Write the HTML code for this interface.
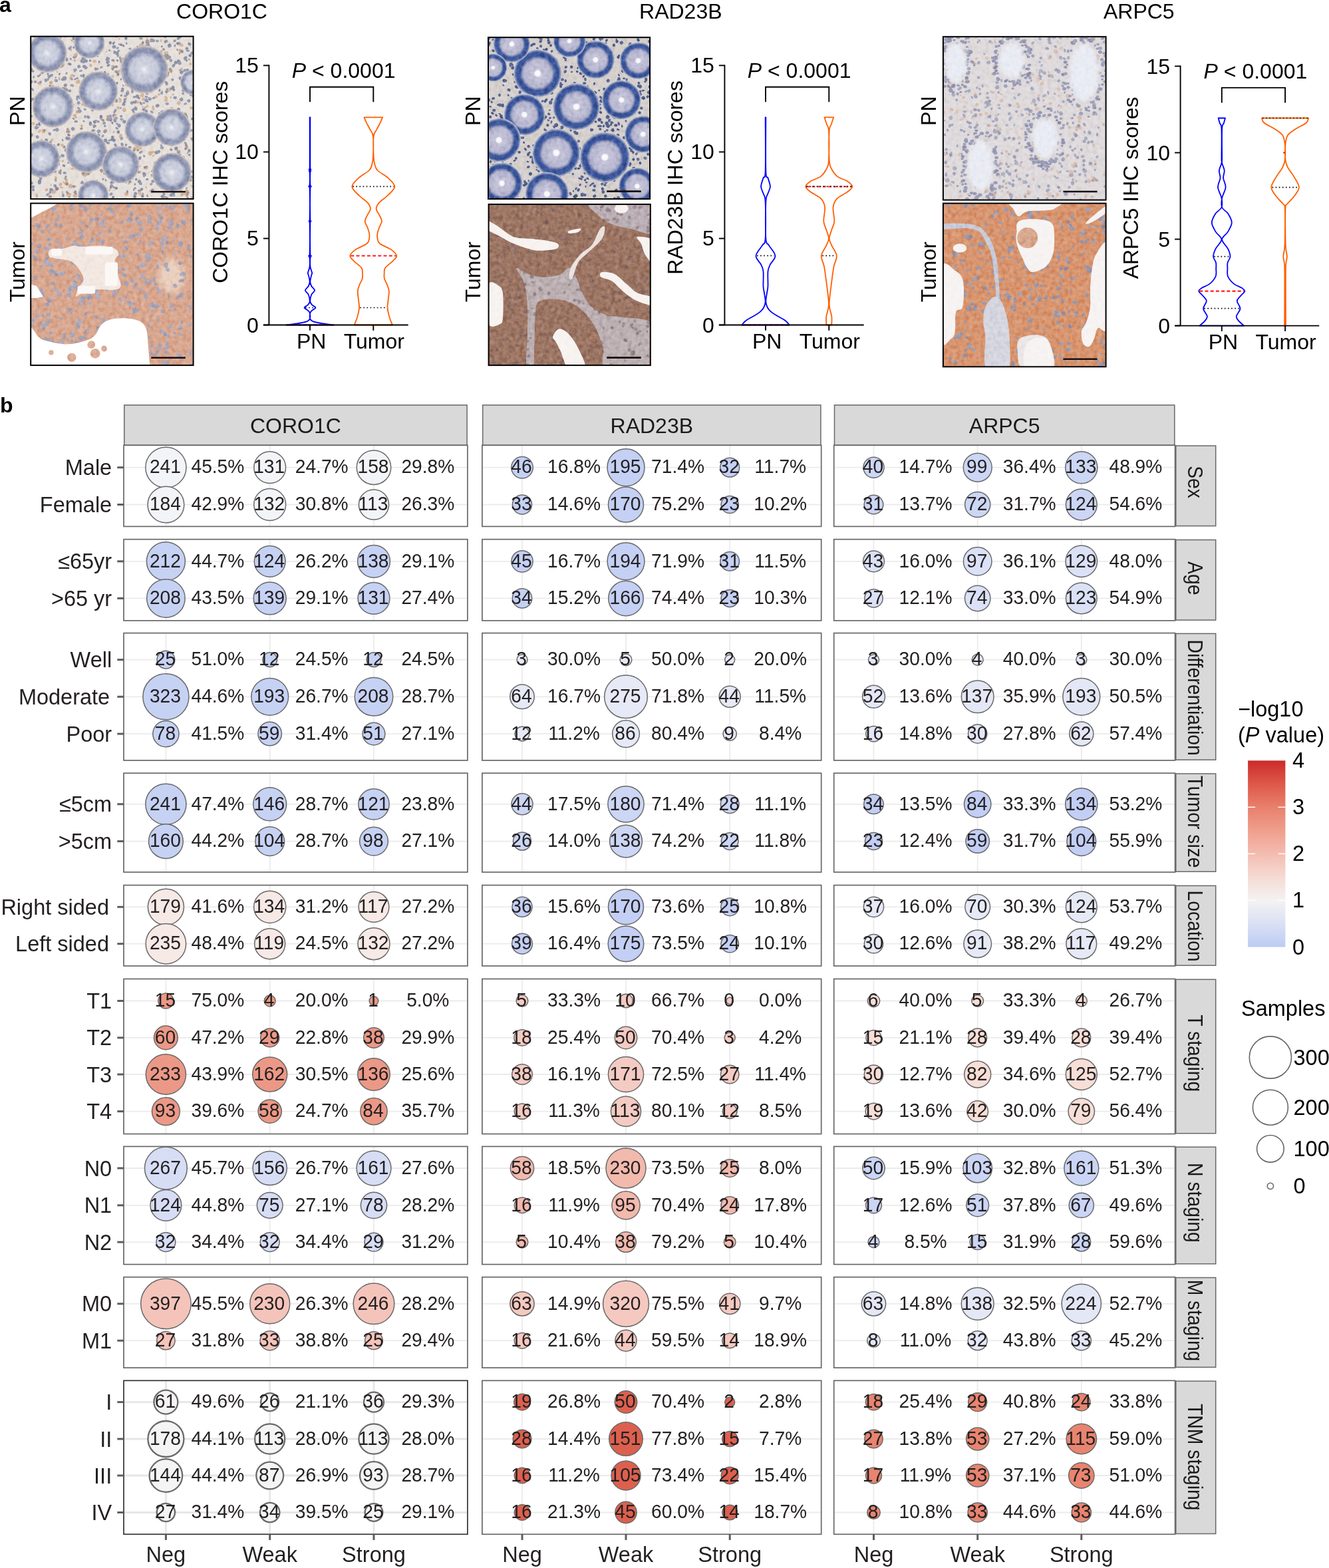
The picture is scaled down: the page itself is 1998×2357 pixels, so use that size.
<!DOCTYPE html>
<html><head><meta charset="utf-8"><title>Figure</title><style>html,body{margin:0;padding:0;background:#fff;}svg{display:block;}text{font-family:'Liberation Sans', Arial, Helvetica, sans-serif;}</style></head><body>
<svg width="1998" height="2357" viewBox="0 0 1998 2357" font-family="'Liberation Sans', Arial, Helvetica, sans-serif">
<text x="-1" y="17.6" font-size="32" font-weight="bold" fill="#000">a</text>
<text x="0" y="620" font-size="32" font-weight="bold" fill="#000">b</text>
<text x="333.5" y="27.8" font-size="32" text-anchor="middle" fill="#000">CORO1C</text>
<text x="1023.3" y="27.8" font-size="32" text-anchor="middle" fill="#000">RAD23B</text>
<text x="1712.3" y="27.8" font-size="32" text-anchor="middle" fill="#000">ARPC5</text>
<text transform="translate(36.7,166.7) rotate(-90)" font-size="32" text-anchor="middle" fill="#000">PN</text>
<text transform="translate(36.7,408.7) rotate(-90)" font-size="32" text-anchor="middle" fill="#000">Tumor</text>
<text transform="translate(721.9,166.7) rotate(-90)" font-size="32" text-anchor="middle" fill="#000">PN</text>
<text transform="translate(721.9,408.7) rotate(-90)" font-size="32" text-anchor="middle" fill="#000">Tumor</text>
<text transform="translate(1407,166.7) rotate(-90)" font-size="32" text-anchor="middle" fill="#000">PN</text>
<text transform="translate(1407,408.7) rotate(-90)" font-size="32" text-anchor="middle" fill="#000">Tumor</text>
<defs><filter id="tex" x="0" y="0" width="100%" height="100%" color-interpolation-filters="sRGB"><feTurbulence type="fractalNoise" baseFrequency="0.16" numOctaves="3" seed="5"/><feColorMatrix type="matrix" values="0.33 0.33 0.33 0 0  0.33 0.33 0.33 0 0  0.33 0.33 0.33 0 0  0 0 0 0 1"/><feComponentTransfer><feFuncR type="linear" slope="3" intercept="-1"/><feFuncG type="linear" slope="3" intercept="-1"/><feFuncB type="linear" slope="3" intercept="-1"/></feComponentTransfer></filter><filter id="blur2"><feGaussianBlur stdDeviation="2.5"/></filter><filter id="blur4"><feGaussianBlur stdDeviation="5"/></filter><radialGradient id="cg1" cx="0.5" cy="0.5" r="0.5"><stop offset="0" stop-color="#f2f3f6"/><stop offset="0.08" stop-color="#e2e4eb"/><stop offset="0.2" stop-color="#d0d3e0"/><stop offset="0.55" stop-color="#c6cad9"/><stop offset="0.66" stop-color="#a7adc4"/><stop offset="0.74" stop-color="#8d95b3"/><stop offset="0.88" stop-color="#8f97b3"/><stop offset="0.95" stop-color="#b8b5bd"/><stop offset="1" stop-color="#d8cbc0"/></radialGradient><radialGradient id="cg2" cx="0.5" cy="0.5" r="0.5"><stop offset="0" stop-color="#ffffff"/><stop offset="0.12" stop-color="#f2f2f7"/><stop offset="0.16" stop-color="#c6c5da"/><stop offset="0.58" stop-color="#b6b6cf"/><stop offset="0.66" stop-color="#7c87b6"/><stop offset="0.72" stop-color="#3f5a9c"/><stop offset="0.87" stop-color="#38539a"/><stop offset="0.94" stop-color="#8190b8"/><stop offset="1" stop-color="#dcd8d5"/></radialGradient></defs>
<clipPath id="clipp1"><rect x="46.2" y="54.7" width="244.4" height="244.4"/></clipPath>
<g clip-path="url(#clipp1)">
<rect x="46.2" y="54.7" width="244.4" height="244.4" fill="#e6e0db"/>
<path d="M125.1 94.1A2.5 1.5 96 1 0 125.6 89.1A2.5 1.5 96 1 0 125.1 94.1ZM136.1 71.1A2.3 1.3 78 1 0 135.1 66.6A2.3 1.3 78 1 0 136.1 71.1ZM65.3 77.7A2.2 1.9 22 1 0 61.2 76.0A2.2 1.9 22 1 0 65.3 77.7ZM101.7 210.8A2.9 2.3 71 1 0 99.8 205.3A2.9 2.3 71 1 0 101.7 210.8ZM287.3 67.3A2.8 1.9 25 1 0 282.3 64.9A2.8 1.9 25 1 0 287.3 67.3ZM74.3 132.7A2.7 1.7 104 1 0 75.7 127.4A2.7 1.7 104 1 0 74.3 132.7ZM204.7 146.2A2.4 1.4 10 1 0 200.0 145.3A2.4 1.4 10 1 0 204.7 146.2ZM96.0 223.1A2.2 1.5 105 1 0 97.1 218.9A2.2 1.5 105 1 0 96.0 223.1ZM158.9 129.8A2.7 2.2 43 1 0 155.0 126.1A2.7 2.2 43 1 0 158.9 129.8ZM188.3 185.3A2.8 2.4 51 1 0 184.8 180.8A2.8 2.4 51 1 0 188.3 185.3ZM287.7 84.6A2.2 1.9 27 1 0 283.8 82.6A2.2 1.9 27 1 0 287.7 84.6ZM165.1 66.8A2.5 2.2 103 1 0 166.3 61.8A2.5 2.2 103 1 0 165.1 66.8ZM259.5 133.9A2.6 2.0 104 1 0 260.8 128.9A2.6 2.0 104 1 0 259.5 133.9ZM156.3 262.5A2.9 2.2 119 1 0 159.1 257.4A2.9 2.2 119 1 0 156.3 262.5ZM58.9 227.5A2.5 2.4 147 1 0 63.2 224.8A2.5 2.4 147 1 0 58.9 227.5ZM116.1 151.5A2.5 1.4 83 1 0 115.5 146.5A2.5 1.4 83 1 0 116.1 151.5ZM88.8 84.0A1.7 1.4 23 1 0 85.7 82.7A1.7 1.4 23 1 0 88.8 84.0ZM107.2 153.0A2.8 1.6 80 1 0 106.3 147.5A2.8 1.6 80 1 0 107.2 153.0ZM182.2 272.7A2.7 2.5 50 1 0 178.7 268.5A2.7 2.5 50 1 0 182.2 272.7ZM150.2 143.7A2.8 2.6 27 1 0 145.2 141.1A2.8 2.6 27 1 0 150.2 143.7ZM88.7 113.2A1.9 1.4 106 1 0 89.8 109.5A1.9 1.4 106 1 0 88.7 113.2ZM110.0 57.8A2.2 1.5 101 1 0 110.9 53.6A2.2 1.5 101 1 0 110.0 57.8ZM277.9 225.4A2.3 1.9 121 1 0 280.4 221.5A2.3 1.9 121 1 0 277.9 225.4ZM57.2 276.1A2.7 2.4 143 1 0 61.6 272.9A2.7 2.4 143 1 0 57.2 276.1ZM143.8 152.5A1.7 1.4 11 1 0 140.4 151.9A1.7 1.4 11 1 0 143.8 152.5ZM64.5 106.0A1.8 1.3 9 1 0 60.9 105.4A1.8 1.3 9 1 0 64.5 106.0ZM48.0 91.8A1.7 1.2 4 1 0 44.5 91.5A1.7 1.2 4 1 0 48.0 91.8ZM260.7 206.4A1.8 1.2 62 1 0 259.1 203.2A1.8 1.2 62 1 0 260.7 206.4ZM135.5 87.5A2.8 2.6 83 1 0 134.9 82.0A2.8 2.6 83 1 0 135.5 87.5ZM165.6 77.0A1.7 1.2 47 1 0 163.3 74.4A1.7 1.2 47 1 0 165.6 77.0ZM248.6 95.8A1.6 1.5 95 1 0 248.9 92.5A1.6 1.5 95 1 0 248.6 95.8ZM80.4 187.6A1.6 1.2 176 1 0 83.7 187.3A1.6 1.2 176 1 0 80.4 187.6ZM258.9 225.8A2.0 1.4 30 1 0 255.5 223.9A2.0 1.4 30 1 0 258.9 225.8ZM236.9 186.6A2.7 1.8 40 1 0 232.8 183.1A2.7 1.8 40 1 0 236.9 186.6ZM242.2 296.9A2.8 2.4 147 1 0 246.9 293.9A2.8 2.4 147 1 0 242.2 296.9ZM229.3 110.3A2.3 1.6 5 1 0 224.7 109.9A2.3 1.6 5 1 0 229.3 110.3ZM51.1 123.3A2.0 1.6 172 1 0 55.0 122.7A2.0 1.6 172 1 0 51.1 123.3ZM156.7 286.4A3.0 2.8 65 1 0 154.3 281.0A3.0 2.8 65 1 0 156.7 286.4ZM99.4 111.9A1.9 1.2 112 1 0 100.8 108.4A1.9 1.2 112 1 0 99.4 111.9ZM264.4 261.4A2.3 1.8 143 1 0 268.1 258.8A2.3 1.8 143 1 0 264.4 261.4ZM64.9 218.2A2.9 2.5 135 1 0 69.0 214.1A2.9 2.5 135 1 0 64.9 218.2ZM160.8 99.9A2.7 1.8 144 1 0 165.2 96.7A2.7 1.8 144 1 0 160.8 99.9ZM282.3 153.1A2.2 2.0 130 1 0 285.1 149.8A2.2 2.0 130 1 0 282.3 153.1ZM86.3 86.8A1.8 1.7 145 1 0 89.2 84.7A1.8 1.7 145 1 0 86.3 86.8ZM83.3 259.3A3.0 2.4 63 1 0 80.6 254.0A3.0 2.4 63 1 0 83.3 259.3ZM179.6 88.2A1.6 1.5 116 1 0 181.0 85.3A1.6 1.5 116 1 0 179.6 88.2ZM173.0 284.0A2.2 2.0 148 1 0 176.8 281.7A2.2 2.0 148 1 0 173.0 284.0ZM97.2 118.2A2.0 1.3 105 1 0 98.3 114.3A2.0 1.3 105 1 0 97.2 118.2ZM110.4 158.7A1.8 1.6 63 1 0 108.8 155.5A1.8 1.6 63 1 0 110.4 158.7ZM155.4 198.0A2.9 2.1 165 1 0 160.9 196.5A2.9 2.1 165 1 0 155.4 198.0ZM169.2 187.0A2.3 1.3 79 1 0 168.4 182.4A2.3 1.3 79 1 0 169.2 187.0ZM91.2 58.4A2.7 1.7 85 1 0 90.7 53.0A2.7 1.7 85 1 0 91.2 58.4ZM223.1 192.7A2.1 1.6 99 1 0 223.8 188.7A2.1 1.6 99 1 0 223.1 192.7ZM239.4 82.5A2.4 1.5 49 1 0 236.3 78.8A2.4 1.5 49 1 0 239.4 82.5ZM232.6 179.4A2.4 2.0 164 1 0 237.2 178.1A2.4 2.0 164 1 0 232.6 179.4ZM153.2 206.3A2.3 1.7 124 1 0 155.8 202.5A2.3 1.7 124 1 0 153.2 206.3ZM155.4 186.9A2.3 2.1 125 1 0 158.1 183.2A2.3 2.1 125 1 0 155.4 186.9ZM258.5 285.3A2.0 1.5 169 1 0 262.4 284.6A2.0 1.5 169 1 0 258.5 285.3ZM253.2 88.6A1.8 1.3 13 1 0 249.8 87.8A1.8 1.3 13 1 0 253.2 88.6ZM102.6 73.4A2.5 2.2 161 1 0 107.4 71.8A2.5 2.2 161 1 0 102.6 73.4ZM81.6 230.6A2.5 1.5 158 1 0 86.3 228.8A2.5 1.5 158 1 0 81.6 230.6ZM282.8 111.3A2.9 2.1 87 1 0 282.6 105.4A2.9 2.1 87 1 0 282.8 111.3ZM288.0 260.0A1.8 1.3 92 1 0 288.2 256.3A1.8 1.3 92 1 0 288.0 260.0ZM131.1 102.7A2.0 1.7 3 1 0 127.0 102.4A2.0 1.7 3 1 0 131.1 102.7ZM181.0 163.9A1.6 1.1 112 1 0 182.2 160.8A1.6 1.1 112 1 0 181.0 163.9ZM168.4 70.7A3.0 2.6 174 1 0 174.4 70.1A3.0 2.6 174 1 0 168.4 70.7ZM72.9 120.8A1.7 1.4 48 1 0 70.7 118.4A1.7 1.4 48 1 0 72.9 120.8ZM79.8 160.0A2.9 2.5 46 1 0 75.9 155.8A2.9 2.5 46 1 0 79.8 160.0ZM85.0 280.0A2.4 2.0 16 1 0 80.4 278.7A2.4 2.0 16 1 0 85.0 280.0ZM58.1 223.3A2.2 1.3 168 1 0 62.4 222.5A2.2 1.3 168 1 0 58.1 223.3ZM202.9 251.0A1.7 1.5 11 1 0 199.6 250.3A1.7 1.5 11 1 0 202.9 251.0ZM255.0 166.1A2.1 1.6 166 1 0 259.1 165.1A2.1 1.6 166 1 0 255.0 166.1ZM113.9 87.1A2.3 1.5 19 1 0 109.5 85.5A2.3 1.5 19 1 0 113.9 87.1ZM86.7 68.6A1.9 1.3 54 1 0 84.6 65.5A1.9 1.3 54 1 0 86.7 68.6ZM232.9 127.6A2.3 1.4 62 1 0 230.8 123.5A2.3 1.4 62 1 0 232.9 127.6ZM50.4 117.5A1.6 1.4 99 1 0 50.9 114.3A1.6 1.4 99 1 0 50.4 117.5ZM90.1 172.3A2.9 1.7 147 1 0 95.0 169.2A2.9 1.7 147 1 0 90.1 172.3ZM151.8 178.4A2.8 2.0 91 1 0 151.9 172.9A2.8 2.0 91 1 0 151.8 178.4ZM213.0 296.5A2.1 1.8 127 1 0 215.5 293.2A2.1 1.8 127 1 0 213.0 296.5ZM203.5 154.4A2.1 1.2 23 1 0 199.7 152.8A2.1 1.2 23 1 0 203.5 154.4ZM65.4 236.3A2.0 1.2 15 1 0 61.6 235.3A2.0 1.2 15 1 0 65.4 236.3ZM253.6 269.2A2.5 1.7 43 1 0 250.0 265.7A2.5 1.7 43 1 0 253.6 269.2ZM119.1 168.3A1.8 1.3 47 1 0 116.6 165.7A1.8 1.3 47 1 0 119.1 168.3ZM278.9 292.7A2.4 1.5 173 1 0 283.6 292.2A2.4 1.5 173 1 0 278.9 292.7ZM122.0 143.4A1.6 1.1 85 1 0 121.7 140.3A1.6 1.1 85 1 0 122.0 143.4ZM170.6 105.5A2.3 1.3 47 1 0 167.5 102.1A2.3 1.3 47 1 0 170.6 105.5ZM69.1 153.7A1.7 0.9 54 1 0 67.2 151.0A1.7 0.9 54 1 0 69.1 153.7ZM102.0 199.9A2.3 2.0 118 1 0 104.2 195.8A2.3 2.0 118 1 0 102.0 199.9ZM219.0 269.7A2.1 1.5 177 1 0 223.3 269.4A2.1 1.5 177 1 0 219.0 269.7ZM80.6 232.9A2.5 1.4 150 1 0 84.9 230.4A2.5 1.4 150 1 0 80.6 232.9ZM266.6 209.1A2.6 2.3 25 1 0 261.8 206.9A2.6 2.3 25 1 0 266.6 209.1ZM171.8 179.4A2.8 2.4 148 1 0 176.6 176.5A2.8 2.4 148 1 0 171.8 179.4ZM190.9 274.6A2.6 2.1 41 1 0 187.0 271.2A2.6 2.1 41 1 0 190.9 274.6ZM52.0 88.3A2.1 1.2 150 1 0 55.6 86.2A2.1 1.2 150 1 0 52.0 88.3ZM182.8 210.6A2.5 2.0 88 1 0 182.6 205.7A2.5 2.0 88 1 0 182.8 210.6ZM46.7 252.3A2.6 2.0 96 1 0 47.3 247.0A2.6 2.0 96 1 0 46.7 252.3ZM209.9 71.5A2.6 1.7 13 1 0 204.8 70.2A2.6 1.7 13 1 0 209.9 71.5ZM109.2 233.1A1.9 1.6 175 1 0 113.0 232.8A1.9 1.6 175 1 0 109.2 233.1ZM165.2 149.7A2.3 1.9 138 1 0 168.6 146.7A2.3 1.9 138 1 0 165.2 149.7ZM198.2 213.0A1.7 1.0 45 1 0 195.8 210.6A1.7 1.0 45 1 0 198.2 213.0ZM230.2 129.6A2.4 1.3 10 1 0 225.5 128.6A2.4 1.3 10 1 0 230.2 129.6ZM113.5 221.0A2.6 2.1 52 1 0 110.3 216.9A2.6 2.1 52 1 0 113.5 221.0ZM170.3 169.0A2.3 1.3 160 1 0 174.6 167.5A2.3 1.3 160 1 0 170.3 169.0ZM95.3 296.6A2.9 1.6 82 1 0 94.5 290.9A2.9 1.6 82 1 0 95.3 296.6ZM248.3 292.7A2.2 1.5 37 1 0 244.8 289.9A2.2 1.5 37 1 0 248.3 292.7ZM277.1 108.6A2.4 1.5 94 1 0 277.5 103.8A2.4 1.5 94 1 0 277.1 108.6ZM276.5 88.1A2.7 2.1 159 1 0 281.6 86.2A2.7 2.1 159 1 0 276.5 88.1ZM220.9 111.5A2.9 2.1 4 1 0 215.2 111.0A2.9 2.1 4 1 0 220.9 111.5ZM49.1 175.8A2.2 1.5 25 1 0 45.1 173.9A2.2 1.5 25 1 0 49.1 175.8ZM128.3 133.9A2.8 1.5 135 1 0 132.2 130.0A2.8 1.5 135 1 0 128.3 133.9ZM248.5 84.9A2.9 2.4 162 1 0 254.0 83.2A2.9 2.4 162 1 0 248.5 84.9ZM116.4 147.7A2.2 2.0 106 1 0 117.6 143.6A2.2 2.0 106 1 0 116.4 147.7ZM136.2 159.9A2.0 1.1 18 1 0 132.5 158.7A2.0 1.1 18 1 0 136.2 159.9ZM252.1 126.7A2.9 1.9 47 1 0 248.2 122.3A2.9 1.9 47 1 0 252.1 126.7ZM169.1 101.9A2.1 2.0 159 1 0 173.1 100.3A2.1 2.0 159 1 0 169.1 101.9ZM244.2 211.7A2.9 2.7 98 1 0 245.1 206.0A2.9 2.7 98 1 0 244.2 211.7ZM220.2 68.6A2.6 1.9 135 1 0 223.9 65.0A2.6 1.9 135 1 0 220.2 68.6ZM205.3 125.3A1.7 1.5 22 1 0 202.2 124.0A1.7 1.5 22 1 0 205.3 125.3ZM159.6 138.8A2.0 1.7 175 1 0 163.6 138.5A2.0 1.7 175 1 0 159.6 138.8ZM110.4 216.9A2.0 1.6 70 1 0 109.1 213.1A2.0 1.6 70 1 0 110.4 216.9ZM87.1 96.1A1.9 1.7 89 1 0 87.1 92.3A1.9 1.7 89 1 0 87.1 96.1ZM102.7 277.5A3.0 2.2 25 1 0 97.3 274.9A3.0 2.2 25 1 0 102.7 277.5ZM94.7 78.3A2.1 1.2 43 1 0 91.7 75.5A2.1 1.2 43 1 0 94.7 78.3ZM110.1 196.7A2.8 2.4 74 1 0 108.6 191.2A2.8 2.4 74 1 0 110.1 196.7ZM149.4 183.2A2.1 1.5 11 1 0 145.3 182.4A2.1 1.5 11 1 0 149.4 183.2ZM113.3 292.8A1.8 1.3 113 1 0 114.7 289.6A1.8 1.3 113 1 0 113.3 292.8ZM257.7 109.4A2.0 1.3 71 1 0 256.5 105.6A2.0 1.3 71 1 0 257.7 109.4ZM157.9 288.0A2.8 2.5 3 1 0 152.4 287.7A2.8 2.5 3 1 0 157.9 288.0ZM53.3 230.9A2.9 2.1 105 1 0 54.9 225.4A2.9 2.1 105 1 0 53.3 230.9ZM43.6 151.7A2.9 2.6 153 1 0 48.8 149.1A2.9 2.6 153 1 0 43.6 151.7ZM283.7 117.2A1.8 1.1 94 1 0 283.9 113.7A1.8 1.1 94 1 0 283.7 117.2ZM211.0 286.6A2.6 2.1 137 1 0 214.8 283.0A2.6 2.1 137 1 0 211.0 286.6ZM159.2 190.6A1.7 1.4 41 1 0 156.7 188.4A1.7 1.4 41 1 0 159.2 190.6ZM272.5 213.9A2.0 1.2 45 1 0 269.6 211.0A2.0 1.2 45 1 0 272.5 213.9ZM201.6 227.2A1.8 1.0 94 1 0 201.8 223.7A1.8 1.0 94 1 0 201.6 227.2ZM190.6 149.6A1.9 1.5 1 1 0 186.7 149.5A1.9 1.5 1 1 0 190.6 149.6ZM117.1 168.3A2.9 2.4 159 1 0 122.6 166.2A2.9 2.4 159 1 0 117.1 168.3ZM161.2 113.6A1.9 1.8 126 1 0 163.5 110.5A1.9 1.8 126 1 0 161.2 113.6ZM121.9 62.3A2.3 1.9 75 1 0 120.8 57.8A2.3 1.9 75 1 0 121.9 62.3ZM112.0 218.1A2.9 1.9 6 1 0 106.2 217.5A2.9 1.9 6 1 0 112.0 218.1ZM126.8 159.0A2.6 1.6 143 1 0 130.9 156.0A2.6 1.6 143 1 0 126.8 159.0ZM227.9 179.7A1.9 1.8 56 1 0 225.8 176.5A1.9 1.8 56 1 0 227.9 179.7ZM247.8 112.6A1.9 1.6 53 1 0 245.5 109.6A1.9 1.6 53 1 0 247.8 112.6ZM279.3 177.7A1.9 1.2 75 1 0 278.4 174.1A1.9 1.2 75 1 0 279.3 177.7ZM210.2 287.7A1.8 1.3 38 1 0 207.4 285.5A1.8 1.3 38 1 0 210.2 287.7ZM284.8 91.0A1.7 1.0 70 1 0 283.7 87.8A1.7 1.0 70 1 0 284.8 91.0ZM263.1 271.2A2.6 2.5 167 1 0 268.3 270.1A2.6 2.5 167 1 0 263.1 271.2ZM129.6 100.3A2.9 2.5 5 1 0 123.8 99.7A2.9 2.5 5 1 0 129.6 100.3ZM210.4 148.3A2.1 1.4 30 1 0 206.8 146.2A2.1 1.4 30 1 0 210.4 148.3ZM48.8 123.9A2.1 2.0 22 1 0 45.0 122.3A2.1 2.0 22 1 0 48.8 123.9ZM280.1 106.5A2.1 1.8 147 1 0 283.6 104.3A2.1 1.8 147 1 0 280.1 106.5ZM149.7 67.3A2.3 1.6 165 1 0 154.1 66.2A2.3 1.6 165 1 0 149.7 67.3ZM94.2 146.5A2.9 1.6 73 1 0 92.6 141.0A2.9 1.6 73 1 0 94.2 146.5ZM246.2 242.4A1.7 0.9 11 1 0 243.0 241.8A1.7 0.9 11 1 0 246.2 242.4ZM272.3 119.8A2.6 2.4 61 1 0 269.8 115.2A2.6 2.4 61 1 0 272.3 119.8ZM111.2 290.7A2.5 1.6 128 1 0 114.3 286.8A2.5 1.6 128 1 0 111.2 290.7ZM122.0 122.5A1.6 1.4 164 1 0 125.1 121.6A1.6 1.4 164 1 0 122.0 122.5ZM201.3 286.9A1.6 1.1 85 1 0 201.0 283.6A1.6 1.1 85 1 0 201.3 286.9ZM280.5 289.9A2.1 1.4 77 1 0 279.6 285.7A2.1 1.4 77 1 0 280.5 289.9ZM165.5 282.9A1.9 1.6 132 1 0 168.1 280.2A1.9 1.6 132 1 0 165.5 282.9ZM248.6 245.6A2.5 1.7 57 1 0 246.0 241.5A2.5 1.7 57 1 0 248.6 245.6ZM133.4 247.1A1.7 1.1 135 1 0 135.9 244.7A1.7 1.1 135 1 0 133.4 247.1ZM107.5 71.9A1.6 1.3 58 1 0 105.8 69.1A1.6 1.3 58 1 0 107.5 71.9ZM288.7 271.4A3.0 2.0 15 1 0 282.9 269.8A3.0 2.0 15 1 0 288.7 271.4ZM71.7 178.3A2.6 1.9 42 1 0 67.8 174.8A2.6 1.9 42 1 0 71.7 178.3ZM145.8 207.5A2.5 2.2 152 1 0 150.3 205.1A2.5 2.2 152 1 0 145.8 207.5ZM208.0 87.0A2.8 1.9 102 1 0 209.2 81.6A2.8 1.9 102 1 0 208.0 87.0ZM138.7 236.4A1.9 1.2 44 1 0 136.0 233.8A1.9 1.2 44 1 0 138.7 236.4ZM84.4 273.1A2.4 1.6 71 1 0 82.9 268.5A2.4 1.6 71 1 0 84.4 273.1ZM287.9 180.4A1.9 1.7 117 1 0 289.6 177.0A1.9 1.7 117 1 0 287.9 180.4ZM286.4 80.8A2.3 2.0 151 1 0 290.4 78.6A2.3 2.0 151 1 0 286.4 80.8ZM271.3 65.7A2.0 1.2 34 1 0 268.0 63.4A2.0 1.2 34 1 0 271.3 65.7ZM281.3 198.4A2.9 2.0 155 1 0 286.6 196.0A2.9 2.0 155 1 0 281.3 198.4ZM158.5 119.1A2.7 2.5 19 1 0 153.4 117.4A2.7 2.5 19 1 0 158.5 119.1ZM193.6 207.0A1.9 1.3 25 1 0 190.2 205.4A1.9 1.3 25 1 0 193.6 207.0ZM98.0 118.5A2.4 2.0 36 1 0 94.1 115.5A2.4 2.0 36 1 0 98.0 118.5ZM50.4 136.8A2.5 1.6 56 1 0 47.6 132.6A2.5 1.6 56 1 0 50.4 136.8ZM98.2 249.8A2.4 1.4 18 1 0 93.7 248.3A2.4 1.4 18 1 0 98.2 249.8ZM145.0 190.4A2.5 1.5 29 1 0 140.6 187.9A2.5 1.5 29 1 0 145.0 190.4ZM214.2 155.1A2.0 1.3 171 1 0 218.1 154.6A2.0 1.3 171 1 0 214.2 155.1ZM120.6 194.0A2.1 1.5 155 1 0 124.5 192.3A2.1 1.5 155 1 0 120.6 194.0ZM291.3 144.7A1.9 1.6 36 1 0 288.3 142.5A1.9 1.6 36 1 0 291.3 144.7ZM48.3 277.2A2.2 1.9 73 1 0 47.0 273.0A2.2 1.9 73 1 0 48.3 277.2ZM261.7 169.1A1.8 1.0 99 1 0 262.3 165.5A1.8 1.0 99 1 0 261.7 169.1ZM203.5 278.6A1.7 1.4 66 1 0 202.1 275.5A1.7 1.4 66 1 0 203.5 278.6ZM167.5 90.8A2.0 1.5 166 1 0 171.4 89.9A2.0 1.5 166 1 0 167.5 90.8ZM75.0 176.2A2.7 2.6 35 1 0 70.6 173.0A2.7 2.6 35 1 0 75.0 176.2ZM80.1 285.7A3.0 2.2 9 1 0 74.2 284.7A3.0 2.2 9 1 0 80.1 285.7ZM270.1 151.0A2.9 2.3 148 1 0 275.0 148.0A2.9 2.3 148 1 0 270.1 151.0ZM83.7 247.6A1.9 1.4 152 1 0 87.1 245.9A1.9 1.4 152 1 0 83.7 247.6ZM248.7 101.3A1.9 1.4 93 1 0 249.0 97.5A1.9 1.4 93 1 0 248.7 101.3ZM138.1 85.4A1.9 1.6 161 1 0 141.8 84.2A1.9 1.6 161 1 0 138.1 85.4ZM53.9 193.4A2.7 1.5 150 1 0 58.6 190.8A2.7 1.5 150 1 0 53.9 193.4ZM76.3 203.2A2.4 1.9 55 1 0 73.6 199.3A2.4 1.9 55 1 0 76.3 203.2ZM149.2 199.3A2.2 1.8 80 1 0 148.5 194.9A2.2 1.8 80 1 0 149.2 199.3ZM155.2 62.1A2.5 1.8 42 1 0 151.5 58.8A2.5 1.8 42 1 0 155.2 62.1ZM233.0 247.6A2.2 1.4 85 1 0 232.6 243.1A2.2 1.4 85 1 0 233.0 247.6ZM72.8 88.3A2.2 1.3 79 1 0 72.0 83.9A2.2 1.3 79 1 0 72.8 88.3ZM169.2 66.5A2.5 1.5 132 1 0 172.6 62.8A2.5 1.5 132 1 0 169.2 66.5ZM236.9 181.3A1.7 1.3 68 1 0 235.6 178.2A1.7 1.3 68 1 0 236.9 181.3ZM276.7 90.1A2.8 2.7 131 1 0 280.5 85.9A2.8 2.7 131 1 0 276.7 90.1ZM242.4 102.4A3.0 2.2 172 1 0 248.3 101.6A3.0 2.2 172 1 0 242.4 102.4ZM272.7 95.6A2.7 2.5 11 1 0 267.4 94.5A2.7 2.5 11 1 0 272.7 95.6ZM133.1 240.9A1.8 1.7 49 1 0 130.8 238.1A1.8 1.7 49 1 0 133.1 240.9ZM247.4 91.2A2.3 2.1 37 1 0 243.7 88.4A2.3 2.1 37 1 0 247.4 91.2ZM112.2 179.5A2.0 1.2 32 1 0 108.7 177.3A2.0 1.2 32 1 0 112.2 179.5ZM87.8 284.8A2.6 2.3 30 1 0 83.4 282.3A2.6 2.3 30 1 0 87.8 284.8ZM239.0 84.9A2.3 1.9 64 1 0 237.0 80.7A2.3 1.9 64 1 0 239.0 84.9ZM261.8 191.2A2.4 2.2 18 1 0 257.3 189.6A2.4 2.2 18 1 0 261.8 191.2ZM290.3 210.2A2.2 1.9 47 1 0 287.4 207.0A2.2 1.9 47 1 0 290.3 210.2ZM288.7 197.9A2.1 1.8 79 1 0 287.9 193.7A2.1 1.8 79 1 0 288.7 197.9ZM90.6 237.6A1.7 1.5 45 1 0 88.2 235.2A1.7 1.5 45 1 0 90.6 237.6ZM203.8 297.2A2.4 2.0 56 1 0 201.1 293.2A2.4 2.0 56 1 0 203.8 297.2ZM47.0 64.7A1.8 1.4 77 1 0 46.3 61.2A1.8 1.4 77 1 0 47.0 64.7ZM170.7 275.2A1.8 1.1 117 1 0 172.3 272.0A1.8 1.1 117 1 0 170.7 275.2ZM52.6 57.2A2.1 1.2 64 1 0 50.7 53.4A2.1 1.2 64 1 0 52.6 57.2ZM100.1 199.6A2.4 1.5 112 1 0 101.9 195.1A2.4 1.5 112 1 0 100.1 199.6ZM164.9 88.9A2.9 1.9 26 1 0 159.7 86.3A2.9 1.9 26 1 0 164.9 88.9ZM70.5 213.4A2.8 2.4 72 1 0 68.8 208.0A2.8 2.4 72 1 0 70.5 213.4ZM111.9 59.7A2.5 1.9 63 1 0 109.6 55.3A2.5 1.9 63 1 0 111.9 59.7ZM206.1 165.2A2.9 2.5 44 1 0 201.9 161.1A2.9 2.5 44 1 0 206.1 165.2ZM268.7 67.0A2.3 1.7 42 1 0 265.3 63.9A2.3 1.7 42 1 0 268.7 67.0ZM58.9 245.4A1.6 1.2 169 1 0 62.1 244.8A1.6 1.2 169 1 0 58.9 245.4ZM79.9 105.7A2.5 1.8 115 1 0 82.0 101.2A2.5 1.8 115 1 0 79.9 105.7ZM247.0 97.7A2.0 1.4 8 1 0 243.0 97.1A2.0 1.4 8 1 0 247.0 97.7ZM261.3 247.3A2.6 1.4 151 1 0 265.9 244.8A2.6 1.4 151 1 0 261.3 247.3ZM230.3 170.1A2.6 1.9 40 1 0 226.3 166.7A2.6 1.9 40 1 0 230.3 170.1ZM70.8 112.6A1.7 1.1 134 1 0 73.1 110.3A1.7 1.1 134 1 0 70.8 112.6ZM215.6 263.9A2.6 1.7 99 1 0 216.5 258.7A2.6 1.7 99 1 0 215.6 263.9ZM151.8 249.5A2.3 1.5 115 1 0 153.8 245.3A2.3 1.5 115 1 0 151.8 249.5ZM284.0 109.8A2.8 1.6 46 1 0 280.1 105.7A2.8 1.6 46 1 0 284.0 109.8ZM105.4 239.0A2.9 2.5 58 1 0 102.4 234.0A2.9 2.5 58 1 0 105.4 239.0ZM260.5 136.8A1.9 1.8 113 1 0 262.1 133.2A1.9 1.8 113 1 0 260.5 136.8ZM212.9 218.7A3.0 2.2 151 1 0 218.1 215.9A3.0 2.2 151 1 0 212.9 218.7ZM216.2 266.4A2.2 1.9 102 1 0 217.2 262.1A2.2 1.9 102 1 0 216.2 266.4ZM119.0 107.2A2.5 1.4 163 1 0 123.8 105.8A2.5 1.4 163 1 0 119.0 107.2ZM82.4 62.8A1.7 1.6 62 1 0 80.7 59.7A1.7 1.6 62 1 0 82.4 62.8ZM80.2 63.2A1.7 1.4 114 1 0 81.5 60.2A1.7 1.4 114 1 0 80.2 63.2ZM217.3 236.3A1.7 1.3 65 1 0 215.8 233.2A1.7 1.3 65 1 0 217.3 236.3ZM243.4 256.2A2.8 1.6 156 1 0 248.6 253.9A2.8 1.6 156 1 0 243.4 256.2ZM271.3 286.1A1.7 1.1 20 1 0 268.0 284.9A1.7 1.1 20 1 0 271.3 286.1ZM52.3 263.3A2.7 2.2 148 1 0 56.9 260.5A2.7 2.2 148 1 0 52.3 263.3ZM199.3 126.1A1.7 1.0 136 1 0 201.8 123.7A1.7 1.0 136 1 0 199.3 126.1ZM97.8 134.3A2.2 1.2 46 1 0 94.8 131.1A2.2 1.2 46 1 0 97.8 134.3ZM113.2 229.9A2.1 1.4 173 1 0 117.4 229.4A2.1 1.4 173 1 0 113.2 229.9ZM170.0 265.2A2.5 1.4 74 1 0 168.6 260.4A2.5 1.4 74 1 0 170.0 265.2ZM152.6 245.7A2.1 1.7 96 1 0 153.1 241.6A2.1 1.7 96 1 0 152.6 245.7ZM100.6 266.3A1.7 1.5 30 1 0 97.6 264.6A1.7 1.5 30 1 0 100.6 266.3ZM49.2 104.1A2.7 2.5 0 1 0 43.9 104.0A2.7 2.5 0 1 0 49.2 104.1ZM166.2 177.5A2.7 1.7 89 1 0 166.1 172.1A2.7 1.7 89 1 0 166.2 177.5ZM132.3 259.5A2.0 1.8 51 1 0 129.8 256.5A2.0 1.8 51 1 0 132.3 259.5ZM97.7 227.7A2.3 1.4 114 1 0 99.6 223.6A2.3 1.4 114 1 0 97.7 227.7ZM65.0 249.6A2.6 2.2 113 1 0 67.0 244.9A2.6 2.2 113 1 0 65.0 249.6ZM135.2 153.3A2.2 2.0 15 1 0 131.0 152.2A2.2 2.0 15 1 0 135.2 153.3ZM261.5 61.4A1.9 1.2 162 1 0 265.1 60.3A1.9 1.2 162 1 0 261.5 61.4ZM169.0 150.2A2.8 1.8 82 1 0 168.3 144.6A2.8 1.8 82 1 0 169.0 150.2ZM177.3 241.5A2.7 2.1 62 1 0 174.9 236.7A2.7 2.1 62 1 0 177.3 241.5ZM124.1 94.7A2.8 2.3 133 1 0 128.0 90.6A2.8 2.3 133 1 0 124.1 94.7ZM90.1 163.0A2.7 2.1 22 1 0 85.2 160.9A2.7 2.1 22 1 0 90.1 163.0ZM160.2 272.6A1.9 1.2 54 1 0 158.0 269.5A1.9 1.2 54 1 0 160.2 272.6ZM219.3 262.2A1.8 1.1 44 1 0 216.8 259.6A1.8 1.1 44 1 0 219.3 262.2ZM127.5 183.3A1.8 1.2 34 1 0 124.5 181.3A1.8 1.2 34 1 0 127.5 183.3ZM286.2 233.3A1.7 1.6 18 1 0 282.9 232.3A1.7 1.6 18 1 0 286.2 233.3ZM140.7 297.8A2.7 2.3 78 1 0 139.6 292.5A2.7 2.3 78 1 0 140.7 297.8ZM94.8 212.3A1.7 1.1 69 1 0 93.5 209.0A1.7 1.1 69 1 0 94.8 212.3ZM54.5 154.9A2.7 2.2 90 1 0 54.5 149.5A2.7 2.2 90 1 0 54.5 154.9ZM201.3 169.6A1.8 1.4 72 1 0 200.2 166.2A1.8 1.4 72 1 0 201.3 169.6ZM225.7 278.2A2.2 1.7 134 1 0 228.8 275.1A2.2 1.7 134 1 0 225.7 278.2ZM147.1 112.3A2.6 2.4 139 1 0 151.1 108.9A2.6 2.4 139 1 0 147.1 112.3ZM217.7 265.6A2.6 2.1 81 1 0 216.9 260.5A2.6 2.1 81 1 0 217.7 265.6ZM121.4 209.3A1.7 1.2 140 1 0 124.0 207.2A1.7 1.2 140 1 0 121.4 209.3ZM220.8 210.5A2.0 1.4 81 1 0 220.2 206.6A2.0 1.4 81 1 0 220.8 210.5ZM200.2 156.1A2.5 2.3 32 1 0 196.0 153.4A2.5 2.3 32 1 0 200.2 156.1ZM204.0 245.1A2.1 1.6 175 1 0 208.3 244.7A2.1 1.6 175 1 0 204.0 245.1ZM53.7 187.8A1.8 1.6 169 1 0 57.3 187.2A1.8 1.6 169 1 0 53.7 187.8ZM171.6 81.3A2.4 1.8 129 1 0 174.6 77.5A2.4 1.8 129 1 0 171.6 81.3ZM172.1 213.6A2.8 2.1 73 1 0 170.6 208.3A2.8 2.1 73 1 0 172.1 213.6ZM276.0 107.8A2.6 1.8 137 1 0 279.8 104.3A2.6 1.8 137 1 0 276.0 107.8ZM77.5 296.9A2.1 1.2 49 1 0 74.7 293.7A2.1 1.2 49 1 0 77.5 296.9ZM142.6 59.7A2.2 1.6 125 1 0 145.2 56.2A2.2 1.6 125 1 0 142.6 59.7ZM130.4 119.9A1.9 1.6 169 1 0 134.1 119.1A1.9 1.6 169 1 0 130.4 119.9ZM177.2 109.9A2.7 1.9 38 1 0 172.9 106.5A2.7 1.9 38 1 0 177.2 109.9ZM78.1 247.2A2.7 2.2 84 1 0 77.5 241.8A2.7 2.2 84 1 0 78.1 247.2ZM182.3 112.6A2.9 2.0 114 1 0 184.8 107.3A2.9 2.0 114 1 0 182.3 112.6ZM246.0 256.4A2.3 1.5 98 1 0 246.6 251.9A2.3 1.5 98 1 0 246.0 256.4ZM78.2 260.0A2.1 1.9 48 1 0 75.4 256.9A2.1 1.9 48 1 0 78.2 260.0ZM140.3 116.7A2.2 1.4 0 1 0 135.9 116.6A2.2 1.4 0 1 0 140.3 116.7ZM222.7 125.4A1.9 1.3 86 1 0 222.5 121.5A1.9 1.3 86 1 0 222.7 125.4ZM148.5 211.0A2.5 1.8 167 1 0 153.4 209.9A2.5 1.8 167 1 0 148.5 211.0ZM252.9 70.4A2.8 2.5 141 1 0 257.2 66.9A2.8 2.5 141 1 0 252.9 70.4ZM83.0 258.0A2.5 1.4 2 1 0 78.0 257.8A2.5 1.4 2 1 0 83.0 258.0ZM280.6 215.9A2.0 1.2 25 1 0 277.1 214.2A2.0 1.2 25 1 0 280.6 215.9ZM101.3 245.0A2.1 1.3 162 1 0 105.3 243.8A2.1 1.3 162 1 0 101.3 245.0ZM237.5 97.5A2.8 2.3 140 1 0 241.9 93.9A2.8 2.3 140 1 0 237.5 97.5ZM211.8 274.7A2.7 2.4 35 1 0 207.4 271.6A2.7 2.4 35 1 0 211.8 274.7ZM213.1 185.4A2.6 1.9 158 1 0 218.0 183.5A2.6 1.9 158 1 0 213.1 185.4ZM181.9 121.3A1.9 1.2 88 1 0 181.8 117.4A1.9 1.2 88 1 0 181.9 121.3ZM60.5 170.7A1.8 1.3 89 1 0 60.5 167.1A1.8 1.3 89 1 0 60.5 170.7ZM178.2 267.2A1.6 1.4 84 1 0 177.9 264.0A1.6 1.4 84 1 0 178.2 267.2ZM184.4 220.0A2.8 1.9 75 1 0 183.0 214.6A2.8 1.9 75 1 0 184.4 220.0ZM283.5 73.3A2.5 2.0 5 1 0 278.5 72.9A2.5 2.0 5 1 0 283.5 73.3ZM192.3 221.7A2.9 2.0 176 1 0 198.1 221.4A2.9 2.0 176 1 0 192.3 221.7ZM169.2 175.4A2.9 1.6 129 1 0 172.8 170.9A2.9 1.6 129 1 0 169.2 175.4ZM199.2 140.3A2.8 2.0 85 1 0 198.8 134.7A2.8 2.0 85 1 0 199.2 140.3ZM175.1 244.9A1.9 1.4 76 1 0 174.2 241.2A1.9 1.4 76 1 0 175.1 244.9ZM182.2 258.7A2.0 1.8 72 1 0 181.0 254.8A2.0 1.8 72 1 0 182.2 258.7ZM168.2 123.1A2.3 2.2 117 1 0 170.4 119.1A2.3 2.2 117 1 0 168.2 123.1ZM239.2 137.5A2.0 1.4 105 1 0 240.3 133.6A2.0 1.4 105 1 0 239.2 137.5ZM199.8 246.9A1.7 1.4 159 1 0 202.9 245.8A1.7 1.4 159 1 0 199.8 246.9ZM181.2 68.0A2.0 1.1 34 1 0 177.8 65.7A2.0 1.1 34 1 0 181.2 68.0ZM269.0 204.2A2.5 2.2 163 1 0 273.8 202.8A2.5 2.2 163 1 0 269.0 204.2ZM195.0 207.8A2.5 2.1 107 1 0 196.4 203.1A2.5 2.1 107 1 0 195.0 207.8ZM210.8 108.4A2.5 1.9 137 1 0 214.5 104.9A2.5 1.9 137 1 0 210.8 108.4ZM69.4 99.4A1.7 1.4 164 1 0 72.6 98.6A1.7 1.4 164 1 0 69.4 99.4ZM205.9 147.6A2.8 2.4 101 1 0 207.0 142.2A2.8 2.4 101 1 0 205.9 147.6ZM109.7 130.7A2.2 1.5 77 1 0 108.8 126.4A2.2 1.5 77 1 0 109.7 130.7ZM204.7 283.1A1.7 1.3 7 1 0 201.4 282.7A1.7 1.3 7 1 0 204.7 283.1ZM75.6 255.1A2.4 2.2 80 1 0 74.8 250.4A2.4 2.2 80 1 0 75.6 255.1ZM47.2 149.5A2.4 2.2 176 1 0 52.1 149.2A2.4 2.2 176 1 0 47.2 149.5ZM163.8 156.6A1.7 1.4 38 1 0 161.0 154.4A1.7 1.4 38 1 0 163.8 156.6ZM84.8 59.1A1.6 1.3 21 1 0 81.8 57.9A1.6 1.3 21 1 0 84.8 59.1ZM285.2 76.4A2.8 1.7 3 1 0 279.6 76.1A2.8 1.7 3 1 0 285.2 76.4ZM224.6 114.3A2.6 1.6 9 1 0 219.4 113.5A2.6 1.6 9 1 0 224.6 114.3ZM238.1 229.8A2.8 2.4 15 1 0 232.7 228.4A2.8 2.4 15 1 0 238.1 229.8ZM201.4 229.6A2.2 2.1 45 1 0 198.3 226.4A2.2 2.1 45 1 0 201.4 229.6ZM281.1 231.4A1.6 0.9 117 1 0 282.6 228.5A1.6 0.9 117 1 0 281.1 231.4ZM247.7 75.2A2.0 1.7 29 1 0 244.2 73.2A2.0 1.7 29 1 0 247.7 75.2ZM256.2 175.2A1.7 1.2 103 1 0 257.0 171.9A1.7 1.2 103 1 0 256.2 175.2ZM154.2 221.8A1.8 1.6 65 1 0 152.7 218.5A1.8 1.6 65 1 0 154.2 221.8ZM202.1 210.0A2.2 1.5 141 1 0 205.5 207.2A2.2 1.5 141 1 0 202.1 210.0ZM279.5 246.9A2.4 1.6 10 1 0 274.8 246.0A2.4 1.6 10 1 0 279.5 246.9ZM283.3 229.2A2.8 1.9 109 1 0 285.1 224.0A2.8 1.9 109 1 0 283.3 229.2ZM285.6 260.2A2.4 1.6 77 1 0 284.5 255.5A2.4 1.6 77 1 0 285.6 260.2ZM260.8 147.6A2.6 2.0 161 1 0 265.7 145.9A2.6 2.0 161 1 0 260.8 147.6ZM243.9 125.5A1.6 1.0 76 1 0 243.2 122.4A1.6 1.0 76 1 0 243.9 125.5ZM187.1 255.5A2.8 1.6 149 1 0 192.0 252.7A2.8 1.6 149 1 0 187.1 255.5ZM242.4 267.7A2.4 1.6 153 1 0 246.7 265.6A2.4 1.6 153 1 0 242.4 267.7ZM246.2 222.8A2.9 2.0 15 1 0 240.7 221.3A2.9 2.0 15 1 0 246.2 222.8ZM179.7 250.0A1.9 1.6 167 1 0 183.4 249.2A1.9 1.6 167 1 0 179.7 250.0ZM105.4 204.6A2.5 1.9 37 1 0 101.4 201.5A2.5 1.9 37 1 0 105.4 204.6ZM111.1 239.0A2.7 2.0 15 1 0 105.9 237.5A2.7 2.0 15 1 0 111.1 239.0ZM241.5 244.0A1.9 1.5 161 1 0 245.2 242.8A1.9 1.5 161 1 0 241.5 244.0ZM264.4 183.5A2.3 1.8 34 1 0 260.6 181.0A2.3 1.8 34 1 0 264.4 183.5ZM92.7 101.4A2.6 1.8 101 1 0 93.7 96.3A2.6 1.8 101 1 0 92.7 101.4ZM142.8 181.1A1.8 1.0 179 1 0 146.4 181.1A1.8 1.0 179 1 0 142.8 181.1ZM139.8 81.8A2.5 2.2 28 1 0 135.4 79.5A2.5 2.2 28 1 0 139.8 81.8ZM194.5 139.2A2.3 1.3 6 1 0 189.8 138.8A2.3 1.3 6 1 0 194.5 139.2ZM289.8 268.0A2.3 1.8 47 1 0 286.7 264.7A2.3 1.8 47 1 0 289.8 268.0ZM234.2 160.4A2.9 2.5 147 1 0 239.1 157.2A2.9 2.5 147 1 0 234.2 160.4ZM283.1 117.7A1.7 1.0 32 1 0 280.3 115.9A1.7 1.0 32 1 0 283.1 117.7ZM67.0 69.5A2.4 2.1 82 1 0 66.3 64.8A2.4 2.1 82 1 0 67.0 69.5ZM278.2 278.7A1.7 1.3 71 1 0 277.2 275.5A1.7 1.3 71 1 0 278.2 278.7ZM74.7 290.9A2.0 1.5 115 1 0 76.3 287.4A2.0 1.5 115 1 0 74.7 290.9ZM281.8 219.4A2.2 1.6 28 1 0 278.1 217.3A2.2 1.6 28 1 0 281.8 219.4ZM283.6 298.5A1.9 1.1 46 1 0 280.9 295.7A1.9 1.1 46 1 0 283.6 298.5ZM135.1 275.8A2.9 2.5 8 1 0 129.4 274.9A2.9 2.5 8 1 0 135.1 275.8ZM240.9 228.6A2.5 2.4 10 1 0 235.9 227.7A2.5 2.4 10 1 0 240.9 228.6ZM83.3 241.6A2.9 2.4 53 1 0 79.9 236.9A2.9 2.4 53 1 0 83.3 241.6ZM192.0 241.2A1.7 1.2 46 1 0 189.5 238.7A1.7 1.2 46 1 0 192.0 241.2ZM78.2 173.1A1.8 1.2 25 1 0 74.9 171.5A1.8 1.2 25 1 0 78.2 173.1ZM214.4 58.1A2.6 1.6 6 1 0 209.2 57.5A2.6 1.6 6 1 0 214.4 58.1ZM270.2 109.6A2.9 2.6 159 1 0 275.7 107.6A2.9 2.6 159 1 0 270.2 109.6ZM78.8 164.8A1.7 1.6 151 1 0 81.9 163.2A1.7 1.6 151 1 0 78.8 164.8ZM199.9 167.3A2.1 1.8 85 1 0 199.6 163.2A2.1 1.8 85 1 0 199.9 167.3ZM198.5 91.1A1.9 1.1 128 1 0 200.9 88.1A1.9 1.1 128 1 0 198.5 91.1ZM182.2 92.8A2.8 1.9 74 1 0 180.7 87.4A2.8 1.9 74 1 0 182.2 92.8ZM86.6 122.4A2.8 1.9 30 1 0 81.9 119.6A2.8 1.9 30 1 0 86.6 122.4ZM163.3 132.6A2.9 1.7 176 1 0 169.1 132.2A2.9 1.7 176 1 0 163.3 132.6ZM60.3 276.0A2.5 1.6 85 1 0 59.9 270.9A2.5 1.6 85 1 0 60.3 276.0ZM114.3 117.8A1.9 1.3 178 1 0 118.0 117.7A1.9 1.3 178 1 0 114.3 117.8ZM288.5 281.3A1.7 1.2 161 1 0 291.8 280.2A1.7 1.2 161 1 0 288.5 281.3ZM62.3 232.4A2.0 1.9 2 1 0 58.2 232.1A2.0 1.9 2 1 0 62.3 232.4ZM241.9 138.9A1.8 1.0 149 1 0 245.0 137.1A1.8 1.0 149 1 0 241.9 138.9ZM176.6 101.5A2.2 2.0 39 1 0 173.2 98.7A2.2 2.0 39 1 0 176.6 101.5ZM184.7 89.9A1.9 1.6 128 1 0 187.0 87.0A1.9 1.6 128 1 0 184.7 89.9ZM94.3 75.8A1.7 1.4 89 1 0 94.3 72.4A1.7 1.4 89 1 0 94.3 75.8ZM111.1 106.4A2.5 2.0 146 1 0 115.2 103.7A2.5 2.0 146 1 0 111.1 106.4ZM189.2 105.8A1.7 1.4 73 1 0 188.2 102.5A1.7 1.4 73 1 0 189.2 105.8ZM220.2 69.5A2.7 1.9 151 1 0 225.0 66.9A2.7 1.9 151 1 0 220.2 69.5ZM257.6 176.8A1.6 1.5 85 1 0 257.4 173.6A1.6 1.5 85 1 0 257.6 176.8ZM260.1 121.5A1.9 1.6 66 1 0 258.6 118.1A1.9 1.6 66 1 0 260.1 121.5ZM86.0 147.8A2.4 1.3 93 1 0 86.3 143.0A2.4 1.3 93 1 0 86.0 147.8ZM153.7 181.7A1.8 1.5 146 1 0 156.6 179.8A1.8 1.5 146 1 0 153.7 181.7ZM255.9 135.0A2.6 1.8 135 1 0 259.6 131.3A2.6 1.8 135 1 0 255.9 135.0ZM61.0 270.9A2.9 2.2 92 1 0 61.3 265.1A2.9 2.2 92 1 0 61.0 270.9ZM177.1 187.1A1.6 1.5 40 1 0 174.6 185.0A1.6 1.5 40 1 0 177.1 187.1ZM92.7 80.0A2.0 1.7 5 1 0 88.8 79.6A2.0 1.7 5 1 0 92.7 80.0ZM69.2 227.3A1.9 1.0 107 1 0 70.4 223.7A1.9 1.0 107 1 0 69.2 227.3ZM184.7 183.5A2.6 1.5 156 1 0 189.5 181.5A2.6 1.5 156 1 0 184.7 183.5ZM221.5 67.5A1.8 1.3 90 1 0 221.5 64.0A1.8 1.3 90 1 0 221.5 67.5ZM113.9 86.6A2.2 1.3 106 1 0 115.2 82.4A2.2 1.3 106 1 0 113.9 86.6ZM258.7 91.9A2.4 2.0 29 1 0 254.6 89.5A2.4 2.0 29 1 0 258.7 91.9ZM246.2 284.9A2.1 1.5 151 1 0 250.0 282.8A2.1 1.5 151 1 0 246.2 284.9ZM176.1 153.9A2.9 2.5 60 1 0 173.2 148.8A2.9 2.5 60 1 0 176.1 153.9ZM103.1 137.9A2.2 2.1 144 1 0 106.8 135.3A2.2 2.1 144 1 0 103.1 137.9ZM269.1 256.7A2.8 1.6 93 1 0 269.4 251.1A2.8 1.6 93 1 0 269.1 256.7ZM279.5 284.8A1.9 1.4 113 1 0 281.1 281.3A1.9 1.4 113 1 0 279.5 284.8ZM135.2 186.1A1.7 1.2 90 1 0 135.3 182.7A1.7 1.2 90 1 0 135.2 186.1ZM48.4 89.4A3.0 2.5 168 1 0 54.2 88.2A3.0 2.5 168 1 0 48.4 89.4ZM203.8 252.8A2.8 2.6 6 1 0 198.1 252.2A2.8 2.6 6 1 0 203.8 252.8ZM202.7 122.2A2.5 1.7 97 1 0 203.3 117.1A2.5 1.7 97 1 0 202.7 122.2ZM272.5 208.4A2.0 1.5 78 1 0 271.7 204.6A2.0 1.5 78 1 0 272.5 208.4ZM280.5 125.7A2.0 1.6 21 1 0 276.7 124.2A2.0 1.6 21 1 0 280.5 125.7ZM191.7 290.7A2.3 1.5 83 1 0 191.2 286.1A2.3 1.5 83 1 0 191.7 290.7ZM177.7 92.4A1.8 1.1 52 1 0 175.6 89.6A1.8 1.1 52 1 0 177.7 92.4ZM145.3 127.1A1.9 1.1 98 1 0 145.8 123.2A1.9 1.1 98 1 0 145.3 127.1ZM253.4 205.2A2.4 1.9 36 1 0 249.5 202.4A2.4 1.9 36 1 0 253.4 205.2ZM220.0 169.7A2.4 1.9 84 1 0 219.6 165.0A2.4 1.9 84 1 0 220.0 169.7ZM122.8 115.7A1.9 1.4 68 1 0 121.4 112.1A1.9 1.4 68 1 0 122.8 115.7ZM190.9 59.0A2.1 1.9 42 1 0 187.8 56.2A2.1 1.9 42 1 0 190.9 59.0ZM183.4 176.4A2.0 1.9 53 1 0 181.0 173.2A2.0 1.9 53 1 0 183.4 176.4ZM235.2 95.1A1.7 1.5 79 1 0 234.6 91.8A1.7 1.5 79 1 0 235.2 95.1ZM63.4 150.2A2.2 1.9 19 1 0 59.3 148.8A2.2 1.9 19 1 0 63.4 150.2ZM102.5 291.5A2.6 1.6 60 1 0 99.9 286.9A2.6 1.6 60 1 0 102.5 291.5ZM130.3 221.1A2.5 2.2 147 1 0 134.4 218.4A2.5 2.2 147 1 0 130.3 221.1ZM172.9 237.9A2.6 2.3 85 1 0 172.5 232.6A2.6 2.3 85 1 0 172.9 237.9ZM235.4 229.0A2.9 1.7 156 1 0 240.7 226.7A2.9 1.7 156 1 0 235.4 229.0ZM44.9 242.1A2.4 1.8 173 1 0 49.7 241.5A2.4 1.8 173 1 0 44.9 242.1ZM185.1 159.4A2.7 2.4 109 1 0 186.9 154.3A2.7 2.4 109 1 0 185.1 159.4ZM140.3 167.0A2.2 1.9 52 1 0 137.6 163.5A2.2 1.9 52 1 0 140.3 167.0ZM140.0 191.8A2.1 1.5 141 1 0 143.4 189.1A2.1 1.5 141 1 0 140.0 191.8ZM255.1 178.6A2.2 1.4 54 1 0 252.6 175.0A2.2 1.4 54 1 0 255.1 178.6ZM79.3 195.9A2.4 1.4 165 1 0 84.0 194.7A2.4 1.4 165 1 0 79.3 195.9ZM127.6 262.5A2.8 2.6 36 1 0 123.1 259.2A2.8 2.6 36 1 0 127.6 262.5ZM150.1 278.8A1.6 0.9 101 1 0 150.8 275.7A1.6 0.9 101 1 0 150.1 278.8ZM165.1 279.6A2.7 2.1 179 1 0 170.4 279.6A2.7 2.1 179 1 0 165.1 279.6ZM173.8 183.4A2.6 1.8 64 1 0 171.6 178.8A2.6 1.8 64 1 0 173.8 183.4ZM191.3 143.4A2.9 2.4 94 1 0 191.8 137.6A2.9 2.4 94 1 0 191.3 143.4ZM69.9 148.3A2.2 1.7 103 1 0 70.9 144.1A2.2 1.7 103 1 0 69.9 148.3ZM260.4 292.5A2.3 1.7 112 1 0 262.1 288.3A2.3 1.7 112 1 0 260.4 292.5ZM291.7 139.8A2.3 2.1 30 1 0 287.6 137.4A2.3 2.1 30 1 0 291.7 139.8ZM126.5 294.8A2.8 2.1 19 1 0 121.3 292.9A2.8 2.1 19 1 0 126.5 294.8ZM262.2 224.3A2.7 2.6 159 1 0 267.4 222.4A2.7 2.6 159 1 0 262.2 224.3ZM149.0 94.9A2.0 1.5 90 1 0 149.1 90.9A2.0 1.5 90 1 0 149.0 94.9ZM93.3 101.5A2.5 2.0 63 1 0 91.1 97.1A2.5 2.0 63 1 0 93.3 101.5ZM287.8 211.3A1.7 1.2 141 1 0 290.4 209.2A1.7 1.2 141 1 0 287.8 211.3ZM119.8 224.3A1.6 1.1 151 1 0 122.6 222.7A1.6 1.1 151 1 0 119.8 224.3ZM189.2 219.8A1.9 1.4 99 1 0 189.8 216.1A1.9 1.4 99 1 0 189.2 219.8ZM110.7 215.1A2.3 2.2 103 1 0 111.8 210.5A2.3 2.2 103 1 0 110.7 215.1ZM148.4 85.0A1.8 1.6 19 1 0 145.0 83.8A1.8 1.6 19 1 0 148.4 85.0ZM69.9 98.6A2.3 2.0 110 1 0 71.5 94.2A2.3 2.0 110 1 0 69.9 98.6ZM244.2 71.3A1.6 1.4 58 1 0 242.5 68.5A1.6 1.4 58 1 0 244.2 71.3ZM222.8 141.7A1.8 1.2 17 1 0 219.3 140.6A1.8 1.2 17 1 0 222.8 141.7ZM267.8 199.0A2.1 1.5 69 1 0 266.4 195.0A2.1 1.5 69 1 0 267.8 199.0ZM60.0 274.7A2.4 2.3 79 1 0 59.1 270.0A2.4 2.3 79 1 0 60.0 274.7ZM196.3 116.4A1.7 1.5 153 1 0 199.3 114.9A1.7 1.5 153 1 0 196.3 116.4ZM122.3 277.0A2.7 1.8 108 1 0 124.0 271.8A2.7 1.8 108 1 0 122.3 277.0ZM281.8 178.6A2.9 1.9 70 1 0 279.8 173.1A2.9 1.9 70 1 0 281.8 178.6ZM221.9 110.8A2.0 1.8 87 1 0 221.7 106.8A2.0 1.8 87 1 0 221.9 110.8ZM241.5 115.2A1.8 1.3 33 1 0 238.4 113.2A1.8 1.3 33 1 0 241.5 115.2ZM283.4 128.1A2.4 1.4 96 1 0 283.9 123.4A2.4 1.4 96 1 0 283.4 128.1ZM139.0 154.1A1.7 1.0 148 1 0 141.9 152.4A1.7 1.0 148 1 0 139.0 154.1ZM133.4 115.8A1.9 1.2 42 1 0 130.7 113.3A1.9 1.2 42 1 0 133.4 115.8ZM53.5 218.7A2.1 1.3 127 1 0 56.0 215.4A2.1 1.3 127 1 0 53.5 218.7ZM69.3 123.3A2.8 1.7 79 1 0 68.3 117.9A2.8 1.7 79 1 0 69.3 123.3ZM249.4 252.8A1.8 1.3 130 1 0 251.8 250.0A1.8 1.3 130 1 0 249.4 252.8ZM138.3 290.8A1.9 1.8 90 1 0 138.3 287.0A1.9 1.8 90 1 0 138.3 290.8ZM103.0 166.6A1.8 1.5 46 1 0 100.5 164.0A1.8 1.5 46 1 0 103.0 166.6ZM265.4 200.3A2.1 1.4 109 1 0 266.8 196.3A2.1 1.4 109 1 0 265.4 200.3ZM97.9 269.7A1.8 1.3 97 1 0 98.4 266.2A1.8 1.3 97 1 0 97.9 269.7ZM111.8 245.4A2.1 1.7 102 1 0 112.7 241.2A2.1 1.7 102 1 0 111.8 245.4ZM120.6 150.8A1.7 1.1 153 1 0 123.7 149.2A1.7 1.1 153 1 0 120.6 150.8ZM125.4 218.3A1.8 1.4 65 1 0 123.9 215.1A1.8 1.4 65 1 0 125.4 218.3ZM169.8 128.4A1.7 1.1 40 1 0 167.2 126.2A1.7 1.1 40 1 0 169.8 128.4ZM75.1 230.4A2.0 1.4 163 1 0 78.9 229.3A2.0 1.4 163 1 0 75.1 230.4ZM237.4 272.6A2.8 1.7 49 1 0 233.8 268.3A2.8 1.7 49 1 0 237.4 272.6ZM54.1 223.2A2.5 1.7 74 1 0 52.7 218.4A2.5 1.7 74 1 0 54.1 223.2ZM208.1 227.3A1.9 1.7 63 1 0 206.4 223.9A1.9 1.7 63 1 0 208.1 227.3ZM198.7 100.4A1.8 1.6 132 1 0 201.1 97.8A1.8 1.6 132 1 0 198.7 100.4ZM221.7 65.6A1.7 1.0 35 1 0 219.0 63.6A1.7 1.0 35 1 0 221.7 65.6ZM119.6 149.3A1.7 1.1 114 1 0 121.0 146.3A1.7 1.1 114 1 0 119.6 149.3ZM91.8 261.6A2.4 2.0 45 1 0 88.4 258.1A2.4 2.0 45 1 0 91.8 261.6ZM150.7 223.0A2.1 1.1 150 1 0 154.3 220.9A2.1 1.1 150 1 0 150.7 223.0ZM235.4 126.2A1.7 1.5 109 1 0 236.5 123.1A1.7 1.5 109 1 0 235.4 126.2ZM59.2 115.5A1.8 1.5 37 1 0 56.4 113.4A1.8 1.5 37 1 0 59.2 115.5ZM270.3 239.5A1.7 1.4 70 1 0 269.1 236.3A1.7 1.4 70 1 0 270.3 239.5ZM226.9 257.6A2.0 1.2 170 1 0 230.9 256.9A2.0 1.2 170 1 0 226.9 257.6ZM147.6 283.4A2.6 2.2 149 1 0 152.0 280.7A2.6 2.2 149 1 0 147.6 283.4ZM200.1 167.0A1.7 1.4 77 1 0 199.3 163.7A1.7 1.4 77 1 0 200.1 167.0ZM173.1 281.8A1.8 1.5 7 1 0 169.5 281.3A1.8 1.5 7 1 0 173.1 281.8ZM216.0 251.8A2.0 1.5 174 1 0 219.9 251.4A2.0 1.5 174 1 0 216.0 251.8ZM202.9 189.4A1.9 1.1 64 1 0 201.2 185.9A1.9 1.1 64 1 0 202.9 189.4ZM145.6 105.5A2.0 1.2 127 1 0 148.0 102.3A2.0 1.2 127 1 0 145.6 105.5ZM210.4 114.7A1.9 1.5 80 1 0 209.7 110.9A1.9 1.5 80 1 0 210.4 114.7ZM276.7 141.5A2.0 1.8 25 1 0 273.1 139.7A2.0 1.8 25 1 0 276.7 141.5ZM181.9 138.1A2.7 2.1 136 1 0 185.9 134.4A2.7 2.1 136 1 0 181.9 138.1ZM85.7 219.2A2.4 1.8 137 1 0 89.4 216.0A2.4 1.8 137 1 0 85.7 219.2ZM250.9 83.9A2.0 1.4 37 1 0 247.7 81.5A2.0 1.4 37 1 0 250.9 83.9ZM61.3 125.2A1.9 1.6 80 1 0 60.6 121.5A1.9 1.6 80 1 0 61.3 125.2ZM75.8 135.1A2.3 1.6 30 1 0 71.9 132.9A2.3 1.6 30 1 0 75.8 135.1ZM66.6 58.1A3.0 2.5 15 1 0 60.9 56.6A3.0 2.5 15 1 0 66.6 58.1ZM221.6 296.7A2.4 1.4 87 1 0 221.4 291.9A2.4 1.4 87 1 0 221.6 296.7ZM150.0 101.7A2.4 1.3 165 1 0 154.6 100.5A2.4 1.3 165 1 0 150.0 101.7ZM205.8 210.2A2.9 2.4 45 1 0 201.7 206.1A2.9 2.4 45 1 0 205.8 210.2ZM104.9 89.4A1.6 1.4 151 1 0 107.8 87.8A1.6 1.4 151 1 0 104.9 89.4ZM116.2 100.7A2.5 2.2 166 1 0 121.0 99.5A2.5 2.2 166 1 0 116.2 100.7ZM88.8 248.8A2.8 2.3 58 1 0 85.9 244.1A2.8 2.3 58 1 0 88.8 248.8ZM91.0 258.4A2.0 1.4 99 1 0 91.6 254.4A2.0 1.4 99 1 0 91.0 258.4ZM136.0 259.8A1.9 1.1 102 1 0 136.9 256.0A1.9 1.1 102 1 0 136.0 259.8ZM197.2 255.5A2.6 2.4 170 1 0 202.3 254.6A2.6 2.4 170 1 0 197.2 255.5ZM166.6 178.5A1.8 1.2 104 1 0 167.5 175.0A1.8 1.2 104 1 0 166.6 178.5ZM64.0 223.0A1.8 1.3 174 1 0 67.6 222.7A1.8 1.3 174 1 0 64.0 223.0ZM66.7 66.2A2.2 1.4 130 1 0 69.5 62.8A2.2 1.4 130 1 0 66.7 66.2ZM47.5 262.9A2.8 2.4 76 1 0 46.2 257.5A2.8 2.4 76 1 0 47.5 262.9ZM116.6 218.4A2.3 1.7 60 1 0 114.3 214.4A2.3 1.7 60 1 0 116.6 218.4ZM155.8 218.9A2.8 2.5 29 1 0 151.0 216.1A2.8 2.5 29 1 0 155.8 218.9ZM120.4 164.4A2.4 1.6 35 1 0 116.5 161.6A2.4 1.6 35 1 0 120.4 164.4ZM64.8 134.4A2.2 2.1 163 1 0 69.1 133.2A2.2 2.1 163 1 0 64.8 134.4ZM255.3 294.5A2.9 2.4 146 1 0 260.2 291.2A2.9 2.4 146 1 0 255.3 294.5ZM60.3 222.4A2.5 1.6 102 1 0 61.4 217.6A2.5 1.6 102 1 0 60.3 222.4ZM280.3 174.4A2.5 1.7 61 1 0 277.9 170.0A2.5 1.7 61 1 0 280.3 174.4ZM262.8 63.3A1.9 1.5 80 1 0 262.2 59.7A1.9 1.5 80 1 0 262.8 63.3ZM67.6 218.2A2.1 1.7 74 1 0 66.5 214.1A2.1 1.7 74 1 0 67.6 218.2ZM177.5 193.9A2.2 1.3 32 1 0 173.9 191.6A2.2 1.3 32 1 0 177.5 193.9ZM264.9 189.9A1.8 1.6 45 1 0 262.5 187.4A1.8 1.6 45 1 0 264.9 189.9ZM69.1 186.3A2.0 1.5 99 1 0 69.7 182.5A2.0 1.5 99 1 0 69.1 186.3ZM101.1 196.4A1.8 1.3 105 1 0 102.1 193.0A1.8 1.3 105 1 0 101.1 196.4ZM64.3 155.1A1.7 1.2 155 1 0 67.4 153.7A1.7 1.2 155 1 0 64.3 155.1ZM178.1 229.4A2.7 1.6 178 1 0 183.4 229.3A2.7 1.6 178 1 0 178.1 229.4ZM224.9 81.1A2.8 2.0 30 1 0 220.2 78.2A2.8 2.0 30 1 0 224.9 81.1ZM278.8 194.0A2.7 1.6 139 1 0 282.9 190.6A2.7 1.6 139 1 0 278.8 194.0ZM59.6 114.6A2.1 1.2 106 1 0 60.9 110.6A2.1 1.2 106 1 0 59.6 114.6ZM95.9 128.9A2.6 1.9 159 1 0 100.7 127.1A2.6 1.9 159 1 0 95.9 128.9ZM195.8 268.8A2.4 2.2 156 1 0 200.2 266.9A2.4 2.2 156 1 0 195.8 268.8ZM86.1 238.6A2.1 1.8 122 1 0 88.4 235.1A2.1 1.8 122 1 0 86.1 238.6ZM245.9 85.0A2.1 1.8 170 1 0 250.1 84.3A2.1 1.8 170 1 0 245.9 85.0ZM222.2 67.7A2.4 1.4 98 1 0 223.0 62.9A2.4 1.4 98 1 0 222.2 67.7ZM244.5 84.4A2.9 2.4 45 1 0 240.4 80.2A2.9 2.4 45 1 0 244.5 84.4ZM96.0 164.9A2.8 2.2 20 1 0 90.8 162.9A2.8 2.2 20 1 0 96.0 164.9ZM50.9 84.4A2.7 1.7 99 1 0 51.8 79.0A2.7 1.7 99 1 0 50.9 84.4ZM115.1 223.5A2.1 1.3 157 1 0 119.1 221.8A2.1 1.3 157 1 0 115.1 223.5ZM180.5 223.3A2.7 2.5 2 1 0 175.1 223.1A2.7 2.5 2 1 0 180.5 223.3ZM128.0 92.9A2.3 2.1 144 1 0 131.7 90.2A2.3 2.1 144 1 0 128.0 92.9ZM55.8 101.8A2.7 2.3 70 1 0 54.0 96.7A2.7 2.3 70 1 0 55.8 101.8ZM159.9 94.5A2.8 2.0 157 1 0 165.0 92.3A2.8 2.0 157 1 0 159.9 94.5ZM193.5 73.9A2.1 1.3 160 1 0 197.4 72.6A2.1 1.3 160 1 0 193.5 73.9ZM190.4 67.2A1.8 1.3 84 1 0 190.0 63.5A1.8 1.3 84 1 0 190.4 67.2ZM186.7 151.5A2.1 1.2 104 1 0 187.7 147.5A2.1 1.2 104 1 0 186.7 151.5ZM130.0 60.0A2.2 2.1 8 1 0 125.6 59.4A2.2 2.1 8 1 0 130.0 60.0ZM81.8 220.7A2.0 1.3 90 1 0 81.8 216.7A2.0 1.3 90 1 0 81.8 220.7ZM107.9 193.8A2.3 2.2 178 1 0 112.6 193.7A2.3 2.2 178 1 0 107.9 193.8ZM52.5 193.5A2.7 2.4 139 1 0 56.6 190.0A2.7 2.4 139 1 0 52.5 193.5ZM199.2 211.1A2.1 1.4 143 1 0 202.6 208.5A2.1 1.4 143 1 0 199.2 211.1ZM257.6 285.8A2.6 1.7 137 1 0 261.4 282.4A2.6 1.7 137 1 0 257.6 285.8ZM226.5 181.5A2.5 1.7 99 1 0 227.3 176.6A2.5 1.7 99 1 0 226.5 181.5ZM143.3 69.5A2.1 1.4 177 1 0 147.5 69.4A2.1 1.4 177 1 0 143.3 69.5ZM164.8 146.2A1.9 1.2 62 1 0 163.0 142.7A1.9 1.2 62 1 0 164.8 146.2ZM79.8 59.2A2.8 2.1 80 1 0 78.9 53.7A2.8 2.1 80 1 0 79.8 59.2ZM186.3 130.1A1.8 1.1 54 1 0 184.1 127.1A1.8 1.1 54 1 0 186.3 130.1ZM122.7 234.4A2.4 2.2 61 1 0 120.5 230.2A2.4 2.2 61 1 0 122.7 234.4ZM270.9 198.9A1.7 1.1 104 1 0 271.8 195.6A1.7 1.1 104 1 0 270.9 198.9ZM285.1 143.0A2.7 1.9 156 1 0 290.0 140.9A2.7 1.9 156 1 0 285.1 143.0ZM64.7 175.2A2.9 1.9 46 1 0 60.8 171.0A2.9 1.9 46 1 0 64.7 175.2ZM53.4 96.2A2.0 1.6 39 1 0 50.3 93.7A2.0 1.6 39 1 0 53.4 96.2ZM142.8 105.8A2.4 2.2 116 1 0 145.0 101.5A2.4 2.2 116 1 0 142.8 105.8ZM97.1 234.8A2.9 2.3 14 1 0 91.4 233.3A2.9 2.3 14 1 0 97.1 234.8ZM245.8 269.8A2.1 1.3 33 1 0 242.3 267.5A2.1 1.3 33 1 0 245.8 269.8ZM179.4 270.2A2.5 2.3 38 1 0 175.5 267.1A2.5 2.3 38 1 0 179.4 270.2ZM124.7 240.0A2.5 1.8 122 1 0 127.4 235.7A2.5 1.8 122 1 0 124.7 240.0ZM127.9 70.8A2.2 1.2 112 1 0 129.6 66.7A2.2 1.2 112 1 0 127.9 70.8ZM128.2 177.9A2.4 1.6 83 1 0 127.7 173.1A2.4 1.6 83 1 0 128.2 177.9ZM51.9 281.3A2.4 2.3 10 1 0 47.2 280.4A2.4 2.3 10 1 0 51.9 281.3ZM198.1 232.6A2.1 1.2 28 1 0 194.4 230.7A2.1 1.2 28 1 0 198.1 232.6ZM81.5 243.9A1.7 1.5 76 1 0 80.7 240.5A1.7 1.5 76 1 0 81.5 243.9ZM177.1 200.8A2.4 1.9 108 1 0 178.6 196.3A2.4 1.9 108 1 0 177.1 200.8ZM125.6 237.1A2.0 1.6 137 1 0 128.5 234.5A2.0 1.6 137 1 0 125.6 237.1ZM236.2 132.9A2.7 2.5 81 1 0 235.5 127.6A2.7 2.5 81 1 0 236.2 132.9ZM117.1 182.7A2.9 1.8 1 1 0 111.3 182.5A2.9 1.8 1 1 0 117.1 182.7ZM159.8 215.0A2.7 1.9 178 1 0 165.2 214.8A2.7 1.9 178 1 0 159.8 215.0ZM103.5 240.3A1.7 1.0 24 1 0 100.4 238.9A1.7 1.0 24 1 0 103.5 240.3ZM58.6 177.8A2.4 1.5 169 1 0 63.2 176.9A2.4 1.5 169 1 0 58.6 177.8ZM133.8 91.6A1.8 1.6 165 1 0 137.3 90.7A1.8 1.6 165 1 0 133.8 91.6ZM83.1 61.9A2.7 1.7 176 1 0 88.5 61.6A2.7 1.7 176 1 0 83.1 61.9ZM168.4 212.2A2.1 1.8 82 1 0 167.9 208.1A2.1 1.8 82 1 0 168.4 212.2ZM127.1 275.9A1.8 1.5 11 1 0 123.6 275.2A1.8 1.5 11 1 0 127.1 275.9ZM203.4 155.7A2.8 1.6 101 1 0 204.5 150.2A2.8 1.6 101 1 0 203.4 155.7ZM148.6 281.2A2.9 2.3 40 1 0 144.2 277.4A2.9 2.3 40 1 0 148.6 281.2ZM109.5 120.1A2.2 1.4 36 1 0 106.0 117.5A2.2 1.4 36 1 0 109.5 120.1ZM233.3 213.0A2.0 1.9 38 1 0 230.2 210.5A2.0 1.9 38 1 0 233.3 213.0ZM187.3 95.1A2.8 2.5 48 1 0 183.5 90.9A2.8 2.5 48 1 0 187.3 95.1ZM230.0 257.8A2.0 1.4 87 1 0 229.8 253.8A2.0 1.4 87 1 0 230.0 257.8ZM264.3 96.7A2.6 2.0 81 1 0 263.6 91.7A2.6 2.0 81 1 0 264.3 96.7ZM188.6 272.2A1.9 1.7 64 1 0 187.0 268.8A1.9 1.7 64 1 0 188.6 272.2ZM234.9 265.7A1.9 1.7 179 1 0 238.6 265.7A1.9 1.7 179 1 0 234.9 265.7ZM120.7 60.7A1.8 1.7 1 1 0 117.2 60.6A1.8 1.7 1 1 0 120.7 60.7ZM271.3 92.9A2.6 1.5 30 1 0 266.7 90.2A2.6 1.5 30 1 0 271.3 92.9ZM211.8 78.4A2.1 1.9 128 1 0 214.4 75.1A2.1 1.9 128 1 0 211.8 78.4ZM260.4 295.1A1.6 1.1 142 1 0 263.1 293.1A1.6 1.1 142 1 0 260.4 295.1ZM215.2 66.2A2.3 1.5 77 1 0 214.2 61.7A2.3 1.5 77 1 0 215.2 66.2ZM69.1 60.7A3.0 2.0 158 1 0 74.6 58.5A3.0 2.0 158 1 0 69.1 60.7ZM77.2 174.8A1.8 1.3 32 1 0 74.1 172.9A1.8 1.3 32 1 0 77.2 174.8ZM216.2 91.8A2.6 2.0 20 1 0 211.2 89.9A2.6 2.0 20 1 0 216.2 91.8ZM134.9 177.8A2.9 2.0 38 1 0 130.4 174.2A2.9 2.0 38 1 0 134.9 177.8ZM284.9 271.9A2.6 1.7 31 1 0 280.4 269.2A2.6 1.7 31 1 0 284.9 271.9ZM111.4 73.1A1.7 1.3 73 1 0 110.4 70.0A1.7 1.3 73 1 0 111.4 73.1ZM181.5 144.8A1.6 1.3 117 1 0 183.0 141.9A1.6 1.3 117 1 0 181.5 144.8ZM176.8 189.8A2.6 2.4 157 1 0 181.5 187.8A2.6 2.4 157 1 0 176.8 189.8ZM219.6 152.5A2.0 1.5 175 1 0 223.7 152.1A2.0 1.5 175 1 0 219.6 152.5ZM138.6 148.9A2.2 1.3 179 1 0 143.0 148.9A2.2 1.3 179 1 0 138.6 148.9ZM46.5 206.0A2.9 1.9 109 1 0 48.5 200.5A2.9 1.9 109 1 0 46.5 206.0ZM136.7 114.4A1.9 1.1 151 1 0 140.0 112.7A1.9 1.1 151 1 0 136.7 114.4ZM238.7 278.2A1.7 1.4 58 1 0 236.9 275.3A1.7 1.4 58 1 0 238.7 278.2ZM206.2 188.9A2.0 1.9 0 1 0 202.1 188.9A2.0 1.9 0 1 0 206.2 188.9ZM226.3 263.3A2.3 1.8 179 1 0 230.9 263.3A2.3 1.8 179 1 0 226.3 263.3ZM101.9 210.6A2.6 1.9 128 1 0 105.1 206.5A2.6 1.9 128 1 0 101.9 210.6ZM143.7 185.4A2.5 2.0 57 1 0 141.1 181.2A2.5 2.0 57 1 0 143.7 185.4ZM201.2 188.8A1.9 1.5 47 1 0 198.6 186.0A1.9 1.5 47 1 0 201.2 188.8ZM268.5 173.0A2.6 2.0 85 1 0 268.1 167.8A2.6 2.0 85 1 0 268.5 173.0ZM100.0 92.3A2.9 2.2 94 1 0 100.5 86.5A2.9 2.2 94 1 0 100.0 92.3ZM173.5 254.5A1.9 1.2 147 1 0 176.8 252.5A1.9 1.2 147 1 0 173.5 254.5ZM156.2 212.4A2.8 2.5 156 1 0 161.2 210.1A2.8 2.5 156 1 0 156.2 212.4ZM59.3 148.9A2.8 2.4 22 1 0 54.2 146.8A2.8 2.4 22 1 0 59.3 148.9ZM82.4 117.2A1.7 1.2 144 1 0 85.2 115.2A1.7 1.2 144 1 0 82.4 117.2ZM171.9 165.4A1.7 1.2 179 1 0 175.3 165.3A1.7 1.2 179 1 0 171.9 165.4ZM214.4 166.1A2.3 2.0 136 1 0 217.7 163.0A2.3 2.0 136 1 0 214.4 166.1ZM84.4 222.4A2.1 1.6 42 1 0 81.3 219.5A2.1 1.6 42 1 0 84.4 222.4ZM138.5 139.1A2.1 1.2 36 1 0 135.1 136.6A2.1 1.2 36 1 0 138.5 139.1ZM186.8 70.2A1.8 1.5 49 1 0 184.4 67.4A1.8 1.5 49 1 0 186.8 70.2ZM124.2 116.3A2.8 1.6 114 1 0 126.5 111.3A2.8 1.6 114 1 0 124.2 116.3ZM255.3 106.0A2.2 1.9 111 1 0 256.9 101.9A2.2 1.9 111 1 0 255.3 106.0ZM135.6 67.2A2.2 1.5 128 1 0 138.4 63.7A2.2 1.5 128 1 0 135.6 67.2ZM119.5 156.6A2.5 2.2 63 1 0 117.2 152.2A2.5 2.2 63 1 0 119.5 156.6ZM137.5 196.4A2.9 1.8 174 1 0 143.3 195.9A2.9 1.8 174 1 0 137.5 196.4ZM222.7 146.3A2.5 1.7 12 1 0 217.7 145.1A2.5 1.7 12 1 0 222.7 146.3ZM228.8 148.1A2.3 1.7 162 1 0 233.2 146.7A2.3 1.7 162 1 0 228.8 148.1ZM231.5 63.4A2.4 1.8 83 1 0 230.9 58.5A2.4 1.8 83 1 0 231.5 63.4ZM251.8 158.3A2.3 2.1 79 1 0 251.0 153.9A2.3 2.1 79 1 0 251.8 158.3ZM164.4 181.8A2.8 2.3 133 1 0 168.2 177.8A2.8 2.3 133 1 0 164.4 181.8ZM142.5 66.3A2.6 2.0 138 1 0 146.3 62.9A2.6 2.0 138 1 0 142.5 66.3ZM232.8 84.6A1.9 1.1 147 1 0 236.0 82.5A1.9 1.1 147 1 0 232.8 84.6ZM73.7 76.7A2.7 2.1 9 1 0 68.4 75.8A2.7 2.1 9 1 0 73.7 76.7ZM211.3 230.4A2.3 1.3 124 1 0 213.9 226.6A2.3 1.3 124 1 0 211.3 230.4ZM145.6 198.6A3.0 2.6 156 1 0 151.1 196.2A3.0 2.6 156 1 0 145.6 198.6ZM79.4 136.5A2.3 1.3 177 1 0 84.1 136.3A2.3 1.3 177 1 0 79.4 136.5ZM111.5 119.7A2.0 1.3 154 1 0 115.2 117.9A2.0 1.3 154 1 0 111.5 119.7ZM183.3 181.4A2.2 1.2 54 1 0 180.8 177.8A2.2 1.2 54 1 0 183.3 181.4ZM260.3 252.4A2.8 1.8 36 1 0 255.8 249.0A2.8 1.8 36 1 0 260.3 252.4ZM59.0 188.0A2.1 1.6 88 1 0 58.9 183.8A2.1 1.6 88 1 0 59.0 188.0ZM186.2 144.8A2.7 1.7 165 1 0 191.5 143.4A2.7 1.7 165 1 0 186.2 144.8ZM182.7 69.2A2.0 1.6 73 1 0 181.5 65.2A2.0 1.6 73 1 0 182.7 69.2ZM185.5 135.3A2.0 1.7 52 1 0 183.1 132.2A2.0 1.7 52 1 0 185.5 135.3ZM217.5 251.3A2.4 1.8 168 1 0 222.2 250.3A2.4 1.8 168 1 0 217.5 251.3ZM154.2 270.8A1.7 1.2 115 1 0 155.6 267.8A1.7 1.2 115 1 0 154.2 270.8ZM59.6 266.4A1.7 1.3 32 1 0 56.7 264.6A1.7 1.3 32 1 0 59.6 266.4ZM270.2 194.1A2.7 2.0 121 1 0 273.0 189.5A2.7 2.0 121 1 0 270.2 194.1ZM212.9 127.6A1.9 1.7 26 1 0 209.5 125.9A1.9 1.7 26 1 0 212.9 127.6ZM269.2 106.4A1.7 1.0 141 1 0 271.9 104.2A1.7 1.0 141 1 0 269.2 106.4ZM276.2 156.8A2.5 1.6 163 1 0 281.0 155.3A2.5 1.6 163 1 0 276.2 156.8ZM215.5 92.8A1.7 1.4 7 1 0 212.2 92.3A1.7 1.4 7 1 0 215.5 92.8ZM251.6 128.1A1.9 1.5 57 1 0 249.5 124.8A1.9 1.5 57 1 0 251.6 128.1ZM180.7 93.7A2.9 2.0 151 1 0 185.7 91.0A2.9 2.0 151 1 0 180.7 93.7ZM86.3 250.4A3.0 2.1 5 1 0 80.4 249.8A3.0 2.1 5 1 0 86.3 250.4ZM140.9 211.9A1.9 1.5 16 1 0 137.2 210.8A1.9 1.5 16 1 0 140.9 211.9ZM161.8 233.5A2.2 1.8 20 1 0 157.7 231.9A2.2 1.8 20 1 0 161.8 233.5ZM245.8 85.1A2.9 2.7 169 1 0 251.5 84.0A2.9 2.7 169 1 0 245.8 85.1ZM174.9 127.8A2.1 1.8 89 1 0 174.8 123.7A2.1 1.8 89 1 0 174.9 127.8ZM272.8 79.6A2.3 2.0 107 1 0 274.1 75.3A2.3 2.0 107 1 0 272.8 79.6ZM176.7 76.9A1.8 1.2 160 1 0 180.0 75.7A1.8 1.2 160 1 0 176.7 76.9ZM251.9 113.0A2.9 1.6 107 1 0 253.7 107.5A2.9 1.6 107 1 0 251.9 113.0ZM285.5 139.3A2.9 2.4 9 1 0 279.7 138.4A2.9 2.4 9 1 0 285.5 139.3ZM129.3 165.6A1.9 1.6 32 1 0 126.0 163.6A1.9 1.6 32 1 0 129.3 165.6ZM240.3 128.1A1.7 1.3 17 1 0 237.1 127.1A1.7 1.3 17 1 0 240.3 128.1ZM183.4 247.5A2.4 1.8 6 1 0 178.6 247.0A2.4 1.8 6 1 0 183.4 247.5ZM171.1 80.9A2.5 1.5 104 1 0 172.3 76.0A2.5 1.5 104 1 0 171.1 80.9ZM134.6 147.6A2.5 1.6 30 1 0 130.3 145.0A2.5 1.6 30 1 0 134.6 147.6ZM276.5 138.5A2.8 2.5 86 1 0 276.1 133.0A2.8 2.5 86 1 0 276.5 138.5ZM82.7 80.5A2.8 1.7 89 1 0 82.6 74.8A2.8 1.7 89 1 0 82.7 80.5ZM176.9 85.7A2.3 1.4 96 1 0 177.4 81.2A2.3 1.4 96 1 0 176.9 85.7ZM171.6 145.5A1.9 1.3 36 1 0 168.6 143.3A1.9 1.3 36 1 0 171.6 145.5ZM74.6 114.3A2.8 2.1 160 1 0 79.9 112.4A2.8 2.1 160 1 0 74.6 114.3ZM49.4 287.5A2.3 2.0 102 1 0 50.4 283.0A2.3 2.0 102 1 0 49.4 287.5ZM216.4 112.7A2.7 1.6 47 1 0 212.8 108.8A2.7 1.6 47 1 0 216.4 112.7ZM51.6 151.6A2.3 1.6 160 1 0 55.9 150.0A2.3 1.6 160 1 0 51.6 151.6ZM65.3 197.3A1.9 1.5 141 1 0 68.3 194.9A1.9 1.5 141 1 0 65.3 197.3ZM218.0 70.0A1.9 1.5 176 1 0 221.9 69.8A1.9 1.5 176 1 0 218.0 70.0ZM57.5 208.1A2.6 2.2 61 1 0 55.1 203.5A2.6 2.2 61 1 0 57.5 208.1ZM241.5 168.1A2.9 1.6 169 1 0 247.1 167.0A2.9 1.6 169 1 0 241.5 168.1ZM145.7 155.5A1.7 1.1 132 1 0 148.0 152.9A1.7 1.1 132 1 0 145.7 155.5ZM213.8 92.9A2.1 1.3 35 1 0 210.4 90.4A2.1 1.3 35 1 0 213.8 92.9ZM97.5 137.4A3.0 2.8 142 1 0 102.2 133.8A3.0 2.8 142 1 0 97.5 137.4ZM161.5 178.1A2.7 2.5 135 1 0 165.4 174.4A2.7 2.5 135 1 0 161.5 178.1ZM199.8 104.9A2.5 2.2 141 1 0 203.7 101.8A2.5 2.2 141 1 0 199.8 104.9ZM66.7 230.3A2.1 1.3 173 1 0 70.9 229.8A2.1 1.3 173 1 0 66.7 230.3ZM208.9 237.3A1.8 1.6 168 1 0 212.4 236.6A1.8 1.6 168 1 0 208.9 237.3ZM266.6 239.4A2.8 2.4 106 1 0 268.1 234.1A2.8 2.4 106 1 0 266.6 239.4ZM154.2 258.6A2.7 2.4 53 1 0 151.0 254.2A2.7 2.4 53 1 0 154.2 258.6ZM278.1 184.9A2.9 1.7 174 1 0 284.0 184.4A2.9 1.7 174 1 0 278.1 184.9ZM240.9 117.9A2.8 1.8 35 1 0 236.4 114.7A2.8 1.8 35 1 0 240.9 117.9ZM156.9 114.4A2.3 2.1 123 1 0 159.4 110.6A2.3 2.1 123 1 0 156.9 114.4ZM218.4 152.8A2.7 2.3 122 1 0 221.3 148.2A2.7 2.3 122 1 0 218.4 152.8ZM275.4 258.4A2.2 1.3 117 1 0 277.4 254.6A2.2 1.3 117 1 0 275.4 258.4ZM248.6 139.2A2.4 2.2 142 1 0 252.5 136.2A2.4 2.2 142 1 0 248.6 139.2ZM45.9 175.1A1.6 1.0 146 1 0 48.6 173.3A1.6 1.0 146 1 0 45.9 175.1ZM150.3 203.9A2.2 1.5 38 1 0 146.8 201.1A2.2 1.5 38 1 0 150.3 203.9ZM135.0 261.8A2.5 1.6 15 1 0 130.3 260.4A2.5 1.6 15 1 0 135.0 261.8ZM110.6 227.3A2.2 1.8 145 1 0 114.3 224.8A2.2 1.8 145 1 0 110.6 227.3ZM77.1 222.5A1.7 1.5 33 1 0 74.3 220.7A1.7 1.5 33 1 0 77.1 222.5ZM110.6 289.5A2.1 1.3 160 1 0 114.5 288.0A2.1 1.3 160 1 0 110.6 289.5ZM193.2 273.5A2.2 1.6 172 1 0 197.5 272.9A2.2 1.6 172 1 0 193.2 273.5ZM171.7 297.2A1.9 1.6 29 1 0 168.4 295.4A1.9 1.6 29 1 0 171.7 297.2ZM175.3 56.6A1.8 1.7 81 1 0 174.8 53.0A1.8 1.7 81 1 0 175.3 56.6ZM243.7 118.1A2.1 1.2 99 1 0 244.4 113.9A2.1 1.2 99 1 0 243.7 118.1ZM254.9 181.0A2.1 2.0 160 1 0 258.9 179.6A2.1 2.0 160 1 0 254.9 181.0ZM206.6 73.6A2.5 1.8 172 1 0 211.5 72.9A2.5 1.8 172 1 0 206.6 73.6ZM134.5 218.8A2.5 1.7 93 1 0 134.8 213.8A2.5 1.7 93 1 0 134.5 218.8ZM209.3 276.6A2.3 1.6 175 1 0 213.8 276.2A2.3 1.6 175 1 0 209.3 276.6ZM60.5 261.3A2.6 2.0 80 1 0 59.7 256.2A2.6 2.0 80 1 0 60.5 261.3ZM232.4 272.8A2.6 2.2 6 1 0 227.2 272.2A2.6 2.2 6 1 0 232.4 272.8ZM128.3 89.5A2.9 2.7 26 1 0 123.0 86.9A2.9 2.7 26 1 0 128.3 89.5ZM188.6 196.8A1.7 1.2 134 1 0 191.0 194.5A1.7 1.2 134 1 0 188.6 196.8ZM202.6 126.0A2.7 1.8 97 1 0 203.4 120.7A2.7 1.8 97 1 0 202.6 126.0ZM147.7 295.9A2.5 2.2 121 1 0 150.3 291.6A2.5 2.2 121 1 0 147.7 295.9ZM140.9 292.0A2.6 2.1 49 1 0 137.5 288.1A2.6 2.1 49 1 0 140.9 292.0ZM87.0 197.7A2.8 2.4 62 1 0 84.5 192.8A2.8 2.4 62 1 0 87.0 197.7ZM78.5 182.9A2.8 1.7 132 1 0 82.3 178.7A2.8 1.7 132 1 0 78.5 182.9ZM88.5 132.5A1.7 1.1 68 1 0 87.3 129.4A1.7 1.1 68 1 0 88.5 132.5ZM280.7 290.2A1.9 1.3 169 1 0 284.3 289.5A1.9 1.3 169 1 0 280.7 290.2ZM95.9 134.7A2.2 1.3 46 1 0 92.9 131.5A2.2 1.3 46 1 0 95.9 134.7ZM144.9 150.7A2.9 1.9 36 1 0 140.1 147.2A2.9 1.9 36 1 0 144.9 150.7ZM266.2 166.5A2.8 2.2 140 1 0 270.4 163.0A2.8 2.2 140 1 0 266.2 166.5ZM122.6 94.5A2.7 2.0 100 1 0 123.6 89.3A2.7 2.0 100 1 0 122.6 94.5ZM208.2 239.2A2.0 1.4 165 1 0 212.0 238.1A2.0 1.4 165 1 0 208.2 239.2ZM173.7 126.8A2.5 1.6 138 1 0 177.4 123.5A2.5 1.6 138 1 0 173.7 126.8ZM54.0 257.2A2.4 1.7 169 1 0 58.7 256.3A2.4 1.7 169 1 0 54.0 257.2ZM109.9 115.4A1.7 1.3 135 1 0 112.3 113.0A1.7 1.3 135 1 0 109.9 115.4ZM213.5 157.8A2.7 1.6 55 1 0 210.4 153.3A2.7 1.6 55 1 0 213.5 157.8ZM201.9 292.7A2.5 2.1 139 1 0 205.7 289.5A2.5 2.1 139 1 0 201.9 292.7ZM143.5 287.0A2.6 1.8 70 1 0 141.7 282.0A2.6 1.8 70 1 0 143.5 287.0ZM242.9 142.0A1.9 1.7 95 1 0 243.3 138.3A1.9 1.7 95 1 0 242.9 142.0ZM175.0 220.8A2.9 1.7 60 1 0 172.2 215.8A2.9 1.7 60 1 0 175.0 220.8ZM61.2 157.7A2.3 2.1 120 1 0 63.5 153.7A2.3 2.1 120 1 0 61.2 157.7ZM185.3 154.5A2.4 1.6 152 1 0 189.5 152.2A2.4 1.6 152 1 0 185.3 154.5ZM237.6 260.9A1.8 1.5 135 1 0 240.2 258.3A1.8 1.5 135 1 0 237.6 260.9ZM166.1 275.8A2.9 2.4 147 1 0 171.0 272.7A2.9 2.4 147 1 0 166.1 275.8ZM203.7 270.9A1.8 1.5 126 1 0 205.8 268.0A1.8 1.5 126 1 0 203.7 270.9ZM194.4 122.8A1.7 1.3 148 1 0 197.3 121.0A1.7 1.3 148 1 0 194.4 122.8ZM111.9 108.4A1.9 1.1 121 1 0 113.9 105.1A1.9 1.1 121 1 0 111.9 108.4ZM286.5 251.2A2.1 1.7 12 1 0 282.4 250.3A2.1 1.7 12 1 0 286.5 251.2ZM252.6 134.8A1.6 1.3 24 1 0 249.7 133.5A1.6 1.3 24 1 0 252.6 134.8ZM111.6 70.4A2.2 1.7 145 1 0 115.3 67.9A2.2 1.7 145 1 0 111.6 70.4ZM55.2 258.5A1.8 1.1 113 1 0 56.6 255.3A1.8 1.1 113 1 0 55.2 258.5ZM127.4 137.1A2.4 1.5 142 1 0 131.2 134.2A2.4 1.5 142 1 0 127.4 137.1ZM100.0 260.1A2.7 2.1 5 1 0 94.6 259.6A2.7 2.1 5 1 0 100.0 260.1ZM238.6 62.1A2.3 1.7 11 1 0 234.1 61.2A2.3 1.7 11 1 0 238.6 62.1ZM200.1 234.2A2.4 1.7 92 1 0 200.3 229.4A2.4 1.7 92 1 0 200.1 234.2ZM187.8 111.6A2.8 2.7 144 1 0 192.4 108.4A2.8 2.7 144 1 0 187.8 111.6ZM281.4 138.2A3.0 1.7 86 1 0 280.9 132.2A3.0 1.7 86 1 0 281.4 138.2ZM79.2 168.2A2.6 2.1 81 1 0 78.5 163.1A2.6 2.1 81 1 0 79.2 168.2ZM131.5 102.4A2.2 1.4 34 1 0 127.9 99.9A2.2 1.4 34 1 0 131.5 102.4ZM224.8 182.6A2.2 1.4 126 1 0 227.4 179.1A2.2 1.4 126 1 0 224.8 182.6ZM91.9 119.8A2.4 2.0 175 1 0 96.7 119.4A2.4 2.0 175 1 0 91.9 119.8ZM227.1 288.7A2.9 2.4 129 1 0 230.8 284.2A2.9 2.4 129 1 0 227.1 288.7ZM60.5 106.2A1.6 1.4 129 1 0 62.6 103.7A1.6 1.4 129 1 0 60.5 106.2ZM199.4 121.1A2.1 1.3 113 1 0 201.1 117.3A2.1 1.3 113 1 0 199.4 121.1ZM289.2 130.9A1.7 1.0 63 1 0 287.8 127.9A1.7 1.0 63 1 0 289.2 130.9ZM268.0 252.1A2.2 1.3 19 1 0 263.8 250.6A2.2 1.3 19 1 0 268.0 252.1ZM81.6 245.3A2.3 2.1 164 1 0 86.0 244.1A2.3 2.1 164 1 0 81.6 245.3ZM243.0 172.0A2.8 1.7 19 1 0 237.8 170.2A2.8 1.7 19 1 0 243.0 172.0ZM185.8 179.0A1.9 1.2 3 1 0 182.0 178.7A1.9 1.2 3 1 0 185.8 179.0ZM268.9 231.1A2.9 2.8 78 1 0 267.8 225.4A2.9 2.8 78 1 0 268.9 231.1ZM227.7 149.7A2.7 2.4 24 1 0 222.7 147.5A2.7 2.4 24 1 0 227.7 149.7ZM51.8 107.1A2.4 1.7 1 1 0 46.9 106.9A2.4 1.7 1 1 0 51.8 107.1ZM247.0 247.6A2.2 1.3 160 1 0 251.2 246.0A2.2 1.3 160 1 0 247.0 247.6ZM174.8 72.8A2.1 1.6 159 1 0 178.7 71.3A2.1 1.6 159 1 0 174.8 72.8ZM162.8 211.5A1.9 1.2 163 1 0 166.4 210.4A1.9 1.2 163 1 0 162.8 211.5ZM141.7 81.5A2.4 1.5 35 1 0 137.7 78.7A2.4 1.5 35 1 0 141.7 81.5ZM158.2 200.3A2.5 2.1 79 1 0 157.3 195.4A2.5 2.1 79 1 0 158.2 200.3ZM63.2 233.4A1.7 1.2 72 1 0 62.2 230.2A1.7 1.2 72 1 0 63.2 233.4ZM209.6 230.7A1.9 1.6 124 1 0 211.8 227.5A1.9 1.6 124 1 0 209.6 230.7ZM164.3 89.9A2.9 2.3 11 1 0 158.7 88.8A2.9 2.3 11 1 0 164.3 89.9ZM103.0 297.1A1.9 1.4 141 1 0 106.0 294.7A1.9 1.4 141 1 0 103.0 297.1ZM250.1 210.4A2.6 1.5 16 1 0 245.0 208.9A2.6 1.5 16 1 0 250.1 210.4ZM286.0 252.0A1.7 0.9 43 1 0 283.6 249.8A1.7 0.9 43 1 0 286.0 252.0ZM272.6 110.7A2.5 2.3 114 1 0 274.7 106.1A2.5 2.3 114 1 0 272.6 110.7ZM269.6 120.2A1.8 1.0 136 1 0 272.2 117.7A1.8 1.0 136 1 0 269.6 120.2ZM69.4 294.0A2.6 1.6 145 1 0 73.7 291.1A2.6 1.6 145 1 0 69.4 294.0ZM84.3 180.5A1.7 1.5 160 1 0 87.6 179.3A1.7 1.5 160 1 0 84.3 180.5ZM267.8 56.7A2.8 2.2 147 1 0 272.5 53.8A2.8 2.2 147 1 0 267.8 56.7ZM171.4 206.8A2.4 2.1 13 1 0 166.6 205.6A2.4 2.1 13 1 0 171.4 206.8ZM61.5 188.1A2.0 1.4 1 1 0 57.4 188.0A2.0 1.4 1 1 0 61.5 188.1ZM228.6 63.3A2.8 2.4 82 1 0 227.9 57.8A2.8 2.4 82 1 0 228.6 63.3ZM77.8 214.2A1.9 1.4 19 1 0 74.3 212.9A1.9 1.4 19 1 0 77.8 214.2ZM283.5 189.7A2.1 1.2 131 1 0 286.2 186.6A2.1 1.2 131 1 0 283.5 189.7ZM254.9 263.4A1.7 1.2 54 1 0 252.9 260.6A1.7 1.2 54 1 0 254.9 263.4ZM230.7 92.5A2.4 2.3 138 1 0 234.4 89.2A2.4 2.3 138 1 0 230.7 92.5ZM47.4 74.7A1.8 1.5 107 1 0 48.4 71.4A1.8 1.5 107 1 0 47.4 74.7ZM172.3 168.0A2.2 1.7 116 1 0 174.3 164.1A2.2 1.7 116 1 0 172.3 168.0ZM267.8 235.1A2.7 2.5 150 1 0 272.5 232.4A2.7 2.5 150 1 0 267.8 235.1ZM221.9 64.7A2.6 2.3 77 1 0 220.8 59.7A2.6 2.3 77 1 0 221.9 64.7ZM259.1 101.0A2.9 2.1 127 1 0 262.6 96.3A2.9 2.1 127 1 0 259.1 101.0ZM109.9 128.8A2.1 1.4 17 1 0 106.0 127.5A2.1 1.4 17 1 0 109.9 128.8ZM152.6 296.1A2.5 2.3 137 1 0 156.3 292.7A2.5 2.3 137 1 0 152.6 296.1ZM252.6 299.6A2.7 1.8 44 1 0 248.8 295.8A2.7 1.8 44 1 0 252.6 299.6ZM145.1 60.3A1.9 1.7 165 1 0 148.9 59.3A1.9 1.7 165 1 0 145.1 60.3ZM124.4 244.6A2.7 2.4 143 1 0 128.7 241.4A2.7 2.4 143 1 0 124.4 244.6ZM175.2 82.9A2.8 1.9 112 1 0 177.3 77.8A2.8 1.9 112 1 0 175.2 82.9ZM135.6 188.9A3.0 1.8 95 1 0 136.2 183.1A3.0 1.8 95 1 0 135.6 188.9ZM202.2 187.1A2.9 2.1 164 1 0 207.9 185.5A2.9 2.1 164 1 0 202.2 187.1ZM215.9 292.5A1.7 1.1 51 1 0 213.7 289.8A1.7 1.1 51 1 0 215.9 292.5ZM265.8 58.1A2.0 1.6 178 1 0 269.7 58.0A2.0 1.6 178 1 0 265.8 58.1ZM87.5 163.6A2.6 2.1 134 1 0 91.1 159.9A2.6 2.1 134 1 0 87.5 163.6ZM229.2 117.0A2.0 1.1 124 1 0 231.4 113.8A2.0 1.1 124 1 0 229.2 117.0ZM96.5 121.0A3.0 2.4 106 1 0 98.2 115.3A3.0 2.4 106 1 0 96.5 121.0ZM209.1 201.3A2.6 1.7 11 1 0 204.0 200.3A2.6 1.7 11 1 0 209.1 201.3ZM64.5 59.0A2.1 1.3 20 1 0 60.6 57.5A2.1 1.3 20 1 0 64.5 59.0ZM164.9 293.4A2.6 1.7 138 1 0 168.8 290.0A2.6 1.7 138 1 0 164.9 293.4ZM88.5 80.8A2.0 1.4 124 1 0 90.8 77.5A2.0 1.4 124 1 0 88.5 80.8ZM155.8 234.2A1.7 1.6 61 1 0 154.1 231.2A1.7 1.6 61 1 0 155.8 234.2ZM247.1 63.4A2.8 1.8 153 1 0 252.1 61.0A2.8 1.8 153 1 0 247.1 63.4ZM244.1 219.7A2.0 1.1 34 1 0 240.8 217.5A2.0 1.1 34 1 0 244.1 219.7ZM266.1 95.5A2.5 2.0 119 1 0 268.6 91.1A2.5 2.0 119 1 0 266.1 95.5ZM91.0 91.4A1.7 1.6 68 1 0 89.7 88.2A1.7 1.6 68 1 0 91.0 91.4ZM207.5 194.0A1.9 1.1 2 1 0 203.7 193.8A1.9 1.1 2 1 0 207.5 194.0ZM252.7 88.7A2.9 2.1 130 1 0 256.5 84.2A2.9 2.1 130 1 0 252.7 88.7ZM79.9 249.2A2.0 1.4 94 1 0 80.2 245.3A2.0 1.4 94 1 0 79.9 249.2ZM74.4 117.9A2.7 1.8 68 1 0 72.5 112.9A2.7 1.8 68 1 0 74.4 117.9ZM233.8 111.2A1.9 1.2 69 1 0 232.4 107.7A1.9 1.2 69 1 0 233.8 111.2ZM137.7 211.8A2.3 2.0 9 1 0 133.3 211.1A2.3 2.0 9 1 0 137.7 211.8ZM208.8 261.0A1.9 1.1 78 1 0 208.0 257.2A1.9 1.1 78 1 0 208.8 261.0ZM76.9 168.1A2.6 1.5 21 1 0 72.1 166.2A2.6 1.5 21 1 0 76.9 168.1ZM165.2 97.9A1.9 1.4 21 1 0 161.6 96.5A1.9 1.4 21 1 0 165.2 97.9ZM62.4 145.2A2.3 2.1 99 1 0 63.2 140.7A2.3 2.1 99 1 0 62.4 145.2ZM61.3 110.1A2.6 2.0 156 1 0 66.1 108.0A2.6 2.0 156 1 0 61.3 110.1ZM281.3 266.1A1.8 1.6 94 1 0 281.6 262.6A1.8 1.6 94 1 0 281.3 266.1ZM107.5 97.1A2.8 1.8 14 1 0 102.1 95.7A2.8 1.8 14 1 0 107.5 97.1ZM113.2 281.1A2.2 1.9 13 1 0 108.9 280.0A2.2 1.9 13 1 0 113.2 281.1ZM157.7 134.1A1.9 1.5 65 1 0 156.1 130.7A1.9 1.5 65 1 0 157.7 134.1ZM77.7 295.3A2.3 1.4 1 1 0 73.2 295.2A2.3 1.4 1 1 0 77.7 295.3ZM204.7 181.7A1.6 1.2 133 1 0 206.9 179.3A1.6 1.2 133 1 0 204.7 181.7ZM176.4 114.0A2.3 1.8 117 1 0 178.5 109.9A2.3 1.8 117 1 0 176.4 114.0ZM79.0 252.4A2.9 2.5 154 1 0 84.3 249.8A2.9 2.5 154 1 0 79.0 252.4ZM135.5 277.1A1.9 1.2 107 1 0 136.6 273.6A1.9 1.2 107 1 0 135.5 277.1ZM266.9 76.6A1.9 1.1 79 1 0 266.2 72.9A1.9 1.1 79 1 0 266.9 76.6ZM77.9 102.0A2.6 2.1 169 1 0 83.1 101.0A2.6 2.1 169 1 0 77.9 102.0ZM145.6 221.8A1.6 1.5 41 1 0 143.2 219.6A1.6 1.5 41 1 0 145.6 221.8ZM159.9 179.8A2.9 2.2 178 1 0 165.7 179.7A2.9 2.2 178 1 0 159.9 179.8ZM195.3 107.6A2.8 1.7 179 1 0 200.8 107.6A2.8 1.7 179 1 0 195.3 107.6ZM158.6 112.8A2.9 2.0 73 1 0 156.9 107.2A2.9 2.0 73 1 0 158.6 112.8ZM131.5 218.9A1.6 1.1 29 1 0 128.6 217.3A1.6 1.1 29 1 0 131.5 218.9ZM248.9 57.2A2.5 1.6 81 1 0 248.2 52.3A2.5 1.6 81 1 0 248.9 57.2ZM185.2 229.3A1.8 1.2 21 1 0 181.9 228.0A1.8 1.2 21 1 0 185.2 229.3ZM280.4 92.9A1.8 1.4 104 1 0 281.3 89.4A1.8 1.4 104 1 0 280.4 92.9ZM262.4 70.5A1.9 1.2 105 1 0 263.4 66.8A1.9 1.2 105 1 0 262.4 70.5ZM154.2 155.9A2.8 2.3 154 1 0 159.3 153.4A2.8 2.3 154 1 0 154.2 155.9ZM283.0 120.9A2.9 2.1 9 1 0 277.2 120.0A2.9 2.1 9 1 0 283.0 120.9ZM270.8 81.4A1.6 1.1 52 1 0 268.8 78.9A1.6 1.1 52 1 0 270.8 81.4ZM280.6 268.4A2.2 1.7 152 1 0 284.5 266.4A2.2 1.7 152 1 0 280.6 268.4ZM245.1 216.0A2.3 1.4 43 1 0 241.8 212.8A2.3 1.4 43 1 0 245.1 216.0ZM204.3 198.3A2.7 2.5 173 1 0 209.7 197.7A2.7 2.5 173 1 0 204.3 198.3ZM95.7 74.8A2.9 2.2 32 1 0 90.9 71.7A2.9 2.2 32 1 0 95.7 74.8Z" fill="#7d84a2" fill-opacity="0.8"/>
<path d="M215.2 119.2A2.0 1.4 94 1 0 215.5 115.2A2.0 1.4 94 1 0 215.2 119.2ZM212.0 75.6A3.0 2.4 84 1 0 211.5 69.7A3.0 2.4 84 1 0 212.0 75.6ZM209.7 251.4A1.5 1.1 122 1 0 211.3 248.8A1.5 1.1 122 1 0 209.7 251.4ZM218.1 214.1A1.9 1.7 141 1 0 221.0 211.8A1.9 1.7 141 1 0 218.1 214.1ZM104.1 163.2A3.4 2.2 73 1 0 102.2 156.7A3.4 2.2 73 1 0 104.1 163.2ZM282.1 276.5A2.0 1.7 64 1 0 280.4 272.9A2.0 1.7 64 1 0 282.1 276.5ZM209.7 243.2A1.8 1.1 38 1 0 206.9 241.0A1.8 1.1 38 1 0 209.7 243.2ZM111.7 65.1A1.8 1.3 75 1 0 110.8 61.7A1.8 1.3 75 1 0 111.7 65.1ZM66.7 200.1A3.4 2.6 64 1 0 63.7 194.0A3.4 2.6 64 1 0 66.7 200.1ZM220.2 161.7A1.9 1.4 3 1 0 216.5 161.5A1.9 1.4 3 1 0 220.2 161.7ZM209.7 95.5A2.2 2.1 138 1 0 213.1 92.5A2.2 2.1 138 1 0 209.7 95.5ZM247.7 211.9A2.8 2.3 173 1 0 253.2 211.3A2.8 2.3 173 1 0 247.7 211.9ZM92.4 243.1A2.1 1.4 147 1 0 96.0 240.8A2.1 1.4 147 1 0 92.4 243.1ZM195.8 264.3A3.3 2.6 35 1 0 190.5 260.5A3.3 2.6 35 1 0 195.8 264.3ZM52.7 186.1A3.0 1.9 12 1 0 47.0 184.8A3.0 1.9 12 1 0 52.7 186.1ZM49.5 98.9A2.9 1.6 41 1 0 45.2 95.1A2.9 1.6 41 1 0 49.5 98.9ZM114.3 229.7A3.5 1.9 20 1 0 107.7 227.3A3.5 1.9 20 1 0 114.3 229.7ZM274.5 293.6A1.8 1.2 94 1 0 274.7 290.0A1.8 1.2 94 1 0 274.5 293.6ZM126.9 157.1A2.5 1.6 9 1 0 122.0 156.3A2.5 1.6 9 1 0 126.9 157.1ZM65.7 95.8A1.7 1.3 125 1 0 67.7 93.0A1.7 1.3 125 1 0 65.7 95.8ZM110.5 251.2A3.0 2.0 88 1 0 110.4 245.2A3.0 2.0 88 1 0 110.5 251.2ZM94.6 283.0A2.6 1.5 27 1 0 89.9 280.5A2.6 1.5 27 1 0 94.6 283.0ZM213.1 150.6A2.9 1.9 143 1 0 217.8 147.1A2.9 1.9 143 1 0 213.1 150.6ZM240.6 79.8A2.7 1.7 127 1 0 243.8 75.6A2.7 1.7 127 1 0 240.6 79.8ZM241.7 249.8A2.0 1.2 119 1 0 243.7 246.4A2.0 1.2 119 1 0 241.7 249.8ZM186.1 89.1A1.9 1.5 19 1 0 182.5 87.9A1.9 1.5 19 1 0 186.1 89.1ZM200.9 115.6A2.0 1.5 95 1 0 201.3 111.6A2.0 1.5 95 1 0 200.9 115.6ZM225.1 64.6A2.9 1.9 52 1 0 221.4 59.9A2.9 1.9 52 1 0 225.1 64.6ZM204.8 225.3A2.7 2.5 36 1 0 200.4 222.0A2.7 2.5 36 1 0 204.8 225.3ZM123.8 217.9A2.0 1.2 40 1 0 120.7 215.3A2.0 1.2 40 1 0 123.8 217.9ZM232.4 258.6A2.9 2.7 142 1 0 237.1 255.1A2.9 2.7 142 1 0 232.4 258.6ZM120.9 134.6A2.9 1.7 109 1 0 122.9 129.0A2.9 1.7 109 1 0 120.9 134.6ZM65.5 67.2A2.5 1.5 167 1 0 70.5 66.2A2.5 1.5 167 1 0 65.5 67.2ZM260.6 169.4A1.9 1.1 91 1 0 260.6 165.7A1.9 1.1 91 1 0 260.6 169.4ZM171.4 145.3A2.9 2.2 139 1 0 175.8 141.5A2.9 2.2 139 1 0 171.4 145.3ZM73.8 73.4A2.3 1.7 45 1 0 70.6 70.2A2.3 1.7 45 1 0 73.8 73.4ZM208.3 110.6A2.1 1.6 128 1 0 210.9 107.2A2.1 1.6 128 1 0 208.3 110.6ZM232.1 146.0A2.4 2.2 168 1 0 236.8 145.0A2.4 2.2 168 1 0 232.1 146.0ZM199.0 82.2A2.4 1.9 50 1 0 195.9 78.5A2.4 1.9 50 1 0 199.0 82.2ZM55.7 297.8A3.3 2.0 83 1 0 55.0 291.2A3.3 2.0 83 1 0 55.7 297.8ZM196.3 129.1A1.6 1.4 138 1 0 198.8 126.9A1.6 1.4 138 1 0 196.3 129.1ZM150.8 75.9A2.3 1.3 173 1 0 155.4 75.4A2.3 1.3 173 1 0 150.8 75.9ZM61.6 126.1A3.0 1.8 19 1 0 55.9 124.1A3.0 1.8 19 1 0 61.6 126.1ZM65.7 96.1A2.6 2.3 30 1 0 61.3 93.5A2.6 2.3 30 1 0 65.7 96.1ZM90.8 242.5A2.4 1.6 22 1 0 86.5 240.8A2.4 1.6 22 1 0 90.8 242.5ZM104.4 293.5A1.7 1.1 133 1 0 106.7 290.9A1.7 1.1 133 1 0 104.4 293.5ZM263.4 278.0A2.4 2.3 108 1 0 264.9 273.4A2.4 2.3 108 1 0 263.4 278.0ZM119.5 169.6A2.9 2.5 23 1 0 114.1 167.2A2.9 2.5 23 1 0 119.5 169.6ZM94.4 290.4A1.7 1.5 60 1 0 92.7 287.4A1.7 1.5 60 1 0 94.4 290.4ZM109.0 118.2A2.4 2.3 26 1 0 104.6 116.0A2.4 2.3 26 1 0 109.0 118.2ZM255.9 134.8A1.8 1.6 61 1 0 254.2 131.6A1.8 1.6 61 1 0 255.9 134.8ZM91.3 160.0A3.1 2.8 103 1 0 92.8 153.9A3.1 2.8 103 1 0 91.3 160.0ZM46.1 241.7A2.7 2.5 171 1 0 51.4 240.9A2.7 2.5 171 1 0 46.1 241.7ZM127.4 264.9A3.1 2.1 65 1 0 124.8 259.2A3.1 2.1 65 1 0 127.4 264.9ZM139.5 142.4A2.3 1.3 40 1 0 136.1 139.5A2.3 1.3 40 1 0 139.5 142.4ZM266.5 157.0A2.8 2.5 136 1 0 270.5 153.1A2.8 2.5 136 1 0 266.5 157.0ZM103.9 281.8A3.1 2.9 131 1 0 108.0 277.1A3.1 2.9 131 1 0 103.9 281.8ZM231.4 255.3A2.0 1.6 68 1 0 229.9 251.5A2.0 1.6 68 1 0 231.4 255.3ZM249.2 88.7A2.6 1.8 147 1 0 253.6 86.0A2.6 1.8 147 1 0 249.2 88.7ZM133.5 262.3A3.2 2.9 25 1 0 127.7 259.6A3.2 2.9 25 1 0 133.5 262.3ZM278.3 237.0A2.9 2.3 8 1 0 272.7 236.2A2.9 2.3 8 1 0 278.3 237.0ZM257.0 190.1A2.4 1.7 140 1 0 260.7 187.1A2.4 1.7 140 1 0 257.0 190.1ZM238.7 268.7A1.9 1.3 44 1 0 236.0 265.9A1.9 1.3 44 1 0 238.7 268.7ZM71.9 135.7A1.6 1.3 40 1 0 69.6 133.6A1.6 1.3 40 1 0 71.9 135.7ZM63.8 74.2A3.0 1.9 83 1 0 63.1 68.3A3.0 1.9 83 1 0 63.8 74.2ZM143.0 253.9A3.4 2.3 113 1 0 145.8 247.7A3.4 2.3 113 1 0 143.0 253.9ZM266.7 172.4A3.3 2.8 56 1 0 263.0 166.9A3.3 2.8 56 1 0 266.7 172.4ZM258.3 195.7A1.7 1.3 149 1 0 261.3 193.9A1.7 1.3 149 1 0 258.3 195.7ZM171.8 175.0A2.3 2.1 119 1 0 174.1 171.0A2.3 2.1 119 1 0 171.8 175.0ZM95.7 145.1A2.2 2.1 125 1 0 98.3 141.4A2.2 2.1 125 1 0 95.7 145.1ZM77.0 279.7A1.6 1.2 77 1 0 76.4 276.6A1.6 1.2 77 1 0 77.0 279.7ZM220.1 160.5A1.7 1.3 147 1 0 223.0 158.7A1.7 1.3 147 1 0 220.1 160.5ZM237.4 143.0A1.9 1.6 144 1 0 240.6 140.7A1.9 1.6 144 1 0 237.4 143.0ZM101.0 273.8A3.5 2.5 68 1 0 98.4 267.3A3.5 2.5 68 1 0 101.0 273.8ZM220.7 283.6A1.9 1.3 59 1 0 218.7 280.3A1.9 1.3 59 1 0 220.7 283.6ZM223.8 102.6A2.6 1.9 120 1 0 226.5 98.1A2.6 1.9 120 1 0 223.8 102.6ZM78.4 290.6A3.5 2.7 143 1 0 84.0 286.4A3.5 2.7 143 1 0 78.4 290.6ZM88.6 278.2A2.6 2.2 156 1 0 93.4 276.1A2.6 2.2 156 1 0 88.6 278.2ZM134.6 282.4A1.9 1.1 90 1 0 134.6 278.6A1.9 1.1 90 1 0 134.6 282.4ZM262.5 275.5A3.4 2.6 167 1 0 269.2 274.1A3.4 2.6 167 1 0 262.5 275.5ZM183.7 92.5A2.8 2.4 76 1 0 182.4 87.1A2.8 2.4 76 1 0 183.7 92.5ZM193.3 120.1A2.1 1.5 92 1 0 193.4 116.0A2.1 1.5 92 1 0 193.3 120.1ZM159.7 78.4A1.5 1.0 129 1 0 161.6 76.1A1.5 1.0 129 1 0 159.7 78.4ZM230.8 113.7A2.0 1.5 31 1 0 227.4 111.6A2.0 1.5 31 1 0 230.8 113.7ZM192.3 277.1A1.9 1.5 129 1 0 194.8 274.2A1.9 1.5 129 1 0 192.3 277.1ZM226.8 230.2A2.9 1.9 150 1 0 231.9 227.3A2.9 1.9 150 1 0 226.8 230.2ZM275.6 68.5A3.4 2.5 15 1 0 269.0 66.6A3.4 2.5 15 1 0 275.6 68.5ZM63.6 252.3A2.9 1.7 82 1 0 62.9 246.6A2.9 1.7 82 1 0 63.6 252.3ZM203.9 300.0A2.2 1.9 44 1 0 200.7 297.0A2.2 1.9 44 1 0 203.9 300.0ZM96.1 96.0A2.3 1.8 54 1 0 93.5 92.2A2.3 1.8 54 1 0 96.1 96.0ZM86.7 109.5A1.7 1.0 56 1 0 84.9 106.7A1.7 1.0 56 1 0 86.7 109.5ZM167.1 99.8A2.5 1.8 175 1 0 172.0 99.4A2.5 1.8 175 1 0 167.1 99.8ZM164.3 288.0A2.4 1.5 106 1 0 165.7 283.3A2.4 1.5 106 1 0 164.3 288.0ZM79.9 96.2A1.6 1.4 174 1 0 83.2 95.9A1.6 1.4 174 1 0 79.9 96.2ZM143.5 143.2A2.4 1.6 124 1 0 146.1 139.3A2.4 1.6 124 1 0 143.5 143.2ZM145.2 92.0A3.2 2.5 1 1 0 138.8 91.9A3.2 2.5 1 1 0 145.2 92.0ZM251.7 233.3A2.2 1.8 165 1 0 256.0 232.2A2.2 1.8 165 1 0 251.7 233.3ZM143.3 162.2A2.1 1.6 119 1 0 145.4 158.6A2.1 1.6 119 1 0 143.3 162.2ZM224.2 287.5A1.8 1.2 153 1 0 227.4 285.9A1.8 1.2 153 1 0 224.2 287.5ZM236.7 199.4A2.9 2.0 170 1 0 242.3 198.4A2.9 2.0 170 1 0 236.7 199.4ZM178.7 153.7A1.9 1.1 161 1 0 182.2 152.5A1.9 1.1 161 1 0 178.7 153.7ZM241.9 63.4A2.1 1.6 89 1 0 241.8 59.1A2.1 1.6 89 1 0 241.9 63.4ZM132.9 274.0A2.2 1.7 167 1 0 137.2 273.0A2.2 1.7 167 1 0 132.9 274.0ZM201.7 173.3A2.2 1.5 109 1 0 203.1 169.2A2.2 1.5 109 1 0 201.7 173.3ZM239.2 120.4A2.2 1.6 65 1 0 237.4 116.4A2.2 1.6 65 1 0 239.2 120.4ZM267.6 187.5A2.1 1.4 147 1 0 271.1 185.3A2.1 1.4 147 1 0 267.6 187.5ZM86.9 223.6A1.5 1.0 10 1 0 83.8 223.0A1.5 1.0 10 1 0 86.9 223.6ZM244.4 92.0A2.0 1.1 47 1 0 241.8 89.2A2.0 1.1 47 1 0 244.4 92.0ZM224.9 234.0A3.3 3.1 99 1 0 226.0 227.4A3.3 3.1 99 1 0 224.9 234.0ZM274.3 78.5A3.4 2.4 34 1 0 268.8 74.7A3.4 2.4 34 1 0 274.3 78.5ZM226.9 265.4A2.3 1.3 157 1 0 231.1 263.7A2.3 1.3 157 1 0 226.9 265.4ZM233.8 201.2A3.5 2.0 10 1 0 227.0 200.0A3.5 2.0 10 1 0 233.8 201.2ZM79.3 61.0A2.9 2.3 20 1 0 73.8 59.0A2.9 2.3 20 1 0 79.3 61.0ZM83.1 99.2A2.7 2.2 174 1 0 88.5 98.7A2.7 2.2 174 1 0 83.1 99.2ZM136.0 295.7A2.4 1.7 45 1 0 132.7 292.3A2.4 1.7 45 1 0 136.0 295.7ZM106.0 294.7A3.5 2.9 31 1 0 100.1 291.1A3.5 2.9 31 1 0 106.0 294.7ZM92.3 92.3A2.2 1.9 10 1 0 88.0 91.5A2.2 1.9 10 1 0 92.3 92.3ZM174.5 222.0A1.6 1.1 142 1 0 177.0 220.1A1.6 1.1 142 1 0 174.5 222.0ZM188.5 167.9A3.3 2.6 60 1 0 185.3 162.2A3.3 2.6 60 1 0 188.5 167.9ZM142.4 288.4A3.2 2.9 100 1 0 143.6 282.1A3.2 2.9 100 1 0 142.4 288.4ZM83.3 97.5A2.3 1.9 0 1 0 78.8 97.4A2.3 1.9 0 1 0 83.3 97.5ZM240.2 248.3A2.5 1.4 143 1 0 244.3 245.3A2.5 1.4 143 1 0 240.2 248.3ZM148.2 220.8A2.6 2.2 73 1 0 146.7 215.7A2.6 2.2 73 1 0 148.2 220.8ZM282.6 291.0A3.4 2.7 56 1 0 279.0 285.4A3.4 2.7 56 1 0 282.6 291.0ZM135.6 122.5A3.3 2.9 141 1 0 140.8 118.4A3.3 2.9 141 1 0 135.6 122.5ZM244.8 298.8A2.9 1.9 136 1 0 249.0 294.9A2.9 1.9 136 1 0 244.8 298.8ZM110.4 205.8A1.8 1.6 87 1 0 110.2 202.2A1.8 1.6 87 1 0 110.4 205.8ZM112.2 281.4A1.7 1.5 136 1 0 114.6 279.1A1.7 1.5 136 1 0 112.2 281.4ZM81.9 243.3A2.6 2.4 105 1 0 83.3 238.2A2.6 2.4 105 1 0 81.9 243.3ZM152.2 283.3A1.7 1.4 18 1 0 149.0 282.3A1.7 1.4 18 1 0 152.2 283.3ZM111.7 84.9A3.2 2.4 130 1 0 115.9 80.0A3.2 2.4 130 1 0 111.7 84.9ZM109.0 236.0A2.8 1.6 88 1 0 108.9 230.4A2.8 1.6 88 1 0 109.0 236.0ZM223.7 109.7A2.8 1.9 66 1 0 221.5 104.5A2.8 1.9 66 1 0 223.7 109.7ZM270.3 288.6A3.5 2.5 102 1 0 271.8 281.8A3.5 2.5 102 1 0 270.3 288.6ZM244.5 242.4A2.4 2.2 72 1 0 243.1 237.8A2.4 2.2 72 1 0 244.5 242.4ZM279.9 171.0A1.7 1.5 26 1 0 276.8 169.5A1.7 1.5 26 1 0 279.9 171.0ZM209.9 70.3A3.5 2.7 133 1 0 214.7 65.3A3.5 2.7 133 1 0 209.9 70.3ZM76.4 211.6A2.3 1.5 146 1 0 80.1 209.1A2.3 1.5 146 1 0 76.4 211.6ZM52.7 172.1A1.7 1.5 160 1 0 55.9 171.0A1.7 1.5 160 1 0 52.7 172.1ZM53.0 170.1A2.4 2.0 131 1 0 56.2 166.4A2.4 2.0 131 1 0 53.0 170.1ZM128.5 283.7A1.9 1.1 146 1 0 131.6 281.6A1.9 1.1 146 1 0 128.5 283.7ZM77.7 101.4A2.5 1.7 29 1 0 73.4 98.9A2.5 1.7 29 1 0 77.7 101.4ZM270.5 171.4A3.1 2.0 164 1 0 276.4 169.7A3.1 2.0 164 1 0 270.5 171.4ZM98.2 278.0A2.7 2.6 138 1 0 102.3 274.4A2.7 2.6 138 1 0 98.2 278.0ZM203.4 185.9A3.2 2.3 17 1 0 197.3 184.0A3.2 2.3 17 1 0 203.4 185.9ZM271.7 253.5A2.9 2.4 41 1 0 267.4 249.7A2.9 2.4 41 1 0 271.7 253.5ZM162.4 257.5A3.4 3.1 28 1 0 156.4 254.2A3.4 3.1 28 1 0 162.4 257.5ZM215.4 191.1A2.3 1.4 24 1 0 211.2 189.2A2.3 1.4 24 1 0 215.4 191.1ZM160.8 177.2A2.0 1.4 99 1 0 161.5 173.2A2.0 1.4 99 1 0 160.8 177.2ZM233.1 200.4A1.8 1.6 66 1 0 231.7 197.1A1.8 1.6 66 1 0 233.1 200.4ZM279.0 294.8A1.8 1.4 174 1 0 282.5 294.4A1.8 1.4 174 1 0 279.0 294.8ZM142.0 189.8A2.1 1.2 36 1 0 138.6 187.2A2.1 1.2 36 1 0 142.0 189.8ZM73.8 124.6A2.8 2.1 170 1 0 79.2 123.7A2.8 2.1 170 1 0 73.8 124.6ZM213.3 146.6A3.4 2.7 97 1 0 214.2 139.9A3.4 2.7 97 1 0 213.3 146.6ZM258.3 220.2A2.2 1.8 54 1 0 255.7 216.6A2.2 1.8 54 1 0 258.3 220.2ZM286.5 114.5A3.4 2.0 1 1 0 279.6 114.3A3.4 2.0 1 1 0 286.5 114.5ZM179.2 106.2A2.5 1.5 150 1 0 183.6 103.8A2.5 1.5 150 1 0 179.2 106.2ZM207.9 224.8A3.4 3.2 122 1 0 211.5 219.1A3.4 3.2 122 1 0 207.9 224.8ZM218.9 55.3A1.6 1.2 174 1 0 222.1 55.0A1.6 1.2 174 1 0 218.9 55.3ZM121.3 194.1A1.5 1.1 162 1 0 124.1 193.2A1.5 1.1 162 1 0 121.3 194.1ZM191.6 257.0A1.5 1.0 32 1 0 189.0 255.4A1.5 1.0 32 1 0 191.6 257.0ZM246.5 80.8A3.4 2.2 158 1 0 252.7 78.3A3.4 2.2 158 1 0 246.5 80.8ZM170.2 136.6A3.4 2.4 125 1 0 174.2 131.0A3.4 2.4 125 1 0 170.2 136.6ZM60.2 260.1A3.5 2.1 134 1 0 65.1 255.2A3.5 2.1 134 1 0 60.2 260.1ZM110.1 91.2A2.2 1.8 171 1 0 114.5 90.5A2.2 1.8 171 1 0 110.1 91.2ZM291.5 298.9A2.7 2.2 29 1 0 286.7 296.2A2.7 2.2 29 1 0 291.5 298.9ZM225.2 191.0A2.2 2.0 45 1 0 222.1 187.8A2.2 2.0 45 1 0 225.2 191.0ZM79.4 94.4A1.8 1.4 144 1 0 82.3 92.3A1.8 1.4 144 1 0 79.4 94.4ZM86.0 180.1A2.6 2.1 74 1 0 84.6 175.0A2.6 2.1 74 1 0 86.0 180.1ZM180.2 59.5A1.6 1.2 42 1 0 177.9 57.3A1.6 1.2 42 1 0 180.2 59.5ZM234.2 114.7A3.1 2.0 16 1 0 228.2 112.9A3.1 2.0 16 1 0 234.2 114.7ZM164.6 150.8A2.2 1.9 40 1 0 161.2 148.0A2.2 1.9 40 1 0 164.6 150.8ZM207.6 259.3A2.4 1.8 166 1 0 212.3 258.1A2.4 1.8 166 1 0 207.6 259.3ZM194.7 100.3A1.6 1.0 59 1 0 193.0 97.5A1.6 1.0 59 1 0 194.7 100.3ZM67.8 215.6A2.3 1.6 92 1 0 68.0 210.9A2.3 1.6 92 1 0 67.8 215.6ZM276.1 116.0A1.8 1.2 58 1 0 274.2 112.9A1.8 1.2 58 1 0 276.1 116.0ZM270.9 227.6A2.4 1.5 8 1 0 266.2 227.0A2.4 1.5 8 1 0 270.9 227.6ZM75.0 264.4A2.8 1.7 112 1 0 77.2 259.2A2.8 1.7 112 1 0 75.0 264.4ZM59.0 180.2A2.2 1.3 133 1 0 62.0 177.0A2.2 1.3 133 1 0 59.0 180.2ZM221.8 181.3A1.8 1.5 77 1 0 221.0 177.7A1.8 1.5 77 1 0 221.8 181.3ZM210.3 79.2A3.3 1.8 40 1 0 205.3 74.9A3.3 1.8 40 1 0 210.3 79.2ZM141.9 103.2A1.7 1.4 178 1 0 145.2 103.2A1.7 1.4 178 1 0 141.9 103.2ZM128.9 122.5A2.8 1.8 72 1 0 127.2 117.1A2.8 1.8 72 1 0 128.9 122.5ZM214.2 161.8A1.8 1.0 97 1 0 214.7 158.2A1.8 1.0 97 1 0 214.2 161.8ZM288.4 281.2A1.7 1.3 87 1 0 288.2 277.8A1.7 1.3 87 1 0 288.4 281.2ZM95.1 220.4A2.5 2.2 52 1 0 92.1 216.4A2.5 2.2 52 1 0 95.1 220.4ZM274.6 256.2A2.4 1.5 87 1 0 274.3 251.3A2.4 1.5 87 1 0 274.6 256.2ZM74.4 222.5A2.9 2.3 175 1 0 80.1 222.1A2.9 2.3 175 1 0 74.4 222.5ZM58.9 232.1A3.1 1.8 57 1 0 55.6 226.9A3.1 1.8 57 1 0 58.9 232.1ZM57.6 199.6A2.9 2.0 125 1 0 61.0 194.8A2.9 2.0 125 1 0 57.6 199.6ZM136.2 230.8A2.1 1.9 78 1 0 135.4 226.8A2.1 1.9 78 1 0 136.2 230.8ZM45.9 79.7A3.0 2.6 114 1 0 48.3 74.4A3.0 2.6 114 1 0 45.9 79.7ZM85.2 270.6A2.9 1.7 68 1 0 83.1 265.1A2.9 1.7 68 1 0 85.2 270.6ZM208.9 56.2A1.6 1.1 157 1 0 211.8 55.0A1.6 1.1 157 1 0 208.9 56.2ZM286.7 133.9A3.3 2.9 155 1 0 292.7 131.1A3.3 2.9 155 1 0 286.7 133.9ZM189.4 294.3A2.8 2.6 101 1 0 190.5 288.9A2.8 2.6 101 1 0 189.4 294.3ZM95.2 183.8A2.5 1.7 67 1 0 93.3 179.2A2.5 1.7 67 1 0 95.2 183.8ZM170.9 200.4A1.9 1.3 90 1 0 171.0 196.5A1.9 1.3 90 1 0 170.9 200.4ZM169.1 159.9A2.8 1.8 95 1 0 169.6 154.2A2.8 1.8 95 1 0 169.1 159.9ZM113.4 245.8A2.9 2.5 93 1 0 113.8 240.0A2.9 2.5 93 1 0 113.4 245.8ZM108.6 282.9A2.5 1.8 52 1 0 105.5 278.9A2.5 1.8 52 1 0 108.6 282.9ZM142.4 230.2A3.1 2.3 131 1 0 146.5 225.6A3.1 2.3 131 1 0 142.4 230.2ZM99.2 167.2A2.2 1.5 64 1 0 97.3 163.2A2.2 1.5 64 1 0 99.2 167.2ZM229.2 235.1A1.9 1.2 141 1 0 232.1 232.7A1.9 1.2 141 1 0 229.2 235.1ZM208.0 222.1A2.8 2.3 49 1 0 204.4 217.9A2.8 2.3 49 1 0 208.0 222.1ZM61.0 144.4A1.6 1.5 94 1 0 61.2 141.3A1.6 1.5 94 1 0 61.0 144.4ZM211.5 293.6A3.1 2.0 60 1 0 208.5 288.2A3.1 2.0 60 1 0 211.5 293.6ZM73.9 251.9A3.0 2.2 66 1 0 71.5 246.4A3.0 2.2 66 1 0 73.9 251.9ZM109.6 175.1A2.9 2.7 152 1 0 114.8 172.4A2.9 2.7 152 1 0 109.6 175.1ZM255.9 162.2A2.3 1.6 175 1 0 260.6 161.9A2.3 1.6 175 1 0 255.9 162.2ZM89.2 94.2A2.1 1.9 153 1 0 92.9 92.3A2.1 1.9 153 1 0 89.2 94.2ZM129.9 264.7A3.3 2.4 34 1 0 124.5 261.0A3.3 2.4 34 1 0 129.9 264.7ZM235.4 148.0A1.7 1.6 79 1 0 234.7 144.6A1.7 1.6 79 1 0 235.4 148.0ZM144.0 202.1A2.0 1.1 70 1 0 142.7 198.3A2.0 1.1 70 1 0 144.0 202.1ZM140.0 59.3A2.2 1.9 59 1 0 137.8 55.5A2.2 1.9 59 1 0 140.0 59.3ZM211.3 208.9A1.9 1.0 121 1 0 213.3 205.7A1.9 1.0 121 1 0 211.3 208.9ZM193.7 127.0A1.9 1.7 163 1 0 197.3 126.0A1.9 1.7 163 1 0 193.7 127.0ZM105.9 198.2A2.6 1.8 6 1 0 100.6 197.6A2.6 1.8 6 1 0 105.9 198.2ZM128.2 213.2A2.7 2.0 22 1 0 123.2 211.2A2.7 2.0 22 1 0 128.2 213.2ZM96.0 131.5A2.3 1.6 162 1 0 100.4 130.1A2.3 1.6 162 1 0 96.0 131.5ZM76.0 297.1A2.0 1.8 43 1 0 73.1 294.4A2.0 1.8 43 1 0 76.0 297.1ZM188.4 147.8A1.6 1.4 145 1 0 191.0 146.0A1.6 1.4 145 1 0 188.4 147.8ZM114.4 244.8A2.5 2.3 9 1 0 109.6 244.0A2.5 2.3 9 1 0 114.4 244.8ZM136.7 111.7A2.7 2.4 151 1 0 141.6 109.1A2.7 2.4 151 1 0 136.7 111.7ZM182.3 151.6A3.1 1.8 46 1 0 178.1 147.1A3.1 1.8 46 1 0 182.3 151.6ZM230.6 165.8A3.5 2.0 83 1 0 229.7 158.9A3.5 2.0 83 1 0 230.6 165.8ZM98.8 56.8A1.7 1.0 66 1 0 97.5 53.7A1.7 1.0 66 1 0 98.8 56.8ZM151.8 180.9A2.1 1.7 92 1 0 152.0 176.7A2.1 1.7 92 1 0 151.8 180.9ZM287.1 98.4A2.5 1.9 66 1 0 285.2 93.7A2.5 1.9 66 1 0 287.1 98.4ZM258.3 108.7A3.3 2.3 60 1 0 255.1 103.1A3.3 2.3 60 1 0 258.3 108.7ZM194.4 192.7A2.1 1.2 171 1 0 198.5 192.1A2.1 1.2 171 1 0 194.4 192.7ZM137.9 85.1A2.8 2.1 58 1 0 135.0 80.2A2.8 2.1 58 1 0 137.9 85.1ZM124.3 261.5A2.2 1.6 172 1 0 128.6 260.9A2.2 1.6 172 1 0 124.3 261.5ZM133.5 154.5A1.8 1.5 119 1 0 135.3 151.4A1.8 1.5 119 1 0 133.5 154.5ZM155.5 155.8A2.0 1.7 82 1 0 155.0 152.0A2.0 1.7 82 1 0 155.5 155.8ZM251.8 148.2A3.0 1.7 39 1 0 247.2 144.4A3.0 1.7 39 1 0 251.8 148.2ZM281.2 224.3A2.9 2.1 85 1 0 280.7 218.6A2.9 2.1 85 1 0 281.2 224.3ZM96.4 99.0A2.8 2.3 46 1 0 92.6 95.0A2.8 2.3 46 1 0 96.4 99.0ZM203.6 90.7A2.7 1.7 91 1 0 203.8 85.3A2.7 1.7 91 1 0 203.6 90.7ZM122.3 190.9A1.8 1.3 110 1 0 123.6 187.6A1.8 1.3 110 1 0 122.3 190.9ZM78.1 132.8A2.9 2.2 111 1 0 80.2 127.5A2.9 2.2 111 1 0 78.1 132.8ZM235.1 195.4A1.9 1.4 149 1 0 238.5 193.4A1.9 1.4 149 1 0 235.1 195.4ZM182.5 239.0A2.2 1.6 174 1 0 186.9 238.6A2.2 1.6 174 1 0 182.5 239.0ZM248.8 214.4A1.7 1.4 5 1 0 245.4 214.1A1.7 1.4 5 1 0 248.8 214.4ZM271.8 293.6A3.0 1.9 152 1 0 277.1 290.9A3.0 1.9 152 1 0 271.8 293.6ZM87.1 257.9A2.5 1.4 160 1 0 91.9 256.2A2.5 1.4 160 1 0 87.1 257.9ZM151.1 258.8A2.9 2.2 155 1 0 156.4 256.4A2.9 2.2 155 1 0 151.1 258.8ZM96.9 276.2A2.2 1.2 60 1 0 94.8 272.4A2.2 1.2 60 1 0 96.9 276.2ZM64.8 73.7A2.7 1.6 28 1 0 59.9 71.0A2.7 1.6 28 1 0 64.8 73.7ZM114.6 124.2A3.3 3.0 156 1 0 120.8 121.5A3.3 3.0 156 1 0 114.6 124.2ZM285.1 163.0A3.1 2.0 166 1 0 291.1 161.6A3.1 2.0 166 1 0 285.1 163.0ZM242.4 234.1A2.0 1.1 166 1 0 246.2 233.2A2.0 1.1 166 1 0 242.4 234.1ZM179.3 207.0A3.2 2.0 125 1 0 183.0 201.7A3.2 2.0 125 1 0 179.3 207.0ZM157.2 247.1A2.4 1.5 172 1 0 162.0 246.5A2.4 1.5 172 1 0 157.2 247.1ZM113.1 239.3A3.2 2.1 125 1 0 116.7 234.2A3.2 2.1 125 1 0 113.1 239.3ZM143.8 111.2A1.9 1.8 66 1 0 142.2 107.7A1.9 1.8 66 1 0 143.8 111.2ZM169.7 178.3A1.6 1.3 134 1 0 171.9 176.1A1.6 1.3 134 1 0 169.7 178.3ZM259.0 143.4A1.9 1.3 131 1 0 261.6 140.5A1.9 1.3 131 1 0 259.0 143.4ZM204.5 154.6A2.5 1.6 165 1 0 209.5 153.3A2.5 1.6 165 1 0 204.5 154.6ZM159.5 180.9A3.1 1.9 130 1 0 163.5 176.2A3.1 1.9 130 1 0 159.5 180.9ZM131.8 254.8A1.7 1.1 114 1 0 133.2 251.7A1.7 1.1 114 1 0 131.8 254.8ZM164.6 149.4A2.7 1.7 78 1 0 163.6 144.2A2.7 1.7 78 1 0 164.6 149.4ZM46.3 251.9A2.0 1.8 99 1 0 47.0 247.9A2.0 1.8 99 1 0 46.3 251.9ZM194.3 209.1A1.8 1.5 52 1 0 192.1 206.3A1.8 1.5 52 1 0 194.3 209.1ZM257.6 249.7A2.9 2.5 78 1 0 256.5 244.1A2.9 2.5 78 1 0 257.6 249.7ZM211.3 289.4A1.9 1.1 74 1 0 210.3 285.8A1.9 1.1 74 1 0 211.3 289.4ZM171.4 93.0A1.9 1.7 69 1 0 170.1 89.3A1.9 1.7 69 1 0 171.4 93.0ZM82.8 102.1A2.7 1.7 85 1 0 82.4 96.8A2.7 1.7 85 1 0 82.8 102.1ZM180.1 162.3A2.5 2.2 3 1 0 175.1 162.0A2.5 2.2 3 1 0 180.1 162.3ZM273.1 104.9A1.6 1.4 102 1 0 273.8 101.9A1.6 1.4 102 1 0 273.1 104.9ZM175.7 110.2A3.1 2.1 130 1 0 179.7 105.6A3.1 2.1 130 1 0 175.7 110.2ZM102.2 197.5A2.8 2.0 86 1 0 101.8 191.9A2.8 2.0 86 1 0 102.2 197.5ZM61.7 214.8A2.9 1.8 99 1 0 62.6 209.1A2.9 1.8 99 1 0 61.7 214.8ZM228.5 79.9A3.2 2.9 9 1 0 222.2 78.9A3.2 2.9 9 1 0 228.5 79.9ZM107.0 77.2A2.0 1.2 88 1 0 106.8 73.2A2.0 1.2 88 1 0 107.0 77.2ZM105.5 129.5A2.4 1.7 141 1 0 109.3 126.6A2.4 1.7 141 1 0 105.5 129.5ZM223.8 84.3A1.9 1.1 59 1 0 221.8 80.9A1.9 1.1 59 1 0 223.8 84.3ZM75.1 227.0A3.1 2.9 37 1 0 70.2 223.2A3.1 2.9 37 1 0 75.1 227.0ZM55.9 241.9A2.3 2.1 70 1 0 54.4 237.5A2.3 2.1 70 1 0 55.9 241.9ZM123.2 75.8A3.4 2.6 79 1 0 121.9 69.1A3.4 2.6 79 1 0 123.2 75.8ZM155.7 244.2A3.2 2.3 32 1 0 150.3 240.9A3.2 2.3 32 1 0 155.7 244.2ZM145.1 274.8A2.3 1.9 100 1 0 145.9 270.3A2.3 1.9 100 1 0 145.1 274.8ZM157.1 196.0A2.0 1.5 155 1 0 160.8 194.4A2.0 1.5 155 1 0 157.1 196.0ZM69.0 145.0A3.3 3.1 2 1 0 62.5 144.7A3.3 3.1 2 1 0 69.0 145.0ZM202.4 210.4A3.2 2.4 23 1 0 196.5 207.9A3.2 2.4 23 1 0 202.4 210.4ZM118.3 231.5A3.0 1.9 115 1 0 120.9 226.2A3.0 1.9 115 1 0 118.3 231.5ZM207.5 216.8A1.5 1.1 58 1 0 205.9 214.2A1.5 1.1 58 1 0 207.5 216.8ZM193.2 138.4A1.8 1.4 51 1 0 191.1 135.6A1.8 1.4 51 1 0 193.2 138.4ZM241.9 130.3A2.6 2.3 20 1 0 237.0 128.5A2.6 2.3 20 1 0 241.9 130.3ZM222.7 73.9A3.4 1.9 130 1 0 227.1 68.8A3.4 1.9 130 1 0 222.7 73.9ZM136.9 100.8A2.3 1.7 74 1 0 135.7 96.4A2.3 1.7 74 1 0 136.9 100.8ZM76.9 184.4A2.1 2.0 68 1 0 75.3 180.5A2.1 2.0 68 1 0 76.9 184.4ZM151.1 113.5A3.4 2.3 116 1 0 154.1 107.4A3.4 2.3 116 1 0 151.1 113.5ZM252.5 151.8A3.0 2.0 19 1 0 246.8 149.8A3.0 2.0 19 1 0 252.5 151.8ZM57.1 167.6A3.2 2.1 79 1 0 55.9 161.2A3.2 2.1 79 1 0 57.1 167.6ZM233.1 124.0A1.8 1.4 76 1 0 232.2 120.4A1.8 1.4 76 1 0 233.1 124.0ZM276.1 275.9A2.0 1.5 74 1 0 275.1 272.1A2.0 1.5 74 1 0 276.1 275.9ZM53.6 166.5A3.3 2.2 105 1 0 55.4 160.1A3.3 2.2 105 1 0 53.6 166.5ZM221.8 72.8A3.3 2.0 54 1 0 217.9 67.4A3.3 2.0 54 1 0 221.8 72.8ZM221.3 61.7A2.3 1.4 85 1 0 221.0 57.2A2.3 1.4 85 1 0 221.3 61.7ZM51.9 92.2A1.9 1.1 16 1 0 48.2 91.1A1.9 1.1 16 1 0 51.9 92.2ZM94.2 182.9A1.8 1.6 75 1 0 93.3 179.5A1.8 1.6 75 1 0 94.2 182.9ZM105.6 115.9A3.2 1.8 133 1 0 110.0 111.3A3.2 1.8 133 1 0 105.6 115.9ZM67.9 286.5A2.3 1.8 155 1 0 72.2 284.6A2.3 1.8 155 1 0 67.9 286.5ZM68.9 72.6A2.9 2.3 129 1 0 72.6 68.1A2.9 2.3 129 1 0 68.9 72.6ZM115.3 177.6A1.9 1.4 50 1 0 112.9 174.7A1.9 1.4 50 1 0 115.3 177.6ZM191.3 128.3A2.0 1.7 15 1 0 187.4 127.2A2.0 1.7 15 1 0 191.3 128.3ZM242.0 177.8A2.0 1.2 91 1 0 242.1 173.9A2.0 1.2 91 1 0 242.0 177.8ZM167.2 231.3A2.2 1.6 160 1 0 171.5 229.8A2.2 1.6 160 1 0 167.2 231.3ZM109.9 295.1A3.3 3.1 169 1 0 116.4 293.9A3.3 3.1 169 1 0 109.9 295.1ZM106.3 253.7A2.7 1.7 179 1 0 111.8 253.7A2.7 1.7 179 1 0 106.3 253.7ZM202.1 253.7A2.6 1.5 155 1 0 206.9 251.5A2.6 1.5 155 1 0 202.1 253.7ZM89.4 120.7A2.7 1.7 83 1 0 88.8 115.3A2.7 1.7 83 1 0 89.4 120.7ZM220.8 81.0A2.8 1.7 85 1 0 220.4 75.3A2.8 1.7 85 1 0 220.8 81.0ZM203.4 222.9A1.6 1.0 172 1 0 206.5 222.5A1.6 1.0 172 1 0 203.4 222.9ZM140.2 160.2A2.2 1.9 133 1 0 143.3 156.9A2.2 1.9 133 1 0 140.2 160.2ZM207.3 154.5A2.6 2.0 33 1 0 202.9 151.6A2.6 2.0 33 1 0 207.3 154.5ZM278.6 293.6A3.1 2.9 83 1 0 277.9 287.5A3.1 2.9 83 1 0 278.6 293.6ZM248.3 114.1A3.0 2.5 168 1 0 254.2 112.9A3.0 2.5 168 1 0 248.3 114.1ZM250.0 271.6A2.0 1.8 85 1 0 249.7 267.6A2.0 1.8 85 1 0 250.0 271.6ZM119.8 146.2A3.1 2.7 152 1 0 125.3 143.3A3.1 2.7 152 1 0 119.8 146.2ZM211.2 97.4A1.8 1.4 38 1 0 208.4 95.2A1.8 1.4 38 1 0 211.2 97.4ZM129.8 80.9A1.8 1.5 40 1 0 127.1 78.6A1.8 1.5 40 1 0 129.8 80.9ZM255.6 137.5A3.2 2.1 48 1 0 251.3 132.7A3.2 2.1 48 1 0 255.6 137.5ZM145.1 57.7A2.4 1.7 2 1 0 140.3 57.6A2.4 1.7 2 1 0 145.1 57.7ZM257.9 147.4A1.5 1.4 41 1 0 255.6 145.4A1.5 1.4 41 1 0 257.9 147.4ZM107.6 62.3A1.7 1.4 104 1 0 108.5 59.0A1.7 1.4 104 1 0 107.6 62.3ZM170.2 116.8A2.1 1.9 67 1 0 168.6 113.0A2.1 1.9 67 1 0 170.2 116.8ZM289.8 271.5A1.7 1.6 3 1 0 286.3 271.3A1.7 1.6 3 1 0 289.8 271.5ZM217.6 254.2A2.9 2.2 146 1 0 222.4 251.0A2.9 2.2 146 1 0 217.6 254.2Z" fill="#c8996f" fill-opacity="0.6"/>
<circle cx="71" cy="79.5" r="29.68" fill="url(#cg1)"/>
<circle cx="134.3" cy="64.7" r="23.32" fill="url(#cg1)"/>
<circle cx="216.9" cy="104.5" r="36.04" fill="url(#cg1)"/>
<circle cx="79.8" cy="160.5" r="31.27" fill="url(#cg1)"/>
<circle cx="147.6" cy="137" r="29.68" fill="url(#cg1)"/>
<circle cx="213.9" cy="194.4" r="26.5" fill="url(#cg1)"/>
<circle cx="258.1" cy="191.5" r="28.09" fill="url(#cg1)"/>
<circle cx="129.9" cy="228.3" r="31.27" fill="url(#cg1)"/>
<circle cx="181.5" cy="247.5" r="28.09" fill="url(#cg1)"/>
<circle cx="258.1" cy="259.3" r="29.68" fill="url(#cg1)"/>
<circle cx="62.1" cy="238.7" r="28.09" fill="url(#cg1)"/>
<circle cx="290" cy="123.7" r="19.08" fill="url(#cg1)"/>
<circle cx="140.2" cy="294" r="23.32" fill="url(#cg1)"/>
<rect x="46.2" y="54.7" width="244.4" height="244.4" filter="url(#tex)" style="mix-blend-mode:soft-light" opacity="0.35"/>
</g>
<rect x="46.2" y="54.7" width="244.4" height="244.4" fill="none" stroke="#000" stroke-width="2"/>
<line x1="227.2" y1="288.2" x2="278.8" y2="288.2" stroke="#1a0f0f" stroke-width="2.6"/>
<clipPath id="clipp2"><rect x="46.2" y="305.6" width="244.4" height="243.5"/></clipPath>
<g clip-path="url(#clipp2)">
<rect x="46.2" y="305.6" width="244.4" height="243.5" fill="#d9a890"/>
<ellipse cx="258.13" cy="414.96" rx="20" ry="26" fill="#ead0bf" filter="url(#blur4)"/>
<path d="M86.2 438.6A2.7 1.9 34 1 0 81.7 435.5A2.7 1.9 34 1 0 86.2 438.6ZM218.2 448.7A3.8 3.0 107 1 0 220.5 441.6A3.8 3.0 107 1 0 218.2 448.7ZM268.3 504.2A3.3 2.3 167 1 0 274.8 502.7A3.3 2.3 167 1 0 268.3 504.2ZM134.1 331.1A2.9 2.4 167 1 0 139.7 329.9A2.9 2.4 167 1 0 134.1 331.1ZM204.7 470.9A4.1 3.5 80 1 0 203.3 462.9A4.1 3.5 80 1 0 204.7 470.9ZM158.0 493.2A2.8 1.7 111 1 0 160.1 487.9A2.8 1.7 111 1 0 158.0 493.2ZM247.2 367.4A3.6 3.2 22 1 0 240.6 364.7A3.6 3.2 22 1 0 247.2 367.4ZM76.5 425.7A2.9 2.7 179 1 0 82.2 425.6A2.9 2.7 179 1 0 76.5 425.7ZM151.7 499.0A3.5 2.1 174 1 0 158.6 498.4A3.5 2.1 174 1 0 151.7 499.0ZM89.0 327.2A3.1 1.7 86 1 0 88.7 321.0A3.1 1.7 86 1 0 89.0 327.2ZM144.6 539.9A3.0 2.7 140 1 0 149.2 536.0A3.0 2.7 140 1 0 144.6 539.9ZM190.4 366.2A2.8 2.1 71 1 0 188.6 360.8A2.8 2.1 71 1 0 190.4 366.2ZM201.1 428.7A2.8 2.3 179 1 0 206.8 428.6A2.8 2.3 179 1 0 201.1 428.7ZM97.9 387.7A2.2 1.3 9 1 0 93.5 386.9A2.2 1.3 9 1 0 97.9 387.7ZM146.4 511.1A3.6 3.4 150 1 0 152.7 507.5A3.6 3.4 150 1 0 146.4 511.1ZM190.9 448.6A2.2 1.6 47 1 0 187.9 445.3A2.2 1.6 47 1 0 190.9 448.6ZM198.0 324.8A3.3 2.3 88 1 0 197.8 318.3A3.3 2.3 88 1 0 198.0 324.8ZM143.9 334.0A3.7 3.2 107 1 0 146.1 327.0A3.7 3.2 107 1 0 143.9 334.0ZM71.6 454.2A3.9 3.7 136 1 0 77.4 448.8A3.9 3.7 136 1 0 71.6 454.2ZM54.0 520.4A3.5 2.3 165 1 0 60.8 518.6A3.5 2.3 165 1 0 54.0 520.4ZM249.1 526.1A2.7 2.1 68 1 0 247.1 521.1A2.7 2.1 68 1 0 249.1 526.1ZM118.1 494.4A3.4 2.3 97 1 0 119.0 487.6A3.4 2.3 97 1 0 118.1 494.4ZM269.1 443.7A4.0 3.1 178 1 0 277.1 443.5A4.0 3.1 178 1 0 269.1 443.7ZM50.0 417.9A3.3 2.8 174 1 0 56.6 417.3A3.3 2.8 174 1 0 50.0 417.9ZM196.5 424.8A3.5 2.6 126 1 0 200.6 419.2A3.5 2.6 126 1 0 196.5 424.8ZM280.4 309.5A2.8 2.6 10 1 0 274.8 308.5A2.8 2.6 10 1 0 280.4 309.5ZM241.9 315.5A3.5 3.0 42 1 0 236.8 310.7A3.5 3.0 42 1 0 241.9 315.5ZM138.2 364.1A3.6 2.7 109 1 0 140.5 357.3A3.6 2.7 109 1 0 138.2 364.1ZM121.7 449.1A4.1 3.5 171 1 0 129.8 447.8A4.1 3.5 171 1 0 121.7 449.1ZM104.2 433.0A3.0 2.0 144 1 0 109.0 429.5A3.0 2.0 144 1 0 104.2 433.0ZM92.7 441.8A3.7 3.5 3 1 0 85.2 441.4A3.7 3.5 3 1 0 92.7 441.8ZM108.8 427.6A4.1 2.5 151 1 0 115.9 423.7A4.1 2.5 151 1 0 108.8 427.6ZM145.3 442.5A4.1 2.3 59 1 0 141.2 435.5A4.1 2.3 59 1 0 145.3 442.5ZM83.6 340.9A2.8 2.3 104 1 0 85.0 335.5A2.8 2.3 104 1 0 83.6 340.9ZM73.3 502.5A3.2 2.0 147 1 0 78.7 499.0A3.2 2.0 147 1 0 73.3 502.5ZM249.9 361.1A4.1 3.6 41 1 0 243.7 355.7A4.1 3.6 41 1 0 249.9 361.1ZM43.6 519.4A3.9 2.3 137 1 0 49.3 514.2A3.9 2.3 137 1 0 43.6 519.4ZM237.1 463.2A3.9 3.6 59 1 0 233.2 456.6A3.9 3.6 59 1 0 237.1 463.2ZM248.5 532.2A2.8 2.3 123 1 0 251.6 527.5A2.8 2.3 123 1 0 248.5 532.2ZM253.3 446.4A2.8 1.8 97 1 0 254.0 440.9A2.8 1.8 97 1 0 253.3 446.4ZM77.0 518.1A4.0 2.6 125 1 0 81.6 511.7A4.0 2.6 125 1 0 77.0 518.1ZM212.9 338.4A3.8 3.2 55 1 0 208.6 332.2A3.8 3.2 55 1 0 212.9 338.4ZM67.1 376.3A3.7 2.8 146 1 0 73.3 372.2A3.7 2.8 146 1 0 67.1 376.3ZM87.7 332.9A2.9 2.6 29 1 0 82.7 330.1A2.9 2.6 29 1 0 87.7 332.9ZM66.4 489.5A2.4 1.9 15 1 0 61.8 488.3A2.4 1.9 15 1 0 66.4 489.5ZM107.2 471.1A3.9 2.8 80 1 0 105.9 463.3A3.9 2.8 80 1 0 107.2 471.1ZM52.1 390.6A2.7 2.3 128 1 0 55.5 386.5A2.7 2.3 128 1 0 52.1 390.6ZM239.2 438.4A3.6 2.2 69 1 0 236.6 431.7A3.6 2.2 69 1 0 239.2 438.4ZM119.7 377.5A3.7 2.3 58 1 0 115.9 371.2A3.7 2.3 58 1 0 119.7 377.5ZM116.5 519.2A3.5 2.6 68 1 0 113.9 512.8A3.5 2.6 68 1 0 116.5 519.2ZM268.6 535.6A3.1 2.4 155 1 0 274.3 533.0A3.1 2.4 155 1 0 268.6 535.6ZM107.1 370.2A2.4 1.8 138 1 0 110.7 367.0A2.4 1.8 138 1 0 107.1 370.2ZM86.0 414.8A4.2 3.1 68 1 0 82.9 407.0A4.2 3.1 68 1 0 86.0 414.8ZM250.1 525.5A3.0 1.8 114 1 0 252.6 520.1A3.0 1.8 114 1 0 250.1 525.5ZM227.0 533.9A3.5 2.4 92 1 0 227.3 526.9A3.5 2.4 92 1 0 227.0 533.9ZM113.5 415.1A3.1 2.9 163 1 0 119.5 413.3A3.1 2.9 163 1 0 113.5 415.1ZM268.6 423.0A4.1 2.5 165 1 0 276.6 421.0A4.1 2.5 165 1 0 268.6 423.0ZM205.7 518.3A3.0 2.9 4 1 0 199.7 517.8A3.0 2.9 4 1 0 205.7 518.3ZM255.7 507.0A2.9 2.6 38 1 0 251.1 503.3A2.9 2.6 38 1 0 255.7 507.0ZM227.7 421.4A3.0 1.9 144 1 0 232.6 417.9A3.0 1.9 144 1 0 227.7 421.4ZM226.4 331.1A4.2 2.7 67 1 0 223.3 323.4A4.2 2.7 67 1 0 226.4 331.1ZM145.9 449.6A4.0 3.7 113 1 0 149.2 442.3A4.0 3.7 113 1 0 145.9 449.6ZM134.9 334.0A2.3 1.8 104 1 0 136.1 329.5A2.3 1.8 104 1 0 134.9 334.0ZM156.3 547.8A3.0 2.1 75 1 0 154.7 541.9A3.0 2.1 75 1 0 156.3 547.8ZM89.0 537.6A3.4 2.6 76 1 0 87.4 531.0A3.4 2.6 76 1 0 89.0 537.6ZM104.1 382.6A3.2 2.3 176 1 0 110.5 382.2A3.2 2.3 176 1 0 104.1 382.6ZM184.9 358.0A2.3 1.4 62 1 0 182.7 354.0A2.3 1.4 62 1 0 184.9 358.0ZM237.9 524.8A2.7 2.3 79 1 0 236.9 519.5A2.7 2.3 79 1 0 237.9 524.8ZM176.4 437.3A2.3 1.3 120 1 0 178.7 433.4A2.3 1.3 120 1 0 176.4 437.3ZM217.0 401.5A4.0 3.5 54 1 0 212.3 394.9A4.0 3.5 54 1 0 217.0 401.5ZM66.0 440.8A3.5 2.2 7 1 0 59.1 439.9A3.5 2.2 7 1 0 66.0 440.8ZM167.6 316.7A3.7 2.9 50 1 0 162.9 311.1A3.7 2.9 50 1 0 167.6 316.7ZM153.0 363.7A2.6 1.6 146 1 0 157.3 360.9A2.6 1.6 146 1 0 153.0 363.7ZM156.1 482.6A2.9 2.5 107 1 0 157.8 477.1A2.9 2.5 107 1 0 156.1 482.6ZM202.7 401.5A3.3 2.1 175 1 0 209.4 401.0A3.3 2.1 175 1 0 202.7 401.5ZM212.2 438.3A3.5 2.1 60 1 0 208.8 432.2A3.5 2.1 60 1 0 212.2 438.3ZM100.5 511.8A2.2 1.6 156 1 0 104.6 510.0A2.2 1.6 156 1 0 100.5 511.8ZM235.8 482.9A2.8 1.8 126 1 0 239.1 478.4A2.8 1.8 126 1 0 235.8 482.9ZM118.5 484.5A2.9 2.5 103 1 0 119.9 478.8A2.9 2.5 103 1 0 118.5 484.5ZM248.4 545.7A3.0 2.8 1 1 0 242.5 545.5A3.0 2.8 1 1 0 248.4 545.7ZM258.1 315.0A3.3 2.3 138 1 0 263.1 310.7A3.3 2.3 138 1 0 258.1 315.0ZM120.5 358.9A3.8 2.9 136 1 0 125.9 353.7A3.8 2.9 136 1 0 120.5 358.9ZM166.1 318.2A3.7 2.4 84 1 0 165.5 310.8A3.7 2.4 84 1 0 166.1 318.2ZM44.9 371.9A3.5 3.0 114 1 0 47.8 365.5A3.5 3.0 114 1 0 44.9 371.9ZM154.1 487.5A3.5 2.2 96 1 0 154.9 480.5A3.5 2.2 96 1 0 154.1 487.5ZM193.5 485.3A2.6 1.8 61 1 0 191.1 480.8A2.6 1.8 61 1 0 193.5 485.3ZM72.8 392.3A3.7 2.9 31 1 0 66.5 388.6A3.7 2.9 31 1 0 72.8 392.3ZM228.6 335.1A3.7 2.3 17 1 0 221.5 332.9A3.7 2.3 17 1 0 228.6 335.1ZM105.0 431.5A2.7 2.5 168 1 0 110.4 430.5A2.7 2.5 168 1 0 105.0 431.5ZM118.0 490.8A3.6 2.8 45 1 0 113.0 485.6A3.6 2.8 45 1 0 118.0 490.8ZM279.5 540.4A2.2 1.5 57 1 0 277.1 536.6A2.2 1.5 57 1 0 279.5 540.4ZM91.2 412.3A4.0 2.2 150 1 0 98.2 408.4A4.0 2.2 150 1 0 91.2 412.3ZM124.9 311.4A4.0 2.6 38 1 0 118.6 306.4A4.0 2.6 38 1 0 124.9 311.4ZM76.4 396.7A2.4 1.5 45 1 0 73.0 393.3A2.4 1.5 45 1 0 76.4 396.7ZM185.4 416.1A2.8 2.1 139 1 0 189.7 412.4A2.8 2.1 139 1 0 185.4 416.1ZM222.4 393.2A4.0 3.5 101 1 0 223.9 385.3A4.0 3.5 101 1 0 222.4 393.2ZM161.6 388.2A2.5 2.2 109 1 0 163.2 383.5A2.5 2.2 109 1 0 161.6 388.2ZM68.0 534.2A4.0 2.2 126 1 0 72.6 527.8A4.0 2.2 126 1 0 68.0 534.2ZM104.4 439.9A3.9 2.7 89 1 0 104.4 432.2A3.9 2.7 89 1 0 104.4 439.9ZM205.3 352.6A3.5 2.5 176 1 0 212.2 352.2A3.5 2.5 176 1 0 205.3 352.6ZM94.2 479.6A2.3 1.5 21 1 0 89.9 477.9A2.3 1.5 21 1 0 94.2 479.6ZM85.0 435.0A2.5 2.2 17 1 0 80.2 433.5A2.5 2.2 17 1 0 85.0 435.0ZM196.6 516.9A2.5 1.6 137 1 0 200.3 513.6A2.5 1.6 137 1 0 196.6 516.9ZM158.3 533.0A2.9 2.0 172 1 0 164.0 532.2A2.9 2.0 172 1 0 158.3 533.0ZM129.7 544.8A4.0 2.5 98 1 0 130.8 537.0A4.0 2.5 98 1 0 129.7 544.8ZM273.5 336.9A3.9 3.4 134 1 0 279.0 331.4A3.9 3.4 134 1 0 273.5 336.9ZM189.8 332.5A4.1 2.4 141 1 0 196.2 327.4A4.1 2.4 141 1 0 189.8 332.5ZM220.4 385.4A3.6 2.5 135 1 0 225.5 380.4A3.6 2.5 135 1 0 220.4 385.4ZM57.1 535.8A3.0 2.6 84 1 0 56.5 529.9A3.0 2.6 84 1 0 57.1 535.8ZM244.9 382.2A3.3 1.8 88 1 0 244.6 375.6A3.3 1.8 88 1 0 244.9 382.2ZM62.0 515.1A3.6 2.6 175 1 0 69.1 514.5A3.6 2.6 175 1 0 62.0 515.1ZM276.0 540.3A2.4 2.0 130 1 0 279.1 536.8A2.4 2.0 130 1 0 276.0 540.3ZM193.1 313.3A4.0 2.9 107 1 0 195.5 305.6A4.0 2.9 107 1 0 193.1 313.3ZM246.8 374.3A2.3 2.1 48 1 0 243.8 370.9A2.3 2.1 48 1 0 246.8 374.3ZM59.6 341.4A4.2 3.5 37 1 0 52.9 336.3A4.2 3.5 37 1 0 59.6 341.4ZM85.2 525.6A3.5 2.8 23 1 0 78.8 522.8A3.5 2.8 23 1 0 85.2 525.6ZM149.4 536.5A2.2 1.6 10 1 0 145.0 535.7A2.2 1.6 10 1 0 149.4 536.5ZM287.3 334.1A4.1 3.6 131 1 0 292.8 328.0A4.1 3.6 131 1 0 287.3 334.1ZM59.4 476.3A3.2 2.4 26 1 0 53.7 473.5A3.2 2.4 26 1 0 59.4 476.3ZM172.0 503.3A2.5 2.2 75 1 0 170.8 498.5A2.5 2.2 75 1 0 172.0 503.3ZM110.6 366.9A3.1 2.5 102 1 0 111.9 360.8A3.1 2.5 102 1 0 110.6 366.9ZM266.2 432.2A3.2 3.0 38 1 0 261.2 428.1A3.2 3.0 38 1 0 266.2 432.2ZM51.0 388.3A2.8 1.7 75 1 0 49.5 382.9A2.8 1.7 75 1 0 51.0 388.3ZM52.8 532.4A3.2 2.9 125 1 0 56.5 527.2A3.2 2.9 125 1 0 52.8 532.4ZM226.8 492.0A2.8 2.4 37 1 0 222.3 488.6A2.8 2.4 37 1 0 226.8 492.0ZM183.6 453.9A3.8 2.3 61 1 0 180.0 447.3A3.8 2.3 61 1 0 183.6 453.9ZM250.9 504.1A4.2 2.5 37 1 0 244.4 499.0A4.2 2.5 37 1 0 250.9 504.1ZM69.4 484.2A3.7 3.0 140 1 0 75.1 479.5A3.7 3.0 140 1 0 69.4 484.2ZM170.4 446.1A4.0 3.3 118 1 0 174.2 439.0A4.0 3.3 118 1 0 170.4 446.1ZM193.5 427.3A3.7 2.9 23 1 0 186.7 424.4A3.7 2.9 23 1 0 193.5 427.3ZM151.6 411.0A3.1 2.4 65 1 0 149.0 405.4A3.1 2.4 65 1 0 151.6 411.0ZM144.6 410.4A2.9 2.8 16 1 0 139.0 408.7A2.9 2.8 16 1 0 144.6 410.4ZM49.5 484.1A3.0 2.2 106 1 0 51.2 478.4A3.0 2.2 106 1 0 49.5 484.1ZM133.7 364.3A2.2 2.0 169 1 0 138.1 363.4A2.2 2.0 169 1 0 133.7 364.3ZM113.4 419.8A2.8 1.6 160 1 0 118.8 417.9A2.8 1.6 160 1 0 113.4 419.8ZM248.5 365.9A2.7 2.2 143 1 0 252.8 362.7A2.7 2.2 143 1 0 248.5 365.9ZM158.6 401.1A2.7 2.3 155 1 0 163.4 398.8A2.7 2.3 155 1 0 158.6 401.1ZM253.8 336.1A3.4 3.2 128 1 0 258.0 330.8A3.4 3.2 128 1 0 253.8 336.1ZM160.7 341.4A2.3 2.0 12 1 0 156.2 340.4A2.3 2.0 12 1 0 160.7 341.4ZM240.8 468.3A3.1 2.9 167 1 0 247.0 467.0A3.1 2.9 167 1 0 240.8 468.3ZM199.3 332.3A3.4 2.4 44 1 0 194.5 327.5A3.4 2.4 44 1 0 199.3 332.3ZM274.3 485.6A2.4 1.6 61 1 0 272.0 481.3A2.4 1.6 61 1 0 274.3 485.6ZM188.8 386.3A3.1 2.7 32 1 0 183.6 383.0A3.1 2.7 32 1 0 188.8 386.3ZM224.3 389.6A4.1 3.8 58 1 0 220.1 382.6A4.1 3.8 58 1 0 224.3 389.6ZM193.1 335.3A3.0 2.4 114 1 0 195.6 329.8A3.0 2.4 114 1 0 193.1 335.3ZM132.0 315.1A2.4 1.9 30 1 0 127.8 312.6A2.4 1.9 30 1 0 132.0 315.1ZM123.8 459.0A4.0 3.0 45 1 0 118.2 453.3A4.0 3.0 45 1 0 123.8 459.0ZM192.0 375.5A3.8 2.3 47 1 0 186.8 370.0A3.8 2.3 47 1 0 192.0 375.5ZM155.7 527.8A2.5 1.6 23 1 0 151.1 525.7A2.5 1.6 23 1 0 155.7 527.8ZM99.3 389.4A3.0 2.6 72 1 0 97.5 383.6A3.0 2.6 72 1 0 99.3 389.4ZM163.2 405.8A3.7 3.4 76 1 0 161.4 398.5A3.7 3.4 76 1 0 163.2 405.8ZM269.1 370.1A4.2 3.2 122 1 0 273.6 363.1A4.2 3.2 122 1 0 269.1 370.1ZM140.5 374.0A2.5 2.2 64 1 0 138.3 369.5A2.5 2.2 64 1 0 140.5 374.0ZM219.7 419.5A3.3 2.1 31 1 0 214.2 416.1A3.3 2.1 31 1 0 219.7 419.5ZM126.4 474.1A3.3 1.8 127 1 0 130.4 469.0A3.3 1.8 127 1 0 126.4 474.1ZM149.7 323.8A2.7 1.7 148 1 0 154.4 321.0A2.7 1.7 148 1 0 149.7 323.8ZM182.3 387.3A2.7 1.8 50 1 0 178.9 383.1A2.7 1.8 50 1 0 182.3 387.3ZM127.3 499.5A3.8 3.1 159 1 0 134.4 496.8A3.8 3.1 159 1 0 127.3 499.5ZM207.6 334.9A2.3 1.4 46 1 0 204.4 331.6A2.3 1.4 46 1 0 207.6 334.9ZM177.8 508.1A3.4 2.4 43 1 0 172.9 503.4A3.4 2.4 43 1 0 177.8 508.1ZM283.3 489.2A2.9 1.6 176 1 0 289.0 488.9A2.9 1.6 176 1 0 283.3 489.2ZM109.8 514.2A2.4 2.0 64 1 0 107.7 509.8A2.4 2.0 64 1 0 109.8 514.2ZM261.5 379.3A2.4 1.5 145 1 0 265.4 376.6A2.4 1.5 145 1 0 261.5 379.3ZM287.7 464.8A3.6 2.4 49 1 0 283.0 459.5A3.6 2.4 49 1 0 287.7 464.8ZM68.4 547.4A2.3 1.8 62 1 0 66.4 543.4A2.3 1.8 62 1 0 68.4 547.4ZM95.4 413.8A4.1 2.6 29 1 0 88.3 409.8A4.1 2.6 29 1 0 95.4 413.8ZM197.1 466.8A3.2 2.0 157 1 0 203.0 464.4A3.2 2.0 157 1 0 197.1 466.8ZM73.5 350.7A2.7 2.0 85 1 0 73.1 345.3A2.7 2.0 85 1 0 73.5 350.7ZM185.5 483.1A4.0 2.9 7 1 0 177.5 482.1A4.0 2.9 7 1 0 185.5 483.1ZM248.4 312.8A2.8 1.7 108 1 0 250.2 307.4A2.8 1.7 108 1 0 248.4 312.8ZM235.7 339.3A2.8 2.5 124 1 0 238.9 334.7A2.8 2.5 124 1 0 235.7 339.3ZM76.1 474.5A3.8 2.7 27 1 0 69.4 471.0A3.8 2.7 27 1 0 76.1 474.5ZM208.0 385.7A2.5 1.5 72 1 0 206.5 381.0A2.5 1.5 72 1 0 208.0 385.7ZM78.2 402.5A3.3 2.5 72 1 0 76.2 396.2A3.3 2.5 72 1 0 78.2 402.5ZM239.2 328.2A2.9 2.6 155 1 0 244.4 325.8A2.9 2.6 155 1 0 239.2 328.2ZM270.5 495.1A3.3 2.8 103 1 0 272.0 488.8A3.3 2.8 103 1 0 270.5 495.1ZM76.2 369.8A2.4 2.2 57 1 0 73.7 365.8A2.4 2.2 57 1 0 76.2 369.8ZM143.9 438.1A2.4 2.0 143 1 0 147.7 435.2A2.4 2.0 143 1 0 143.9 438.1ZM238.7 522.1A2.8 1.7 137 1 0 242.8 518.2A2.8 1.7 137 1 0 238.7 522.1ZM213.1 397.5A2.9 1.8 149 1 0 218.1 394.6A2.9 1.8 149 1 0 213.1 397.5ZM158.7 506.2A2.9 2.0 92 1 0 158.9 500.5A2.9 2.0 92 1 0 158.7 506.2ZM229.3 523.3A2.9 2.4 72 1 0 227.6 517.8A2.9 2.4 72 1 0 229.3 523.3ZM258.9 493.2A3.3 2.3 49 1 0 254.6 488.2A3.3 2.3 49 1 0 258.9 493.2ZM264.8 502.2A2.8 1.6 35 1 0 260.2 499.0A2.8 1.6 35 1 0 264.8 502.2ZM281.2 318.9A3.8 2.9 99 1 0 282.5 311.4A3.8 2.9 99 1 0 281.2 318.9ZM174.8 406.3A3.3 1.9 165 1 0 181.3 404.7A3.3 1.9 165 1 0 174.8 406.3ZM68.4 341.4A3.5 2.9 145 1 0 74.3 337.4A3.5 2.9 145 1 0 68.4 341.4ZM217.2 533.8A2.3 1.3 42 1 0 213.8 530.7A2.3 1.3 42 1 0 217.2 533.8ZM239.4 344.3A3.3 2.8 28 1 0 233.7 341.2A3.3 2.8 28 1 0 239.4 344.3ZM175.4 528.6A3.7 2.6 86 1 0 174.9 521.2A3.7 2.6 86 1 0 175.4 528.6ZM116.3 542.6A3.8 3.1 54 1 0 111.9 536.4A3.8 3.1 54 1 0 116.3 542.6ZM221.5 425.5A3.8 2.6 158 1 0 228.6 422.7A3.8 2.6 158 1 0 221.5 425.5ZM213.2 418.6A3.3 2.9 95 1 0 213.8 412.0A3.3 2.9 95 1 0 213.2 418.6ZM281.0 311.3A4.0 3.3 88 1 0 280.7 303.4A4.0 3.3 88 1 0 281.0 311.3ZM251.5 343.4A2.9 2.4 148 1 0 256.4 340.3A2.9 2.4 148 1 0 251.5 343.4ZM140.6 549.0A3.5 2.0 22 1 0 134.1 546.4A3.5 2.0 22 1 0 140.6 549.0ZM65.3 447.2A2.8 1.9 80 1 0 64.4 441.6A2.8 1.9 80 1 0 65.3 447.2ZM66.0 530.7A3.9 3.0 79 1 0 64.6 523.1A3.9 3.0 79 1 0 66.0 530.7ZM118.7 452.8A2.9 2.7 172 1 0 124.4 452.0A2.9 2.7 172 1 0 118.7 452.8ZM224.9 508.8A2.4 1.4 62 1 0 222.7 504.6A2.4 1.4 62 1 0 224.9 508.8ZM72.9 409.0A4.2 3.7 172 1 0 81.2 407.9A4.2 3.7 172 1 0 72.9 409.0ZM102.6 360.0A2.2 1.5 10 1 0 98.2 359.2A2.2 1.5 10 1 0 102.6 360.0ZM174.2 382.2A3.5 2.7 107 1 0 176.3 375.4A3.5 2.7 107 1 0 174.2 382.2ZM119.8 488.1A3.6 3.0 84 1 0 119.2 481.0A3.6 3.0 84 1 0 119.8 488.1ZM158.8 377.4A2.3 1.7 110 1 0 160.4 373.1A2.3 1.7 110 1 0 158.8 377.4ZM88.4 517.2A4.0 3.5 146 1 0 95.0 512.9A4.0 3.5 146 1 0 88.4 517.2ZM162.8 348.5A2.7 2.3 177 1 0 168.3 348.3A2.7 2.3 177 1 0 162.8 348.5ZM72.5 309.9A2.9 2.0 107 1 0 74.3 304.4A2.9 2.0 107 1 0 72.5 309.9ZM75.1 513.5A2.9 2.6 59 1 0 72.2 508.6A2.9 2.6 59 1 0 75.1 513.5ZM117.3 350.6A4.1 3.2 148 1 0 124.4 346.3A4.1 3.2 148 1 0 117.3 350.6ZM58.0 438.5A3.7 3.5 168 1 0 65.2 437.1A3.7 3.5 168 1 0 58.0 438.5ZM67.4 397.1A4.2 3.2 172 1 0 75.7 395.9A4.2 3.2 172 1 0 67.4 397.1ZM107.4 315.8A4.1 2.7 100 1 0 108.9 307.8A4.1 2.7 100 1 0 107.4 315.8ZM130.6 447.8A4.1 3.8 157 1 0 138.1 444.7A4.1 3.8 157 1 0 130.6 447.8ZM106.7 505.9A2.2 1.6 169 1 0 111.1 505.1A2.2 1.6 169 1 0 106.7 505.9ZM106.4 397.7A3.4 2.2 127 1 0 110.5 392.3A3.4 2.2 127 1 0 106.4 397.7ZM203.3 332.0A4.0 2.3 125 1 0 208.0 325.5A4.0 2.3 125 1 0 203.3 332.0ZM129.4 341.9A2.4 2.2 143 1 0 133.2 339.2A2.4 2.2 143 1 0 129.4 341.9ZM157.9 503.2A4.1 3.8 95 1 0 158.8 495.0A4.1 3.8 95 1 0 157.9 503.2ZM111.3 435.4A4.2 3.5 120 1 0 115.5 428.3A4.2 3.5 120 1 0 111.3 435.4ZM254.9 407.1A3.3 3.0 35 1 0 249.5 403.2A3.3 3.0 35 1 0 254.9 407.1ZM259.1 313.0A3.3 2.6 26 1 0 253.2 310.1A3.3 2.6 26 1 0 259.1 313.0ZM270.8 415.1A2.6 1.8 106 1 0 272.3 410.1A2.6 1.8 106 1 0 270.8 415.1ZM153.2 307.3A2.4 2.0 23 1 0 148.9 305.4A2.4 2.0 23 1 0 153.2 307.3ZM112.0 504.3A3.9 3.5 31 1 0 105.3 500.2A3.9 3.5 31 1 0 112.0 504.3ZM50.9 489.5A3.4 2.4 3 1 0 44.1 489.1A3.4 2.4 3 1 0 50.9 489.5ZM154.3 365.4A3.4 3.2 37 1 0 149.0 361.3A3.4 3.2 37 1 0 154.3 365.4ZM65.0 477.1A2.4 1.5 79 1 0 64.1 472.3A2.4 1.5 79 1 0 65.0 477.1ZM289.7 386.0A2.8 2.1 29 1 0 284.7 383.2A2.8 2.1 29 1 0 289.7 386.0ZM146.9 477.7A2.8 2.5 33 1 0 142.1 474.6A2.8 2.5 33 1 0 146.9 477.7ZM74.0 459.3A3.1 2.8 18 1 0 68.1 457.3A3.1 2.8 18 1 0 74.0 459.3ZM227.6 471.5A2.9 1.8 110 1 0 229.6 465.9A2.9 1.8 110 1 0 227.6 471.5ZM230.5 423.6A3.1 2.6 109 1 0 232.6 417.7A3.1 2.6 109 1 0 230.5 423.6ZM146.7 351.9A3.1 2.4 161 1 0 152.6 349.9A3.1 2.4 161 1 0 146.7 351.9ZM288.2 443.8A2.9 1.8 113 1 0 290.5 438.6A2.9 1.8 113 1 0 288.2 443.8ZM227.9 369.3A3.6 3.4 70 1 0 225.5 362.6A3.6 3.4 70 1 0 227.9 369.3ZM278.5 414.0A3.5 3.1 36 1 0 272.8 409.8A3.5 3.1 36 1 0 278.5 414.0ZM130.8 547.6A2.3 1.6 85 1 0 130.5 542.9A2.3 1.6 85 1 0 130.8 547.6ZM232.3 459.2A4.1 3.3 0 1 0 224.2 459.1A4.1 3.3 0 1 0 232.3 459.2ZM63.4 317.6A3.1 1.7 94 1 0 63.9 311.5A3.1 1.7 94 1 0 63.4 317.6ZM196.9 355.3A3.9 2.8 172 1 0 204.7 354.4A3.9 2.8 172 1 0 196.9 355.3ZM131.1 458.7A3.3 2.2 140 1 0 136.2 454.5A3.3 2.2 140 1 0 131.1 458.7ZM47.2 369.2A2.8 2.6 90 1 0 47.2 363.5A2.8 2.6 90 1 0 47.2 369.2ZM58.3 379.6A3.4 3.0 19 1 0 51.9 377.3A3.4 3.0 19 1 0 58.3 379.6ZM237.3 403.9A3.2 2.3 78 1 0 236.0 397.5A3.2 2.3 78 1 0 237.3 403.9ZM285.9 532.6A4.0 3.4 126 1 0 290.7 526.1A4.0 3.4 126 1 0 285.9 532.6ZM79.3 317.7A3.9 3.2 113 1 0 82.3 310.6A3.9 3.2 113 1 0 79.3 317.7ZM126.7 370.9A4.0 3.1 3 1 0 118.6 370.4A4.0 3.1 3 1 0 126.7 370.9ZM127.2 391.3A2.3 2.2 162 1 0 131.6 389.9A2.3 2.2 162 1 0 127.2 391.3ZM243.3 308.9A3.0 1.8 130 1 0 247.3 304.3A3.0 1.8 130 1 0 243.3 308.9ZM247.8 498.0A3.8 2.3 2 1 0 240.2 497.7A3.8 2.3 2 1 0 247.8 498.0ZM71.8 513.3A3.9 2.9 42 1 0 66.0 508.1A3.9 2.9 42 1 0 71.8 513.3ZM252.8 335.1A2.8 1.6 176 1 0 258.5 334.8A2.8 1.6 176 1 0 252.8 335.1ZM143.8 493.5A3.8 3.0 177 1 0 151.4 493.2A3.8 3.0 177 1 0 143.8 493.5ZM232.6 534.3A4.1 2.4 135 1 0 238.4 528.4A4.1 2.4 135 1 0 232.6 534.3ZM104.3 385.2A2.9 2.7 10 1 0 98.7 384.1A2.9 2.7 10 1 0 104.3 385.2ZM150.0 340.2A4.2 3.1 126 1 0 155.0 333.4A4.2 3.1 126 1 0 150.0 340.2ZM171.3 494.5A2.9 2.1 133 1 0 175.3 490.3A2.9 2.1 133 1 0 171.3 494.5ZM216.0 523.8A2.8 2.5 132 1 0 219.8 519.7A2.8 2.5 132 1 0 216.0 523.8ZM189.5 406.0A3.3 1.9 17 1 0 183.1 404.0A3.3 1.9 17 1 0 189.5 406.0ZM120.8 337.3A2.3 1.9 131 1 0 123.8 333.9A2.3 1.9 131 1 0 120.8 337.3ZM195.4 359.1A3.6 3.2 111 1 0 198.0 352.3A3.6 3.2 111 1 0 195.4 359.1ZM104.5 444.4A3.0 2.0 26 1 0 99.1 441.7A3.0 2.0 26 1 0 104.5 444.4ZM260.3 462.6A4.1 2.5 47 1 0 254.8 456.6A4.1 2.5 47 1 0 260.3 462.6ZM170.8 322.8A2.8 2.1 86 1 0 170.5 317.2A2.8 2.1 86 1 0 170.8 322.8ZM265.8 448.4A3.5 2.7 141 1 0 271.2 444.0A3.5 2.7 141 1 0 265.8 448.4ZM139.6 307.4A4.2 3.6 22 1 0 131.9 304.1A4.2 3.6 22 1 0 139.6 307.4ZM77.1 359.9A3.5 2.1 3 1 0 70.0 359.5A3.5 2.1 3 1 0 77.1 359.9ZM169.1 308.7A2.7 1.9 36 1 0 164.8 305.5A2.7 1.9 36 1 0 169.1 308.7ZM47.5 371.5A2.7 1.8 74 1 0 46.1 366.3A2.7 1.8 74 1 0 47.5 371.5ZM132.6 386.2A2.2 2.0 132 1 0 135.7 382.9A2.2 2.0 132 1 0 132.6 386.2ZM167.0 308.9A2.7 2.4 82 1 0 166.3 303.6A2.7 2.4 82 1 0 167.0 308.9ZM96.4 509.2A4.0 2.4 90 1 0 96.4 501.3A4.0 2.4 90 1 0 96.4 509.2ZM181.9 336.6A2.8 2.3 121 1 0 184.8 331.7A2.8 2.3 121 1 0 181.9 336.6ZM202.7 456.8A3.0 1.7 2 1 0 196.8 456.5A3.0 1.7 2 1 0 202.7 456.8ZM247.9 518.8A4.0 2.3 138 1 0 253.9 513.5A4.0 2.3 138 1 0 247.9 518.8ZM86.0 391.3A2.6 2.3 147 1 0 90.4 388.5A2.6 2.3 147 1 0 86.0 391.3ZM248.8 402.4A4.1 2.7 103 1 0 250.6 394.5A4.1 2.7 103 1 0 248.8 402.4ZM208.4 364.3A3.0 1.7 143 1 0 213.1 360.7A3.0 1.7 143 1 0 208.4 364.3ZM90.1 341.2A2.8 2.2 114 1 0 92.4 336.2A2.8 2.2 114 1 0 90.1 341.2ZM174.0 517.1A3.7 2.3 96 1 0 174.8 509.8A3.7 2.3 96 1 0 174.0 517.1ZM88.7 366.7A2.5 1.4 63 1 0 86.5 362.3A2.5 1.4 63 1 0 88.7 366.7ZM262.2 467.6A2.4 1.5 106 1 0 263.5 463.1A2.4 1.5 106 1 0 262.2 467.6ZM174.9 314.4A2.4 1.9 108 1 0 176.4 309.8A2.4 1.9 108 1 0 174.9 314.4ZM65.6 496.4A2.7 2.1 95 1 0 66.1 491.1A2.7 2.1 95 1 0 65.6 496.4ZM128.9 539.0A3.0 2.2 97 1 0 129.7 533.1A3.0 2.2 97 1 0 128.9 539.0ZM249.1 549.0A3.7 2.9 129 1 0 253.8 543.2A3.7 2.9 129 1 0 249.1 549.0ZM205.4 541.8A4.1 3.5 38 1 0 198.9 536.6A4.1 3.5 38 1 0 205.4 541.8ZM187.2 414.3A2.7 2.3 39 1 0 183.1 410.9A2.7 2.3 39 1 0 187.2 414.3ZM217.7 427.1A3.1 2.5 130 1 0 221.6 422.4A3.1 2.5 130 1 0 217.7 427.1ZM286.1 552.1A3.8 2.5 120 1 0 290.0 545.6A3.8 2.5 120 1 0 286.1 552.1ZM170.4 534.8A3.1 2.1 4 1 0 164.2 534.3A3.1 2.1 4 1 0 170.4 534.8ZM161.2 438.1A2.8 1.7 87 1 0 161.0 432.4A2.8 1.7 87 1 0 161.2 438.1ZM63.4 350.5A3.1 2.1 90 1 0 63.4 344.3A3.1 2.1 90 1 0 63.4 350.5ZM175.3 402.6A2.5 1.4 100 1 0 176.2 397.8A2.5 1.4 100 1 0 175.3 402.6ZM281.3 376.2A2.9 2.0 133 1 0 285.3 372.0A2.9 2.0 133 1 0 281.3 376.2ZM168.5 500.7A2.2 1.3 37 1 0 165.0 498.1A2.2 1.3 37 1 0 168.5 500.7ZM136.9 405.8A3.0 2.8 79 1 0 135.8 399.9A3.0 2.8 79 1 0 136.9 405.8ZM183.9 542.0A3.5 2.7 149 1 0 189.9 538.4A3.5 2.7 149 1 0 183.9 542.0ZM126.9 318.3A4.1 3.1 104 1 0 129.0 310.4A4.1 3.1 104 1 0 126.9 318.3ZM64.3 489.3A2.9 2.4 51 1 0 60.6 484.7A2.9 2.4 51 1 0 64.3 489.3ZM272.7 397.2A2.8 2.5 40 1 0 268.5 393.6A2.8 2.5 40 1 0 272.7 397.2ZM115.7 426.7A4.2 2.5 37 1 0 109.1 421.6A4.2 2.5 37 1 0 115.7 426.7ZM238.8 326.3A3.0 2.6 128 1 0 242.6 321.5A3.0 2.6 128 1 0 238.8 326.3ZM236.7 336.3A4.0 2.8 146 1 0 243.4 332.0A4.0 2.8 146 1 0 236.7 336.3ZM164.3 524.1A3.2 2.1 27 1 0 158.7 521.2A3.2 2.1 27 1 0 164.3 524.1ZM167.0 320.2A2.5 2.3 103 1 0 168.1 315.3A2.5 2.3 103 1 0 167.0 320.2ZM260.1 343.4A3.2 2.3 19 1 0 254.2 341.3A3.2 2.3 19 1 0 260.1 343.4ZM109.4 533.5A3.6 2.7 109 1 0 111.8 526.6A3.6 2.7 109 1 0 109.4 533.5ZM253.5 539.2A3.4 1.9 156 1 0 259.7 536.5A3.4 1.9 156 1 0 253.5 539.2ZM85.8 366.5A2.5 1.9 104 1 0 87.1 361.7A2.5 1.9 104 1 0 85.8 366.5ZM158.4 422.5A2.5 2.1 96 1 0 159.0 417.6A2.5 2.1 96 1 0 158.4 422.5ZM117.6 508.8A4.1 3.7 177 1 0 125.8 508.4A4.1 3.7 177 1 0 117.6 508.8ZM60.9 402.5A3.1 2.0 133 1 0 65.2 398.0A3.1 2.0 133 1 0 60.9 402.5ZM264.4 340.4A3.2 3.0 159 1 0 270.4 338.2A3.2 3.0 159 1 0 264.4 340.4ZM153.9 333.0A3.1 2.4 141 1 0 158.8 329.2A3.1 2.4 141 1 0 153.9 333.0ZM90.2 377.6A4.2 2.3 109 1 0 93.1 369.7A4.2 2.3 109 1 0 90.2 377.6ZM71.7 490.3A3.0 2.8 40 1 0 67.1 486.4A3.0 2.8 40 1 0 71.7 490.3ZM262.9 361.6A2.3 1.3 13 1 0 258.4 360.5A2.3 1.3 13 1 0 262.9 361.6ZM144.1 542.6A2.9 2.4 6 1 0 138.3 542.0A2.9 2.4 6 1 0 144.1 542.6ZM172.7 439.3A2.4 1.9 80 1 0 171.9 434.6A2.4 1.9 80 1 0 172.7 439.3ZM129.6 509.0A3.6 2.1 19 1 0 122.8 506.6A3.6 2.1 19 1 0 129.6 509.0ZM55.5 370.1A3.5 3.3 174 1 0 62.5 369.4A3.5 3.3 174 1 0 55.5 370.1ZM257.8 339.7A3.8 3.2 85 1 0 257.1 332.1A3.8 3.2 85 1 0 257.8 339.7ZM291.8 452.4A2.4 1.6 23 1 0 287.3 450.5A2.4 1.6 23 1 0 291.8 452.4ZM199.3 457.7A3.9 2.2 1 1 0 191.5 457.5A3.9 2.2 1 1 0 199.3 457.7ZM286.5 370.4A2.7 2.4 20 1 0 281.4 368.5A2.7 2.4 20 1 0 286.5 370.4ZM243.3 524.0A3.3 2.6 1 1 0 236.7 523.9A3.3 2.6 1 1 0 243.3 524.0ZM198.0 456.4A3.7 2.8 20 1 0 191.0 453.7A3.7 2.8 20 1 0 198.0 456.4ZM102.3 466.3A2.4 1.4 45 1 0 98.9 463.0A2.4 1.4 45 1 0 102.3 466.3ZM240.1 441.5A2.9 2.7 104 1 0 241.6 435.9A2.9 2.7 104 1 0 240.1 441.5ZM105.3 447.1A3.9 2.7 78 1 0 103.7 439.5A3.9 2.7 78 1 0 105.3 447.1ZM186.4 549.3A3.5 2.2 104 1 0 188.2 542.6A3.5 2.2 104 1 0 186.4 549.3ZM124.6 424.5A3.6 2.0 91 1 0 124.8 417.2A3.6 2.0 91 1 0 124.6 424.5ZM121.4 455.0A3.8 2.8 113 1 0 124.5 447.9A3.8 2.8 113 1 0 121.4 455.0ZM119.2 370.0A3.2 2.5 40 1 0 114.3 365.9A3.2 2.5 40 1 0 119.2 370.0ZM230.6 428.7A2.9 1.9 150 1 0 235.7 425.8A2.9 1.9 150 1 0 230.6 428.7ZM265.6 536.5A2.7 1.6 113 1 0 267.7 531.6A2.7 1.6 113 1 0 265.6 536.5ZM52.9 517.6A3.6 2.4 79 1 0 51.6 510.6A3.6 2.4 79 1 0 52.9 517.6ZM211.5 347.1A2.9 2.5 122 1 0 214.7 342.1A2.9 2.5 122 1 0 211.5 347.1Z" fill="#a0a5c0" fill-opacity="0.85"/>
<path d="M75.37,375.17 C78.81,373.2 88.64,374.67 94.53,373.69 C100.43,372.71 106.08,369.76 110.74,369.27 C115.41,368.78 115.9,370.74 122.54,370.74 C129.17,370.74 142.19,368.78 150.54,369.27 C158.89,369.76 167.98,371.48 172.65,373.69 C177.31,375.9 178.54,379.59 178.54,382.54 C178.54,385.48 172.89,386.47 172.65,391.38 C172.4,396.29 175.59,405.63 177.07,412.01 C178.54,418.4 182.23,425.77 181.49,429.7 C180.75,433.63 179.03,434.61 172.65,435.59 C166.26,436.58 151.52,434.61 143.17,435.59 C134.82,436.58 127.45,439.77 122.54,441.49 C117.62,443.21 114.43,447.38 113.69,445.91 C112.96,444.44 116.15,437.31 118.11,432.65 C120.08,427.98 126.96,424.29 125.48,417.91 C124.01,411.52 116.15,399.24 109.27,394.33 C102.39,389.41 90.11,389.9 84.22,388.43 C78.32,386.96 75.37,387.69 73.9,385.48 C72.42,383.27 71.93,377.13 75.37,375.17 Z" fill="#f3e8e2"/>
<rect x="76.85" y="373.69" width="16.21" height="11.05" rx="3" fill="#fbf8f6"/>
<rect x="128.43" y="370.74" width="41.27" height="11.79" rx="3" fill="#fbf8f6"/>
<rect x="157.91" y="394.33" width="19.16" height="35.37" rx="3" fill="#fbf8f6"/>
<rect x="116.64" y="429.7" width="26.53" height="11.79" rx="3" fill="#fbf8f6"/>
<path d="M44.42,304.42 L88.64,304.42 L76.85,311.79 L62.11,319.16 L48.84,326.53 L44.42,327.27 Z" fill="#ffffff"/>
<path d="M44.42,426.75 L54.74,429.7 L65.06,445.91 L54.74,448.12 L44.42,448.12 Z" fill="#ffffff"/>
<path d="M44.42,490.13 C45.4,491.11 48.11,493.32 50.32,496.02 C52.53,498.72 54.49,503.64 57.69,506.34 C60.88,509.04 62.6,510.39 69.48,512.23 C76.35,514.08 89.13,517.39 98.95,517.39 C108.78,517.39 121.06,514.57 128.43,512.23 C135.8,509.9 139.24,507.32 143.17,503.39 C147.1,499.46 148.33,492.46 152.01,488.65 C155.7,484.84 159.38,482.26 165.28,480.55 C171.17,478.83 180.01,477.97 187.38,478.33 C194.75,478.7 204.09,480.05 209.49,482.76 C214.9,485.46 217.6,488.16 219.81,494.55 C222.02,500.93 221.77,511.25 222.76,521.08 C223.74,530.9 225.21,548.1 225.7,553.5 L44.2,551.1 Z" fill="#ffffff"/>
<circle cx="137.27" cy="518.13" r="5.9" fill="#dcae98"/>
<circle cx="143.17" cy="531.39" r="7.37" fill="#dcae98"/>
<circle cx="107.8" cy="537.29" r="6.63" fill="#dcae98"/>
<circle cx="156.43" cy="524.02" r="4.42" fill="#dcae98"/>
<circle cx="76.85" cy="529.92" r="3.68" fill="#dcae98"/>
<rect x="46.2" y="305.6" width="244.4" height="243.5" filter="url(#tex)" style="mix-blend-mode:soft-light" opacity="0.35"/>
</g>
<rect x="46.2" y="305.6" width="244.4" height="243.5" fill="none" stroke="#000" stroke-width="2"/>
<line x1="227.2" y1="537.8" x2="278.8" y2="537.8" stroke="#1a0f0f" stroke-width="2.6"/>
<clipPath id="clipp3"><rect x="734" y="56.2" width="243.1" height="242.9"/></clipPath>
<g clip-path="url(#clipp3)">
<rect x="734" y="56.2" width="243.1" height="242.9" fill="#d6d0cd"/>
<path d="M878.1 81.5A1.9 1.2 5 1 0 874.4 81.1A1.9 1.2 5 1 0 878.1 81.5ZM887.0 196.0A2.7 2.1 165 1 0 892.2 194.6A2.7 2.1 165 1 0 887.0 196.0ZM846.1 182.3A1.9 1.4 168 1 0 849.9 181.5A1.9 1.4 168 1 0 846.1 182.3ZM851.8 58.6A2.0 1.3 112 1 0 853.3 54.8A2.0 1.3 112 1 0 851.8 58.6ZM860.4 172.5A2.7 2.3 15 1 0 855.2 171.0A2.7 2.3 15 1 0 860.4 172.5ZM741.4 228.7A2.3 1.9 90 1 0 741.5 224.1A2.3 1.9 90 1 0 741.4 228.7ZM745.3 166.3A2.6 2.1 7 1 0 740.1 165.6A2.6 2.1 7 1 0 745.3 166.3ZM762.9 277.8A2.3 1.4 127 1 0 765.6 274.2A2.3 1.4 127 1 0 762.9 277.8ZM961.1 267.0A2.4 2.1 15 1 0 956.5 265.7A2.4 2.1 15 1 0 961.1 267.0ZM844.8 253.8A2.0 1.2 155 1 0 848.5 252.2A2.0 1.2 155 1 0 844.8 253.8ZM903.6 58.3A1.7 1.3 171 1 0 906.9 57.8A1.7 1.3 171 1 0 903.6 58.3ZM885.6 269.9A1.7 1.3 32 1 0 882.7 268.1A1.7 1.3 32 1 0 885.6 269.9ZM813.7 94.4A2.2 1.2 118 1 0 815.7 90.6A2.2 1.2 118 1 0 813.7 94.4ZM888.8 277.0A2.5 1.5 156 1 0 893.4 275.0A2.5 1.5 156 1 0 888.8 277.0ZM864.7 285.4A2.2 1.3 126 1 0 867.3 281.8A2.2 1.3 126 1 0 864.7 285.4ZM776.2 297.5A2.2 2.0 88 1 0 776.1 293.0A2.2 2.0 88 1 0 776.2 297.5ZM815.0 218.9A2.5 1.8 49 1 0 811.8 215.2A2.5 1.8 49 1 0 815.0 218.9ZM836.3 231.7A1.9 1.1 87 1 0 836.1 227.9A1.9 1.1 87 1 0 836.3 231.7ZM895.2 73.8A1.9 1.8 48 1 0 892.7 71.0A1.9 1.8 48 1 0 895.2 73.8ZM920.1 131.1A1.7 1.3 156 1 0 923.2 129.8A1.7 1.3 156 1 0 920.1 131.1ZM923.1 70.3A2.4 2.0 86 1 0 922.8 65.4A2.4 2.0 86 1 0 923.1 70.3ZM897.3 183.7A1.8 1.5 23 1 0 893.9 182.2A1.8 1.5 23 1 0 897.3 183.7ZM807.9 264.9A2.3 1.7 127 1 0 810.7 261.2A2.3 1.7 127 1 0 807.9 264.9ZM854.7 151.5A2.3 1.3 63 1 0 852.7 147.5A2.3 1.3 63 1 0 854.7 151.5ZM746.0 299.3A2.7 2.2 28 1 0 741.2 296.8A2.7 2.2 28 1 0 746.0 299.3ZM941.1 127.4A2.6 2.1 108 1 0 942.7 122.5A2.6 2.1 108 1 0 941.1 127.4ZM912.4 122.9A2.6 2.0 136 1 0 916.1 119.4A2.6 2.0 136 1 0 912.4 122.9ZM940.2 118.5A2.1 1.5 13 1 0 936.1 117.5A2.1 1.5 13 1 0 940.2 118.5ZM944.8 223.5A2.2 1.7 158 1 0 948.9 221.9A2.2 1.7 158 1 0 944.8 223.5ZM751.0 145.5A2.4 1.9 89 1 0 750.9 140.7A2.4 1.9 89 1 0 751.0 145.5ZM794.5 110.8A2.4 1.7 168 1 0 799.3 109.9A2.4 1.7 168 1 0 794.5 110.8ZM955.1 292.5A1.9 1.5 18 1 0 951.4 291.3A1.9 1.5 18 1 0 955.1 292.5ZM819.7 75.8A2.2 2.1 137 1 0 823.0 72.8A2.2 2.1 137 1 0 819.7 75.8ZM820.0 124.6A2.7 1.6 152 1 0 824.8 122.0A2.7 1.6 152 1 0 820.0 124.6ZM943.0 75.5A2.7 2.2 70 1 0 941.1 70.3A2.7 2.2 70 1 0 943.0 75.5ZM835.3 204.7A2.2 2.0 161 1 0 839.5 203.3A2.2 2.0 161 1 0 835.3 204.7ZM812.2 60.6A2.5 2.1 117 1 0 814.6 56.1A2.5 2.1 117 1 0 812.2 60.6ZM752.3 77.3A2.7 1.9 85 1 0 751.8 72.0A2.7 1.9 85 1 0 752.3 77.3ZM970.2 105.9A2.4 1.4 101 1 0 971.1 101.3A2.4 1.4 101 1 0 970.2 105.9ZM911.5 95.7A2.5 2.4 148 1 0 915.7 93.1A2.5 2.4 148 1 0 911.5 95.7ZM924.1 287.6A2.5 1.9 148 1 0 928.3 285.0A2.5 1.9 148 1 0 924.1 287.6ZM931.2 211.1A2.4 1.5 60 1 0 928.9 206.9A2.4 1.5 60 1 0 931.2 211.1ZM810.6 264.9A2.5 1.7 178 1 0 815.6 264.8A2.5 1.7 178 1 0 810.6 264.9ZM746.4 71.5A2.0 1.2 170 1 0 750.3 70.9A2.0 1.2 170 1 0 746.4 71.5ZM820.1 152.9A2.6 2.0 113 1 0 822.2 148.1A2.6 2.0 113 1 0 820.1 152.9ZM840.7 170.7A2.7 1.8 94 1 0 841.2 165.2A2.7 1.8 94 1 0 840.7 170.7ZM848.9 91.5A1.8 1.3 143 1 0 851.8 89.4A1.8 1.3 143 1 0 848.9 91.5ZM836.5 71.5A2.7 1.6 159 1 0 841.6 69.6A2.7 1.6 159 1 0 836.5 71.5ZM745.4 215.7A1.8 1.2 75 1 0 744.6 212.3A1.8 1.2 75 1 0 745.4 215.7ZM917.5 164.0A2.1 1.5 93 1 0 917.8 159.8A2.1 1.5 93 1 0 917.5 164.0ZM802.0 289.5A1.8 1.1 98 1 0 802.5 285.9A1.8 1.1 98 1 0 802.0 289.5ZM820.1 232.9A1.6 1.4 65 1 0 818.7 229.9A1.6 1.4 65 1 0 820.1 232.9ZM959.2 131.2A2.1 1.4 96 1 0 959.6 127.0A2.1 1.4 96 1 0 959.2 131.2ZM803.6 220.5A2.1 1.7 52 1 0 801.0 217.2A2.1 1.7 52 1 0 803.6 220.5ZM845.5 193.9A2.5 2.0 77 1 0 844.4 189.1A2.5 2.0 77 1 0 845.5 193.9ZM756.4 84.4A1.8 1.1 33 1 0 753.4 82.5A1.8 1.1 33 1 0 756.4 84.4ZM896.9 140.9A2.7 1.7 44 1 0 893.0 137.1A2.7 1.7 44 1 0 896.9 140.9ZM780.2 93.0A2.4 1.9 45 1 0 776.8 89.6A2.4 1.9 45 1 0 780.2 93.0ZM930.0 222.2A2.1 1.7 118 1 0 932.0 218.4A2.1 1.7 118 1 0 930.0 222.2ZM842.0 80.3A2.0 1.9 67 1 0 840.4 76.6A2.0 1.9 67 1 0 842.0 80.3ZM890.3 80.0A2.5 2.3 67 1 0 888.3 75.3A2.5 2.3 67 1 0 890.3 80.0ZM826.2 181.5A1.9 1.2 23 1 0 822.7 180.0A1.9 1.2 23 1 0 826.2 181.5ZM898.5 181.0A2.7 2.6 157 1 0 903.6 178.9A2.7 2.6 157 1 0 898.5 181.0ZM962.0 259.9A1.6 1.0 175 1 0 965.2 259.7A1.6 1.0 175 1 0 962.0 259.9ZM947.0 208.1A2.3 1.7 76 1 0 945.9 203.5A2.3 1.7 76 1 0 947.0 208.1ZM767.7 190.1A1.9 1.2 156 1 0 771.2 188.6A1.9 1.2 156 1 0 767.7 190.1ZM875.0 270.5A2.0 1.5 49 1 0 872.4 267.5A2.0 1.5 49 1 0 875.0 270.5ZM937.2 109.0A2.4 1.8 58 1 0 934.7 104.9A2.4 1.8 58 1 0 937.2 109.0ZM755.2 175.7A2.2 2.0 36 1 0 751.7 173.1A2.2 2.0 36 1 0 755.2 175.7ZM778.0 132.7A2.6 1.6 114 1 0 780.1 128.1A2.6 1.6 114 1 0 778.0 132.7ZM744.1 77.0A2.4 1.8 20 1 0 739.5 75.3A2.4 1.8 20 1 0 744.1 77.0ZM849.5 286.7A2.1 1.6 75 1 0 848.5 282.6A2.1 1.6 75 1 0 849.5 286.7ZM858.1 69.1A2.7 2.1 62 1 0 855.6 64.4A2.7 2.1 62 1 0 858.1 69.1ZM804.2 104.2A2.7 2.4 68 1 0 802.1 99.1A2.7 2.4 68 1 0 804.2 104.2ZM879.4 191.8A1.8 1.0 132 1 0 881.9 189.0A1.8 1.0 132 1 0 879.4 191.8ZM775.0 194.2A1.6 0.9 29 1 0 772.1 192.6A1.6 0.9 29 1 0 775.0 194.2ZM892.7 207.8A2.8 2.3 93 1 0 893.1 202.3A2.8 2.3 93 1 0 892.7 207.8ZM739.4 289.2A2.2 2.0 7 1 0 735.0 288.6A2.2 2.0 7 1 0 739.4 289.2ZM938.8 172.2A1.9 1.3 13 1 0 935.2 171.4A1.9 1.3 13 1 0 938.8 172.2ZM873.8 111.4A2.4 1.5 124 1 0 876.6 107.4A2.4 1.5 124 1 0 873.8 111.4ZM882.6 231.4A2.7 1.8 122 1 0 885.6 226.8A2.7 1.8 122 1 0 882.6 231.4ZM829.8 275.8A2.6 2.2 107 1 0 831.4 270.9A2.6 2.2 107 1 0 829.8 275.8ZM798.9 279.1A2.8 2.6 60 1 0 796.2 274.3A2.8 2.6 60 1 0 798.9 279.1ZM934.2 223.7A2.6 2.3 81 1 0 933.4 218.5A2.6 2.3 81 1 0 934.2 223.7ZM827.9 250.4A2.4 1.8 157 1 0 832.3 248.5A2.4 1.8 157 1 0 827.9 250.4ZM739.8 60.5A2.2 1.3 151 1 0 743.6 58.4A2.2 1.3 151 1 0 739.8 60.5ZM754.1 271.8A1.9 1.1 135 1 0 756.8 269.2A1.9 1.1 135 1 0 754.1 271.8ZM896.4 156.3A2.3 1.8 170 1 0 901.0 155.5A2.3 1.8 170 1 0 896.4 156.3ZM856.2 189.1A2.2 1.5 124 1 0 858.6 185.5A2.2 1.5 124 1 0 856.2 189.1ZM760.7 227.0A2.7 2.3 97 1 0 761.5 221.7A2.7 2.3 97 1 0 760.7 227.0ZM818.3 80.5A1.7 1.3 158 1 0 821.5 79.3A1.7 1.3 158 1 0 818.3 80.5ZM944.7 103.2A2.5 2.2 86 1 0 944.4 98.2A2.5 2.2 86 1 0 944.7 103.2ZM941.3 103.1A2.0 1.5 130 1 0 944.0 100.0A2.0 1.5 130 1 0 941.3 103.1ZM843.8 132.2A2.6 1.9 75 1 0 842.4 127.0A2.6 1.9 75 1 0 843.8 132.2ZM787.2 175.7A2.4 1.7 119 1 0 789.6 171.4A2.4 1.7 119 1 0 787.2 175.7ZM853.5 61.8A2.8 1.8 98 1 0 854.3 56.4A2.8 1.8 98 1 0 853.5 61.8ZM968.6 107.2A1.7 1.1 27 1 0 965.6 105.6A1.7 1.1 27 1 0 968.6 107.2ZM940.9 183.5A1.7 1.1 91 1 0 941.0 180.2A1.7 1.1 91 1 0 940.9 183.5ZM778.4 132.4A2.7 2.0 41 1 0 774.4 128.8A2.7 2.0 41 1 0 778.4 132.4ZM881.4 84.2A2.2 1.8 15 1 0 877.1 83.0A2.2 1.8 15 1 0 881.4 84.2ZM865.0 132.1A2.5 2.0 163 1 0 869.7 130.7A2.5 2.0 163 1 0 865.0 132.1ZM880.1 101.7A1.8 1.5 145 1 0 883.1 99.6A1.8 1.5 145 1 0 880.1 101.7ZM747.4 158.2A1.9 1.4 157 1 0 751.0 156.7A1.9 1.4 157 1 0 747.4 158.2ZM869.1 239.3A2.5 1.7 111 1 0 871.0 234.6A2.5 1.7 111 1 0 869.1 239.3ZM827.1 172.5A2.2 1.8 30 1 0 823.3 170.3A2.2 1.8 30 1 0 827.1 172.5ZM935.8 95.4A2.0 1.8 177 1 0 939.8 95.2A2.0 1.8 177 1 0 935.8 95.4ZM824.5 288.4A1.6 1.5 36 1 0 821.8 286.5A1.6 1.5 36 1 0 824.5 288.4ZM744.3 241.3A1.8 1.5 1 1 0 740.7 241.2A1.8 1.5 1 1 0 744.3 241.3ZM764.9 144.6A1.7 1.3 62 1 0 763.3 141.5A1.7 1.3 62 1 0 764.9 144.6ZM915.9 177.3A2.8 2.4 30 1 0 911.2 174.5A2.8 2.4 30 1 0 915.9 177.3ZM959.0 274.7A2.3 1.7 30 1 0 955.0 272.4A2.3 1.7 30 1 0 959.0 274.7ZM813.0 111.2A1.8 1.5 58 1 0 811.1 108.1A1.8 1.5 58 1 0 813.0 111.2ZM918.3 196.6A2.6 1.5 152 1 0 922.9 194.2A2.6 1.5 152 1 0 918.3 196.6ZM858.0 211.5A1.9 1.6 73 1 0 856.9 207.9A1.9 1.6 73 1 0 858.0 211.5ZM908.1 199.3A1.8 1.2 135 1 0 910.7 196.9A1.8 1.2 135 1 0 908.1 199.3ZM739.0 211.6A2.3 1.9 59 1 0 736.7 207.7A2.3 1.9 59 1 0 739.0 211.6ZM849.9 174.5A2.5 1.4 91 1 0 850.0 169.5A2.5 1.4 91 1 0 849.9 174.5ZM798.5 200.6A1.9 1.2 41 1 0 795.7 198.1A1.9 1.2 41 1 0 798.5 200.6ZM953.3 146.5A2.7 2.2 48 1 0 949.8 142.5A2.7 2.2 48 1 0 953.3 146.5ZM871.2 59.3A2.7 2.2 20 1 0 866.1 57.4A2.7 2.2 20 1 0 871.2 59.3ZM857.8 177.1A2.4 1.6 163 1 0 862.5 175.8A2.4 1.6 163 1 0 857.8 177.1ZM886.8 76.0A2.6 2.3 54 1 0 883.9 71.7A2.6 2.3 54 1 0 886.8 76.0ZM904.6 266.4A2.7 1.5 150 1 0 909.3 263.8A2.7 1.5 150 1 0 904.6 266.4ZM792.1 251.7A2.4 1.8 162 1 0 796.7 250.2A2.4 1.8 162 1 0 792.1 251.7ZM927.4 299.8A2.8 2.1 132 1 0 931.1 295.7A2.8 2.1 132 1 0 927.4 299.8ZM898.7 154.8A2.2 1.7 38 1 0 895.3 152.0A2.2 1.7 38 1 0 898.7 154.8ZM796.0 263.5A2.6 2.2 123 1 0 798.9 259.2A2.6 2.2 123 1 0 796.0 263.5ZM858.4 197.8A2.4 1.3 79 1 0 857.6 193.1A2.4 1.3 79 1 0 858.4 197.8ZM971.2 107.7A2.2 1.3 45 1 0 968.2 104.6A2.2 1.3 45 1 0 971.2 107.7ZM932.0 65.2A2.6 2.2 156 1 0 936.7 63.1A2.6 2.2 156 1 0 932.0 65.2ZM794.5 282.8A2.0 1.5 171 1 0 798.5 282.2A2.0 1.5 171 1 0 794.5 282.8ZM867.5 222.9A1.7 1.0 47 1 0 865.2 220.3A1.7 1.0 47 1 0 867.5 222.9ZM758.7 257.9A1.9 1.8 122 1 0 760.7 254.7A1.9 1.8 122 1 0 758.7 257.9ZM782.5 229.3A2.0 1.5 13 1 0 778.7 228.4A2.0 1.5 13 1 0 782.5 229.3ZM937.6 249.4A2.3 1.9 61 1 0 935.3 245.4A2.3 1.9 61 1 0 937.6 249.4ZM767.3 136.2A2.5 1.9 24 1 0 762.8 134.2A2.5 1.9 24 1 0 767.3 136.2ZM792.8 173.2A1.6 0.9 80 1 0 792.3 170.0A1.6 0.9 80 1 0 792.8 173.2ZM765.1 273.2A1.8 1.5 143 1 0 767.9 271.1A1.8 1.5 143 1 0 765.1 273.2ZM811.7 190.5A2.8 2.2 69 1 0 809.7 185.2A2.8 2.2 69 1 0 811.7 190.5ZM971.9 121.9A2.7 1.9 75 1 0 970.6 116.6A2.7 1.9 75 1 0 971.9 121.9ZM813.0 216.0A2.7 2.2 32 1 0 808.5 213.1A2.7 2.2 32 1 0 813.0 216.0ZM976.8 232.5A2.2 2.0 19 1 0 972.7 231.0A2.2 2.0 19 1 0 976.8 232.5ZM881.9 247.6A2.5 2.1 11 1 0 876.9 246.6A2.5 2.1 11 1 0 881.9 247.6ZM850.6 123.8A2.3 1.7 82 1 0 850.0 119.2A2.3 1.7 82 1 0 850.6 123.8ZM866.5 201.1A2.7 1.8 49 1 0 863.0 197.1A2.7 1.8 49 1 0 866.5 201.1ZM781.3 84.5A2.6 2.4 22 1 0 776.4 82.5A2.6 2.4 22 1 0 781.3 84.5ZM818.9 275.9A2.6 2.5 178 1 0 824.2 275.8A2.6 2.5 178 1 0 818.9 275.9ZM809.7 72.4A1.9 1.4 2 1 0 805.9 72.3A1.9 1.4 2 1 0 809.7 72.4ZM797.9 172.0A2.4 1.5 22 1 0 793.4 170.2A2.4 1.5 22 1 0 797.9 172.0ZM812.9 79.3A1.7 1.0 143 1 0 815.7 77.2A1.7 1.0 143 1 0 812.9 79.3ZM946.6 68.9A2.6 2.3 117 1 0 948.9 64.3A2.6 2.3 117 1 0 946.6 68.9ZM805.2 255.6A1.7 1.0 171 1 0 808.6 255.1A1.7 1.0 171 1 0 805.2 255.6ZM790.2 279.3A2.5 1.4 16 1 0 785.4 277.8A2.5 1.4 16 1 0 790.2 279.3ZM892.9 93.3A2.4 2.0 41 1 0 889.3 90.1A2.4 2.0 41 1 0 892.9 93.3ZM848.4 109.9A2.6 2.1 124 1 0 851.3 105.5A2.6 2.1 124 1 0 848.4 109.9ZM885.0 73.7A2.7 2.3 92 1 0 885.2 68.3A2.7 2.3 92 1 0 885.0 73.7ZM879.2 177.7A2.5 1.9 49 1 0 875.9 173.9A2.5 1.9 49 1 0 879.2 177.7ZM858.0 108.7A1.6 1.2 156 1 0 861.0 107.5A1.6 1.2 156 1 0 858.0 108.7ZM908.3 109.1A2.2 1.7 104 1 0 909.4 104.9A2.2 1.7 104 1 0 908.3 109.1ZM845.7 182.4A2.4 2.2 92 1 0 846.0 177.5A2.4 2.2 92 1 0 845.7 182.4ZM925.6 222.8A1.7 1.1 56 1 0 923.7 219.9A1.7 1.1 56 1 0 925.6 222.8ZM818.8 176.9A2.0 1.9 132 1 0 821.4 174.1A2.0 1.9 132 1 0 818.8 176.9ZM823.2 228.7A2.7 1.7 113 1 0 825.3 223.7A2.7 1.7 113 1 0 823.2 228.7ZM968.5 149.6A2.7 2.3 57 1 0 965.7 145.1A2.7 2.3 57 1 0 968.5 149.6ZM769.3 254.2A2.1 1.4 83 1 0 768.9 250.0A2.1 1.4 83 1 0 769.3 254.2ZM913.3 274.8A2.7 2.3 31 1 0 908.7 272.0A2.7 2.3 31 1 0 913.3 274.8ZM825.3 58.9A1.8 1.3 31 1 0 822.2 56.9A1.8 1.3 31 1 0 825.3 58.9ZM851.5 89.9A2.4 1.7 44 1 0 848.1 86.5A2.4 1.7 44 1 0 851.5 89.9ZM899.6 137.0A1.6 1.4 135 1 0 901.9 134.7A1.6 1.4 135 1 0 899.6 137.0ZM949.2 128.4A1.9 1.6 26 1 0 945.8 126.7A1.9 1.6 26 1 0 949.2 128.4ZM970.4 216.6A2.3 1.3 50 1 0 967.6 213.1A2.3 1.3 50 1 0 970.4 216.6ZM838.6 294.8A1.8 1.4 14 1 0 835.2 294.0A1.8 1.4 14 1 0 838.6 294.8ZM972.3 239.1A2.6 2.2 32 1 0 967.9 236.3A2.6 2.2 32 1 0 972.3 239.1ZM794.5 67.0A2.3 1.3 33 1 0 790.8 64.5A2.3 1.3 33 1 0 794.5 67.0ZM773.8 279.9A2.5 1.7 174 1 0 778.9 279.5A2.5 1.7 174 1 0 773.8 279.9ZM774.7 91.0A2.1 1.8 17 1 0 770.8 89.7A2.1 1.8 17 1 0 774.7 91.0ZM928.3 188.7A2.6 1.8 7 1 0 923.2 188.0A2.6 1.8 7 1 0 928.3 188.7ZM759.8 233.2A2.2 1.9 35 1 0 756.3 230.6A2.2 1.9 35 1 0 759.8 233.2ZM804.2 108.8A2.6 2.2 27 1 0 799.6 106.4A2.6 2.2 27 1 0 804.2 108.8ZM908.8 67.1A2.2 1.4 137 1 0 912.0 64.2A2.2 1.4 137 1 0 908.8 67.1ZM907.9 224.0A1.8 1.0 115 1 0 909.5 220.6A1.8 1.0 115 1 0 907.9 224.0ZM904.0 60.8A2.6 2.4 65 1 0 901.8 56.1A2.6 2.4 65 1 0 904.0 60.8ZM860.0 217.0A2.7 2.2 92 1 0 860.3 211.6A2.7 2.2 92 1 0 860.0 217.0ZM921.3 176.8A1.6 1.3 74 1 0 920.5 173.6A1.6 1.3 74 1 0 921.3 176.8ZM814.2 153.3A1.9 1.3 134 1 0 816.8 150.6A1.9 1.3 134 1 0 814.2 153.3ZM949.1 169.7A2.6 1.6 92 1 0 949.4 164.5A2.6 1.6 92 1 0 949.1 169.7ZM912.9 246.2A2.1 1.3 172 1 0 917.0 245.7A2.1 1.3 172 1 0 912.9 246.2ZM881.7 216.8A2.0 1.2 102 1 0 882.6 212.9A2.0 1.2 102 1 0 881.7 216.8ZM831.9 274.7A2.4 2.0 102 1 0 832.9 270.1A2.4 2.0 102 1 0 831.9 274.7ZM916.2 91.4A2.8 2.2 107 1 0 917.9 86.1A2.8 2.2 107 1 0 916.2 91.4ZM778.9 80.5A2.4 2.1 119 1 0 781.3 76.2A2.4 2.1 119 1 0 778.9 80.5ZM793.5 175.2A2.5 2.0 163 1 0 798.4 173.7A2.5 2.0 163 1 0 793.5 175.2ZM755.5 246.0A1.6 1.3 96 1 0 755.9 242.8A1.6 1.3 96 1 0 755.5 246.0ZM754.3 158.5A2.4 2.2 13 1 0 749.7 157.4A2.4 2.2 13 1 0 754.3 158.5ZM856.2 249.7A1.7 1.6 168 1 0 859.6 249.0A1.7 1.6 168 1 0 856.2 249.7ZM817.7 108.7A1.8 1.1 75 1 0 816.8 105.2A1.8 1.1 75 1 0 817.7 108.7ZM906.4 286.0A2.3 2.1 76 1 0 905.4 281.5A2.3 2.1 76 1 0 906.4 286.0ZM895.8 57.1A2.1 1.2 23 1 0 891.9 55.4A2.1 1.2 23 1 0 895.8 57.1ZM930.4 86.0A2.0 1.5 94 1 0 930.8 82.0A2.0 1.5 94 1 0 930.4 86.0ZM743.7 83.7A2.4 1.7 16 1 0 739.1 82.3A2.4 1.7 16 1 0 743.7 83.7ZM852.7 148.2A2.8 1.6 32 1 0 848.0 145.2A2.8 1.6 32 1 0 852.7 148.2ZM754.7 191.0A2.8 2.4 20 1 0 749.6 189.2A2.8 2.4 20 1 0 754.7 191.0ZM864.3 145.8A2.8 2.3 108 1 0 866.1 140.5A2.8 2.3 108 1 0 864.3 145.8ZM795.9 164.4A2.2 1.6 101 1 0 796.8 160.1A2.2 1.6 101 1 0 795.9 164.4ZM755.8 161.2A2.8 2.0 91 1 0 755.9 155.6A2.8 2.0 91 1 0 755.8 161.2ZM915.7 255.5A2.5 1.7 128 1 0 918.7 251.6A2.5 1.7 128 1 0 915.7 255.5ZM783.9 206.9A1.6 1.0 31 1 0 781.1 205.2A1.6 1.0 31 1 0 783.9 206.9ZM821.2 235.9A1.6 1.5 16 1 0 818.0 235.0A1.6 1.5 16 1 0 821.2 235.9ZM962.7 287.1A2.3 2.1 169 1 0 967.3 286.3A2.3 2.1 169 1 0 962.7 287.1ZM842.1 265.6A1.6 1.4 116 1 0 843.6 262.6A1.6 1.4 116 1 0 842.1 265.6ZM922.2 94.1A1.7 1.3 109 1 0 923.3 90.9A1.7 1.3 109 1 0 922.2 94.1ZM902.7 101.3A2.3 2.1 45 1 0 899.5 98.1A2.3 2.1 45 1 0 902.7 101.3ZM933.9 291.9A2.4 1.7 75 1 0 932.7 287.2A2.4 1.7 75 1 0 933.9 291.9ZM849.1 87.4A1.7 1.1 31 1 0 846.2 85.6A1.7 1.1 31 1 0 849.1 87.4ZM950.2 145.0A2.7 2.1 161 1 0 955.2 143.3A2.7 2.1 161 1 0 950.2 145.0ZM951.5 231.1A2.1 1.4 101 1 0 952.4 226.9A2.1 1.4 101 1 0 951.5 231.1ZM810.6 258.9A1.7 1.3 61 1 0 809.0 256.0A1.7 1.3 61 1 0 810.6 258.9ZM837.3 190.4A2.8 2.6 64 1 0 834.9 185.4A2.8 2.6 64 1 0 837.3 190.4ZM968.6 289.7A2.2 1.7 35 1 0 964.9 287.1A2.2 1.7 35 1 0 968.6 289.7ZM924.9 176.4A2.5 2.3 112 1 0 926.8 171.8A2.5 2.3 112 1 0 924.9 176.4ZM904.7 189.9A1.8 1.3 11 1 0 901.2 189.2A1.8 1.3 11 1 0 904.7 189.9ZM778.3 296.4A2.1 1.2 78 1 0 777.5 292.4A2.1 1.2 78 1 0 778.3 296.4ZM747.8 205.4A1.9 1.2 114 1 0 749.4 201.9A1.9 1.2 114 1 0 747.8 205.4ZM959.1 62.0A2.5 1.9 87 1 0 958.9 57.0A2.5 1.9 87 1 0 959.1 62.0ZM837.4 60.7A2.0 1.5 60 1 0 835.4 57.1A2.0 1.5 60 1 0 837.4 60.7ZM973.6 140.4A2.6 2.3 143 1 0 977.7 137.3A2.6 2.3 143 1 0 973.6 140.4ZM855.6 179.2A2.6 1.6 40 1 0 851.6 175.8A2.6 1.6 40 1 0 855.6 179.2ZM735.1 176.0A2.1 2.0 167 1 0 739.2 175.1A2.1 2.0 167 1 0 735.1 176.0ZM832.6 178.4A1.7 1.5 93 1 0 832.8 175.0A1.7 1.5 93 1 0 832.6 178.4ZM774.9 270.8A1.7 1.0 85 1 0 774.7 267.5A1.7 1.0 85 1 0 774.9 270.8ZM977.3 91.6A1.9 1.7 60 1 0 975.4 88.2A1.9 1.7 60 1 0 977.3 91.6ZM958.2 61.6A1.9 1.3 152 1 0 961.5 59.9A1.9 1.3 152 1 0 958.2 61.6ZM756.7 221.4A2.7 2.5 145 1 0 761.0 218.4A2.7 2.5 145 1 0 756.7 221.4ZM747.6 174.8A1.9 1.1 43 1 0 745.0 172.3A1.9 1.1 43 1 0 747.6 174.8ZM914.4 196.2A1.8 1.2 11 1 0 911.0 195.5A1.8 1.2 11 1 0 914.4 196.2ZM957.0 239.5A2.2 2.0 176 1 0 961.3 239.2A2.2 2.0 176 1 0 957.0 239.5ZM783.7 119.7A1.8 1.5 107 1 0 784.8 116.2A1.8 1.5 107 1 0 783.7 119.7ZM858.9 246.1A2.2 1.5 120 1 0 861.1 242.3A2.2 1.5 120 1 0 858.9 246.1ZM963.2 69.9A2.2 1.3 134 1 0 966.3 66.8A2.2 1.3 134 1 0 963.2 69.9ZM838.3 262.3A2.4 2.2 104 1 0 839.5 257.6A2.4 2.2 104 1 0 838.3 262.3ZM881.2 293.7A2.6 1.8 18 1 0 876.4 292.1A2.6 1.8 18 1 0 881.2 293.7ZM956.7 74.0A2.7 2.5 119 1 0 959.3 69.3A2.7 2.5 119 1 0 956.7 74.0ZM966.6 205.3A2.5 2.0 40 1 0 962.8 202.1A2.5 2.0 40 1 0 966.6 205.3ZM752.8 238.8A2.1 1.3 100 1 0 753.6 234.6A2.1 1.3 100 1 0 752.8 238.8ZM796.5 121.8A2.7 2.1 134 1 0 800.3 118.0A2.7 2.1 134 1 0 796.5 121.8ZM933.5 164.2A2.1 1.5 64 1 0 931.7 160.3A2.1 1.5 64 1 0 933.5 164.2ZM924.8 272.2A2.0 1.6 38 1 0 921.7 269.8A2.0 1.6 38 1 0 924.8 272.2ZM733.4 222.7A2.5 1.7 179 1 0 738.4 222.6A2.5 1.7 179 1 0 733.4 222.7ZM911.1 135.2A2.5 2.2 25 1 0 906.5 133.1A2.5 2.2 25 1 0 911.1 135.2ZM955.5 163.6A1.9 1.4 95 1 0 955.8 159.8A1.9 1.4 95 1 0 955.5 163.6ZM861.1 129.0A1.7 1.3 129 1 0 863.2 126.4A1.7 1.3 129 1 0 861.1 129.0ZM905.4 153.6A2.6 1.5 23 1 0 900.6 151.5A2.6 1.5 23 1 0 905.4 153.6ZM738.3 193.1A2.2 1.4 94 1 0 738.6 188.7A2.2 1.4 94 1 0 738.3 193.1ZM737.6 65.6A2.8 2.5 12 1 0 732.2 64.4A2.8 2.5 12 1 0 737.6 65.6ZM892.5 181.7A2.2 2.0 115 1 0 894.4 177.6A2.2 2.0 115 1 0 892.5 181.7ZM960.4 223.2A2.7 1.6 148 1 0 965.0 220.4A2.7 1.6 148 1 0 960.4 223.2ZM809.9 281.6A2.5 2.4 135 1 0 813.5 278.1A2.5 2.4 135 1 0 809.9 281.6ZM828.7 185.9A2.5 1.5 97 1 0 829.3 180.9A2.5 1.5 97 1 0 828.7 185.9ZM870.8 232.1A2.0 1.6 132 1 0 873.5 229.1A2.0 1.6 132 1 0 870.8 232.1ZM826.5 224.4A2.7 1.9 94 1 0 827.0 219.1A2.7 1.9 94 1 0 826.5 224.4ZM852.3 261.7A1.9 1.3 70 1 0 851.0 258.1A1.9 1.3 70 1 0 852.3 261.7ZM890.7 95.8A2.8 2.1 131 1 0 894.4 91.6A2.8 2.1 131 1 0 890.7 95.8ZM836.2 63.4A2.1 1.6 16 1 0 832.3 62.2A2.1 1.6 16 1 0 836.2 63.4ZM973.8 200.3A2.2 1.2 44 1 0 970.7 197.3A2.2 1.2 44 1 0 973.8 200.3ZM817.2 215.3A1.8 1.3 48 1 0 814.8 212.6A1.8 1.3 48 1 0 817.2 215.3ZM870.5 225.4A2.2 1.9 112 1 0 872.1 221.3A2.2 1.9 112 1 0 870.5 225.4ZM752.2 216.1A2.2 1.9 168 1 0 756.5 215.3A2.2 1.9 168 1 0 752.2 216.1ZM821.3 262.7A1.9 1.5 0 1 0 817.6 262.6A1.9 1.5 0 1 0 821.3 262.7ZM935.4 166.5A2.1 1.6 67 1 0 933.7 162.6A2.1 1.6 67 1 0 935.4 166.5ZM791.5 226.1A2.4 1.3 48 1 0 788.4 222.6A2.4 1.3 48 1 0 791.5 226.1ZM961.2 126.7A2.0 1.5 67 1 0 959.7 123.1A2.0 1.5 67 1 0 961.2 126.7ZM965.9 295.8A1.8 1.1 30 1 0 962.9 294.0A1.8 1.1 30 1 0 965.9 295.8ZM844.5 125.7A2.4 2.2 12 1 0 839.8 124.6A2.4 2.2 12 1 0 844.5 125.7ZM740.8 85.4A2.0 1.2 77 1 0 739.9 81.5A2.0 1.2 77 1 0 740.8 85.4ZM823.1 235.5A2.8 2.6 75 1 0 821.7 230.2A2.8 2.6 75 1 0 823.1 235.5ZM888.2 89.1A2.3 2.1 159 1 0 892.5 87.5A2.3 2.1 159 1 0 888.2 89.1ZM766.1 98.4A2.7 2.2 137 1 0 770.0 94.7A2.7 2.2 137 1 0 766.1 98.4ZM749.1 207.4A1.6 1.4 143 1 0 751.7 205.5A1.6 1.4 143 1 0 749.1 207.4ZM811.4 59.2A2.5 2.4 111 1 0 813.2 54.6A2.5 2.4 111 1 0 811.4 59.2ZM824.0 138.5A2.6 2.4 65 1 0 821.9 133.8A2.6 2.4 65 1 0 824.0 138.5ZM788.9 300.0A2.1 1.5 55 1 0 786.5 296.5A2.1 1.5 55 1 0 788.9 300.0ZM910.9 296.9A2.2 1.9 72 1 0 909.5 292.8A2.2 1.9 72 1 0 910.9 296.9ZM834.9 253.3A2.8 2.4 126 1 0 838.3 248.8A2.8 2.4 126 1 0 834.9 253.3ZM936.1 282.0A2.7 2.1 69 1 0 934.2 276.9A2.7 2.1 69 1 0 936.1 282.0ZM733.7 184.2A2.0 1.1 178 1 0 737.7 184.1A2.0 1.1 178 1 0 733.7 184.2ZM807.5 283.6A1.6 1.1 141 1 0 810.0 281.6A1.6 1.1 141 1 0 807.5 283.6ZM895.7 220.7A2.2 1.3 149 1 0 899.5 218.5A2.2 1.3 149 1 0 895.7 220.7ZM919.1 174.5A2.3 2.0 88 1 0 919.0 170.0A2.3 2.0 88 1 0 919.1 174.5ZM850.8 176.1A2.5 2.1 60 1 0 848.4 171.7A2.5 2.1 60 1 0 850.8 176.1ZM920.4 148.2A2.4 1.7 161 1 0 925.0 146.7A2.4 1.7 161 1 0 920.4 148.2ZM963.0 247.1A2.1 1.4 78 1 0 962.1 243.1A2.1 1.4 78 1 0 963.0 247.1ZM883.2 64.9A2.3 2.1 11 1 0 878.8 63.9A2.3 2.1 11 1 0 883.2 64.9ZM948.9 197.4A2.8 2.3 129 1 0 952.4 193.0A2.8 2.3 129 1 0 948.9 197.4ZM915.4 159.2A1.7 1.6 157 1 0 918.7 157.8A1.7 1.6 157 1 0 915.4 159.2ZM910.3 111.1A2.2 1.7 65 1 0 908.4 107.1A2.2 1.7 65 1 0 910.3 111.1ZM850.2 167.5A2.8 2.2 175 1 0 855.8 167.1A2.8 2.2 175 1 0 850.2 167.5ZM954.1 101.7A2.5 1.8 107 1 0 955.6 96.9A2.5 1.8 107 1 0 954.1 101.7ZM871.7 237.7A2.0 1.6 66 1 0 870.1 234.1A2.0 1.6 66 1 0 871.7 237.7ZM925.7 177.9A2.4 2.3 50 1 0 922.7 174.3A2.4 2.3 50 1 0 925.7 177.9ZM733.2 274.9A2.2 1.8 149 1 0 737.1 272.6A2.2 1.8 149 1 0 733.2 274.9ZM948.6 152.1A2.8 2.0 130 1 0 952.3 147.8A2.8 2.0 130 1 0 948.6 152.1ZM937.2 146.2A2.1 1.5 61 1 0 935.2 142.5A2.1 1.5 61 1 0 937.2 146.2ZM832.8 263.2A1.7 1.6 142 1 0 835.5 261.1A1.7 1.6 142 1 0 832.8 263.2ZM868.2 213.0A2.0 1.7 157 1 0 871.8 211.4A2.0 1.7 157 1 0 868.2 213.0ZM825.2 178.3A1.9 1.2 153 1 0 828.5 176.6A1.9 1.2 153 1 0 825.2 178.3ZM892.5 164.8A2.4 1.5 0 1 0 887.7 164.8A2.4 1.5 0 1 0 892.5 164.8ZM821.8 197.5A1.8 1.4 58 1 0 819.9 194.4A1.8 1.4 58 1 0 821.8 197.5ZM796.4 237.4A2.0 1.7 134 1 0 799.3 234.5A2.0 1.7 134 1 0 796.4 237.4ZM824.6 66.4A2.6 2.0 104 1 0 825.9 61.4A2.6 2.0 104 1 0 824.6 66.4ZM898.0 189.7A2.7 1.5 174 1 0 903.3 189.2A2.7 1.5 174 1 0 898.0 189.7ZM883.0 157.7A2.7 2.4 107 1 0 884.6 152.6A2.7 2.4 107 1 0 883.0 157.7ZM734.5 208.7A2.1 1.6 149 1 0 738.1 206.6A2.1 1.6 149 1 0 734.5 208.7ZM768.0 261.5A2.0 1.3 6 1 0 764.1 261.1A2.0 1.3 6 1 0 768.0 261.5ZM761.8 122.4A2.2 2.1 30 1 0 758.0 120.1A2.2 2.1 30 1 0 761.8 122.4ZM803.1 148.8A2.4 1.6 120 1 0 805.5 144.8A2.4 1.6 120 1 0 803.1 148.8ZM772.6 67.8A2.3 1.9 24 1 0 768.4 65.9A2.3 1.9 24 1 0 772.6 67.8ZM744.7 220.0A1.7 1.5 124 1 0 746.6 217.3A1.7 1.5 124 1 0 744.7 220.0ZM773.7 157.2A1.7 1.0 63 1 0 772.3 154.2A1.7 1.0 63 1 0 773.7 157.2ZM946.7 279.6A2.5 2.0 105 1 0 948.0 274.7A2.5 2.0 105 1 0 946.7 279.6ZM856.3 216.6A2.2 1.6 150 1 0 860.1 214.5A2.2 1.6 150 1 0 856.3 216.6ZM808.3 156.9A2.4 2.3 62 1 0 806.0 152.6A2.4 2.3 62 1 0 808.3 156.9ZM837.8 155.0A1.9 1.3 142 1 0 840.8 152.7A1.9 1.3 142 1 0 837.8 155.0ZM778.2 173.5A1.9 1.5 139 1 0 781.1 170.9A1.9 1.5 139 1 0 778.2 173.5ZM761.1 175.9A1.8 1.5 121 1 0 763.1 172.8A1.8 1.5 121 1 0 761.1 175.9ZM785.9 112.9A2.0 1.3 160 1 0 789.6 111.6A2.0 1.3 160 1 0 785.9 112.9ZM948.1 249.7A2.1 1.5 36 1 0 944.8 247.2A2.1 1.5 36 1 0 948.1 249.7ZM847.3 288.2A1.7 1.2 35 1 0 844.5 286.2A1.7 1.2 35 1 0 847.3 288.2ZM938.2 131.2A2.2 1.2 124 1 0 940.6 127.6A2.2 1.2 124 1 0 938.2 131.2ZM860.6 252.5A2.5 2.1 47 1 0 857.3 248.9A2.5 2.1 47 1 0 860.6 252.5ZM793.9 202.7A1.7 1.5 129 1 0 796.1 200.1A1.7 1.5 129 1 0 793.9 202.7ZM852.7 145.1A1.7 1.3 139 1 0 855.2 142.9A1.7 1.3 139 1 0 852.7 145.1ZM760.7 81.7A2.4 1.8 142 1 0 764.5 78.8A2.4 1.8 142 1 0 760.7 81.7ZM833.7 297.4A2.6 1.8 96 1 0 834.3 292.2A2.6 1.8 96 1 0 833.7 297.4ZM874.5 167.0A2.6 2.1 147 1 0 878.8 164.2A2.6 2.1 147 1 0 874.5 167.0ZM797.7 178.9A2.3 1.8 2 1 0 793.2 178.7A2.3 1.8 2 1 0 797.7 178.9ZM931.1 166.8A1.8 1.6 100 1 0 931.8 163.3A1.8 1.6 100 1 0 931.1 166.8ZM916.3 236.3A2.3 2.1 10 1 0 911.7 235.5A2.3 2.1 10 1 0 916.3 236.3ZM817.4 96.2A2.4 1.5 5 1 0 812.6 95.8A2.4 1.5 5 1 0 817.4 96.2ZM767.4 100.8A2.2 1.6 83 1 0 766.9 96.3A2.2 1.6 83 1 0 767.4 100.8ZM738.8 184.8A1.9 1.1 10 1 0 735.1 184.2A1.9 1.1 10 1 0 738.8 184.8ZM772.3 154.4A1.8 1.3 29 1 0 769.1 152.7A1.8 1.3 29 1 0 772.3 154.4ZM910.7 269.2A2.0 1.2 173 1 0 914.7 268.7A2.0 1.2 173 1 0 910.7 269.2ZM752.1 214.9A2.5 1.9 160 1 0 756.8 213.2A2.5 1.9 160 1 0 752.1 214.9ZM767.4 232.4A2.7 2.4 152 1 0 772.2 230.0A2.7 2.4 152 1 0 767.4 232.4ZM841.9 182.4A2.6 1.8 45 1 0 838.3 178.6A2.6 1.8 45 1 0 841.9 182.4ZM742.6 107.2A1.8 1.6 55 1 0 740.6 104.3A1.8 1.6 55 1 0 742.6 107.2ZM822.0 293.7A2.4 1.8 18 1 0 817.4 292.1A2.4 1.8 18 1 0 822.0 293.7ZM820.1 127.1A2.7 2.0 175 1 0 825.5 126.6A2.7 2.0 175 1 0 820.1 127.1ZM797.6 69.4A2.7 1.6 141 1 0 801.8 66.1A2.7 1.6 141 1 0 797.6 69.4ZM876.1 125.3A2.6 1.9 177 1 0 881.3 125.0A2.6 1.9 177 1 0 876.1 125.3ZM868.1 287.7A2.7 1.9 124 1 0 871.2 283.2A2.7 1.9 124 1 0 868.1 287.7ZM909.8 216.4A1.6 1.3 137 1 0 912.2 214.2A1.6 1.3 137 1 0 909.8 216.4ZM782.7 79.9A1.7 1.3 19 1 0 779.5 78.8A1.7 1.3 19 1 0 782.7 79.9ZM940.7 159.8A2.8 2.4 77 1 0 939.5 154.4A2.8 2.4 77 1 0 940.7 159.8ZM776.2 160.6A2.3 2.1 160 1 0 780.6 159.0A2.3 2.1 160 1 0 776.2 160.6ZM811.8 64.0A2.4 2.0 116 1 0 814.0 59.7A2.4 2.0 116 1 0 811.8 64.0ZM931.4 254.4A2.4 2.1 22 1 0 927.1 252.6A2.4 2.1 22 1 0 931.4 254.4ZM963.2 219.6A1.7 1.1 115 1 0 964.7 216.5A1.7 1.1 115 1 0 963.2 219.6ZM808.4 285.8A1.9 1.4 90 1 0 808.4 281.9A1.9 1.4 90 1 0 808.4 285.8ZM962.0 132.6A2.7 2.2 102 1 0 963.1 127.4A2.7 2.2 102 1 0 962.0 132.6ZM966.5 271.2A2.5 1.9 7 1 0 961.5 270.5A2.5 1.9 7 1 0 966.5 271.2ZM788.4 215.8A1.7 1.4 62 1 0 786.8 212.7A1.7 1.4 62 1 0 788.4 215.8ZM828.6 258.6A2.6 2.2 80 1 0 827.7 253.5A2.6 2.2 80 1 0 828.6 258.6ZM866.9 296.3A2.7 2.2 14 1 0 861.7 294.9A2.7 2.2 14 1 0 866.9 296.3ZM954.6 68.3A1.7 1.4 35 1 0 951.8 66.3A1.7 1.4 35 1 0 954.6 68.3ZM915.4 223.0A1.8 1.6 179 1 0 919.0 222.9A1.8 1.6 179 1 0 915.4 223.0ZM891.5 296.1A2.6 1.9 148 1 0 895.9 293.4A2.6 1.9 148 1 0 891.5 296.1ZM961.1 226.6A1.7 1.2 126 1 0 963.1 223.9A1.7 1.2 126 1 0 961.1 226.6ZM823.1 98.8A2.1 1.3 85 1 0 822.8 94.5A2.1 1.3 85 1 0 823.1 98.8ZM759.8 233.3A1.9 1.7 19 1 0 756.3 232.1A1.9 1.7 19 1 0 759.8 233.3ZM887.2 214.3A1.8 1.5 98 1 0 887.7 210.7A1.8 1.5 98 1 0 887.2 214.3ZM882.9 103.2A2.2 1.9 111 1 0 884.5 99.1A2.2 1.9 111 1 0 882.9 103.2ZM793.4 140.0A2.7 1.5 86 1 0 793.1 134.7A2.7 1.5 86 1 0 793.4 140.0ZM857.4 161.4A1.6 0.9 151 1 0 860.2 159.9A1.6 0.9 151 1 0 857.4 161.4ZM846.7 127.6A2.1 1.2 14 1 0 842.6 126.5A2.1 1.2 14 1 0 846.7 127.6ZM937.3 241.2A1.8 1.2 13 1 0 933.7 240.3A1.8 1.2 13 1 0 937.3 241.2ZM809.1 183.9A2.5 1.9 152 1 0 813.5 181.6A2.5 1.9 152 1 0 809.1 183.9ZM975.8 195.4A1.7 1.0 121 1 0 977.5 192.6A1.7 1.0 121 1 0 975.8 195.4ZM764.0 274.6A1.7 1.0 179 1 0 767.3 274.6A1.7 1.0 179 1 0 764.0 274.6ZM834.0 193.0A2.3 1.4 60 1 0 831.7 189.0A2.3 1.4 60 1 0 834.0 193.0ZM825.8 236.8A2.5 2.1 32 1 0 821.5 234.0A2.5 2.1 32 1 0 825.8 236.8ZM845.5 280.3A1.8 1.2 110 1 0 846.8 276.9A1.8 1.2 110 1 0 845.5 280.3ZM975.7 64.8A2.4 1.8 95 1 0 976.2 59.9A2.4 1.8 95 1 0 975.7 64.8ZM936.6 81.1A2.3 1.6 135 1 0 940.0 77.9A2.3 1.6 135 1 0 936.6 81.1ZM906.6 158.6A1.8 1.5 126 1 0 908.7 155.8A1.8 1.5 126 1 0 906.6 158.6ZM869.5 239.6A2.7 1.8 124 1 0 872.6 235.1A2.7 1.8 124 1 0 869.5 239.6ZM927.5 121.2A2.7 1.8 172 1 0 932.8 120.4A2.7 1.8 172 1 0 927.5 121.2ZM876.6 294.9A2.7 2.3 66 1 0 874.5 290.1A2.7 2.3 66 1 0 876.6 294.9ZM843.0 199.6A2.6 1.8 161 1 0 847.8 198.0A2.6 1.8 161 1 0 843.0 199.6ZM787.8 184.1A1.8 1.1 52 1 0 785.6 181.3A1.8 1.1 52 1 0 787.8 184.1ZM743.7 196.0A2.3 1.7 143 1 0 747.4 193.2A2.3 1.7 143 1 0 743.7 196.0ZM868.4 222.3A1.7 1.2 3 1 0 865.0 222.1A1.7 1.2 3 1 0 868.4 222.3ZM773.5 264.3A1.8 1.4 67 1 0 772.2 261.0A1.8 1.4 67 1 0 773.5 264.3ZM894.9 268.2A2.6 2.4 173 1 0 900.1 267.6A2.6 2.4 173 1 0 894.9 268.2ZM832.2 298.4A2.5 1.7 59 1 0 829.6 294.0A2.5 1.7 59 1 0 832.2 298.4ZM860.4 263.0A1.7 1.6 120 1 0 862.2 260.1A1.7 1.6 120 1 0 860.4 263.0ZM876.9 156.7A2.1 1.5 128 1 0 879.5 153.5A2.1 1.5 128 1 0 876.9 156.7ZM844.3 229.7A2.7 1.6 3 1 0 839.0 229.4A2.7 1.6 3 1 0 844.3 229.7ZM964.8 104.8A2.6 1.8 40 1 0 960.9 101.5A2.6 1.8 40 1 0 964.8 104.8ZM739.3 160.4A2.3 1.3 2 1 0 734.7 160.2A2.3 1.3 2 1 0 739.3 160.4ZM804.6 272.6A2.5 1.6 72 1 0 803.1 267.8A2.5 1.6 72 1 0 804.6 272.6ZM835.2 230.3A1.9 1.3 90 1 0 835.3 226.4A1.9 1.3 90 1 0 835.2 230.3ZM794.1 160.9A2.5 1.9 10 1 0 789.2 160.0A2.5 1.9 10 1 0 794.1 160.9ZM818.5 196.6A1.9 1.3 100 1 0 819.2 192.9A1.9 1.3 100 1 0 818.5 196.6ZM820.1 101.4A2.6 1.5 163 1 0 825.1 99.8A2.6 1.5 163 1 0 820.1 101.4ZM756.2 192.8A2.3 1.6 112 1 0 758.0 188.7A2.3 1.6 112 1 0 756.2 192.8ZM947.2 134.3A1.7 1.1 158 1 0 950.3 133.1A1.7 1.1 158 1 0 947.2 134.3ZM878.4 241.1A2.1 1.4 124 1 0 880.7 237.7A2.1 1.4 124 1 0 878.4 241.1ZM871.1 279.5A1.8 1.2 124 1 0 873.1 276.6A1.8 1.2 124 1 0 871.1 279.5ZM953.4 171.9A2.5 1.5 115 1 0 955.5 167.2A2.5 1.5 115 1 0 953.4 171.9ZM815.3 226.1A2.0 1.2 48 1 0 812.7 223.2A2.0 1.2 48 1 0 815.3 226.1ZM912.5 229.8A2.7 1.9 11 1 0 907.3 228.7A2.7 1.9 11 1 0 912.5 229.8ZM931.0 120.9A2.5 1.8 79 1 0 930.2 116.1A2.5 1.8 79 1 0 931.0 120.9ZM739.1 112.2A2.5 1.8 158 1 0 743.8 110.4A2.5 1.8 158 1 0 739.1 112.2ZM931.0 188.5A2.8 1.5 72 1 0 929.3 183.2A2.8 1.5 72 1 0 931.0 188.5ZM863.1 71.9A2.6 1.6 104 1 0 864.4 66.7A2.6 1.6 104 1 0 863.1 71.9ZM801.8 150.0A2.2 1.4 30 1 0 798.0 147.8A2.2 1.4 30 1 0 801.8 150.0ZM897.8 208.9A1.7 1.6 19 1 0 894.6 207.8A1.7 1.6 19 1 0 897.8 208.9ZM786.3 125.2A2.0 1.5 162 1 0 790.2 123.9A2.0 1.5 162 1 0 786.3 125.2ZM759.6 197.8A2.3 1.5 63 1 0 757.6 193.6A2.3 1.5 63 1 0 759.6 197.8ZM844.6 272.2A2.5 1.9 12 1 0 839.7 271.1A2.5 1.9 12 1 0 844.6 272.2ZM820.1 256.5A2.1 1.5 114 1 0 821.9 252.7A2.1 1.5 114 1 0 820.1 256.5ZM744.5 216.0A2.4 1.4 75 1 0 743.2 211.3A2.4 1.4 75 1 0 744.5 216.0ZM941.7 122.1A2.2 1.5 99 1 0 942.5 117.7A2.2 1.5 99 1 0 941.7 122.1ZM826.3 139.8A2.7 2.2 179 1 0 831.7 139.8A2.7 2.2 179 1 0 826.3 139.8ZM816.2 171.4A2.0 1.8 66 1 0 814.6 167.7A2.0 1.8 66 1 0 816.2 171.4ZM897.2 99.8A2.3 1.5 164 1 0 901.5 98.6A2.3 1.5 164 1 0 897.2 99.8ZM822.7 289.9A2.3 1.6 99 1 0 823.5 285.4A2.3 1.6 99 1 0 822.7 289.9ZM959.4 227.1A2.6 2.0 111 1 0 961.2 222.2A2.6 2.0 111 1 0 959.4 227.1ZM769.4 260.2A2.4 1.9 54 1 0 766.7 256.3A2.4 1.9 54 1 0 769.4 260.2ZM918.0 185.5A2.0 1.9 139 1 0 921.0 182.9A2.0 1.9 139 1 0 918.0 185.5ZM896.6 260.5A2.4 1.7 171 1 0 901.4 259.9A2.4 1.7 171 1 0 896.6 260.5ZM956.3 219.6A2.1 1.6 8 1 0 952.1 219.0A2.1 1.6 8 1 0 956.3 219.6ZM948.3 259.3A2.3 1.7 144 1 0 952.0 256.7A2.3 1.7 144 1 0 948.3 259.3ZM740.0 155.1A1.9 1.5 63 1 0 738.3 151.7A1.9 1.5 63 1 0 740.0 155.1ZM883.7 274.3A2.1 1.2 2 1 0 879.5 274.1A2.1 1.2 2 1 0 883.7 274.3ZM939.1 170.7A2.1 1.2 18 1 0 935.1 169.3A2.1 1.2 18 1 0 939.1 170.7ZM734.3 275.4A1.7 1.1 85 1 0 734.0 272.1A1.7 1.1 85 1 0 734.3 275.4ZM871.0 110.3A2.4 1.9 177 1 0 875.7 110.1A2.4 1.9 177 1 0 871.0 110.3ZM758.1 129.1A1.7 1.1 38 1 0 755.4 127.0A1.7 1.1 38 1 0 758.1 129.1ZM739.8 253.3A1.9 1.6 146 1 0 743.0 251.2A1.9 1.6 146 1 0 739.8 253.3ZM926.6 64.4A2.3 2.1 113 1 0 928.5 60.2A2.3 2.1 113 1 0 926.6 64.4ZM882.0 161.9A2.6 2.0 63 1 0 879.7 157.2A2.6 2.0 63 1 0 882.0 161.9ZM853.0 171.6A1.8 1.5 150 1 0 856.1 169.8A1.8 1.5 150 1 0 853.0 171.6ZM894.8 59.6A2.1 1.8 23 1 0 891.0 57.9A2.1 1.8 23 1 0 894.8 59.6ZM859.1 222.3A2.2 1.5 3 1 0 854.6 222.1A2.2 1.5 3 1 0 859.1 222.3ZM903.7 98.4A2.3 1.8 130 1 0 906.6 94.8A2.3 1.8 130 1 0 903.7 98.4ZM763.3 294.1A2.5 2.2 33 1 0 759.1 291.4A2.5 2.2 33 1 0 763.3 294.1ZM909.8 150.5A2.4 2.0 73 1 0 908.4 145.8A2.4 2.0 73 1 0 909.8 150.5ZM966.3 163.6A2.2 1.8 27 1 0 962.4 161.7A2.2 1.8 27 1 0 966.3 163.6ZM954.2 137.9A2.7 1.6 22 1 0 949.3 135.9A2.7 1.6 22 1 0 954.2 137.9ZM876.2 116.3A2.1 1.3 130 1 0 878.9 113.0A2.1 1.3 130 1 0 876.2 116.3ZM912.8 224.6A1.8 1.0 104 1 0 913.7 221.2A1.8 1.0 104 1 0 912.8 224.6ZM751.9 231.4A2.3 2.1 147 1 0 755.7 228.9A2.3 2.1 147 1 0 751.9 231.4ZM895.5 257.6A2.2 1.5 11 1 0 891.1 256.7A2.2 1.5 11 1 0 895.5 257.6ZM905.4 220.2A2.4 1.8 81 1 0 904.7 215.6A2.4 1.8 81 1 0 905.4 220.2ZM956.2 148.8A1.8 1.6 137 1 0 958.7 146.4A1.8 1.6 137 1 0 956.2 148.8ZM951.9 297.7A2.1 1.3 88 1 0 951.8 293.5A2.1 1.3 88 1 0 951.9 297.7ZM850.6 150.5A2.5 1.7 174 1 0 855.7 150.1A2.5 1.7 174 1 0 850.6 150.5ZM783.9 127.1A2.6 1.7 130 1 0 787.3 123.2A2.6 1.7 130 1 0 783.9 127.1ZM798.7 156.7A2.2 1.4 148 1 0 802.4 154.4A2.2 1.4 148 1 0 798.7 156.7ZM963.1 282.6A1.8 1.0 79 1 0 962.4 279.1A1.8 1.0 79 1 0 963.1 282.6ZM912.5 191.4A2.8 2.6 122 1 0 915.5 186.8A2.8 2.6 122 1 0 912.5 191.4ZM796.3 154.9A1.7 1.2 135 1 0 798.7 152.6A1.7 1.2 135 1 0 796.3 154.9ZM809.9 103.2A2.2 2.0 116 1 0 811.9 99.1A2.2 2.0 116 1 0 809.9 103.2ZM761.2 162.9A1.9 1.6 75 1 0 760.3 159.2A1.9 1.6 75 1 0 761.2 162.9ZM839.9 269.5A2.0 1.4 176 1 0 843.8 269.2A2.0 1.4 176 1 0 839.9 269.5ZM807.6 189.5A2.4 1.6 113 1 0 809.5 185.1A2.4 1.6 113 1 0 807.6 189.5ZM835.9 260.3A2.3 1.9 103 1 0 837.0 255.9A2.3 1.9 103 1 0 835.9 260.3ZM904.4 152.4A1.8 1.2 58 1 0 902.6 149.4A1.8 1.2 58 1 0 904.4 152.4ZM736.2 244.8A2.2 1.7 126 1 0 738.8 241.2A2.2 1.7 126 1 0 736.2 244.8ZM747.9 87.7A2.5 1.4 156 1 0 752.4 85.7A2.5 1.4 156 1 0 747.9 87.7ZM858.7 293.4A2.6 1.9 61 1 0 856.3 288.8A2.6 1.9 61 1 0 858.7 293.4ZM837.3 243.1A2.2 1.8 178 1 0 841.7 243.0A2.2 1.8 178 1 0 837.3 243.1ZM915.4 183.4A2.5 1.9 104 1 0 916.7 178.5A2.5 1.9 104 1 0 915.4 183.4ZM835.7 286.1A2.8 2.2 100 1 0 836.7 280.7A2.8 2.2 100 1 0 835.7 286.1ZM757.0 195.3A2.7 1.8 139 1 0 761.1 191.8A2.7 1.8 139 1 0 757.0 195.3ZM794.4 230.8A1.9 1.5 139 1 0 797.4 228.3A1.9 1.5 139 1 0 794.4 230.8ZM743.1 262.1A2.2 1.4 55 1 0 740.6 258.5A2.2 1.4 55 1 0 743.1 262.1ZM870.2 237.4A1.8 1.0 41 1 0 867.4 235.0A1.8 1.0 41 1 0 870.2 237.4ZM889.2 156.4A2.5 2.1 66 1 0 887.2 151.8A2.5 2.1 66 1 0 889.2 156.4ZM879.0 93.2A2.3 1.9 42 1 0 875.6 90.0A2.3 1.9 42 1 0 879.0 93.2ZM893.3 90.6A2.8 2.1 165 1 0 898.7 89.2A2.8 2.1 165 1 0 893.3 90.6ZM897.5 110.6A2.5 2.0 68 1 0 895.6 106.0A2.5 2.0 68 1 0 897.5 110.6ZM900.0 241.1A2.4 1.5 173 1 0 904.8 240.6A2.4 1.5 173 1 0 900.0 241.1ZM956.4 164.0A2.7 2.6 62 1 0 953.8 159.2A2.7 2.6 62 1 0 956.4 164.0ZM782.1 117.0A2.2 1.3 42 1 0 778.9 114.0A2.2 1.3 42 1 0 782.1 117.0ZM910.6 62.6A2.3 1.7 127 1 0 913.4 58.9A2.3 1.7 127 1 0 910.6 62.6ZM795.2 173.2A1.9 1.0 155 1 0 798.6 171.7A1.9 1.0 155 1 0 795.2 173.2ZM822.8 130.6A2.7 1.9 97 1 0 823.5 125.2A2.7 1.9 97 1 0 822.8 130.6ZM765.9 157.6A2.7 2.3 147 1 0 770.4 154.8A2.7 2.3 147 1 0 765.9 157.6ZM955.6 113.7A1.7 1.0 117 1 0 957.1 110.8A1.7 1.0 117 1 0 955.6 113.7ZM865.8 148.2A2.5 1.6 109 1 0 867.5 143.6A2.5 1.6 109 1 0 865.8 148.2ZM833.4 91.6A2.5 1.6 144 1 0 837.5 88.6A2.5 1.6 144 1 0 833.4 91.6ZM921.0 163.2A2.1 1.4 25 1 0 917.1 161.4A2.1 1.4 25 1 0 921.0 163.2ZM904.8 148.0A2.3 1.6 47 1 0 901.7 144.6A2.3 1.6 47 1 0 904.8 148.0ZM771.7 242.2A2.1 1.3 157 1 0 775.6 240.6A2.1 1.3 157 1 0 771.7 242.2ZM770.1 113.0A1.8 1.4 139 1 0 772.8 110.7A1.8 1.4 139 1 0 770.1 113.0ZM742.1 283.2A2.4 2.2 75 1 0 740.9 278.5A2.4 2.2 75 1 0 742.1 283.2ZM841.4 80.5A1.9 1.7 51 1 0 839.0 77.5A1.9 1.7 51 1 0 841.4 80.5ZM953.6 261.3A2.7 1.6 76 1 0 952.3 256.0A2.7 1.6 76 1 0 953.6 261.3ZM936.5 133.7A1.9 1.1 96 1 0 936.8 129.9A1.9 1.1 96 1 0 936.5 133.7ZM869.4 108.6A1.9 1.5 31 1 0 866.1 106.6A1.9 1.5 31 1 0 869.4 108.6ZM924.6 270.1A2.1 1.3 102 1 0 925.5 266.0A2.1 1.3 102 1 0 924.6 270.1ZM807.4 83.6A2.5 1.9 48 1 0 804.2 79.9A2.5 1.9 48 1 0 807.4 83.6ZM793.4 234.6A2.7 1.9 105 1 0 794.8 229.4A2.7 1.9 105 1 0 793.4 234.6ZM786.9 171.4A2.3 1.5 108 1 0 788.4 167.0A2.3 1.5 108 1 0 786.9 171.4ZM867.3 67.5A1.7 1.2 26 1 0 864.2 66.0A1.7 1.2 26 1 0 867.3 67.5ZM866.0 202.5A2.4 2.1 109 1 0 867.6 198.1A2.4 2.1 109 1 0 866.0 202.5ZM920.8 86.8A2.6 2.4 106 1 0 922.3 81.7A2.6 2.4 106 1 0 920.8 86.8ZM935.3 191.9A2.1 1.3 86 1 0 935.1 187.7A2.1 1.3 86 1 0 935.3 191.9ZM904.8 249.6A2.7 2.0 170 1 0 910.0 248.7A2.7 2.0 170 1 0 904.8 249.6ZM822.8 62.1A2.1 1.6 139 1 0 826.0 59.4A2.1 1.6 139 1 0 822.8 62.1ZM788.5 63.4A2.5 1.5 153 1 0 792.9 61.2A2.5 1.5 153 1 0 788.5 63.4ZM873.3 90.6A2.2 1.9 40 1 0 869.9 87.8A2.2 1.9 40 1 0 873.3 90.6ZM965.4 71.4A1.8 1.4 121 1 0 967.3 68.4A1.8 1.4 121 1 0 965.4 71.4ZM880.2 282.3A1.8 1.0 96 1 0 880.6 278.7A1.8 1.0 96 1 0 880.2 282.3ZM820.7 154.1A2.1 1.9 51 1 0 818.1 150.8A2.1 1.9 51 1 0 820.7 154.1ZM903.6 195.4A1.9 1.8 45 1 0 900.9 192.6A1.9 1.8 45 1 0 903.6 195.4ZM808.1 105.2A2.4 2.0 65 1 0 806.1 100.8A2.4 2.0 65 1 0 808.1 105.2ZM761.7 202.6A2.0 1.5 117 1 0 763.5 199.1A2.0 1.5 117 1 0 761.7 202.6ZM736.8 68.0A2.6 2.3 15 1 0 731.8 66.6A2.6 2.3 15 1 0 736.8 68.0ZM785.6 160.1A2.6 1.8 172 1 0 790.8 159.4A2.6 1.8 172 1 0 785.6 160.1ZM754.4 276.3A1.7 1.3 174 1 0 757.7 276.0A1.7 1.3 174 1 0 754.4 276.3ZM907.5 278.7A2.0 1.9 162 1 0 911.4 277.5A2.0 1.9 162 1 0 907.5 278.7ZM801.6 246.2A2.7 1.7 70 1 0 799.8 241.1A2.7 1.7 70 1 0 801.6 246.2ZM921.7 198.2A2.7 2.0 80 1 0 920.9 192.9A2.7 2.0 80 1 0 921.7 198.2ZM772.2 123.7A2.6 1.7 161 1 0 777.2 122.0A2.6 1.7 161 1 0 772.2 123.7ZM931.0 195.4A2.0 1.1 21 1 0 927.4 194.0A2.0 1.1 21 1 0 931.0 195.4ZM932.6 289.6A2.8 1.8 168 1 0 938.0 288.5A2.8 1.8 168 1 0 932.6 289.6ZM839.6 147.8A2.7 2.4 122 1 0 842.5 143.3A2.7 2.4 122 1 0 839.6 147.8ZM805.0 83.2A1.8 1.2 34 1 0 802.0 81.2A1.8 1.2 34 1 0 805.0 83.2ZM873.5 134.3A1.9 1.7 66 1 0 872.0 130.9A1.9 1.7 66 1 0 873.5 134.3ZM734.4 60.7A2.3 1.3 100 1 0 735.2 56.3A2.3 1.3 100 1 0 734.4 60.7ZM742.0 171.7A2.3 1.8 38 1 0 738.4 168.7A2.3 1.8 38 1 0 742.0 171.7ZM935.3 292.6A2.6 2.4 174 1 0 940.4 292.2A2.6 2.4 174 1 0 935.3 292.6ZM825.2 189.3A2.1 1.8 30 1 0 821.6 187.2A2.1 1.8 30 1 0 825.2 189.3ZM790.2 167.7A2.3 2.1 60 1 0 787.9 163.8A2.3 2.1 60 1 0 790.2 167.7ZM734.8 153.1A2.7 1.6 93 1 0 735.1 147.8A2.7 1.6 93 1 0 734.8 153.1ZM877.8 260.3A2.0 1.6 171 1 0 881.7 259.7A2.0 1.6 171 1 0 877.8 260.3ZM969.1 194.9A2.0 1.6 131 1 0 971.7 191.9A2.0 1.6 131 1 0 969.1 194.9ZM900.3 222.0A2.1 1.7 63 1 0 898.4 218.3A2.1 1.7 63 1 0 900.3 222.0ZM792.0 82.2A2.3 1.4 50 1 0 789.1 78.7A2.3 1.4 50 1 0 792.0 82.2ZM806.2 148.6A2.1 2.0 94 1 0 806.5 144.4A2.1 2.0 94 1 0 806.2 148.6ZM867.3 155.7A2.3 2.0 94 1 0 867.7 151.2A2.3 2.0 94 1 0 867.3 155.7ZM860.3 142.0A1.8 1.2 16 1 0 856.8 141.0A1.8 1.2 16 1 0 860.3 142.0ZM805.1 66.8A2.1 1.6 20 1 0 801.2 65.3A2.1 1.6 20 1 0 805.1 66.8ZM915.9 167.3A2.3 1.7 142 1 0 919.6 164.5A2.3 1.7 142 1 0 915.9 167.3ZM897.6 87.2A2.3 1.5 134 1 0 900.8 83.9A2.3 1.5 134 1 0 897.6 87.2ZM825.6 111.2A1.6 1.5 21 1 0 822.6 110.0A1.6 1.5 21 1 0 825.6 111.2ZM795.5 283.9A1.7 1.2 77 1 0 794.8 280.7A1.7 1.2 77 1 0 795.5 283.9ZM902.0 247.0A2.8 1.9 15 1 0 896.7 245.5A2.8 1.9 15 1 0 902.0 247.0ZM784.5 58.0A1.9 1.5 160 1 0 788.2 56.8A1.9 1.5 160 1 0 784.5 58.0ZM759.0 123.8A2.7 2.1 71 1 0 757.3 118.8A2.7 2.1 71 1 0 759.0 123.8ZM753.3 70.2A1.9 1.5 10 1 0 749.7 69.5A1.9 1.5 10 1 0 753.3 70.2ZM856.6 256.4A1.6 1.1 74 1 0 855.8 253.3A1.6 1.1 74 1 0 856.6 256.4ZM883.4 237.0A2.4 1.7 60 1 0 881.1 232.8A2.4 1.7 60 1 0 883.4 237.0ZM885.5 170.5A2.7 2.1 105 1 0 887.0 165.2A2.7 2.1 105 1 0 885.5 170.5ZM895.2 175.5A2.2 1.8 107 1 0 896.6 171.3A2.2 1.8 107 1 0 895.2 175.5ZM974.9 131.6A2.2 2.1 146 1 0 978.6 129.1A2.2 2.1 146 1 0 974.9 131.6ZM869.1 131.9A1.8 1.3 76 1 0 868.3 128.3A1.8 1.3 76 1 0 869.1 131.9ZM841.2 119.1A2.2 1.7 18 1 0 837.0 117.7A2.2 1.7 18 1 0 841.2 119.1ZM896.0 228.9A1.8 1.2 6 1 0 892.4 228.5A1.8 1.2 6 1 0 896.0 228.9ZM848.0 222.2A2.1 1.6 108 1 0 849.3 218.2A2.1 1.6 108 1 0 848.0 222.2ZM743.4 71.0A2.2 2.0 127 1 0 746.1 67.5A2.2 2.0 127 1 0 743.4 71.0ZM841.1 120.5A1.8 1.4 137 1 0 843.7 118.1A1.8 1.4 137 1 0 841.1 120.5ZM828.0 78.2A1.9 1.6 138 1 0 830.9 75.7A1.9 1.6 138 1 0 828.0 78.2ZM833.0 272.9A2.1 1.2 36 1 0 829.7 270.5A2.1 1.2 36 1 0 833.0 272.9ZM950.9 229.2A1.7 1.1 71 1 0 949.8 226.0A1.7 1.1 71 1 0 950.9 229.2ZM852.8 64.3A2.7 2.1 47 1 0 849.2 60.4A2.7 2.1 47 1 0 852.8 64.3ZM739.2 196.1A2.7 2.3 154 1 0 744.1 193.8A2.7 2.3 154 1 0 739.2 196.1ZM945.9 219.4A1.7 1.1 104 1 0 946.8 216.1A1.7 1.1 104 1 0 945.9 219.4ZM834.3 110.4A1.7 1.5 120 1 0 836.0 107.5A1.7 1.5 120 1 0 834.3 110.4ZM805.6 172.8A2.6 1.6 113 1 0 807.7 167.9A2.6 1.6 113 1 0 805.6 172.8ZM791.6 278.4A2.6 2.4 68 1 0 789.7 273.6A2.6 2.4 68 1 0 791.6 278.4ZM855.4 134.5A2.0 1.9 174 1 0 859.4 134.1A2.0 1.9 174 1 0 855.4 134.5ZM973.6 277.4A2.2 1.8 163 1 0 977.8 276.2A2.2 1.8 163 1 0 973.6 277.4ZM839.8 281.7A2.6 1.7 64 1 0 837.6 277.1A2.6 1.7 64 1 0 839.8 281.7ZM903.7 96.7A1.9 1.2 19 1 0 900.1 95.4A1.9 1.2 19 1 0 903.7 96.7ZM953.0 300.4A2.6 1.9 134 1 0 956.6 296.7A2.6 1.9 134 1 0 953.0 300.4ZM902.6 164.9A2.2 1.3 43 1 0 899.4 161.9A2.2 1.3 43 1 0 902.6 164.9ZM819.3 144.6A2.4 1.5 42 1 0 815.8 141.3A2.4 1.5 42 1 0 819.3 144.6ZM948.8 247.7A2.7 2.3 35 1 0 944.4 244.6A2.7 2.3 35 1 0 948.8 247.7ZM852.7 261.3A2.6 1.6 86 1 0 852.5 256.2A2.6 1.6 86 1 0 852.7 261.3ZM876.3 60.5A1.9 1.6 119 1 0 878.2 57.2A1.9 1.6 119 1 0 876.3 60.5ZM844.8 195.5A2.2 1.5 15 1 0 840.5 194.3A2.2 1.5 15 1 0 844.8 195.5ZM912.6 244.9A2.1 1.8 148 1 0 916.2 242.8A2.1 1.8 148 1 0 912.6 244.9ZM899.4 253.0A2.8 1.6 169 1 0 904.8 252.0A2.8 1.6 169 1 0 899.4 253.0ZM843.3 247.5A2.5 1.5 105 1 0 844.6 242.7A2.5 1.5 105 1 0 843.3 247.5ZM757.0 235.5A2.0 1.4 49 1 0 754.4 232.4A2.0 1.4 49 1 0 757.0 235.5ZM932.5 212.9A2.0 1.7 33 1 0 929.2 210.8A2.0 1.7 33 1 0 932.5 212.9ZM926.5 203.1A2.5 2.0 177 1 0 931.5 202.9A2.5 2.0 177 1 0 926.5 203.1ZM904.4 170.7A2.3 1.8 51 1 0 901.5 167.1A2.3 1.8 51 1 0 904.4 170.7ZM807.0 252.4A2.6 2.4 123 1 0 809.9 248.1A2.6 2.4 123 1 0 807.0 252.4ZM854.3 152.6A2.4 2.0 169 1 0 859.1 151.7A2.4 2.0 169 1 0 854.3 152.6ZM914.3 150.7A1.9 1.1 140 1 0 917.2 148.2A1.9 1.1 140 1 0 914.3 150.7ZM836.4 152.5A1.7 1.2 161 1 0 839.6 151.5A1.7 1.2 161 1 0 836.4 152.5ZM800.7 239.2A2.5 2.0 107 1 0 802.1 234.4A2.5 2.0 107 1 0 800.7 239.2ZM794.5 222.3A2.3 2.2 92 1 0 794.7 217.7A2.3 2.2 92 1 0 794.5 222.3ZM819.1 278.4A2.3 1.6 116 1 0 821.2 274.2A2.3 1.6 116 1 0 819.1 278.4ZM768.9 103.6A2.7 2.0 144 1 0 773.2 100.5A2.7 2.0 144 1 0 768.9 103.6ZM785.6 172.3A1.9 1.6 107 1 0 786.8 168.7A1.9 1.6 107 1 0 785.6 172.3ZM828.6 151.1A1.9 1.2 124 1 0 830.7 148.1A1.9 1.2 124 1 0 828.6 151.1ZM807.8 81.7A2.1 1.5 177 1 0 812.0 81.5A2.1 1.5 177 1 0 807.8 81.7ZM828.0 156.9A2.8 2.3 82 1 0 827.3 151.4A2.8 2.3 82 1 0 828.0 156.9ZM830.0 112.5A1.8 1.3 115 1 0 831.5 109.3A1.8 1.3 115 1 0 830.0 112.5ZM760.6 173.5A1.8 1.4 62 1 0 758.9 170.3A1.8 1.4 62 1 0 760.6 173.5ZM897.9 246.9A2.1 1.5 14 1 0 893.8 245.8A2.1 1.5 14 1 0 897.9 246.9ZM782.9 207.4A2.6 1.6 175 1 0 788.0 207.0A2.6 1.6 175 1 0 782.9 207.4ZM957.4 147.0A2.2 1.8 59 1 0 955.1 143.1A2.2 1.8 59 1 0 957.4 147.0ZM822.6 233.7A2.2 1.6 101 1 0 823.5 229.4A2.2 1.6 101 1 0 822.6 233.7ZM762.1 172.5A2.0 1.2 94 1 0 762.4 168.6A2.0 1.2 94 1 0 762.1 172.5ZM905.3 186.1A2.2 1.8 75 1 0 904.2 181.8A2.2 1.8 75 1 0 905.3 186.1ZM971.7 109.5A1.6 1.3 125 1 0 973.6 106.9A1.6 1.3 125 1 0 971.7 109.5ZM825.4 154.4A2.0 1.3 142 1 0 828.6 151.9A2.0 1.3 142 1 0 825.4 154.4ZM945.9 124.9A2.3 1.7 23 1 0 941.8 123.1A2.3 1.7 23 1 0 945.9 124.9ZM909.7 186.2A2.8 2.5 162 1 0 915.0 184.5A2.8 2.5 162 1 0 909.7 186.2ZM796.2 85.0A2.6 1.5 123 1 0 799.1 80.7A2.6 1.5 123 1 0 796.2 85.0ZM775.2 228.2A1.7 1.0 156 1 0 778.2 226.8A1.7 1.0 156 1 0 775.2 228.2ZM861.4 167.4A2.8 2.4 40 1 0 857.2 163.8A2.8 2.4 40 1 0 861.4 167.4ZM907.3 151.2A2.2 1.5 40 1 0 904.0 148.4A2.2 1.5 40 1 0 907.3 151.2ZM808.3 124.1A1.8 1.6 68 1 0 806.9 120.8A1.8 1.6 68 1 0 808.3 124.1ZM867.9 253.6A2.4 1.5 171 1 0 872.7 252.9A2.4 1.5 171 1 0 867.9 253.6ZM959.7 261.9A2.0 1.8 115 1 0 961.4 258.3A2.0 1.8 115 1 0 959.7 261.9ZM739.2 148.3A2.4 1.9 170 1 0 744.0 147.5A2.4 1.9 170 1 0 739.2 148.3ZM923.5 260.1A2.8 1.9 163 1 0 928.9 258.5A2.8 1.9 163 1 0 923.5 260.1ZM734.9 251.9A1.7 1.3 79 1 0 734.3 248.5A1.7 1.3 79 1 0 734.9 251.9ZM753.3 212.6A2.5 1.6 44 1 0 749.6 209.0A2.5 1.6 44 1 0 753.3 212.6ZM919.8 184.9A1.6 1.1 169 1 0 923.0 184.3A1.6 1.1 169 1 0 919.8 184.9ZM799.3 127.7A2.1 1.9 145 1 0 802.9 125.2A2.1 1.9 145 1 0 799.3 127.7ZM828.2 219.5A1.6 0.9 66 1 0 827.0 216.5A1.6 0.9 66 1 0 828.2 219.5ZM889.5 91.3A1.7 1.5 33 1 0 886.8 89.4A1.7 1.5 33 1 0 889.5 91.3ZM746.9 78.7A1.7 1.1 104 1 0 747.7 75.4A1.7 1.1 104 1 0 746.9 78.7ZM893.0 127.8A2.2 1.5 104 1 0 894.1 123.5A2.2 1.5 104 1 0 893.0 127.8ZM761.8 208.8A1.6 1.5 37 1 0 759.3 206.8A1.6 1.5 37 1 0 761.8 208.8ZM867.9 103.9A2.1 1.4 115 1 0 869.7 100.1A2.1 1.4 115 1 0 867.9 103.9ZM923.0 264.1A2.8 2.0 98 1 0 923.9 258.6A2.8 2.0 98 1 0 923.0 264.1ZM821.6 126.6A2.2 2.1 10 1 0 817.3 125.8A2.2 2.1 10 1 0 821.6 126.6ZM914.2 136.4A2.3 1.5 129 1 0 917.2 132.8A2.3 1.5 129 1 0 914.2 136.4ZM856.7 132.2A2.1 1.2 17 1 0 852.6 130.9A2.1 1.2 17 1 0 856.7 132.2ZM956.7 76.4A2.1 1.7 6 1 0 952.6 76.0A2.1 1.7 6 1 0 956.7 76.4ZM959.6 109.1A2.8 2.0 105 1 0 961.1 103.7A2.8 2.0 105 1 0 959.6 109.1ZM879.0 79.2A2.2 1.9 142 1 0 882.5 76.5A2.2 1.9 142 1 0 879.0 79.2ZM912.5 223.2A1.8 1.3 91 1 0 912.6 219.7A1.8 1.3 91 1 0 912.5 223.2ZM745.0 243.5A1.7 1.3 48 1 0 742.7 241.0A1.7 1.3 48 1 0 745.0 243.5ZM772.8 289.8A2.3 2.0 109 1 0 774.4 285.4A2.3 2.0 109 1 0 772.8 289.8ZM872.5 269.2A1.7 1.2 39 1 0 869.9 267.1A1.7 1.2 39 1 0 872.5 269.2ZM880.8 154.0A2.7 1.7 48 1 0 877.2 150.0A2.7 1.7 48 1 0 880.8 154.0ZM955.6 232.9A2.1 1.5 132 1 0 958.4 229.8A2.1 1.5 132 1 0 955.6 232.9ZM772.0 232.0A1.9 1.6 13 1 0 768.3 231.1A1.9 1.6 13 1 0 772.0 232.0ZM954.7 266.0A1.6 1.0 164 1 0 957.8 265.1A1.6 1.0 164 1 0 954.7 266.0ZM934.9 128.9A2.6 2.0 44 1 0 931.3 125.3A2.6 2.0 44 1 0 934.9 128.9ZM900.1 158.3A1.8 1.6 129 1 0 902.3 155.6A1.8 1.6 129 1 0 900.1 158.3ZM794.9 161.7A2.4 1.7 46 1 0 791.6 158.2A2.4 1.7 46 1 0 794.9 161.7ZM862.1 288.8A1.7 1.1 86 1 0 861.9 285.4A1.7 1.1 86 1 0 862.1 288.8ZM974.8 298.0A1.6 1.3 24 1 0 971.9 296.6A1.6 1.3 24 1 0 974.8 298.0ZM782.1 89.4A2.2 2.1 173 1 0 786.5 88.9A2.2 2.1 173 1 0 782.1 89.4ZM821.0 275.1A2.4 1.4 162 1 0 825.6 273.6A2.4 1.4 162 1 0 821.0 275.1ZM800.4 295.7A1.8 1.6 92 1 0 800.6 292.1A1.8 1.6 92 1 0 800.4 295.7ZM858.9 102.8A2.2 1.9 100 1 0 859.6 98.5A2.2 1.9 100 1 0 858.9 102.8ZM970.5 188.0A2.7 1.6 132 1 0 974.1 184.0A2.7 1.6 132 1 0 970.5 188.0ZM878.1 271.8A2.0 1.5 146 1 0 881.5 269.5A2.0 1.5 146 1 0 878.1 271.8ZM796.3 149.1A2.6 2.1 88 1 0 796.1 143.9A2.6 2.1 88 1 0 796.3 149.1ZM738.5 243.7A2.1 1.4 69 1 0 737.1 239.8A2.1 1.4 69 1 0 738.5 243.7ZM766.1 262.6A2.6 2.4 121 1 0 768.7 258.2A2.6 2.4 121 1 0 766.1 262.6ZM774.5 161.3A2.8 1.5 61 1 0 771.9 156.4A2.8 1.5 61 1 0 774.5 161.3ZM772.1 98.1A1.9 1.5 12 1 0 768.4 97.3A1.9 1.5 12 1 0 772.1 98.1ZM944.7 162.5A1.8 1.1 94 1 0 944.9 158.9A1.8 1.1 94 1 0 944.7 162.5ZM818.9 179.6A1.7 1.2 90 1 0 818.9 176.2A1.7 1.2 90 1 0 818.9 179.6ZM756.9 179.0A2.6 2.1 23 1 0 752.1 177.0A2.6 2.1 23 1 0 756.9 179.0ZM887.3 78.1A1.8 1.0 95 1 0 887.6 74.6A1.8 1.0 95 1 0 887.3 78.1ZM778.7 124.7A1.7 1.6 26 1 0 775.6 123.1A1.7 1.6 26 1 0 778.7 124.7ZM899.0 253.9A2.1 1.7 59 1 0 896.9 250.2A2.1 1.7 59 1 0 899.0 253.9ZM934.5 223.5A1.7 1.4 25 1 0 931.5 222.0A1.7 1.4 25 1 0 934.5 223.5ZM849.5 102.4A2.2 1.8 132 1 0 852.4 99.1A2.2 1.8 132 1 0 849.5 102.4ZM812.8 71.6A2.1 2.0 99 1 0 813.4 67.4A2.1 2.0 99 1 0 812.8 71.6ZM882.2 242.5A2.4 2.2 171 1 0 886.9 241.8A2.4 2.2 171 1 0 882.2 242.5ZM912.5 253.6A1.8 1.2 127 1 0 914.6 250.9A1.8 1.2 127 1 0 912.5 253.6ZM877.3 266.9A2.5 1.7 30 1 0 872.9 264.3A2.5 1.7 30 1 0 877.3 266.9ZM894.6 85.2A2.2 1.4 72 1 0 893.2 81.1A2.2 1.4 72 1 0 894.6 85.2ZM890.8 210.9A2.3 1.3 160 1 0 895.2 209.3A2.3 1.3 160 1 0 890.8 210.9ZM903.1 277.3A2.3 1.9 159 1 0 907.5 275.7A2.3 1.9 159 1 0 903.1 277.3ZM914.3 211.6A1.6 0.9 129 1 0 916.4 209.1A1.6 0.9 129 1 0 914.3 211.6ZM938.3 151.0A1.9 1.3 151 1 0 941.5 149.2A1.9 1.3 151 1 0 938.3 151.0ZM916.4 89.2A1.8 1.2 134 1 0 918.9 86.6A1.8 1.2 134 1 0 916.4 89.2ZM795.5 274.1A2.1 1.3 74 1 0 794.4 270.0A2.1 1.3 74 1 0 795.5 274.1ZM768.6 271.3A1.6 1.2 68 1 0 767.4 268.3A1.6 1.2 68 1 0 768.6 271.3ZM744.0 112.8A2.8 2.5 75 1 0 742.7 107.4A2.8 2.5 75 1 0 744.0 112.8ZM945.7 279.4A2.6 2.2 102 1 0 946.8 274.2A2.6 2.2 102 1 0 945.7 279.4ZM860.3 231.4A2.3 2.2 32 1 0 856.4 229.0A2.3 2.2 32 1 0 860.3 231.4ZM953.7 241.3A2.1 1.9 51 1 0 951.1 237.9A2.1 1.9 51 1 0 953.7 241.3ZM826.7 197.6A2.8 1.8 152 1 0 831.6 195.0A2.8 1.8 152 1 0 826.7 197.6ZM892.0 280.4A2.0 1.6 159 1 0 895.6 279.0A2.0 1.6 159 1 0 892.0 280.4ZM948.5 228.4A2.6 2.1 99 1 0 949.3 223.2A2.6 2.1 99 1 0 948.5 228.4ZM783.5 182.5A2.8 2.6 7 1 0 778.0 181.8A2.8 2.6 7 1 0 783.5 182.5ZM805.9 116.1A2.6 1.6 137 1 0 809.7 112.6A2.6 1.6 137 1 0 805.9 116.1ZM781.0 141.4A2.8 1.7 104 1 0 782.4 136.1A2.8 1.7 104 1 0 781.0 141.4ZM802.0 241.0A1.7 1.4 46 1 0 799.6 238.6A1.7 1.4 46 1 0 802.0 241.0ZM964.4 136.6A2.4 1.3 169 1 0 969.1 135.6A2.4 1.3 169 1 0 964.4 136.6ZM886.3 280.1A2.5 1.4 133 1 0 889.8 276.5A2.5 1.4 133 1 0 886.3 280.1ZM827.8 107.3A2.7 2.2 62 1 0 825.4 102.6A2.7 2.2 62 1 0 827.8 107.3ZM753.1 214.1A1.7 1.1 8 1 0 749.8 213.6A1.7 1.1 8 1 0 753.1 214.1ZM777.1 239.3A1.9 1.8 50 1 0 774.6 236.3A1.9 1.8 50 1 0 777.1 239.3ZM930.4 236.0A2.4 1.9 25 1 0 926.1 234.0A2.4 1.9 25 1 0 930.4 236.0ZM937.6 280.9A2.2 1.4 15 1 0 933.3 279.7A2.2 1.4 15 1 0 937.6 280.9ZM796.1 294.3A2.0 1.3 94 1 0 796.4 290.3A2.0 1.3 94 1 0 796.1 294.3ZM744.9 248.2A2.5 1.7 5 1 0 739.9 247.8A2.5 1.7 5 1 0 744.9 248.2ZM950.3 253.2A2.5 1.6 171 1 0 955.2 252.5A2.5 1.6 171 1 0 950.3 253.2ZM892.1 65.4A2.8 2.3 33 1 0 887.5 62.4A2.8 2.3 33 1 0 892.1 65.4ZM952.3 202.7A2.4 1.3 38 1 0 948.6 199.8A2.4 1.3 38 1 0 952.3 202.7ZM926.1 61.3A1.8 1.1 104 1 0 927.1 57.8A1.8 1.1 104 1 0 926.1 61.3ZM765.4 247.3A2.1 1.8 164 1 0 769.6 246.2A2.1 1.8 164 1 0 765.4 247.3ZM971.3 104.5A2.0 1.8 59 1 0 969.2 101.0A2.0 1.8 59 1 0 971.3 104.5ZM960.5 139.7A2.4 1.5 130 1 0 963.6 136.1A2.4 1.5 130 1 0 960.5 139.7ZM805.1 159.8A2.5 2.2 25 1 0 800.7 157.7A2.5 2.2 25 1 0 805.1 159.8ZM774.5 109.7A2.5 2.1 129 1 0 777.7 105.7A2.5 2.1 129 1 0 774.5 109.7ZM931.3 115.0A2.2 1.2 63 1 0 929.4 111.0A2.2 1.2 63 1 0 931.3 115.0ZM880.5 122.0A2.6 1.6 79 1 0 879.6 116.9A2.6 1.6 79 1 0 880.5 122.0ZM902.6 110.4A2.4 1.7 8 1 0 897.9 109.7A2.4 1.7 8 1 0 902.6 110.4ZM757.3 215.7A2.6 2.1 155 1 0 762.0 213.6A2.6 2.1 155 1 0 757.3 215.7ZM895.6 247.9A2.6 2.1 95 1 0 896.1 242.7A2.6 2.1 95 1 0 895.6 247.9ZM773.8 115.2A1.7 1.0 70 1 0 772.7 112.0A1.7 1.0 70 1 0 773.8 115.2ZM802.6 193.8A2.6 1.7 160 1 0 807.5 192.1A2.6 1.7 160 1 0 802.6 193.8ZM939.0 103.3A2.3 1.5 11 1 0 934.5 102.4A2.3 1.5 11 1 0 939.0 103.3ZM786.2 106.7A1.6 0.9 145 1 0 788.9 104.9A1.6 0.9 145 1 0 786.2 106.7ZM942.8 266.7A1.7 0.9 154 1 0 945.8 265.2A1.7 0.9 154 1 0 942.8 266.7ZM826.3 142.2A2.4 1.9 59 1 0 823.8 138.0A2.4 1.9 59 1 0 826.3 142.2ZM772.9 84.4A2.5 2.2 6 1 0 768.1 83.8A2.5 2.2 6 1 0 772.9 84.4ZM788.3 185.6A1.9 1.4 90 1 0 788.3 181.8A1.9 1.4 90 1 0 788.3 185.6ZM800.0 85.5A2.1 1.8 24 1 0 796.2 83.8A2.1 1.8 24 1 0 800.0 85.5ZM862.6 253.6A2.3 1.6 167 1 0 867.0 252.6A2.3 1.6 167 1 0 862.6 253.6ZM924.3 300.3A2.0 1.5 81 1 0 923.7 296.4A2.0 1.5 81 1 0 924.3 300.3ZM936.2 207.5A2.3 1.7 160 1 0 940.4 206.0A2.3 1.7 160 1 0 936.2 207.5ZM821.6 88.6A1.8 1.2 17 1 0 818.1 87.5A1.8 1.2 17 1 0 821.6 88.6ZM971.2 193.6A2.6 1.9 93 1 0 971.6 188.5A2.6 1.9 93 1 0 971.2 193.6ZM787.3 274.1A2.1 1.5 133 1 0 790.2 271.1A2.1 1.5 133 1 0 787.3 274.1ZM943.3 299.6A2.2 1.6 148 1 0 947.0 297.4A2.2 1.6 148 1 0 943.3 299.6ZM838.8 107.0A2.2 1.5 46 1 0 835.8 103.8A2.2 1.5 46 1 0 838.8 107.0ZM924.0 141.8A2.4 1.6 20 1 0 919.6 140.2A2.4 1.6 20 1 0 924.0 141.8ZM926.0 245.7A2.4 1.9 31 1 0 921.8 243.1A2.4 1.9 31 1 0 926.0 245.7ZM854.9 260.9A2.5 2.0 113 1 0 856.9 256.2A2.5 2.0 113 1 0 854.9 260.9ZM777.3 71.5A2.6 1.5 45 1 0 773.6 67.7A2.6 1.5 45 1 0 777.3 71.5ZM828.8 226.8A2.4 2.2 167 1 0 833.6 225.8A2.4 2.2 167 1 0 828.8 226.8ZM801.7 117.2A1.7 1.2 18 1 0 798.4 116.1A1.7 1.2 18 1 0 801.7 117.2ZM965.6 196.4A2.2 1.3 164 1 0 969.8 195.2A2.2 1.3 164 1 0 965.6 196.4ZM795.2 243.9A1.8 1.2 24 1 0 791.9 242.4A1.8 1.2 24 1 0 795.2 243.9ZM865.8 126.7A2.3 1.9 40 1 0 862.3 123.8A2.3 1.9 40 1 0 865.8 126.7ZM766.8 183.3A2.1 1.5 66 1 0 765.2 179.5A2.1 1.5 66 1 0 766.8 183.3ZM772.7 88.1A2.5 2.0 123 1 0 775.5 83.9A2.5 2.0 123 1 0 772.7 88.1ZM889.1 182.7A1.8 1.7 95 1 0 889.4 179.0A1.8 1.7 95 1 0 889.1 182.7ZM846.0 121.6A2.1 1.9 73 1 0 844.8 117.7A2.1 1.9 73 1 0 846.0 121.6ZM931.2 88.0A2.3 1.5 42 1 0 927.7 84.8A2.3 1.5 42 1 0 931.2 88.0ZM805.7 153.5A2.4 1.7 155 1 0 810.0 151.5A2.4 1.7 155 1 0 805.7 153.5ZM772.4 266.0A2.1 1.8 71 1 0 771.0 261.9A2.1 1.8 71 1 0 772.4 266.0ZM796.4 275.8A2.4 2.0 94 1 0 796.7 271.1A2.4 2.0 94 1 0 796.4 275.8ZM907.8 290.8A2.5 2.3 62 1 0 905.6 286.3A2.5 2.3 62 1 0 907.8 290.8ZM806.9 273.3A2.6 2.4 78 1 0 805.9 268.2A2.6 2.4 78 1 0 806.9 273.3ZM836.1 287.3A1.8 1.1 30 1 0 833.0 285.4A1.8 1.1 30 1 0 836.1 287.3ZM809.6 157.9A2.1 1.5 6 1 0 805.5 157.4A2.1 1.5 6 1 0 809.6 157.9ZM815.5 180.1A1.7 1.2 162 1 0 818.7 179.1A1.7 1.2 162 1 0 815.5 180.1ZM895.4 286.2A2.6 2.0 3 1 0 890.2 285.8A2.6 2.0 3 1 0 895.4 286.2ZM750.9 197.2A2.6 1.8 23 1 0 746.1 195.1A2.6 1.8 23 1 0 750.9 197.2ZM918.1 189.3A2.2 1.3 99 1 0 918.9 185.0A2.2 1.3 99 1 0 918.1 189.3ZM871.2 230.1A2.7 1.6 149 1 0 875.8 227.4A2.7 1.6 149 1 0 871.2 230.1ZM812.5 159.1A2.0 1.8 79 1 0 811.7 155.2A2.0 1.8 79 1 0 812.5 159.1ZM753.1 171.6A1.8 1.0 9 1 0 749.6 171.1A1.8 1.0 9 1 0 753.1 171.6ZM825.0 166.2A1.6 1.0 162 1 0 828.1 165.2A1.6 1.0 162 1 0 825.0 166.2ZM864.9 296.1A2.3 2.1 124 1 0 867.5 292.4A2.3 2.1 124 1 0 864.9 296.1ZM827.3 69.9A1.8 1.5 119 1 0 829.0 66.8A1.8 1.5 119 1 0 827.3 69.9ZM808.0 97.5A2.4 2.2 44 1 0 804.6 94.2A2.4 2.2 44 1 0 808.0 97.5ZM975.2 187.4A1.8 1.2 128 1 0 977.5 184.5A1.8 1.2 128 1 0 975.2 187.4ZM961.1 106.7A1.9 1.1 37 1 0 958.1 104.4A1.9 1.1 37 1 0 961.1 106.7ZM790.2 158.9A1.9 1.5 43 1 0 787.5 156.3A1.9 1.5 43 1 0 790.2 158.9ZM800.5 158.4A1.8 1.0 16 1 0 797.0 157.4A1.8 1.0 16 1 0 800.5 158.4ZM733.6 220.5A1.7 1.2 160 1 0 736.7 219.4A1.7 1.2 160 1 0 733.6 220.5ZM884.5 132.3A2.1 1.5 57 1 0 882.3 128.8A2.1 1.5 57 1 0 884.5 132.3ZM748.0 95.7A1.8 1.1 59 1 0 746.2 92.7A1.8 1.1 59 1 0 748.0 95.7ZM757.9 207.3A1.8 1.4 124 1 0 760.0 204.2A1.8 1.4 124 1 0 757.9 207.3ZM856.9 237.8A2.5 1.8 38 1 0 852.9 234.6A2.5 1.8 38 1 0 856.9 237.8ZM746.3 225.0A2.0 1.4 15 1 0 742.4 224.0A2.0 1.4 15 1 0 746.3 225.0ZM775.8 273.8A2.2 1.9 151 1 0 779.7 271.8A2.2 1.9 151 1 0 775.8 273.8ZM793.5 113.6A2.7 1.7 107 1 0 795.1 108.6A2.7 1.7 107 1 0 793.5 113.6ZM959.7 170.2A2.1 2.0 155 1 0 963.6 168.4A2.1 2.0 155 1 0 959.7 170.2ZM961.2 228.1A1.9 1.1 3 1 0 957.5 227.8A1.9 1.1 3 1 0 961.2 228.1ZM960.4 189.9A2.7 2.5 42 1 0 956.5 186.2A2.7 2.5 42 1 0 960.4 189.9ZM968.0 122.7A1.8 1.2 179 1 0 971.7 122.7A1.8 1.2 179 1 0 968.0 122.7ZM960.7 143.0A2.2 1.9 144 1 0 964.2 140.5A2.2 1.9 144 1 0 960.7 143.0ZM950.3 144.6A1.9 1.4 168 1 0 954.0 143.8A1.9 1.4 168 1 0 950.3 144.6ZM881.3 268.5A1.8 1.4 165 1 0 884.8 267.5A1.8 1.4 165 1 0 881.3 268.5ZM871.3 251.1A2.6 1.9 124 1 0 874.2 246.9A2.6 1.9 124 1 0 871.3 251.1ZM900.1 163.8A2.2 1.9 158 1 0 904.3 162.1A2.2 1.9 158 1 0 900.1 163.8ZM971.7 146.5A2.4 1.9 153 1 0 976.0 144.4A2.4 1.9 153 1 0 971.7 146.5ZM791.3 171.1A1.9 1.7 127 1 0 793.6 168.1A1.9 1.7 127 1 0 791.3 171.1ZM734.2 83.7A1.8 1.4 139 1 0 736.9 81.4A1.8 1.4 139 1 0 734.2 83.7ZM818.1 77.7A2.3 1.8 77 1 0 817.1 73.2A2.3 1.8 77 1 0 818.1 77.7ZM800.5 142.2A1.9 1.6 68 1 0 799.1 138.7A1.9 1.6 68 1 0 800.5 142.2ZM906.5 191.2A1.9 1.2 120 1 0 908.4 188.0A1.9 1.2 120 1 0 906.5 191.2ZM945.5 279.6A1.8 1.2 17 1 0 942.1 278.5A1.8 1.2 17 1 0 945.5 279.6ZM779.3 152.4A2.5 2.3 106 1 0 780.7 147.7A2.5 2.3 106 1 0 779.3 152.4ZM769.0 149.4A1.8 1.2 103 1 0 769.8 145.9A1.8 1.2 103 1 0 769.0 149.4Z" fill="#3b4c82" fill-opacity="0.85"/>
<circle cx="808.3" cy="110.4" r="36.29" fill="url(#cg2)"/>
<circle cx="895.3" cy="89.8" r="28.9" fill="url(#cg2)"/>
<circle cx="959.4" cy="91.3" r="28" fill="url(#cg2)"/>
<circle cx="866.5" cy="160.5" r="35.5" fill="url(#cg2)"/>
<circle cx="934.3" cy="150.2" r="29.68" fill="url(#cg2)"/>
<circle cx="788.4" cy="172.3" r="31.36" fill="url(#cg2)"/>
<circle cx="750.1" cy="210.6" r="33.04" fill="url(#cg2)"/>
<circle cx="836.3" cy="229.8" r="36.29" fill="url(#cg2)"/>
<circle cx="909.3" cy="236.4" r="37.97" fill="url(#cg2)"/>
<circle cx="966.8" cy="201.8" r="28" fill="url(#cg2)"/>
<circle cx="754.5" cy="275.5" r="31.36" fill="url(#cg2)"/>
<circle cx="822.3" cy="291.7" r="33.04" fill="url(#cg2)"/>
<circle cx="957.9" cy="279.9" r="28" fill="url(#cg2)"/>
<circle cx="769.3" cy="66.2" r="28" fill="url(#cg2)"/>
<circle cx="856.2" cy="61.8" r="24.64" fill="url(#cg2)"/>
<circle cx="741.3" cy="101.6" r="21.28" fill="url(#cg2)"/>
<rect x="734" y="56.2" width="243.1" height="242.9" filter="url(#tex)" style="mix-blend-mode:soft-light" opacity="0.35"/>
</g>
<rect x="734" y="56.2" width="243.1" height="242.9" fill="none" stroke="#000" stroke-width="2"/>
<line x1="912.2" y1="287.6" x2="963.8" y2="287.6" stroke="#1a0f0f" stroke-width="2.6"/>
<clipPath id="clipp4"><rect x="734.6" y="307.1" width="243.2" height="242"/></clipPath>
<g clip-path="url(#clipp4)">
<rect x="734.6" y="307.1" width="243.2" height="242" fill="#9e7664"/>
<path d="M776.64,403.17 C778.36,402.43 787.69,409.8 794.32,412.01 C800.96,414.22 808.82,416.19 816.43,416.43 C824.05,416.68 833.38,415.7 840.01,413.49 C846.64,411.27 851.8,402.43 856.22,403.17 C860.65,403.91 863.35,411.77 866.54,417.91 C869.73,424.05 871.45,432.65 875.38,440.01 C879.31,447.38 883.98,456.47 890.12,462.12 C896.26,467.77 904.86,471.46 912.23,473.91 C919.6,476.37 922.79,474.4 934.34,476.86 C945.88,479.32 973.64,475.88 981.5,488.65 C989.36,501.42 993.05,542.69 981.5,553.5 C969.96,564.31 924.76,558.9 912.23,553.5 C899.7,548.1 909.28,531.39 906.33,521.08 C903.39,510.76 899.21,500.2 894.54,491.6 C889.88,483 883.98,475.39 878.33,469.49 C872.68,463.6 867.03,459.42 860.65,456.23 C854.26,453.03 846.89,451.31 840.01,450.33 C833.13,449.35 824.78,449.35 819.38,450.33 C813.97,451.31 810.04,451.81 807.59,456.23 C805.13,460.65 805.38,466.05 804.64,476.86 C803.9,487.67 803.66,508.3 803.17,521.08 C802.67,533.85 803.66,548.1 801.69,553.5 C799.73,558.9 792.85,561.36 791.38,553.5 C789.9,545.64 792.6,521.57 792.85,506.34 C793.09,491.11 793.34,474.4 792.85,462.12 C792.36,449.84 791.38,440.26 789.9,432.65 C788.43,425.03 786.22,421.35 784.01,416.43 C781.8,411.52 774.92,403.91 776.64,403.17 Z" fill="#bdb1b4"/>
<path d="M890.12,304.42 C904.12,301.47 966.27,297.05 981.5,304.42 C996.73,311.79 986.9,342 981.5,348.64 C976.1,355.27 959.39,346.18 949.08,344.22 C938.76,342.25 928.2,340.53 919.6,336.85 C911,333.16 902.4,327.51 897.49,322.11 C892.58,316.7 876.12,307.37 890.12,304.42 Z" fill="#bcb0b6"/>
<path d="M855.7 350.8A2.2 2.0 113 1 0 857.5 346.7A2.2 2.0 113 1 0 855.7 350.8ZM883.2 385.2A2.3 1.9 2 1 0 878.6 384.9A2.3 1.9 2 1 0 883.2 385.2ZM896.4 538.8A2.8 1.6 6 1 0 890.8 538.2A2.8 1.6 6 1 0 896.4 538.8ZM924.2 354.0A2.5 2.0 121 1 0 926.8 349.8A2.5 2.0 121 1 0 924.2 354.0ZM805.7 475.3A3.3 2.4 71 1 0 803.6 469.1A3.3 2.4 71 1 0 805.7 475.3ZM899.1 520.3A2.9 2.7 140 1 0 903.6 516.6A2.9 2.7 140 1 0 899.1 520.3ZM969.9 368.7A2.9 1.8 21 1 0 964.6 366.6A2.9 1.8 21 1 0 969.9 368.7ZM815.4 536.5A2.3 1.5 166 1 0 819.9 535.5A2.3 1.5 166 1 0 815.4 536.5ZM975.7 490.9A2.4 2.1 11 1 0 971.1 489.9A2.4 2.1 11 1 0 975.7 490.9ZM734.9 323.4A2.3 1.5 154 1 0 739.2 321.4A2.3 1.5 154 1 0 734.9 323.4ZM844.5 515.3A2.6 1.8 61 1 0 842.0 510.8A2.6 1.8 61 1 0 844.5 515.3ZM742.9 417.8A3.3 3.1 167 1 0 749.4 416.4A3.3 3.1 167 1 0 742.9 417.8ZM761.5 414.7A3.1 1.9 11 1 0 755.3 413.5A3.1 1.9 11 1 0 761.5 414.7ZM781.7 327.6A3.0 2.5 177 1 0 787.6 327.4A3.0 2.5 177 1 0 781.7 327.6ZM749.9 477.9A3.1 1.9 14 1 0 743.9 476.4A3.1 1.9 14 1 0 749.9 477.9ZM972.0 500.1A1.9 1.2 118 1 0 973.8 496.7A1.9 1.2 118 1 0 972.0 500.1ZM776.3 414.7A2.0 1.2 87 1 0 776.1 410.6A2.0 1.2 87 1 0 776.3 414.7ZM868.3 512.5A1.8 1.2 12 1 0 864.8 511.7A1.8 1.2 12 1 0 868.3 512.5ZM867.9 349.2A2.3 2.2 116 1 0 870.1 345.0A2.3 2.2 116 1 0 867.9 349.2ZM895.1 453.9A2.1 1.7 174 1 0 899.3 453.5A2.1 1.7 174 1 0 895.1 453.9ZM755.2 512.2A2.4 1.5 117 1 0 757.4 508.0A2.4 1.5 117 1 0 755.2 512.2ZM943.3 348.8A2.1 1.6 36 1 0 939.9 346.3A2.1 1.6 36 1 0 943.3 348.8ZM859.3 547.8A1.8 1.3 36 1 0 856.4 545.6A1.8 1.3 36 1 0 859.3 547.8ZM774.5 452.8A3.3 2.4 100 1 0 775.7 446.3A3.3 2.4 100 1 0 774.5 452.8ZM907.5 516.8A3.3 2.3 31 1 0 901.8 513.2A3.3 2.3 31 1 0 907.5 516.8ZM955.0 455.5A3.2 2.0 142 1 0 960.0 451.6A3.2 2.0 142 1 0 955.0 455.5ZM763.9 340.9A2.0 1.4 74 1 0 762.8 337.1A2.0 1.4 74 1 0 763.9 340.9ZM895.2 536.4A2.5 1.9 73 1 0 893.8 531.6A2.5 1.9 73 1 0 895.2 536.4ZM826.5 372.6A1.8 1.2 130 1 0 828.9 369.8A1.8 1.2 130 1 0 826.5 372.6ZM931.0 474.5A2.5 1.8 34 1 0 926.8 471.7A2.5 1.8 34 1 0 931.0 474.5ZM793.3 551.3A2.7 1.9 96 1 0 793.9 545.8A2.7 1.9 96 1 0 793.3 551.3ZM852.1 379.0A2.5 1.8 161 1 0 856.7 377.5A2.5 1.8 161 1 0 852.1 379.0ZM948.8 377.2A2.5 1.6 171 1 0 953.8 376.5A2.5 1.6 171 1 0 948.8 377.2ZM767.9 425.4A1.8 1.3 82 1 0 767.5 421.8A1.8 1.3 82 1 0 767.9 425.4ZM739.6 345.9A2.6 1.9 54 1 0 736.6 341.7A2.6 1.9 54 1 0 739.6 345.9ZM747.0 387.8A2.4 1.4 107 1 0 748.5 383.3A2.4 1.4 107 1 0 747.0 387.8ZM788.1 438.7A2.9 1.6 89 1 0 788.1 432.8A2.9 1.6 89 1 0 788.1 438.7ZM888.1 526.0A2.9 2.6 119 1 0 891.0 520.9A2.9 2.6 119 1 0 888.1 526.0ZM786.2 504.7A3.0 2.2 166 1 0 792.1 503.3A3.0 2.2 166 1 0 786.2 504.7ZM744.6 528.2A2.4 1.8 143 1 0 748.4 525.4A2.4 1.8 143 1 0 744.6 528.2ZM773.4 427.4A1.8 1.0 172 1 0 777.1 426.9A1.8 1.0 172 1 0 773.4 427.4ZM787.9 412.4A2.0 1.8 91 1 0 788.0 408.4A2.0 1.8 91 1 0 787.9 412.4ZM941.9 375.4A2.5 1.6 106 1 0 943.3 370.5A2.5 1.6 106 1 0 941.9 375.4ZM903.9 446.3A2.7 1.8 171 1 0 909.3 445.5A2.7 1.8 171 1 0 903.9 446.3ZM736.8 348.7A2.9 2.7 152 1 0 741.9 346.1A2.9 2.7 152 1 0 736.8 348.7ZM793.4 537.7A2.5 2.0 116 1 0 795.6 533.1A2.5 2.0 116 1 0 793.4 537.7ZM881.7 521.0A3.2 2.2 160 1 0 887.8 518.9A3.2 2.2 160 1 0 881.7 521.0ZM812.6 474.2A2.1 1.7 54 1 0 810.2 470.9A2.1 1.7 54 1 0 812.6 474.2ZM978.7 468.9A2.4 2.3 20 1 0 974.2 467.2A2.4 2.3 20 1 0 978.7 468.9ZM917.9 464.7A1.8 1.3 20 1 0 914.5 463.4A1.8 1.3 20 1 0 917.9 464.7ZM980.4 332.3A2.8 2.2 22 1 0 975.2 330.2A2.8 2.2 22 1 0 980.4 332.3ZM964.3 447.3A2.8 1.8 27 1 0 959.4 444.7A2.8 1.8 27 1 0 964.3 447.3ZM814.6 317.5A2.1 1.6 70 1 0 813.1 313.5A2.1 1.6 70 1 0 814.6 317.5ZM918.3 343.2A2.1 1.6 123 1 0 920.7 339.6A2.1 1.6 123 1 0 918.3 343.2ZM811.8 359.0A2.0 1.4 68 1 0 810.3 355.3A2.0 1.4 68 1 0 811.8 359.0ZM930.3 366.6A2.3 2.0 37 1 0 926.5 363.8A2.3 2.0 37 1 0 930.3 366.6ZM746.0 544.9A3.3 2.2 51 1 0 741.9 539.8A3.3 2.2 51 1 0 746.0 544.9ZM844.6 360.4A3.1 2.8 128 1 0 848.4 355.6A3.1 2.8 128 1 0 844.6 360.4ZM830.1 513.2A3.3 2.1 120 1 0 833.4 507.5A3.3 2.1 120 1 0 830.1 513.2ZM774.5 548.0A3.1 2.2 133 1 0 778.7 543.5A3.1 2.2 133 1 0 774.5 548.0ZM806.3 325.1A2.6 1.5 82 1 0 805.5 319.9A2.6 1.5 82 1 0 806.3 325.1ZM941.6 448.9A2.2 1.4 100 1 0 942.4 444.6A2.2 1.4 100 1 0 941.6 448.9ZM858.8 527.8A2.1 1.5 80 1 0 858.1 523.7A2.1 1.5 80 1 0 858.8 527.8ZM828.2 353.5A2.4 1.9 34 1 0 824.3 350.8A2.4 1.9 34 1 0 828.2 353.5ZM814.1 437.5A3.3 2.5 62 1 0 811.0 431.7A3.3 2.5 62 1 0 814.1 437.5ZM743.2 434.8A2.4 1.4 85 1 0 742.8 430.1A2.4 1.4 85 1 0 743.2 434.8ZM887.4 392.7A3.0 2.4 11 1 0 881.5 391.5A3.0 2.4 11 1 0 887.4 392.7ZM748.7 436.1A2.8 2.1 41 1 0 744.5 432.4A2.8 2.1 41 1 0 748.7 436.1ZM820.2 482.4A2.4 1.9 41 1 0 816.5 479.2A2.4 1.9 41 1 0 820.2 482.4ZM886.1 424.2A1.8 1.5 144 1 0 889.0 422.1A1.8 1.5 144 1 0 886.1 424.2ZM976.6 537.3A2.9 2.2 47 1 0 972.7 533.0A2.9 2.2 47 1 0 976.6 537.3ZM905.0 410.7A2.3 1.4 108 1 0 906.5 406.3A2.3 1.4 108 1 0 905.0 410.7ZM906.5 495.1A2.0 1.3 114 1 0 908.3 491.4A2.0 1.3 114 1 0 906.5 495.1ZM768.4 524.0A3.3 2.6 47 1 0 763.9 519.2A3.3 2.6 47 1 0 768.4 524.0ZM870.6 494.8A2.4 1.9 108 1 0 872.1 490.3A2.4 1.9 108 1 0 870.6 494.8ZM952.9 495.9A2.9 2.2 160 1 0 958.3 493.9A2.9 2.2 160 1 0 952.9 495.9ZM880.8 476.1A2.3 1.4 100 1 0 881.6 471.6A2.3 1.4 100 1 0 880.8 476.1ZM789.8 543.6A2.2 2.0 60 1 0 787.6 539.9A2.2 2.0 60 1 0 789.8 543.6ZM780.4 448.9A2.3 2.2 111 1 0 782.1 444.6A2.3 2.2 111 1 0 780.4 448.9ZM759.0 384.1A2.0 1.5 94 1 0 759.3 380.2A2.0 1.5 94 1 0 759.0 384.1ZM810.1 472.0A2.5 2.2 122 1 0 812.8 467.8A2.5 2.2 122 1 0 810.1 472.0ZM799.4 508.1A1.8 1.2 5 1 0 795.7 507.8A1.8 1.2 5 1 0 799.4 508.1ZM969.0 437.6A3.1 3.0 16 1 0 963.0 435.8A3.1 3.0 16 1 0 969.0 437.6ZM954.5 314.8A2.9 2.5 69 1 0 952.4 309.4A2.9 2.5 69 1 0 954.5 314.8ZM953.4 493.9A2.6 1.7 28 1 0 948.8 491.4A2.6 1.7 28 1 0 953.4 493.9ZM752.9 440.7A2.6 1.6 95 1 0 753.4 435.5A2.6 1.6 95 1 0 752.9 440.7ZM753.7 383.0A2.9 1.8 94 1 0 754.1 377.3A2.9 1.8 94 1 0 753.7 383.0ZM765.1 521.1A2.1 2.0 165 1 0 769.2 520.0A2.1 2.0 165 1 0 765.1 521.1ZM966.3 375.7A2.9 1.7 174 1 0 972.1 375.2A2.9 1.7 174 1 0 966.3 375.7ZM903.9 317.8A2.0 1.2 62 1 0 902.0 314.2A2.0 1.2 62 1 0 903.9 317.8ZM964.8 498.1A2.3 2.0 1 1 0 960.2 498.0A2.3 2.0 1 1 0 964.8 498.1ZM866.2 403.0A1.9 1.8 118 1 0 868.0 399.6A1.9 1.8 118 1 0 866.2 403.0ZM977.0 464.8A2.8 1.7 85 1 0 976.5 459.2A2.8 1.7 85 1 0 977.0 464.8ZM953.9 444.8A2.8 2.1 64 1 0 951.5 439.8A2.8 2.1 64 1 0 953.9 444.8ZM739.5 360.4A2.1 1.2 9 1 0 735.4 359.7A2.1 1.2 9 1 0 739.5 360.4ZM920.7 549.8A2.9 2.6 37 1 0 916.1 546.2A2.9 2.6 37 1 0 920.7 549.8ZM943.1 401.8A3.2 2.0 53 1 0 939.3 396.7A3.2 2.0 53 1 0 943.1 401.8ZM860.9 362.6A2.2 1.9 142 1 0 864.4 359.9A2.2 1.9 142 1 0 860.9 362.6ZM973.0 467.8A2.4 1.7 105 1 0 974.3 463.2A2.4 1.7 105 1 0 973.0 467.8ZM878.9 531.8A2.7 2.5 86 1 0 878.5 526.4A2.7 2.5 86 1 0 878.9 531.8ZM845.4 314.2A2.3 1.7 2 1 0 840.8 314.0A2.3 1.7 2 1 0 845.4 314.2ZM839.3 335.7A2.2 2.0 164 1 0 843.6 334.6A2.2 2.0 164 1 0 839.3 335.7ZM764.0 451.4A2.6 1.5 53 1 0 760.9 447.3A2.6 1.5 53 1 0 764.0 451.4ZM863.6 412.6A2.7 1.6 110 1 0 865.5 407.5A2.7 1.6 110 1 0 863.6 412.6ZM880.7 353.9A2.7 2.5 160 1 0 885.8 352.1A2.7 2.5 160 1 0 880.7 353.9ZM882.8 435.5A3.0 2.2 127 1 0 886.4 430.7A3.0 2.2 127 1 0 882.8 435.5ZM824.3 444.3A3.0 2.3 108 1 0 826.2 438.6A3.0 2.3 108 1 0 824.3 444.3ZM828.6 394.6A2.8 2.1 79 1 0 827.5 389.0A2.8 2.1 79 1 0 828.6 394.6ZM829.0 379.1A2.8 2.5 35 1 0 824.4 375.8A2.8 2.5 35 1 0 829.0 379.1ZM893.5 438.4A2.8 2.3 72 1 0 891.7 433.0A2.8 2.3 72 1 0 893.5 438.4ZM734.6 395.6A2.6 2.1 166 1 0 739.7 394.4A2.6 2.1 166 1 0 734.6 395.6ZM896.7 466.1A2.4 2.0 23 1 0 892.4 464.2A2.4 2.0 23 1 0 896.7 466.1ZM949.5 428.1A2.5 2.1 97 1 0 950.2 423.1A2.5 2.1 97 1 0 949.5 428.1ZM978.2 337.5A1.9 1.5 40 1 0 975.3 335.0A1.9 1.5 40 1 0 978.2 337.5ZM791.0 551.1A2.6 1.8 65 1 0 788.8 546.3A2.6 1.8 65 1 0 791.0 551.1ZM788.1 369.6A2.0 1.9 132 1 0 790.8 366.6A2.0 1.9 132 1 0 788.1 369.6ZM825.3 334.4A3.4 3.0 17 1 0 818.8 332.5A3.4 3.0 17 1 0 825.3 334.4ZM946.7 443.8A3.4 2.5 78 1 0 945.3 437.2A3.4 2.5 78 1 0 946.7 443.8ZM738.3 447.9A2.2 2.0 40 1 0 735.0 445.1A2.2 2.0 40 1 0 738.3 447.9ZM946.3 388.5A3.1 2.6 168 1 0 952.3 387.2A3.1 2.6 168 1 0 946.3 388.5ZM876.6 395.0A2.2 1.4 18 1 0 872.4 393.6A2.2 1.4 18 1 0 876.6 395.0ZM807.3 387.0A3.1 1.7 90 1 0 807.4 380.7A3.1 1.7 90 1 0 807.3 387.0ZM856.0 347.5A2.9 1.8 133 1 0 860.1 343.3A2.9 1.8 133 1 0 856.0 347.5ZM777.9 520.7A2.3 1.4 27 1 0 773.8 518.7A2.3 1.4 27 1 0 777.9 520.7ZM785.1 341.2A2.3 2.2 67 1 0 783.4 336.9A2.3 2.2 67 1 0 785.1 341.2ZM828.6 490.1A1.9 1.1 156 1 0 832.1 488.6A1.9 1.1 156 1 0 828.6 490.1ZM812.1 349.5A2.1 1.8 175 1 0 816.2 349.2A2.1 1.8 175 1 0 812.1 349.5ZM833.0 481.4A2.5 1.6 56 1 0 830.2 477.2A2.5 1.6 56 1 0 833.0 481.4ZM818.2 370.6A3.1 1.8 69 1 0 816.0 364.8A3.1 1.8 69 1 0 818.2 370.6ZM911.7 318.1A3.3 2.7 117 1 0 914.8 312.2A3.3 2.7 117 1 0 911.7 318.1ZM784.5 356.4A3.1 3.0 2 1 0 778.2 356.1A3.1 3.0 2 1 0 784.5 356.4ZM935.2 356.1A1.9 1.5 17 1 0 931.5 354.9A1.9 1.5 17 1 0 935.2 356.1ZM939.0 513.6A2.3 1.4 92 1 0 939.2 509.1A2.3 1.4 92 1 0 939.0 513.6ZM917.9 319.0A2.9 1.8 68 1 0 915.7 313.6A2.9 1.8 68 1 0 917.9 319.0ZM772.2 327.4A2.7 1.8 163 1 0 777.3 326.0A2.7 1.8 163 1 0 772.2 327.4ZM955.8 485.1A2.6 2.1 59 1 0 953.1 480.6A2.6 2.1 59 1 0 955.8 485.1ZM846.4 440.7A2.5 1.8 153 1 0 850.9 438.5A2.5 1.8 153 1 0 846.4 440.7ZM978.2 485.9A3.2 2.1 13 1 0 972.0 484.4A3.2 2.1 13 1 0 978.2 485.9ZM785.8 428.9A3.0 2.6 164 1 0 791.7 427.3A3.0 2.6 164 1 0 785.8 428.9ZM925.0 381.0A1.9 1.4 59 1 0 923.1 377.8A1.9 1.4 59 1 0 925.0 381.0ZM944.4 528.3A2.7 2.3 130 1 0 947.9 524.2A2.7 2.3 130 1 0 944.4 528.3ZM860.3 417.3A3.3 2.9 102 1 0 861.8 410.8A3.3 2.9 102 1 0 860.3 417.3ZM976.2 345.7A3.0 2.3 57 1 0 973.0 340.5A3.0 2.3 57 1 0 976.2 345.7ZM762.4 448.7A3.2 2.0 161 1 0 768.5 446.7A3.2 2.0 161 1 0 762.4 448.7ZM975.9 356.4A2.7 2.0 60 1 0 973.3 351.7A2.7 2.0 60 1 0 975.9 356.4ZM760.4 372.3A3.3 2.9 171 1 0 766.9 371.3A3.3 2.9 171 1 0 760.4 372.3ZM855.4 429.7A1.9 1.4 104 1 0 856.3 426.1A1.9 1.4 104 1 0 855.4 429.7ZM973.3 322.9A2.9 1.6 174 1 0 979.0 322.4A2.9 1.6 174 1 0 973.3 322.9ZM784.1 477.8A2.8 1.8 83 1 0 783.4 472.2A2.8 1.8 83 1 0 784.1 477.8ZM836.0 352.3A2.4 1.4 127 1 0 839.0 348.4A2.4 1.4 127 1 0 836.0 352.3ZM973.0 439.3A2.4 1.8 25 1 0 968.6 437.2A2.4 1.8 25 1 0 973.0 439.3ZM916.1 475.1A2.0 1.4 22 1 0 912.5 473.6A2.0 1.4 22 1 0 916.1 475.1ZM902.3 312.3A3.2 1.8 150 1 0 907.8 309.1A3.2 1.8 150 1 0 902.3 312.3ZM778.6 436.2A2.9 2.7 157 1 0 784.0 434.0A2.9 2.7 157 1 0 778.6 436.2ZM771.9 482.8A2.5 1.5 83 1 0 771.3 477.8A2.5 1.5 83 1 0 771.9 482.8ZM959.9 312.8A2.9 2.2 158 1 0 965.4 310.7A2.9 2.2 158 1 0 959.9 312.8ZM848.4 370.0A3.2 1.9 123 1 0 851.9 364.8A3.2 1.9 123 1 0 848.4 370.0ZM807.8 321.1A2.1 1.8 28 1 0 804.2 319.1A2.1 1.8 28 1 0 807.8 321.1ZM956.4 345.7A3.3 1.9 118 1 0 959.5 339.9A3.3 1.9 118 1 0 956.4 345.7ZM861.2 451.5A3.3 2.1 178 1 0 867.8 451.4A3.3 2.1 178 1 0 861.2 451.5ZM871.8 504.6A2.2 2.1 129 1 0 874.6 501.2A2.2 2.1 129 1 0 871.8 504.6ZM846.0 359.8A3.2 2.5 178 1 0 852.4 359.6A3.2 2.5 178 1 0 846.0 359.8ZM947.0 489.8A3.0 1.8 149 1 0 952.1 486.8A3.0 1.8 149 1 0 947.0 489.8ZM909.9 331.9A1.9 1.1 39 1 0 907.0 329.5A1.9 1.1 39 1 0 909.9 331.9ZM917.6 493.4A2.9 2.0 168 1 0 923.3 492.3A2.9 2.0 168 1 0 917.6 493.4ZM769.8 364.0A2.5 1.6 132 1 0 773.2 360.3A2.5 1.6 132 1 0 769.8 364.0ZM938.8 489.0A2.3 1.8 56 1 0 936.3 485.1A2.3 1.8 56 1 0 938.8 489.0ZM866.4 436.7A2.0 1.8 146 1 0 869.8 434.5A2.0 1.8 146 1 0 866.4 436.7ZM921.9 330.5A2.2 1.8 145 1 0 925.5 328.0A2.2 1.8 145 1 0 921.9 330.5ZM885.0 535.4A2.5 1.6 85 1 0 884.6 530.4A2.5 1.6 85 1 0 885.0 535.4ZM806.0 401.7A3.1 2.1 128 1 0 809.8 396.9A3.1 2.1 128 1 0 806.0 401.7ZM877.7 314.7A2.6 2.3 116 1 0 880.0 310.0A2.6 2.3 116 1 0 877.7 314.7ZM942.4 465.1A3.4 1.9 76 1 0 940.8 458.5A3.4 1.9 76 1 0 942.4 465.1ZM781.6 492.2A2.3 1.9 117 1 0 783.7 488.2A2.3 1.9 117 1 0 781.6 492.2ZM737.7 457.8A2.3 1.5 116 1 0 739.8 453.7A2.3 1.5 116 1 0 737.7 457.8ZM891.2 359.3A2.9 1.7 9 1 0 885.4 358.3A2.9 1.7 9 1 0 891.2 359.3ZM948.2 534.2A3.3 3.1 133 1 0 952.7 529.4A3.3 3.1 133 1 0 948.2 534.2ZM870.3 435.5A2.7 2.5 174 1 0 875.6 435.0A2.7 2.5 174 1 0 870.3 435.5ZM838.4 357.4A2.7 1.9 145 1 0 842.8 354.4A2.7 1.9 145 1 0 838.4 357.4ZM960.6 457.9A1.9 1.5 23 1 0 957.1 456.4A1.9 1.5 23 1 0 960.6 457.9ZM867.7 506.6A2.9 2.1 28 1 0 862.6 503.9A2.9 2.1 28 1 0 867.7 506.6ZM959.7 520.2A2.6 1.5 121 1 0 962.4 515.8A2.6 1.5 121 1 0 959.7 520.2ZM834.3 404.3A2.4 1.6 25 1 0 829.9 402.2A2.4 1.6 25 1 0 834.3 404.3ZM892.7 435.0A2.5 2.1 90 1 0 892.8 430.0A2.5 2.1 90 1 0 892.7 435.0ZM772.9 374.4A2.7 2.2 114 1 0 775.1 369.5A2.7 2.2 114 1 0 772.9 374.4ZM918.1 395.8A3.0 2.4 45 1 0 913.9 391.5A3.0 2.4 45 1 0 918.1 395.8ZM762.4 460.3A3.2 2.9 146 1 0 767.7 456.9A3.2 2.9 146 1 0 762.4 460.3ZM932.7 450.8A2.2 1.5 155 1 0 936.7 448.9A2.2 1.5 155 1 0 932.7 450.8ZM803.6 425.2A2.7 1.5 20 1 0 798.5 423.3A2.7 1.5 20 1 0 803.6 425.2ZM785.9 501.2A3.1 1.8 29 1 0 780.6 498.3A3.1 1.8 29 1 0 785.9 501.2ZM971.7 348.4A3.1 2.4 156 1 0 977.4 346.0A3.1 2.4 156 1 0 971.7 348.4ZM916.8 331.0A3.0 2.5 7 1 0 910.8 330.3A3.0 2.5 7 1 0 916.8 331.0ZM963.3 380.4A2.5 1.9 99 1 0 964.2 375.3A2.5 1.9 99 1 0 963.3 380.4ZM876.3 324.0A3.2 2.4 17 1 0 870.2 322.0A3.2 2.4 17 1 0 876.3 324.0ZM855.1 354.7A2.5 2.1 135 1 0 858.6 351.2A2.5 2.1 135 1 0 855.1 354.7ZM776.7 378.6A3.3 2.7 33 1 0 771.1 374.9A3.3 2.7 33 1 0 776.7 378.6ZM884.7 367.8A1.9 1.6 20 1 0 881.1 366.5A1.9 1.6 20 1 0 884.7 367.8ZM766.4 473.6A3.3 1.9 134 1 0 771.1 468.8A3.3 1.9 134 1 0 766.4 473.6ZM768.1 322.6A1.8 1.0 131 1 0 770.5 319.9A1.8 1.0 131 1 0 768.1 322.6ZM955.8 312.2A2.0 1.2 73 1 0 954.7 308.3A2.0 1.2 73 1 0 955.8 312.2ZM811.7 356.4A3.1 1.8 113 1 0 814.2 350.7A3.1 1.8 113 1 0 811.7 356.4ZM767.5 465.4A2.0 1.3 178 1 0 771.5 465.3A2.0 1.3 178 1 0 767.5 465.4ZM799.0 419.1A2.9 2.7 98 1 0 799.9 413.4A2.9 2.7 98 1 0 799.0 419.1ZM763.9 471.6A2.9 2.3 69 1 0 761.9 466.2A2.9 2.3 69 1 0 763.9 471.6ZM931.4 323.1A2.7 2.1 165 1 0 936.6 321.7A2.7 2.1 165 1 0 931.4 323.1ZM925.0 367.3A2.4 1.9 68 1 0 923.3 362.8A2.4 1.9 68 1 0 925.0 367.3ZM752.1 548.5A2.5 1.5 27 1 0 747.6 546.2A2.5 1.5 27 1 0 752.1 548.5ZM736.3 527.9A2.0 1.6 170 1 0 740.3 527.2A2.0 1.6 170 1 0 736.3 527.9ZM919.5 451.5A2.3 1.8 145 1 0 923.2 448.9A2.3 1.8 145 1 0 919.5 451.5ZM782.6 363.2A2.5 1.9 160 1 0 787.2 361.6A2.5 1.9 160 1 0 782.6 363.2ZM881.1 372.7A3.0 1.8 19 1 0 875.6 370.7A3.0 1.8 19 1 0 881.1 372.7ZM736.4 449.3A2.7 2.0 99 1 0 737.4 443.9A2.7 2.0 99 1 0 736.4 449.3ZM780.3 360.7A2.7 1.9 89 1 0 780.3 355.3A2.7 1.9 89 1 0 780.3 360.7ZM957.1 423.2A3.0 1.7 88 1 0 956.9 417.2A3.0 1.7 88 1 0 957.1 423.2ZM749.5 356.1A2.1 1.5 28 1 0 745.9 354.1A2.1 1.5 28 1 0 749.5 356.1ZM962.7 381.9A2.3 1.3 66 1 0 960.9 377.7A2.3 1.3 66 1 0 962.7 381.9ZM923.9 442.2A3.2 2.6 115 1 0 926.7 436.4A3.2 2.6 115 1 0 923.9 442.2ZM840.4 510.9A2.5 1.5 40 1 0 836.5 507.6A2.5 1.5 40 1 0 840.4 510.9ZM927.4 322.8A2.1 1.7 122 1 0 929.6 319.3A2.1 1.7 122 1 0 927.4 322.8ZM850.3 465.3A2.5 1.9 6 1 0 845.4 464.7A2.5 1.9 6 1 0 850.3 465.3ZM833.8 545.3A2.7 1.9 112 1 0 835.9 540.3A2.7 1.9 112 1 0 833.8 545.3ZM969.8 420.9A2.5 2.2 153 1 0 974.2 418.7A2.5 2.2 153 1 0 969.8 420.9ZM787.7 470.2A2.3 1.6 144 1 0 791.4 467.5A2.3 1.6 144 1 0 787.7 470.2ZM825.2 529.4A2.6 2.3 23 1 0 820.4 527.4A2.6 2.3 23 1 0 825.2 529.4ZM833.1 318.4A3.2 2.9 87 1 0 832.8 312.1A3.2 2.9 87 1 0 833.1 318.4ZM849.8 543.0A2.4 1.6 24 1 0 845.4 540.9A2.4 1.6 24 1 0 849.8 543.0ZM955.8 502.6A2.6 2.2 150 1 0 960.4 500.0A2.6 2.2 150 1 0 955.8 502.6ZM897.5 336.1A2.8 2.6 85 1 0 897.0 330.5A2.8 2.6 85 1 0 897.5 336.1ZM837.4 464.8A2.1 1.3 122 1 0 839.6 461.3A2.1 1.3 122 1 0 837.4 464.8ZM979.0 335.0A2.9 2.2 6 1 0 973.3 334.3A2.9 2.2 6 1 0 979.0 335.0ZM775.0 383.6A2.9 1.8 67 1 0 772.7 378.2A2.9 1.8 67 1 0 775.0 383.6ZM888.3 491.7A3.4 3.0 34 1 0 882.7 487.8A3.4 3.0 34 1 0 888.3 491.7ZM871.6 456.3A2.7 2.1 68 1 0 869.6 451.3A2.7 2.1 68 1 0 871.6 456.3ZM791.0 471.4A3.2 2.6 118 1 0 794.0 465.8A3.2 2.6 118 1 0 791.0 471.4ZM966.3 370.9A2.7 2.4 117 1 0 968.8 366.1A2.7 2.4 117 1 0 966.3 370.9ZM735.9 433.7A3.1 2.0 70 1 0 733.9 427.8A3.1 2.0 70 1 0 735.9 433.7ZM971.2 418.2A2.7 2.1 152 1 0 975.9 415.8A2.7 2.1 152 1 0 971.2 418.2ZM844.4 527.3A2.9 2.1 110 1 0 846.5 521.8A2.9 2.1 110 1 0 844.4 527.3ZM809.2 321.7A2.6 1.5 53 1 0 806.1 317.6A2.6 1.5 53 1 0 809.2 321.7ZM940.6 543.9A2.1 1.3 63 1 0 938.7 540.1A2.1 1.3 63 1 0 940.6 543.9ZM843.8 344.5A3.1 1.9 97 1 0 844.5 338.3A3.1 1.9 97 1 0 843.8 344.5ZM799.0 464.5A2.0 1.5 152 1 0 802.5 462.7A2.0 1.5 152 1 0 799.0 464.5ZM737.7 355.5A1.9 1.7 120 1 0 739.7 352.2A1.9 1.7 120 1 0 737.7 355.5ZM792.1 526.5A2.1 1.5 131 1 0 794.9 523.3A2.1 1.5 131 1 0 792.1 526.5ZM878.9 323.3A1.9 1.2 170 1 0 882.6 322.7A1.9 1.2 170 1 0 878.9 323.3ZM954.7 380.9A1.9 1.5 35 1 0 951.7 378.7A1.9 1.5 35 1 0 954.7 380.9ZM949.2 531.4A3.1 2.6 140 1 0 953.9 527.5A3.1 2.6 140 1 0 949.2 531.4ZM935.2 401.4A3.0 1.6 125 1 0 938.6 396.6A3.0 1.6 125 1 0 935.2 401.4ZM840.9 547.7A3.1 2.2 127 1 0 844.6 542.9A3.1 2.2 127 1 0 840.9 547.7ZM878.2 457.7A1.8 1.2 46 1 0 875.7 455.1A1.8 1.2 46 1 0 878.2 457.7ZM904.5 531.4A2.8 2.4 114 1 0 906.8 526.3A2.8 2.4 114 1 0 904.5 531.4ZM770.8 371.5A2.7 2.3 75 1 0 769.4 366.2A2.7 2.3 75 1 0 770.8 371.5ZM904.2 390.2A2.3 1.4 74 1 0 903.0 385.8A2.3 1.4 74 1 0 904.2 390.2ZM873.4 336.1A3.3 1.8 131 1 0 877.8 331.2A3.3 1.8 131 1 0 873.4 336.1ZM817.7 535.9A2.3 1.3 124 1 0 820.2 532.2A2.3 1.3 124 1 0 817.7 535.9ZM825.2 507.6A2.9 2.1 118 1 0 828.0 502.6A2.9 2.1 118 1 0 825.2 507.6ZM899.8 388.7A2.1 1.7 102 1 0 900.7 384.6A2.1 1.7 102 1 0 899.8 388.7ZM746.0 348.8A2.5 1.5 94 1 0 746.4 343.8A2.5 1.5 94 1 0 746.0 348.8ZM833.7 379.3A3.0 2.5 12 1 0 827.8 378.0A3.0 2.5 12 1 0 833.7 379.3ZM881.8 549.2A2.8 2.6 41 1 0 877.7 545.5A2.8 2.6 41 1 0 881.8 549.2ZM789.8 387.8A2.2 1.3 45 1 0 786.8 384.7A2.2 1.3 45 1 0 789.8 387.8ZM854.2 505.5A3.0 1.7 137 1 0 858.7 501.5A3.0 1.7 137 1 0 854.2 505.5ZM891.4 372.2A1.8 1.6 24 1 0 888.1 370.7A1.8 1.6 24 1 0 891.4 372.2ZM793.4 381.5A3.1 2.9 164 1 0 799.3 379.9A3.1 2.9 164 1 0 793.4 381.5ZM943.1 513.4A2.6 1.5 42 1 0 939.3 510.0A2.6 1.5 42 1 0 943.1 513.4ZM770.8 335.5A2.0 1.4 9 1 0 766.8 334.8A2.0 1.4 9 1 0 770.8 335.5ZM804.5 515.1A2.2 1.6 153 1 0 808.4 513.1A2.2 1.6 153 1 0 804.5 515.1ZM735.9 484.0A2.7 1.5 160 1 0 740.9 482.2A2.7 1.5 160 1 0 735.9 484.0ZM926.7 334.7A3.3 2.6 114 1 0 929.4 328.6A3.3 2.6 114 1 0 926.7 334.7ZM788.7 316.1A2.9 2.4 32 1 0 783.8 312.9A2.9 2.4 32 1 0 788.7 316.1ZM740.8 447.1A2.3 1.6 156 1 0 745.0 445.2A2.3 1.6 156 1 0 740.8 447.1ZM871.5 338.5A2.9 2.4 102 1 0 872.8 332.8A2.9 2.4 102 1 0 871.5 338.5ZM968.2 424.5A2.8 1.6 54 1 0 964.8 419.9A2.8 1.6 54 1 0 968.2 424.5ZM806.1 413.3A2.6 1.6 124 1 0 809.1 408.9A2.6 1.6 124 1 0 806.1 413.3ZM749.3 370.5A2.7 1.5 59 1 0 746.5 365.8A2.7 1.5 59 1 0 749.3 370.5ZM929.7 485.8A2.4 1.5 135 1 0 933.1 482.4A2.4 1.5 135 1 0 929.7 485.8ZM944.6 328.8A2.5 1.9 124 1 0 947.4 324.7A2.5 1.9 124 1 0 944.6 328.8ZM781.2 506.5A2.8 2.4 170 1 0 786.6 505.6A2.8 2.4 170 1 0 781.2 506.5ZM901.7 471.5A2.3 1.5 67 1 0 899.9 467.3A2.3 1.5 67 1 0 901.7 471.5ZM931.6 453.6A2.2 2.0 93 1 0 931.8 449.1A2.2 2.0 93 1 0 931.6 453.6ZM969.7 465.2A3.0 2.0 178 1 0 975.6 465.1A3.0 2.0 178 1 0 969.7 465.2ZM853.3 471.4A2.4 1.9 31 1 0 849.2 468.8A2.4 1.9 31 1 0 853.3 471.4ZM826.6 408.9A3.0 1.8 35 1 0 821.8 405.4A3.0 1.8 35 1 0 826.6 408.9ZM891.7 424.8A3.2 1.8 79 1 0 890.6 418.5A3.2 1.8 79 1 0 891.7 424.8ZM937.5 492.1A2.4 1.8 71 1 0 936.0 487.6A2.4 1.8 71 1 0 937.5 492.1ZM737.6 328.0A2.2 1.9 34 1 0 734.0 325.5A2.2 1.9 34 1 0 737.6 328.0ZM805.7 444.5A2.9 2.4 55 1 0 802.4 439.7A2.9 2.4 55 1 0 805.7 444.5ZM819.5 312.7A3.1 2.2 52 1 0 815.7 307.8A3.1 2.2 52 1 0 819.5 312.7ZM786.9 427.2A2.0 1.4 18 1 0 783.1 425.9A2.0 1.4 18 1 0 786.9 427.2ZM778.8 435.6A2.3 1.4 156 1 0 783.0 433.8A2.3 1.4 156 1 0 778.8 435.6ZM750.4 408.8A2.3 1.3 53 1 0 747.7 405.2A2.3 1.3 53 1 0 750.4 408.8ZM839.8 474.6A2.2 1.6 162 1 0 844.0 473.2A2.2 1.6 162 1 0 839.8 474.6ZM886.9 415.4A2.1 1.8 167 1 0 891.1 414.4A2.1 1.8 167 1 0 886.9 415.4ZM795.3 513.2A2.4 1.8 4 1 0 790.5 512.8A2.4 1.8 4 1 0 795.3 513.2ZM791.5 365.7A2.1 1.9 171 1 0 795.7 365.0A2.1 1.9 171 1 0 791.5 365.7ZM814.0 502.5A2.3 1.8 35 1 0 810.3 499.9A2.3 1.8 35 1 0 814.0 502.5ZM955.5 434.6A2.7 2.4 94 1 0 955.9 429.1A2.7 2.4 94 1 0 955.5 434.6ZM855.3 481.4A2.6 2.0 53 1 0 852.2 477.3A2.6 2.0 53 1 0 855.3 481.4ZM775.1 361.3A3.4 2.6 3 1 0 768.4 360.9A3.4 2.6 3 1 0 775.1 361.3ZM777.7 449.0A2.6 2.5 162 1 0 782.7 447.5A2.6 2.5 162 1 0 777.7 449.0Z" fill="#7a6468" fill-opacity="0.5"/>
<path d="M738.32,333.9 C741.02,335.13 744.46,337.58 750.11,341.27 C755.76,344.95 764.11,353.06 772.22,356.01 C780.32,358.95 790.15,357.97 798.74,358.95 C807.34,359.94 817.17,360.67 823.8,361.9 C830.43,363.13 836.33,364.36 838.54,366.32 C840.75,368.29 840.75,371.97 837.06,373.69 C833.38,375.41 822.82,376.39 816.43,376.64 C810.04,376.89 806.11,376.89 798.74,375.17 C791.38,373.45 780.32,369.76 772.22,366.32 C764.11,362.88 756.49,357.97 750.11,354.53 C743.72,351.09 736.6,349.13 733.9,345.69 C731.19,342.25 733.16,335.86 733.9,333.9 C734.63,331.93 735.61,332.67 738.32,333.9 Z" fill="#f7f3f1"/>
<path d="M854.75,347.16 C857.45,345.93 869.98,343.23 872.44,343.48 C874.89,343.72 872.19,347.41 869.49,348.64 C866.79,349.86 858.68,351.09 856.22,350.85 C853.77,350.6 852.05,348.39 854.75,347.16 Z" fill="#f7f3f1"/>
<path d="M904.86,409.06 C908.3,408.33 917.88,409.06 924.02,412.01 C930.16,414.96 936.06,422.08 941.71,426.75 C947.36,431.42 951.29,436.58 957.92,440.01 C964.55,443.45 977.57,444.19 981.5,447.38 C985.43,450.58 985.68,458.44 981.5,459.17 C977.32,459.91 963.81,455.24 956.45,451.81 C949.08,448.37 943.43,443.45 937.29,438.54 C931.14,433.63 925.25,426.01 919.6,422.33 C913.95,418.64 905.84,418.64 903.39,416.43 C900.93,414.22 901.42,409.8 904.86,409.06 Z" fill="#f7f3f1"/>
<path d="M957.92,356.01 C960.87,355.27 977.57,355.51 981.5,361.9 C985.43,368.29 983.47,390.89 981.5,394.33 C979.54,397.76 972.66,387.2 969.71,382.54 C966.76,377.87 965.78,370.74 963.81,366.32 C961.85,361.9 954.97,356.74 957.92,356.01 Z" fill="#f7f3f1"/>
<path d="M733.9,428.22 C736.6,418.89 746.42,427.49 750.11,429.7 C753.79,431.91 755.02,433.63 756,441.49 C756.99,449.35 756.74,469.25 756,476.86 C755.27,484.48 755.27,485.7 751.58,487.18 C747.9,488.65 736.84,495.53 733.9,485.7 C730.95,475.88 731.19,437.56 733.9,428.22 Z" fill="#f7f3f1"/>
<path d="M831.17,506.34 C831.91,503.14 836.33,495.53 840.01,494.55 C843.7,493.56 848.61,496.02 853.28,500.44 C857.94,504.86 863.59,512.23 868.01,521.08 C872.44,529.92 882.02,548.1 879.81,553.5 C877.59,558.9 860.89,557.68 854.75,553.5 C848.61,549.32 846.15,535.08 842.96,528.45 C839.77,521.81 837.56,517.39 835.59,513.71 C833.63,510.02 830.43,509.53 831.17,506.34 Z" fill="#f7f3f1"/>
<path d="M860.65,417.91 C862.86,413.98 865.56,400.71 869.49,394.33 C873.42,387.94 878.33,385.48 884.23,379.59 C890.12,373.69 900.68,365.34 904.86,358.95 C909.04,352.57 909.77,343.72 909.28,341.27 C908.79,338.81 905.11,339.79 901.91,344.22 C898.72,348.64 895.04,361.41 890.12,367.8 C885.21,374.18 877.84,376.64 872.44,382.54 C867.03,388.43 860.4,397.27 857.7,403.17 C855,409.06 855.73,415.45 856.22,417.91 C856.72,420.36 858.43,421.84 860.65,417.91 Z" fill="#eae3e0"/>
<ellipse cx="934.34" cy="313.26" rx="10.32" ry="7.37" fill="#f7f3f1"/>
<rect x="734.6" y="307.1" width="243.2" height="242" filter="url(#tex)" style="mix-blend-mode:soft-light" opacity="0.35"/>
</g>
<rect x="734.6" y="307.1" width="243.2" height="242" fill="none" stroke="#000" stroke-width="2"/>
<line x1="912.2" y1="537.6" x2="963.8" y2="537.6" stroke="#1a0f0f" stroke-width="2.6"/>
<clipPath id="clipp5"><rect x="1417.9" y="55.2" width="244.7" height="245.4"/></clipPath>
<g clip-path="url(#clipp5)">
<rect x="1417.9" y="55.2" width="244.7" height="245.4" fill="#dfdadc"/>
<path d="M1432.2 253.5A3.2 2.7 171 1 0 1438.5 252.5A3.2 2.7 171 1 0 1432.2 253.5ZM1509.4 211.7A2.7 2.3 128 1 0 1512.8 207.5A2.7 2.3 128 1 0 1509.4 211.7ZM1615.8 138.3A2.9 2.3 173 1 0 1621.5 137.6A2.9 2.3 173 1 0 1615.8 138.3ZM1495.4 209.7A3.0 2.5 125 1 0 1498.9 204.8A3.0 2.5 125 1 0 1495.4 209.7ZM1455.7 93.6A2.1 1.7 5 1 0 1451.5 93.1A2.1 1.7 5 1 0 1455.7 93.6ZM1579.0 86.5A1.9 1.3 98 1 0 1579.6 82.8A1.9 1.3 98 1 0 1579.0 86.5ZM1591.9 288.4A2.0 1.1 154 1 0 1595.4 286.7A2.0 1.1 154 1 0 1591.9 288.4ZM1563.4 283.2A2.7 1.7 65 1 0 1561.1 278.2A2.7 1.7 65 1 0 1563.4 283.2ZM1469.6 166.3A2.1 1.8 161 1 0 1473.5 165.0A2.1 1.8 161 1 0 1469.6 166.3ZM1461.3 301.8A3.1 2.2 157 1 0 1467.1 299.3A3.1 2.2 157 1 0 1461.3 301.8ZM1647.8 236.9A2.2 1.7 138 1 0 1651.0 234.0A2.2 1.7 138 1 0 1647.8 236.9ZM1499.6 172.9A1.7 1.1 143 1 0 1502.4 170.8A1.7 1.1 143 1 0 1499.6 172.9ZM1494.8 229.4A2.3 1.9 51 1 0 1492.0 225.8A2.3 1.9 51 1 0 1494.8 229.4ZM1439.4 221.0A2.0 1.3 83 1 0 1438.9 217.0A2.0 1.3 83 1 0 1439.4 221.0ZM1539.8 276.4A2.7 2.0 79 1 0 1538.8 271.1A2.7 2.0 79 1 0 1539.8 276.4ZM1562.6 87.4A2.1 1.6 169 1 0 1566.7 86.6A2.1 1.6 169 1 0 1562.6 87.4ZM1567.4 108.7A3.1 2.7 40 1 0 1562.6 104.7A3.1 2.7 40 1 0 1567.4 108.7ZM1505.6 64.9A2.8 1.8 148 1 0 1510.4 62.0A2.8 1.8 148 1 0 1505.6 64.9ZM1596.0 246.0A2.5 1.6 6 1 0 1591.0 245.4A2.5 1.6 6 1 0 1596.0 246.0ZM1565.5 59.5A2.4 2.1 25 1 0 1561.2 57.4A2.4 2.1 25 1 0 1565.5 59.5ZM1524.2 189.7A1.8 1.2 109 1 0 1525.4 186.3A1.8 1.2 109 1 0 1524.2 189.7ZM1458.5 93.2A2.0 1.8 161 1 0 1462.2 91.9A2.0 1.8 161 1 0 1458.5 93.2ZM1446.7 197.4A2.3 1.3 45 1 0 1443.6 194.2A2.3 1.3 45 1 0 1446.7 197.4ZM1578.5 62.8A3.1 2.1 62 1 0 1575.6 57.2A3.1 2.1 62 1 0 1578.5 62.8ZM1651.1 90.9A1.8 1.3 56 1 0 1649.1 87.9A1.8 1.3 56 1 0 1651.1 90.9ZM1499.0 198.6A3.1 2.2 7 1 0 1492.9 197.8A3.1 2.2 7 1 0 1499.0 198.6ZM1510.8 266.1A2.3 1.3 44 1 0 1507.5 262.8A2.3 1.3 44 1 0 1510.8 266.1ZM1472.1 142.9A2.1 1.7 129 1 0 1474.7 139.6A2.1 1.7 129 1 0 1472.1 142.9ZM1426.5 92.7A2.9 2.6 141 1 0 1431.1 89.1A2.9 2.6 141 1 0 1426.5 92.7ZM1462.6 226.3A1.7 1.4 39 1 0 1460.0 224.1A1.7 1.4 39 1 0 1462.6 226.3ZM1621.1 262.6A2.3 2.0 170 1 0 1625.7 261.7A2.3 2.0 170 1 0 1621.1 262.6ZM1635.0 216.2A2.6 1.8 123 1 0 1637.9 211.9A2.6 1.8 123 1 0 1635.0 216.2ZM1451.5 169.1A1.7 1.0 120 1 0 1453.2 166.1A1.7 1.0 120 1 0 1451.5 169.1ZM1521.8 109.2A3.1 2.1 97 1 0 1522.6 103.0A3.1 2.1 97 1 0 1521.8 109.2ZM1534.9 101.6A3.2 2.7 160 1 0 1540.9 99.4A3.2 2.7 160 1 0 1534.9 101.6ZM1493.8 280.4A3.1 2.8 32 1 0 1488.6 277.1A3.1 2.8 32 1 0 1493.8 280.4ZM1457.7 75.9A1.7 1.4 9 1 0 1454.3 75.4A1.7 1.4 9 1 0 1457.7 75.9ZM1529.8 144.5A2.8 1.6 129 1 0 1533.4 140.2A2.8 1.6 129 1 0 1529.8 144.5ZM1653.6 129.9A2.2 1.9 54 1 0 1651.1 126.2A2.2 1.9 54 1 0 1653.6 129.9ZM1626.8 300.6A2.0 1.4 26 1 0 1623.2 298.8A2.0 1.4 26 1 0 1626.8 300.6ZM1551.2 151.8A3.2 2.7 178 1 0 1557.5 151.7A3.2 2.7 178 1 0 1551.2 151.8ZM1618.3 258.4A2.2 1.8 20 1 0 1614.1 256.8A2.2 1.8 20 1 0 1618.3 258.4ZM1503.1 284.4A3.2 2.0 89 1 0 1503.0 278.1A3.2 2.0 89 1 0 1503.1 284.4ZM1514.6 208.3A2.5 1.7 158 1 0 1519.4 206.4A2.5 1.7 158 1 0 1514.6 208.3ZM1527.9 248.3A2.8 2.6 92 1 0 1528.1 242.8A2.8 2.6 92 1 0 1527.9 248.3ZM1560.4 245.7A2.0 1.1 146 1 0 1563.6 243.5A2.0 1.1 146 1 0 1560.4 245.7ZM1585.1 240.3A2.9 1.8 158 1 0 1590.4 238.1A2.9 1.8 158 1 0 1585.1 240.3ZM1577.0 287.4A2.5 2.2 10 1 0 1572.1 286.5A2.5 2.2 10 1 0 1577.0 287.4ZM1461.0 191.5A2.7 1.9 12 1 0 1455.8 190.3A2.7 1.9 12 1 0 1461.0 191.5ZM1632.9 75.2A3.0 1.9 127 1 0 1636.5 70.4A3.0 1.9 127 1 0 1632.9 75.2ZM1562.8 115.3A2.1 1.4 95 1 0 1563.2 111.1A2.1 1.4 95 1 0 1562.8 115.3ZM1484.7 190.3A2.1 1.2 125 1 0 1487.1 187.0A2.1 1.2 125 1 0 1484.7 190.3ZM1480.5 289.7A2.2 1.5 129 1 0 1483.3 286.3A2.2 1.5 129 1 0 1480.5 289.7ZM1635.7 146.1A2.8 1.9 178 1 0 1641.2 146.0A2.8 1.9 178 1 0 1635.7 146.1ZM1490.7 65.7A1.6 1.2 112 1 0 1492.0 62.7A1.6 1.2 112 1 0 1490.7 65.7ZM1489.8 158.1A2.3 1.6 34 1 0 1486.1 155.5A2.3 1.6 34 1 0 1489.8 158.1ZM1552.3 219.9A1.6 1.5 46 1 0 1550.0 217.5A1.6 1.5 46 1 0 1552.3 219.9ZM1533.5 111.2A2.7 1.9 104 1 0 1534.9 106.0A2.7 1.9 104 1 0 1533.5 111.2ZM1518.1 181.6A1.7 1.6 76 1 0 1517.3 178.2A1.7 1.6 76 1 0 1518.1 181.6ZM1499.4 265.0A2.1 1.8 76 1 0 1498.4 261.0A2.1 1.8 76 1 0 1499.4 265.0ZM1444.4 196.2A2.0 1.3 178 1 0 1448.5 196.1A2.0 1.3 178 1 0 1444.4 196.2ZM1648.9 173.3A2.9 2.4 54 1 0 1645.5 168.6A2.9 2.4 54 1 0 1648.9 173.3ZM1449.0 199.7A1.9 1.6 107 1 0 1450.1 196.0A1.9 1.6 107 1 0 1449.0 199.7ZM1468.6 246.1A3.1 2.3 174 1 0 1474.9 245.5A3.1 2.3 174 1 0 1468.6 246.1ZM1525.7 60.1A2.3 1.6 165 1 0 1530.2 58.9A2.3 1.6 165 1 0 1525.7 60.1ZM1547.6 291.0A1.9 1.3 2 1 0 1543.9 290.9A1.9 1.3 2 1 0 1547.6 291.0ZM1430.8 231.3A1.7 1.1 78 1 0 1430.1 228.1A1.7 1.1 78 1 0 1430.8 231.3ZM1642.3 114.4A1.6 1.3 125 1 0 1644.2 111.8A1.6 1.3 125 1 0 1642.3 114.4ZM1449.3 284.5A3.0 2.8 148 1 0 1454.4 281.4A3.0 2.8 148 1 0 1449.3 284.5ZM1552.5 228.9A1.8 1.5 63 1 0 1550.9 225.7A1.8 1.5 63 1 0 1552.5 228.9ZM1498.8 133.2A1.7 1.5 137 1 0 1501.3 130.8A1.7 1.5 137 1 0 1498.8 133.2ZM1421.6 181.9A1.6 1.3 30 1 0 1418.8 180.3A1.6 1.3 30 1 0 1421.6 181.9ZM1650.7 134.2A2.4 1.6 162 1 0 1655.3 132.7A2.4 1.6 162 1 0 1650.7 134.2ZM1420.7 131.3A2.0 1.7 66 1 0 1419.2 127.7A2.0 1.7 66 1 0 1420.7 131.3ZM1630.5 136.1A1.8 1.3 15 1 0 1627.0 135.1A1.8 1.3 15 1 0 1630.5 136.1ZM1457.3 184.9A2.5 1.6 32 1 0 1453.0 182.2A2.5 1.6 32 1 0 1457.3 184.9ZM1547.7 165.5A2.4 1.9 25 1 0 1543.4 163.5A2.4 1.9 25 1 0 1547.7 165.5ZM1423.3 72.4A2.9 2.4 27 1 0 1418.2 69.8A2.9 2.4 27 1 0 1423.3 72.4ZM1496.8 133.2A3.1 2.2 128 1 0 1500.7 128.4A3.1 2.2 128 1 0 1496.8 133.2ZM1439.2 67.3A2.0 1.6 80 1 0 1438.6 63.4A2.0 1.6 80 1 0 1439.2 67.3ZM1628.7 257.3A2.7 2.5 172 1 0 1634.0 256.7A2.7 2.5 172 1 0 1628.7 257.3ZM1633.2 79.2A2.2 1.4 110 1 0 1634.7 75.0A2.2 1.4 110 1 0 1633.2 79.2ZM1540.8 79.5A1.7 1.3 112 1 0 1542.2 76.3A1.7 1.3 112 1 0 1540.8 79.5ZM1515.7 173.1A2.6 2.2 127 1 0 1518.8 168.9A2.6 2.2 127 1 0 1515.7 173.1ZM1521.9 99.2A3.0 1.7 37 1 0 1517.1 95.6A3.0 1.7 37 1 0 1521.9 99.2ZM1464.4 203.6A2.6 1.5 92 1 0 1464.6 198.4A2.6 1.5 92 1 0 1464.4 203.6ZM1559.7 225.0A1.7 1.4 48 1 0 1557.4 222.4A1.7 1.4 48 1 0 1559.7 225.0ZM1509.6 87.4A2.9 2.3 146 1 0 1514.5 84.1A2.9 2.3 146 1 0 1509.6 87.4ZM1546.0 83.0A2.2 1.3 17 1 0 1541.7 81.6A2.2 1.3 17 1 0 1546.0 83.0ZM1613.6 56.7A2.2 1.3 137 1 0 1616.8 53.7A2.2 1.3 137 1 0 1613.6 56.7ZM1661.9 64.8A2.2 2.1 45 1 0 1658.8 61.7A2.2 2.1 45 1 0 1661.9 64.8ZM1492.2 300.1A3.1 2.2 120 1 0 1495.3 294.8A3.1 2.2 120 1 0 1492.2 300.1ZM1611.3 143.5A1.6 1.1 124 1 0 1613.1 140.9A1.6 1.1 124 1 0 1611.3 143.5ZM1653.1 165.7A2.3 1.6 109 1 0 1654.6 161.5A2.3 1.6 109 1 0 1653.1 165.7ZM1426.5 279.3A3.1 1.8 1 1 0 1420.2 279.2A3.1 1.8 1 1 0 1426.5 279.3ZM1494.3 93.8A2.8 2.5 98 1 0 1495.1 88.2A2.8 2.5 98 1 0 1494.3 93.8ZM1649.2 113.1A1.9 1.3 81 1 0 1648.6 109.3A1.9 1.3 81 1 0 1649.2 113.1ZM1468.5 283.1A2.8 1.9 40 1 0 1464.2 279.4A2.8 1.9 40 1 0 1468.5 283.1ZM1484.7 152.6A2.6 2.3 170 1 0 1489.9 151.8A2.6 2.3 170 1 0 1484.7 152.6ZM1438.0 105.4A2.2 2.1 82 1 0 1437.4 101.0A2.2 2.1 82 1 0 1438.0 105.4ZM1592.1 260.2A2.3 1.6 139 1 0 1595.6 257.2A2.3 1.6 139 1 0 1592.1 260.2ZM1574.6 300.9A2.0 1.9 87 1 0 1574.5 296.8A2.0 1.9 87 1 0 1574.6 300.9ZM1632.9 213.2A2.5 2.2 14 1 0 1628.1 211.9A2.5 2.2 14 1 0 1632.9 213.2ZM1484.3 176.7A2.9 1.8 140 1 0 1488.8 173.0A2.9 1.8 140 1 0 1484.3 176.7ZM1439.3 143.5A2.3 2.0 94 1 0 1439.6 138.8A2.3 2.0 94 1 0 1439.3 143.5ZM1626.5 227.3A2.2 1.7 70 1 0 1625.0 223.1A2.2 1.7 70 1 0 1626.5 227.3ZM1632.7 131.1A1.9 1.2 45 1 0 1630.1 128.4A1.9 1.2 45 1 0 1632.7 131.1ZM1614.1 224.4A2.0 1.4 161 1 0 1617.9 223.1A2.0 1.4 161 1 0 1614.1 224.4ZM1649.9 109.9A3.1 1.8 179 1 0 1656.1 109.8A3.1 1.8 179 1 0 1649.9 109.9ZM1494.8 289.8A1.7 1.4 166 1 0 1498.0 289.0A1.7 1.4 166 1 0 1494.8 289.8ZM1616.8 195.9A1.8 1.2 169 1 0 1620.4 195.3A1.8 1.2 169 1 0 1616.8 195.9ZM1631.2 111.2A2.2 1.7 54 1 0 1628.7 107.7A2.2 1.7 54 1 0 1631.2 111.2ZM1470.6 270.1A1.8 1.4 73 1 0 1469.6 266.7A1.8 1.4 73 1 0 1470.6 270.1ZM1535.8 269.2A2.8 2.4 2 1 0 1530.2 268.9A2.8 2.4 2 1 0 1535.8 269.2ZM1615.1 250.9A1.6 1.0 131 1 0 1617.2 248.5A1.6 1.0 131 1 0 1615.1 250.9ZM1632.7 189.7A3.0 1.8 46 1 0 1628.6 185.3A3.0 1.8 46 1 0 1632.7 189.7ZM1619.0 251.9A2.0 1.5 78 1 0 1618.2 248.0A2.0 1.5 78 1 0 1619.0 251.9ZM1597.4 154.7A2.1 1.8 125 1 0 1599.9 151.2A2.1 1.8 125 1 0 1597.4 154.7ZM1508.1 231.6A2.0 1.5 33 1 0 1504.7 229.3A2.0 1.5 33 1 0 1508.1 231.6ZM1502.8 159.5A1.7 1.2 63 1 0 1501.2 156.3A1.7 1.2 63 1 0 1502.8 159.5ZM1499.7 182.0A3.0 2.7 53 1 0 1496.1 177.1A3.0 2.7 53 1 0 1499.7 182.0ZM1448.8 79.0A3.0 2.6 132 1 0 1452.9 74.6A3.0 2.6 132 1 0 1448.8 79.0ZM1640.6 155.4A1.9 1.1 71 1 0 1639.5 151.9A1.9 1.1 71 1 0 1640.6 155.4ZM1607.7 77.5A2.3 1.3 38 1 0 1604.1 74.7A2.3 1.3 38 1 0 1607.7 77.5ZM1555.7 216.8A3.1 2.1 41 1 0 1551.0 212.6A3.1 2.1 41 1 0 1555.7 216.8ZM1434.5 101.9A1.7 0.9 20 1 0 1431.4 100.7A1.7 0.9 20 1 0 1434.5 101.9ZM1552.1 168.1A3.1 2.3 15 1 0 1546.3 166.5A3.1 2.3 15 1 0 1552.1 168.1ZM1456.0 229.2A3.2 2.7 42 1 0 1451.3 225.0A3.2 2.7 42 1 0 1456.0 229.2ZM1504.5 163.6A2.3 1.5 27 1 0 1500.4 161.5A2.3 1.5 27 1 0 1504.5 163.6ZM1425.5 274.1A3.2 3.0 68 1 0 1423.2 268.2A3.2 3.0 68 1 0 1425.5 274.1ZM1587.0 107.5A1.8 1.0 59 1 0 1585.2 104.4A1.8 1.0 59 1 0 1587.0 107.5ZM1612.9 186.6A2.0 1.5 97 1 0 1613.4 182.7A2.0 1.5 97 1 0 1612.9 186.6ZM1462.6 165.2A3.1 2.3 178 1 0 1468.8 165.0A3.1 2.3 178 1 0 1462.6 165.2ZM1595.4 89.8A3.1 2.5 79 1 0 1594.3 83.7A3.1 2.5 79 1 0 1595.4 89.8ZM1465.8 217.7A1.9 1.4 27 1 0 1462.4 215.9A1.9 1.4 27 1 0 1465.8 217.7ZM1518.2 294.9A2.6 1.9 111 1 0 1520.0 290.2A2.6 1.9 111 1 0 1518.2 294.9ZM1577.4 205.0A2.1 1.3 109 1 0 1578.8 201.1A2.1 1.3 109 1 0 1577.4 205.0ZM1644.7 271.4A2.4 1.6 105 1 0 1646.0 266.9A2.4 1.6 105 1 0 1644.7 271.4ZM1432.1 177.9A2.9 2.7 16 1 0 1426.6 176.3A2.9 2.7 16 1 0 1432.1 177.9ZM1469.3 173.8A2.6 2.4 19 1 0 1464.5 172.1A2.6 2.4 19 1 0 1469.3 173.8ZM1450.5 176.8A2.9 1.6 68 1 0 1448.4 171.5A2.9 1.6 68 1 0 1450.5 176.8ZM1590.5 159.7A1.9 1.1 136 1 0 1593.2 157.1A1.9 1.1 136 1 0 1590.5 159.7ZM1543.6 189.8A2.7 2.3 72 1 0 1541.9 184.7A2.7 2.3 72 1 0 1543.6 189.8ZM1507.5 282.4A1.7 1.5 82 1 0 1507.1 279.0A1.7 1.5 82 1 0 1507.5 282.4ZM1549.9 119.3A3.1 2.1 57 1 0 1546.6 114.1A3.1 2.1 57 1 0 1549.9 119.3ZM1435.1 275.3A2.9 1.7 26 1 0 1429.8 272.7A2.9 1.7 26 1 0 1435.1 275.3ZM1486.9 64.1A2.4 2.1 129 1 0 1490.0 60.4A2.4 2.1 129 1 0 1486.9 64.1ZM1542.4 297.0A2.1 1.4 47 1 0 1539.6 293.9A2.1 1.4 47 1 0 1542.4 297.0ZM1563.6 169.8A1.8 1.3 173 1 0 1567.2 169.4A1.8 1.3 173 1 0 1563.6 169.8ZM1632.6 211.2A3.0 2.2 89 1 0 1632.5 205.3A3.0 2.2 89 1 0 1632.6 211.2ZM1589.7 106.8A2.5 1.9 53 1 0 1586.7 102.7A2.5 1.9 53 1 0 1589.7 106.8ZM1540.0 101.5A2.6 1.6 80 1 0 1539.2 96.3A2.6 1.6 80 1 0 1540.0 101.5ZM1433.3 187.8A1.8 1.5 3 1 0 1429.8 187.6A1.8 1.5 3 1 0 1433.3 187.8ZM1618.1 129.9A3.1 2.1 26 1 0 1612.5 127.2A3.1 2.1 26 1 0 1618.1 129.9ZM1583.7 117.1A2.9 2.1 48 1 0 1579.8 112.8A2.9 2.1 48 1 0 1583.7 117.1ZM1564.0 111.3A2.0 1.2 42 1 0 1561.0 108.6A2.0 1.2 42 1 0 1564.0 111.3ZM1470.8 96.4A2.3 1.7 107 1 0 1472.1 92.1A2.3 1.7 107 1 0 1470.8 96.4ZM1550.5 223.8A2.6 1.9 153 1 0 1555.1 221.5A2.6 1.9 153 1 0 1550.5 223.8ZM1451.0 123.2A1.6 1.5 158 1 0 1454.0 122.1A1.6 1.5 158 1 0 1451.0 123.2ZM1515.3 262.8A2.5 2.3 162 1 0 1520.0 261.2A2.5 2.3 162 1 0 1515.3 262.8ZM1499.2 125.9A2.3 2.1 84 1 0 1498.8 121.4A2.3 2.1 84 1 0 1499.2 125.9ZM1507.0 63.2A2.2 2.0 75 1 0 1505.9 58.9A2.2 2.0 75 1 0 1507.0 63.2ZM1612.4 278.4A3.1 2.6 89 1 0 1612.4 272.2A3.1 2.6 89 1 0 1612.4 278.4ZM1494.1 286.5A2.9 2.4 10 1 0 1488.4 285.5A2.9 2.4 10 1 0 1494.1 286.5ZM1576.8 226.3A1.8 1.2 81 1 0 1576.3 222.7A1.8 1.2 81 1 0 1576.8 226.3ZM1481.8 81.6A1.8 1.4 2 1 0 1478.1 81.4A1.8 1.4 2 1 0 1481.8 81.6ZM1613.1 159.3A2.0 1.3 56 1 0 1610.9 155.8A2.0 1.3 56 1 0 1613.1 159.3ZM1563.9 232.9A2.3 1.9 103 1 0 1564.9 228.5A2.3 1.9 103 1 0 1563.9 232.9ZM1617.7 236.6A2.8 1.6 63 1 0 1615.2 231.5A2.8 1.6 63 1 0 1617.7 236.6ZM1447.1 260.6A1.9 1.7 61 1 0 1445.3 257.3A1.9 1.7 61 1 0 1447.1 260.6ZM1455.5 228.2A1.9 1.3 78 1 0 1454.8 224.5A1.9 1.3 78 1 0 1455.5 228.2ZM1570.3 182.5A2.7 2.3 174 1 0 1575.6 182.0A2.7 2.3 174 1 0 1570.3 182.5ZM1567.7 161.1A2.4 1.6 150 1 0 1571.9 158.7A2.4 1.6 150 1 0 1567.7 161.1ZM1548.9 227.1A2.9 2.4 159 1 0 1554.3 225.1A2.9 2.4 159 1 0 1548.9 227.1ZM1526.4 227.8A3.0 2.2 147 1 0 1531.5 224.6A3.0 2.2 147 1 0 1526.4 227.8ZM1483.3 94.6A3.0 2.3 173 1 0 1489.2 93.9A3.0 2.3 173 1 0 1483.3 94.6ZM1565.6 119.8A1.8 1.6 45 1 0 1563.1 117.2A1.8 1.6 45 1 0 1565.6 119.8ZM1461.1 185.2A2.7 2.1 8 1 0 1455.6 184.4A2.7 2.1 8 1 0 1461.1 185.2ZM1609.2 223.0A2.1 1.9 89 1 0 1609.1 218.8A2.1 1.9 89 1 0 1609.2 223.0ZM1604.6 79.3A2.1 1.8 123 1 0 1606.9 75.8A2.1 1.8 123 1 0 1604.6 79.3ZM1591.2 225.5A1.6 1.5 7 1 0 1588.0 225.1A1.6 1.5 7 1 0 1591.2 225.5ZM1477.7 131.8A2.4 1.4 77 1 0 1476.7 127.1A2.4 1.4 77 1 0 1477.7 131.8ZM1450.4 138.7A2.2 1.3 144 1 0 1453.9 136.2A2.2 1.3 144 1 0 1450.4 138.7ZM1422.4 105.0A3.0 2.2 170 1 0 1428.4 104.0A3.0 2.2 170 1 0 1422.4 105.0ZM1490.7 182.6A2.4 1.7 178 1 0 1495.6 182.4A2.4 1.7 178 1 0 1490.7 182.6ZM1514.1 251.9A2.4 1.7 152 1 0 1518.4 249.7A2.4 1.7 152 1 0 1514.1 251.9ZM1643.9 61.5A2.6 2.2 91 1 0 1644.1 56.4A2.6 2.2 91 1 0 1643.9 61.5ZM1518.3 232.8A1.9 1.4 36 1 0 1515.3 230.6A1.9 1.4 36 1 0 1518.3 232.8ZM1629.1 250.2A2.2 1.9 97 1 0 1629.7 245.8A2.2 1.9 97 1 0 1629.1 250.2ZM1575.2 113.9A2.8 2.3 179 1 0 1580.9 113.9A2.8 2.3 179 1 0 1575.2 113.9ZM1480.0 155.8A2.8 1.9 137 1 0 1484.2 152.0A2.8 1.9 137 1 0 1480.0 155.8ZM1627.6 98.0A2.8 1.8 49 1 0 1624.0 93.9A2.8 1.8 49 1 0 1627.6 98.0ZM1502.6 248.5A2.6 1.8 122 1 0 1505.5 244.1A2.6 1.8 122 1 0 1502.6 248.5ZM1615.3 106.1A3.0 2.3 114 1 0 1617.7 100.6A3.0 2.3 114 1 0 1615.3 106.1ZM1630.8 107.8A2.3 2.0 2 1 0 1626.1 107.5A2.3 2.0 2 1 0 1630.8 107.8ZM1511.7 189.3A2.3 1.7 150 1 0 1515.7 187.0A2.3 1.7 150 1 0 1511.7 189.3ZM1446.0 233.9A2.1 1.2 83 1 0 1445.6 229.8A2.1 1.2 83 1 0 1446.0 233.9ZM1451.2 168.6A1.9 1.4 24 1 0 1447.8 167.0A1.9 1.4 24 1 0 1451.2 168.6ZM1660.5 108.6A2.3 1.8 121 1 0 1662.9 104.6A2.3 1.8 121 1 0 1660.5 108.6ZM1450.0 265.4A2.2 1.3 77 1 0 1449.1 261.1A2.2 1.3 77 1 0 1450.0 265.4ZM1567.8 145.3A2.8 1.9 146 1 0 1572.5 142.3A2.8 1.9 146 1 0 1567.8 145.3ZM1646.0 257.3A1.7 1.2 95 1 0 1646.3 254.0A1.7 1.2 95 1 0 1646.0 257.3ZM1513.8 102.0A2.5 1.5 30 1 0 1509.4 99.5A2.5 1.5 30 1 0 1513.8 102.0ZM1519.1 301.7A2.2 2.1 121 1 0 1521.4 297.9A2.2 2.1 121 1 0 1519.1 301.7ZM1576.3 282.0A2.5 2.1 84 1 0 1575.9 276.9A2.5 2.1 84 1 0 1576.3 282.0ZM1614.2 270.1A1.6 1.5 5 1 0 1611.0 269.8A1.6 1.5 5 1 0 1614.2 270.1ZM1577.1 74.2A2.8 2.0 24 1 0 1572.0 71.9A2.8 2.0 24 1 0 1577.1 74.2ZM1623.6 118.9A3.0 2.1 100 1 0 1624.7 112.9A3.0 2.1 100 1 0 1623.6 118.9ZM1528.5 243.5A2.2 1.6 41 1 0 1525.2 240.6A2.2 1.6 41 1 0 1528.5 243.5ZM1499.3 84.0A2.0 1.3 124 1 0 1501.6 80.6A2.0 1.3 124 1 0 1499.3 84.0ZM1456.5 93.8A3.2 2.5 15 1 0 1450.4 92.1A3.2 2.5 15 1 0 1456.5 93.8ZM1629.3 244.1A2.6 2.4 96 1 0 1629.8 238.9A2.6 2.4 96 1 0 1629.3 244.1ZM1451.7 59.8A1.7 1.3 99 1 0 1452.2 56.3A1.7 1.3 99 1 0 1451.7 59.8ZM1622.6 74.1A1.7 1.0 65 1 0 1621.2 70.9A1.7 1.0 65 1 0 1622.6 74.1ZM1648.3 247.7A1.7 1.3 32 1 0 1645.5 245.9A1.7 1.3 32 1 0 1648.3 247.7ZM1474.5 135.4A2.0 1.3 40 1 0 1471.4 132.8A2.0 1.3 40 1 0 1474.5 135.4ZM1503.6 202.1A2.5 2.1 50 1 0 1500.5 198.3A2.5 2.1 50 1 0 1503.6 202.1ZM1425.1 197.6A2.1 1.3 73 1 0 1424.0 193.5A2.1 1.3 73 1 0 1425.1 197.6ZM1649.1 204.9A2.7 1.6 97 1 0 1649.8 199.5A2.7 1.6 97 1 0 1649.1 204.9ZM1586.4 267.5A2.8 1.6 177 1 0 1592.0 267.3A2.8 1.6 177 1 0 1586.4 267.5ZM1419.6 244.6A2.4 2.2 170 1 0 1424.2 243.8A2.4 2.2 170 1 0 1419.6 244.6ZM1601.4 78.1A2.6 1.6 76 1 0 1600.1 73.0A2.6 1.6 76 1 0 1601.4 78.1ZM1451.3 129.6A1.7 1.3 16 1 0 1448.0 128.7A1.7 1.3 16 1 0 1451.3 129.6ZM1475.6 246.8A2.1 1.6 155 1 0 1479.4 245.1A2.1 1.6 155 1 0 1475.6 246.8ZM1576.2 257.9A3.1 2.0 33 1 0 1571.0 254.5A3.1 2.0 33 1 0 1576.2 257.9ZM1663.2 281.0A2.1 1.9 15 1 0 1659.2 279.8A2.1 1.9 15 1 0 1663.2 281.0ZM1474.8 268.3A1.8 1.6 40 1 0 1472.1 266.0A1.8 1.6 40 1 0 1474.8 268.3ZM1605.9 88.8A2.4 1.9 100 1 0 1606.7 84.1A2.4 1.9 100 1 0 1605.9 88.8ZM1628.9 66.5A2.7 2.4 93 1 0 1629.2 61.1A2.7 2.4 93 1 0 1628.9 66.5ZM1473.8 252.4A2.3 1.5 139 1 0 1477.3 249.4A2.3 1.5 139 1 0 1473.8 252.4ZM1607.2 257.7A2.4 1.3 4 1 0 1602.5 257.3A2.4 1.3 4 1 0 1607.2 257.7ZM1551.0 65.9A2.6 1.6 139 1 0 1555.0 62.5A2.6 1.6 139 1 0 1551.0 65.9ZM1422.9 226.5A2.0 1.9 85 1 0 1422.6 222.6A2.0 1.9 85 1 0 1422.9 226.5ZM1545.6 265.2A2.1 1.9 53 1 0 1543.1 262.0A2.1 1.9 53 1 0 1545.6 265.2ZM1429.1 124.3A2.2 1.7 11 1 0 1424.8 123.4A2.2 1.7 11 1 0 1429.1 124.3ZM1642.0 246.5A2.8 2.6 9 1 0 1636.5 245.6A2.8 2.6 9 1 0 1642.0 246.5ZM1587.4 266.4A1.9 1.3 35 1 0 1584.3 264.2A1.9 1.3 35 1 0 1587.4 266.4ZM1643.5 173.6A2.9 1.9 108 1 0 1645.3 168.1A2.9 1.9 108 1 0 1643.5 173.6ZM1599.7 141.0A2.0 1.2 113 1 0 1601.3 137.2A2.0 1.2 113 1 0 1599.7 141.0ZM1520.2 105.1A2.1 1.4 22 1 0 1516.3 103.5A2.1 1.4 22 1 0 1520.2 105.1ZM1561.1 93.2A1.9 1.4 177 1 0 1565.0 93.1A1.9 1.4 177 1 0 1561.1 93.2ZM1593.0 109.9A3.0 2.7 59 1 0 1590.0 104.8A3.0 2.7 59 1 0 1593.0 109.9ZM1611.7 211.8A2.5 2.3 120 1 0 1614.3 207.6A2.5 2.3 120 1 0 1611.7 211.8ZM1578.8 285.2A2.3 1.4 1 1 0 1574.1 285.1A2.3 1.4 1 1 0 1578.8 285.2ZM1597.0 172.6A3.0 2.8 45 1 0 1592.8 168.3A3.0 2.8 45 1 0 1597.0 172.6ZM1468.3 196.3A1.6 1.0 13 1 0 1465.1 195.5A1.6 1.0 13 1 0 1468.3 196.3ZM1489.3 164.8A1.9 1.6 136 1 0 1492.1 162.2A1.9 1.6 136 1 0 1489.3 164.8ZM1619.8 191.4A2.8 2.4 131 1 0 1623.5 187.2A2.8 2.4 131 1 0 1619.8 191.4ZM1496.8 199.0A2.9 1.9 64 1 0 1494.3 193.7A2.9 1.9 64 1 0 1496.8 199.0ZM1422.0 203.7A1.8 1.3 33 1 0 1419.1 201.7A1.8 1.3 33 1 0 1422.0 203.7ZM1444.8 274.7A2.1 2.0 132 1 0 1447.7 271.5A2.1 2.0 132 1 0 1444.8 274.7ZM1563.9 175.5A2.6 2.3 34 1 0 1559.5 172.5A2.6 2.3 34 1 0 1563.9 175.5ZM1548.7 122.5A1.9 1.2 141 1 0 1551.7 120.2A1.9 1.2 141 1 0 1548.7 122.5ZM1647.4 162.9A1.9 1.2 55 1 0 1645.2 159.8A1.9 1.2 55 1 0 1647.4 162.9ZM1507.9 274.4A2.4 1.8 112 1 0 1509.8 269.9A2.4 1.8 112 1 0 1507.9 274.4ZM1462.6 148.0A2.3 1.3 55 1 0 1459.9 144.3A2.3 1.3 55 1 0 1462.6 148.0ZM1557.4 205.1A2.0 1.2 102 1 0 1558.3 201.2A2.0 1.2 102 1 0 1557.4 205.1ZM1452.7 56.8A3.1 2.6 168 1 0 1458.8 55.6A3.1 2.6 168 1 0 1452.7 56.8ZM1498.8 244.5A3.0 2.4 6 1 0 1492.9 243.9A3.0 2.4 6 1 0 1498.8 244.5ZM1487.0 148.3A2.3 1.8 33 1 0 1483.1 145.8A2.3 1.8 33 1 0 1487.0 148.3ZM1473.8 62.1A2.2 1.3 42 1 0 1470.5 59.1A2.2 1.3 42 1 0 1473.8 62.1ZM1422.0 263.9A2.0 1.5 104 1 0 1422.9 260.1A2.0 1.5 104 1 0 1422.0 263.9ZM1426.8 191.9A2.9 1.9 113 1 0 1429.1 186.6A2.9 1.9 113 1 0 1426.8 191.9ZM1594.1 194.7A2.2 1.6 120 1 0 1596.3 190.9A2.2 1.6 120 1 0 1594.1 194.7ZM1525.5 238.7A2.8 2.4 78 1 0 1524.3 233.2A2.8 2.4 78 1 0 1525.5 238.7ZM1455.7 98.2A2.1 1.6 10 1 0 1451.6 97.5A2.1 1.6 10 1 0 1455.7 98.2ZM1491.8 92.7A2.5 1.5 148 1 0 1496.0 90.1A2.5 1.5 148 1 0 1491.8 92.7ZM1434.3 145.4A2.8 2.5 70 1 0 1432.4 140.1A2.8 2.5 70 1 0 1434.3 145.4ZM1650.7 272.2A2.5 1.7 34 1 0 1646.6 269.4A2.5 1.7 34 1 0 1650.7 272.2ZM1588.7 71.4A2.6 1.7 33 1 0 1584.3 68.4A2.6 1.7 33 1 0 1588.7 71.4ZM1567.3 152.1A1.7 1.0 142 1 0 1569.9 150.0A1.7 1.0 142 1 0 1567.3 152.1ZM1514.2 248.8A2.6 1.4 61 1 0 1511.8 244.3A2.6 1.4 61 1 0 1514.2 248.8ZM1565.7 116.6A1.8 1.7 58 1 0 1563.8 113.6A1.8 1.7 58 1 0 1565.7 116.6ZM1582.3 163.8A3.2 2.0 5 1 0 1575.9 163.2A3.2 2.0 5 1 0 1582.3 163.8ZM1579.3 226.9A2.9 1.7 31 1 0 1574.3 223.8A2.9 1.7 31 1 0 1579.3 226.9ZM1535.8 123.8A1.8 1.1 7 1 0 1532.2 123.3A1.8 1.1 7 1 0 1535.8 123.8ZM1521.7 89.5A1.6 1.0 126 1 0 1523.6 86.9A1.6 1.0 126 1 0 1521.7 89.5ZM1576.7 142.6A2.9 1.6 75 1 0 1575.2 137.0A2.9 1.6 75 1 0 1576.7 142.6ZM1647.0 69.9A1.8 1.4 63 1 0 1645.3 66.6A1.8 1.4 63 1 0 1647.0 69.9ZM1435.3 264.0A2.9 2.2 74 1 0 1433.8 258.4A2.9 2.2 74 1 0 1435.3 264.0ZM1552.0 179.3A2.5 1.7 146 1 0 1556.2 176.5A2.5 1.7 146 1 0 1552.0 179.3ZM1545.1 115.7A2.5 2.2 89 1 0 1545.0 110.6A2.5 2.2 89 1 0 1545.1 115.7ZM1494.7 189.7A2.7 1.7 159 1 0 1499.8 187.8A2.7 1.7 159 1 0 1494.7 189.7ZM1520.2 159.2A2.4 2.1 30 1 0 1516.0 156.7A2.4 2.1 30 1 0 1520.2 159.2ZM1464.3 175.6A1.6 1.2 23 1 0 1461.3 174.4A1.6 1.2 23 1 0 1464.3 175.6ZM1468.5 147.2A3.0 2.4 50 1 0 1464.6 142.5A3.0 2.4 50 1 0 1468.5 147.2ZM1573.0 181.6A1.6 1.2 126 1 0 1574.9 179.1A1.6 1.2 126 1 0 1573.0 181.6ZM1616.0 293.7A1.6 1.2 68 1 0 1614.8 290.7A1.6 1.2 68 1 0 1616.0 293.7ZM1525.2 257.9A2.3 1.8 136 1 0 1528.5 254.7A2.3 1.8 136 1 0 1525.2 257.9ZM1631.5 200.7A2.4 1.4 67 1 0 1629.6 196.2A2.4 1.4 67 1 0 1631.5 200.7ZM1463.9 247.4A2.7 1.6 104 1 0 1465.2 242.2A2.7 1.6 104 1 0 1463.9 247.4ZM1631.6 265.5A2.2 1.5 95 1 0 1632.0 261.2A2.2 1.5 95 1 0 1631.6 265.5ZM1517.2 294.3A3.0 2.7 179 1 0 1523.1 294.3A3.0 2.7 179 1 0 1517.2 294.3ZM1443.0 289.5A2.2 1.4 108 1 0 1444.4 285.3A2.2 1.4 108 1 0 1443.0 289.5ZM1518.5 107.4A3.2 2.0 15 1 0 1512.4 105.7A3.2 2.0 15 1 0 1518.5 107.4ZM1514.9 260.4A2.9 2.1 72 1 0 1513.2 254.9A2.9 2.1 72 1 0 1514.9 260.4ZM1450.6 253.4A2.8 1.8 120 1 0 1453.5 248.5A2.8 1.8 120 1 0 1450.6 253.4ZM1635.6 145.2A2.0 1.7 112 1 0 1637.1 141.6A2.0 1.7 112 1 0 1635.6 145.2ZM1516.2 57.5A2.1 1.8 33 1 0 1512.7 55.1A2.1 1.8 33 1 0 1516.2 57.5ZM1534.5 246.1A2.2 1.3 121 1 0 1536.8 242.4A2.2 1.3 121 1 0 1534.5 246.1ZM1585.5 207.6A3.1 2.1 91 1 0 1585.7 201.5A3.1 2.1 91 1 0 1585.5 207.6ZM1529.4 267.1A2.1 1.4 66 1 0 1527.7 263.2A2.1 1.4 66 1 0 1529.4 267.1ZM1617.6 237.6A1.9 1.7 177 1 0 1621.4 237.4A1.9 1.7 177 1 0 1617.6 237.6ZM1502.4 250.7A2.7 2.2 41 1 0 1498.3 247.1A2.7 2.2 41 1 0 1502.4 250.7ZM1416.2 269.2A2.1 1.9 153 1 0 1420.0 267.3A2.1 1.9 153 1 0 1416.2 269.2ZM1624.8 235.6A2.8 2.4 169 1 0 1630.3 234.6A2.8 2.4 169 1 0 1624.8 235.6ZM1644.9 271.7A2.1 1.9 16 1 0 1640.9 270.5A2.1 1.9 16 1 0 1644.9 271.7ZM1464.2 270.1A2.5 2.3 59 1 0 1461.7 265.8A2.5 2.3 59 1 0 1464.2 270.1ZM1434.8 94.9A3.0 2.6 77 1 0 1433.4 89.0A3.0 2.6 77 1 0 1434.8 94.9ZM1580.4 65.9A3.1 2.1 35 1 0 1575.4 62.3A3.1 2.1 35 1 0 1580.4 65.9ZM1538.9 173.9A2.4 2.0 33 1 0 1534.9 171.3A2.4 2.0 33 1 0 1538.9 173.9ZM1611.0 136.7A2.2 2.0 133 1 0 1614.1 133.4A2.2 2.0 133 1 0 1611.0 136.7ZM1596.0 252.2A2.3 1.6 94 1 0 1596.3 247.7A2.3 1.6 94 1 0 1596.0 252.2ZM1622.7 98.4A2.7 2.0 169 1 0 1628.1 97.4A2.7 2.0 169 1 0 1622.7 98.4ZM1593.1 283.1A2.3 1.7 44 1 0 1589.9 279.9A2.3 1.7 44 1 0 1593.1 283.1ZM1468.3 133.9A1.9 1.6 102 1 0 1469.1 130.1A1.9 1.6 102 1 0 1468.3 133.9ZM1597.2 242.4A3.2 2.4 110 1 0 1599.4 236.5A3.2 2.4 110 1 0 1597.2 242.4ZM1548.5 174.2A2.1 1.4 59 1 0 1546.3 170.5A2.1 1.4 59 1 0 1548.5 174.2ZM1539.9 164.4A2.5 2.0 177 1 0 1544.8 164.2A2.5 2.0 177 1 0 1539.9 164.4ZM1560.1 300.4A2.1 1.7 104 1 0 1561.2 296.4A2.1 1.7 104 1 0 1560.1 300.4ZM1530.2 168.4A2.0 1.9 13 1 0 1526.3 167.5A2.0 1.9 13 1 0 1530.2 168.4ZM1613.1 173.2A2.2 1.4 170 1 0 1617.3 172.5A2.2 1.4 170 1 0 1613.1 173.2ZM1499.5 199.3A2.3 1.8 100 1 0 1500.4 194.9A2.3 1.8 100 1 0 1499.5 199.3ZM1549.7 81.1A1.6 1.3 0 1 0 1546.4 81.1A1.6 1.3 0 1 0 1549.7 81.1ZM1547.6 124.2A2.8 1.9 8 1 0 1542.1 123.3A2.8 1.9 8 1 0 1547.6 124.2ZM1454.5 137.8A2.6 2.2 149 1 0 1459.1 135.1A2.6 2.2 149 1 0 1454.5 137.8ZM1652.5 193.3A1.7 1.4 63 1 0 1651.0 190.3A1.7 1.4 63 1 0 1652.5 193.3ZM1565.0 100.0A2.2 1.4 122 1 0 1567.4 96.2A2.2 1.4 122 1 0 1565.0 100.0ZM1647.9 147.1A2.4 1.9 137 1 0 1651.5 143.8A2.4 1.9 137 1 0 1647.9 147.1ZM1505.6 123.6A2.6 1.8 89 1 0 1505.5 118.4A2.6 1.8 89 1 0 1505.6 123.6ZM1574.4 193.6A3.2 2.2 38 1 0 1569.4 189.6A3.2 2.2 38 1 0 1574.4 193.6ZM1519.9 277.0A3.0 1.7 31 1 0 1514.8 273.9A3.0 1.7 31 1 0 1519.9 277.0ZM1473.5 248.2A2.7 1.7 142 1 0 1477.8 244.9A2.7 1.7 142 1 0 1473.5 248.2ZM1631.1 256.8A2.2 1.9 46 1 0 1628.1 253.7A2.2 1.9 46 1 0 1631.1 256.8ZM1644.0 91.0A2.2 1.5 147 1 0 1647.8 88.6A2.2 1.5 147 1 0 1644.0 91.0ZM1604.3 188.0A2.5 1.6 105 1 0 1605.6 183.3A2.5 1.6 105 1 0 1604.3 188.0ZM1429.8 235.6A3.1 2.3 83 1 0 1429.1 229.4A3.1 2.3 83 1 0 1429.8 235.6ZM1561.2 151.4A3.1 2.0 87 1 0 1561.0 145.2A3.1 2.0 87 1 0 1561.2 151.4ZM1585.9 240.1A2.1 1.3 124 1 0 1588.2 236.6A2.1 1.3 124 1 0 1585.9 240.1ZM1447.3 258.4A1.6 1.5 146 1 0 1450.0 256.6A1.6 1.5 146 1 0 1447.3 258.4ZM1543.8 275.7A2.8 2.3 46 1 0 1539.8 271.6A2.8 2.3 46 1 0 1543.8 275.7ZM1438.8 85.2A1.8 1.4 126 1 0 1440.9 82.3A1.8 1.4 126 1 0 1438.8 85.2ZM1647.5 150.5A2.2 2.0 142 1 0 1651.0 147.8A2.2 2.0 142 1 0 1647.5 150.5ZM1655.1 59.4A3.1 2.2 143 1 0 1660.1 55.7A3.1 2.2 143 1 0 1655.1 59.4ZM1467.2 190.4A2.8 2.3 125 1 0 1470.4 185.8A2.8 2.3 125 1 0 1467.2 190.4ZM1439.3 281.4A1.7 1.5 101 1 0 1440.0 278.1A1.7 1.5 101 1 0 1439.3 281.4ZM1572.1 111.8A2.9 2.4 44 1 0 1568.0 107.7A2.9 2.4 44 1 0 1572.1 111.8ZM1646.6 159.9A3.0 1.9 67 1 0 1644.3 154.4A3.0 1.9 67 1 0 1646.6 159.9ZM1469.7 65.4A1.8 1.1 93 1 0 1469.9 61.8A1.8 1.1 93 1 0 1469.7 65.4ZM1535.8 84.2A3.1 2.5 93 1 0 1536.1 78.1A3.1 2.5 93 1 0 1535.8 84.2ZM1484.9 160.7A3.1 2.2 90 1 0 1484.9 154.6A3.1 2.2 90 1 0 1484.9 160.7ZM1641.8 155.5A3.0 1.7 127 1 0 1645.4 150.8A3.0 1.7 127 1 0 1641.8 155.5ZM1445.9 122.8A1.7 1.6 160 1 0 1449.1 121.7A1.7 1.6 160 1 0 1445.9 122.8ZM1610.3 178.2A1.8 1.3 161 1 0 1613.7 177.1A1.8 1.3 161 1 0 1610.3 178.2ZM1593.6 58.7A3.2 3.0 105 1 0 1595.3 52.6A3.2 3.0 105 1 0 1593.6 58.7ZM1423.8 232.8A2.6 1.4 79 1 0 1422.9 227.7A2.6 1.4 79 1 0 1423.8 232.8ZM1423.6 72.7A2.7 2.3 58 1 0 1420.8 68.1A2.7 2.3 58 1 0 1423.6 72.7ZM1457.5 123.9A2.0 1.5 49 1 0 1454.9 120.9A2.0 1.5 49 1 0 1457.5 123.9ZM1641.5 60.9A2.0 1.6 80 1 0 1640.9 57.1A2.0 1.6 80 1 0 1641.5 60.9ZM1439.7 151.6A2.0 1.8 43 1 0 1436.7 148.8A2.0 1.8 43 1 0 1439.7 151.6ZM1574.1 223.1A2.3 1.3 96 1 0 1574.6 218.5A2.3 1.3 96 1 0 1574.1 223.1ZM1441.3 114.6A3.1 1.9 172 1 0 1447.4 113.8A3.1 1.9 172 1 0 1441.3 114.6ZM1455.3 63.5A1.6 1.5 161 1 0 1458.4 62.4A1.6 1.5 161 1 0 1455.3 63.5ZM1485.7 141.7A2.1 1.7 54 1 0 1483.3 138.2A2.1 1.7 54 1 0 1485.7 141.7ZM1531.5 217.1A2.0 1.2 117 1 0 1533.4 213.5A2.0 1.2 117 1 0 1531.5 217.1ZM1576.7 58.3A2.3 2.0 106 1 0 1578.0 54.0A2.3 2.0 106 1 0 1576.7 58.3ZM1584.9 295.6A1.9 1.4 26 1 0 1581.4 293.9A1.9 1.4 26 1 0 1584.9 295.6ZM1639.1 201.7A3.0 2.4 61 1 0 1636.3 196.4A3.0 2.4 61 1 0 1639.1 201.7ZM1589.8 123.2A2.4 1.9 139 1 0 1593.5 120.1A2.4 1.9 139 1 0 1589.8 123.2ZM1480.3 241.1A2.5 2.0 17 1 0 1475.6 239.6A2.5 2.0 17 1 0 1480.3 241.1ZM1547.6 80.3A2.6 2.3 69 1 0 1545.7 75.5A2.6 2.3 69 1 0 1547.6 80.3ZM1521.8 209.6A2.5 2.3 151 1 0 1526.2 207.2A2.5 2.3 151 1 0 1521.8 209.6ZM1587.0 142.0A1.7 1.4 40 1 0 1584.4 139.8A1.7 1.4 40 1 0 1587.0 142.0ZM1590.4 218.3A3.0 1.7 86 1 0 1590.1 212.3A3.0 1.7 86 1 0 1590.4 218.3ZM1501.4 141.1A2.0 1.8 81 1 0 1500.9 137.1A2.0 1.8 81 1 0 1501.4 141.1ZM1554.8 85.0A2.5 2.0 22 1 0 1550.2 83.1A2.5 2.0 22 1 0 1554.8 85.0ZM1498.3 120.7A2.5 1.4 176 1 0 1503.3 120.5A2.5 1.4 176 1 0 1498.3 120.7ZM1511.5 282.9A1.7 1.4 161 1 0 1514.7 281.9A1.7 1.4 161 1 0 1511.5 282.9ZM1527.4 148.9A2.6 1.7 44 1 0 1523.7 145.3A2.6 1.7 44 1 0 1527.4 148.9ZM1639.6 214.5A2.4 1.8 143 1 0 1643.4 211.7A2.4 1.8 143 1 0 1639.6 214.5ZM1600.9 124.6A2.1 1.5 9 1 0 1596.8 123.9A2.1 1.5 9 1 0 1600.9 124.6ZM1521.9 85.7A2.7 1.8 58 1 0 1519.1 81.1A2.7 1.8 58 1 0 1521.9 85.7ZM1471.5 118.6A2.0 1.8 81 1 0 1471.0 114.7A2.0 1.8 81 1 0 1471.5 118.6ZM1554.3 135.1A3.1 2.5 30 1 0 1548.9 131.9A3.1 2.5 30 1 0 1554.3 135.1ZM1586.9 57.4A3.2 2.7 38 1 0 1581.9 53.5A3.2 2.7 38 1 0 1586.9 57.4ZM1522.2 281.1A2.8 2.5 104 1 0 1523.6 275.6A2.8 2.5 104 1 0 1522.2 281.1ZM1468.6 215.5A2.5 1.5 10 1 0 1463.6 214.6A2.5 1.5 10 1 0 1468.6 215.5ZM1548.6 281.0A2.1 1.7 18 1 0 1544.5 279.6A2.1 1.7 18 1 0 1548.6 281.0ZM1631.4 274.5A2.1 1.7 133 1 0 1634.2 271.5A2.1 1.7 133 1 0 1631.4 274.5ZM1525.0 271.9A1.7 1.1 21 1 0 1521.9 270.7A1.7 1.1 21 1 0 1525.0 271.9ZM1620.1 238.3A2.0 1.6 92 1 0 1620.3 234.4A2.0 1.6 92 1 0 1620.1 238.3ZM1558.1 159.5A2.5 1.9 57 1 0 1555.4 155.3A2.5 1.9 57 1 0 1558.1 159.5ZM1509.6 97.0A2.6 2.3 41 1 0 1505.7 93.5A2.6 2.3 41 1 0 1509.6 97.0ZM1563.8 151.1A1.9 1.1 6 1 0 1560.1 150.7A1.9 1.1 6 1 0 1563.8 151.1ZM1601.6 89.3A2.1 1.5 35 1 0 1598.2 86.9A2.1 1.5 35 1 0 1601.6 89.3ZM1559.2 173.3A2.0 1.6 115 1 0 1560.8 169.8A2.0 1.6 115 1 0 1559.2 173.3ZM1649.9 140.4A2.8 2.3 102 1 0 1651.2 134.8A2.8 2.3 102 1 0 1649.9 140.4ZM1429.0 131.4A2.3 1.3 17 1 0 1424.7 130.0A2.3 1.3 17 1 0 1429.0 131.4ZM1619.3 85.0A2.5 1.6 94 1 0 1619.8 80.0A2.5 1.6 94 1 0 1619.3 85.0ZM1511.5 120.9A2.3 1.5 170 1 0 1516.1 120.1A2.3 1.5 170 1 0 1511.5 120.9ZM1528.6 88.4A2.8 1.7 133 1 0 1532.4 84.3A2.8 1.7 133 1 0 1528.6 88.4ZM1605.6 283.1A2.4 2.1 142 1 0 1609.5 280.2A2.4 2.1 142 1 0 1605.6 283.1ZM1618.4 206.6A3.0 2.6 68 1 0 1616.2 200.9A3.0 2.6 68 1 0 1618.4 206.6ZM1505.2 262.0A3.1 2.2 166 1 0 1511.1 260.6A3.1 2.2 166 1 0 1505.2 262.0ZM1613.5 227.6A2.1 1.4 52 1 0 1610.8 224.3A2.1 1.4 52 1 0 1613.5 227.6ZM1584.2 169.9A2.0 1.2 145 1 0 1587.4 167.7A2.0 1.2 145 1 0 1584.2 169.9ZM1465.3 99.5A2.5 1.4 72 1 0 1463.8 94.8A2.5 1.4 72 1 0 1465.3 99.5ZM1467.9 268.4A2.5 1.9 84 1 0 1467.4 263.5A2.5 1.9 84 1 0 1467.9 268.4ZM1421.8 265.3A3.1 1.7 101 1 0 1423.0 259.2A3.1 1.7 101 1 0 1421.8 265.3ZM1607.4 264.2A3.1 2.9 159 1 0 1613.3 262.0A3.1 2.9 159 1 0 1607.4 264.2ZM1450.9 300.4A3.2 2.6 158 1 0 1456.8 298.1A3.2 2.6 158 1 0 1450.9 300.4ZM1480.0 161.3A1.8 1.3 178 1 0 1483.5 161.2A1.8 1.3 178 1 0 1480.0 161.3ZM1590.9 170.0A2.1 1.3 77 1 0 1590.0 165.9A2.1 1.3 77 1 0 1590.9 170.0ZM1487.7 177.6A2.5 1.8 106 1 0 1489.2 172.8A2.5 1.8 106 1 0 1487.7 177.6ZM1516.9 178.2A2.4 2.1 161 1 0 1521.4 176.6A2.4 2.1 161 1 0 1516.9 178.2ZM1562.2 243.0A2.1 1.3 56 1 0 1559.9 239.6A2.1 1.3 56 1 0 1562.2 243.0ZM1454.3 245.0A3.1 2.5 39 1 0 1449.6 241.1A3.1 2.5 39 1 0 1454.3 245.0ZM1447.4 244.5A2.5 1.5 178 1 0 1452.4 244.4A2.5 1.5 178 1 0 1447.4 244.5ZM1599.1 292.1A3.2 2.7 167 1 0 1605.3 290.7A3.2 2.7 167 1 0 1599.1 292.1ZM1647.8 96.3A2.2 1.6 114 1 0 1649.6 92.4A2.2 1.6 114 1 0 1647.8 96.3Z" fill="#9a9db6" fill-opacity="0.8"/>
<path d="M1455.2 124.9A3.0 2.9 85 1 0 1454.7 118.8A3.0 2.9 85 1 0 1455.2 124.9ZM1647.3 273.0A3.3 2.1 69 1 0 1644.9 266.9A3.3 2.1 69 1 0 1647.3 273.0ZM1578.6 257.3A3.2 1.9 121 1 0 1582.0 251.9A3.2 1.9 121 1 0 1578.6 257.3ZM1425.6 132.1A1.6 1.2 22 1 0 1422.7 130.8A1.6 1.2 22 1 0 1425.6 132.1ZM1576.2 155.4A3.1 2.1 178 1 0 1582.4 155.2A3.1 2.1 178 1 0 1576.2 155.4ZM1444.8 76.5A2.5 1.9 152 1 0 1449.2 74.1A2.5 1.9 152 1 0 1444.8 76.5ZM1422.7 100.6A2.0 1.4 147 1 0 1426.1 98.5A2.0 1.4 147 1 0 1422.7 100.6ZM1579.9 115.6A2.3 1.9 100 1 0 1580.7 111.1A2.3 1.9 100 1 0 1579.9 115.6ZM1445.5 144.7A1.5 1.1 41 1 0 1443.2 142.6A1.5 1.1 41 1 0 1445.5 144.7ZM1494.7 139.4A3.2 1.9 16 1 0 1488.5 137.6A3.2 1.9 16 1 0 1494.7 139.4ZM1448.5 162.0A2.4 2.2 130 1 0 1451.6 158.5A2.4 2.2 130 1 0 1448.5 162.0ZM1485.6 89.1A2.6 2.3 40 1 0 1481.7 85.8A2.6 2.3 40 1 0 1485.6 89.1ZM1608.0 146.3A3.4 3.2 31 1 0 1602.2 142.8A3.4 3.2 31 1 0 1608.0 146.3ZM1612.9 200.8A2.3 1.7 162 1 0 1617.3 199.5A2.3 1.7 162 1 0 1612.9 200.8ZM1533.9 195.4A2.5 1.4 136 1 0 1537.5 192.0A2.5 1.4 136 1 0 1533.9 195.4ZM1444.6 277.1A1.5 1.2 45 1 0 1442.5 274.9A1.5 1.2 45 1 0 1444.6 277.1ZM1582.5 208.8A3.0 2.6 177 1 0 1588.5 208.6A3.0 2.6 177 1 0 1582.5 208.8ZM1447.2 113.9A2.5 2.3 71 1 0 1445.6 109.2A2.5 2.3 71 1 0 1447.2 113.9ZM1466.9 185.1A2.1 1.2 145 1 0 1470.4 182.6A2.1 1.2 145 1 0 1466.9 185.1ZM1530.9 262.6A1.7 1.2 21 1 0 1527.8 261.4A1.7 1.2 21 1 0 1530.9 262.6ZM1625.3 167.5A2.7 1.5 79 1 0 1624.3 162.2A2.7 1.5 79 1 0 1625.3 167.5ZM1513.9 229.7A2.0 1.9 59 1 0 1511.9 226.3A2.0 1.9 59 1 0 1513.9 229.7ZM1545.8 171.0A2.2 1.3 7 1 0 1541.4 170.4A2.2 1.3 7 1 0 1545.8 171.0ZM1643.8 297.2A2.7 1.6 34 1 0 1639.3 294.1A2.7 1.6 34 1 0 1643.8 297.2ZM1497.3 65.4A2.2 1.4 58 1 0 1495.0 61.7A2.2 1.4 58 1 0 1497.3 65.4ZM1626.3 193.0A3.5 2.4 12 1 0 1619.5 191.5A3.5 2.4 12 1 0 1626.3 193.0ZM1601.9 235.6A3.1 2.2 146 1 0 1607.1 232.1A3.1 2.2 146 1 0 1601.9 235.6ZM1441.2 235.0A2.9 2.2 110 1 0 1443.3 229.6A2.9 2.2 110 1 0 1441.2 235.0ZM1529.3 161.8A2.5 1.9 152 1 0 1533.6 159.5A2.5 1.9 152 1 0 1529.3 161.8ZM1498.7 193.7A2.3 1.4 126 1 0 1501.5 190.1A2.3 1.4 126 1 0 1498.7 193.7ZM1418.4 271.9A1.6 1.0 134 1 0 1420.6 269.6A1.6 1.0 134 1 0 1418.4 271.9ZM1523.1 130.9A2.5 2.3 116 1 0 1525.3 126.4A2.5 2.3 116 1 0 1523.1 130.9ZM1504.9 289.4A2.0 1.2 132 1 0 1507.5 286.5A2.0 1.2 132 1 0 1504.9 289.4ZM1616.2 251.9A2.3 1.9 37 1 0 1612.5 249.1A2.3 1.9 37 1 0 1616.2 251.9ZM1482.9 289.6A3.2 3.0 99 1 0 1483.9 283.3A3.2 3.0 99 1 0 1482.9 289.6ZM1590.1 145.7A2.3 2.1 134 1 0 1593.3 142.4A2.3 2.1 134 1 0 1590.1 145.7ZM1645.5 92.8A2.3 2.1 166 1 0 1650.1 91.8A2.3 2.1 166 1 0 1645.5 92.8ZM1620.2 273.2A2.0 1.7 18 1 0 1616.4 271.9A2.0 1.7 18 1 0 1620.2 273.2ZM1530.7 60.4A2.4 1.5 73 1 0 1529.4 55.8A2.4 1.5 73 1 0 1530.7 60.4ZM1583.8 223.7A3.3 3.0 55 1 0 1580.1 218.4A3.3 3.0 55 1 0 1583.8 223.7ZM1498.0 159.3A2.0 1.8 142 1 0 1501.2 156.9A2.0 1.8 142 1 0 1498.0 159.3ZM1578.8 215.7A2.1 1.4 136 1 0 1581.8 212.9A2.1 1.4 136 1 0 1578.8 215.7ZM1439.2 299.8A1.8 1.1 136 1 0 1441.8 297.3A1.8 1.1 136 1 0 1439.2 299.8ZM1644.0 94.8A3.4 2.5 22 1 0 1637.8 92.2A3.4 2.5 22 1 0 1644.0 94.8ZM1549.1 113.4A2.8 2.2 150 1 0 1554.0 110.6A2.8 2.2 150 1 0 1549.1 113.4ZM1640.4 268.0A2.8 2.4 156 1 0 1645.7 265.7A2.8 2.4 156 1 0 1640.4 268.0ZM1625.6 178.8A3.4 3.2 35 1 0 1620.0 174.9A3.4 3.2 35 1 0 1625.6 178.8ZM1469.7 208.5A2.6 1.9 89 1 0 1469.7 203.3A2.6 1.9 89 1 0 1469.7 208.5ZM1467.2 159.8A2.7 2.3 127 1 0 1470.4 155.5A2.7 2.3 127 1 0 1467.2 159.8ZM1444.6 108.6A2.5 2.1 49 1 0 1441.4 104.8A2.5 2.1 49 1 0 1444.6 108.6ZM1600.2 112.7A2.1 1.9 35 1 0 1596.8 110.3A2.1 1.9 35 1 0 1600.2 112.7ZM1623.5 191.9A1.6 1.1 97 1 0 1623.9 188.8A1.6 1.1 97 1 0 1623.5 191.9ZM1446.1 147.3A2.5 1.8 165 1 0 1450.9 146.1A2.5 1.8 165 1 0 1446.1 147.3ZM1514.4 276.2A2.1 1.8 27 1 0 1510.7 274.2A2.1 1.8 27 1 0 1514.4 276.2ZM1558.6 240.8A3.2 1.8 133 1 0 1562.9 236.2A3.2 1.8 133 1 0 1558.6 240.8ZM1457.5 293.3A2.1 1.9 29 1 0 1453.8 291.2A2.1 1.9 29 1 0 1457.5 293.3ZM1657.8 188.4A1.9 1.8 142 1 0 1660.8 186.0A1.9 1.8 142 1 0 1657.8 188.4ZM1593.3 161.1A2.0 1.6 152 1 0 1596.8 159.4A2.0 1.6 152 1 0 1593.3 161.1ZM1599.3 231.0A1.6 1.2 52 1 0 1597.3 228.4A1.6 1.2 52 1 0 1599.3 231.0ZM1550.1 221.5A2.7 1.5 55 1 0 1547.0 217.0A2.7 1.5 55 1 0 1550.1 221.5ZM1489.3 160.0A2.1 1.3 40 1 0 1486.1 157.3A2.1 1.3 40 1 0 1489.3 160.0ZM1537.1 273.4A1.9 1.8 119 1 0 1539.0 270.0A1.9 1.8 119 1 0 1537.1 273.4ZM1639.6 274.1A3.0 2.8 34 1 0 1634.7 270.7A3.0 2.8 34 1 0 1639.6 274.1ZM1571.6 145.3A1.8 1.2 116 1 0 1573.2 142.0A1.8 1.2 116 1 0 1571.6 145.3ZM1453.7 81.0A3.2 2.8 5 1 0 1447.4 80.4A3.2 2.8 5 1 0 1453.7 81.0ZM1469.0 57.2A2.6 2.4 27 1 0 1464.5 54.8A2.6 2.4 27 1 0 1469.0 57.2ZM1557.2 165.5A3.0 2.3 131 1 0 1561.1 161.1A3.0 2.3 131 1 0 1557.2 165.5ZM1447.0 295.2A3.1 1.8 1 1 0 1440.8 295.0A3.1 1.8 1 1 0 1447.0 295.2ZM1615.7 247.7A2.3 2.1 113 1 0 1617.5 243.6A2.3 2.1 113 1 0 1615.7 247.7ZM1543.7 67.7A2.5 1.7 78 1 0 1542.7 62.8A2.5 1.7 78 1 0 1543.7 67.7ZM1503.9 265.1A2.2 1.3 45 1 0 1500.7 262.0A2.2 1.3 45 1 0 1503.9 265.1ZM1620.3 182.2A2.2 2.0 177 1 0 1624.7 182.0A2.2 2.0 177 1 0 1620.3 182.2ZM1517.9 90.2A2.1 1.3 157 1 0 1521.9 88.5A2.1 1.3 157 1 0 1517.9 90.2ZM1589.2 134.2A2.8 2.5 179 1 0 1594.8 134.1A2.8 2.5 179 1 0 1589.2 134.2ZM1460.1 170.7A2.8 2.0 95 1 0 1460.6 165.1A2.8 2.0 95 1 0 1460.1 170.7ZM1531.3 157.8A2.6 1.9 53 1 0 1528.1 153.6A2.6 1.9 53 1 0 1531.3 157.8ZM1521.1 248.0A1.8 1.3 41 1 0 1518.4 245.6A1.8 1.3 41 1 0 1521.1 248.0ZM1643.6 58.9A2.2 2.1 128 1 0 1646.3 55.5A2.2 2.1 128 1 0 1643.6 58.9ZM1478.0 236.4A2.5 1.5 18 1 0 1473.2 234.8A2.5 1.5 18 1 0 1478.0 236.4ZM1426.5 126.0A2.3 2.2 160 1 0 1430.9 124.4A2.3 2.2 160 1 0 1426.5 126.0ZM1553.7 221.4A2.7 2.4 66 1 0 1551.5 216.4A2.7 2.4 66 1 0 1553.7 221.4ZM1577.3 110.4A2.0 1.3 72 1 0 1576.1 106.7A2.0 1.3 72 1 0 1577.3 110.4ZM1490.0 203.5A1.6 1.1 108 1 0 1491.0 200.5A1.6 1.1 108 1 0 1490.0 203.5ZM1614.7 248.7A2.4 1.9 4 1 0 1610.0 248.3A2.4 1.9 4 1 0 1614.7 248.7ZM1645.0 221.6A3.1 1.8 74 1 0 1643.3 215.7A3.1 1.8 74 1 0 1645.0 221.6ZM1488.0 262.2A3.0 1.9 174 1 0 1494.0 261.6A3.0 1.9 174 1 0 1488.0 262.2ZM1465.6 88.4A2.6 1.9 171 1 0 1470.8 87.7A2.6 1.9 171 1 0 1465.6 88.4ZM1431.8 279.2A2.9 2.0 27 1 0 1426.6 276.5A2.9 2.0 27 1 0 1431.8 279.2ZM1591.6 64.7A2.1 1.2 62 1 0 1589.7 61.0A2.1 1.2 62 1 0 1591.6 64.7ZM1659.9 265.1A2.6 2.1 113 1 0 1662.0 260.4A2.6 2.1 113 1 0 1659.9 265.1ZM1611.7 262.1A3.4 3.2 61 1 0 1608.5 256.0A3.4 3.2 61 1 0 1611.7 262.1ZM1651.9 117.0A1.7 1.4 8 1 0 1648.5 116.5A1.7 1.4 8 1 0 1651.9 117.0ZM1632.0 298.4A3.1 2.0 95 1 0 1632.5 292.2A3.1 2.0 95 1 0 1632.0 298.4ZM1433.8 166.3A3.1 2.0 28 1 0 1428.3 163.3A3.1 2.0 28 1 0 1433.8 166.3ZM1506.9 141.9A2.2 1.5 12 1 0 1502.6 141.0A2.2 1.5 12 1 0 1506.9 141.9ZM1572.4 176.6A2.7 1.9 162 1 0 1577.6 175.0A2.7 1.9 162 1 0 1572.4 176.6ZM1607.8 193.7A2.3 2.0 78 1 0 1606.9 189.2A2.3 2.0 78 1 0 1607.8 193.7ZM1521.6 194.9A1.6 1.2 14 1 0 1518.4 194.1A1.6 1.2 14 1 0 1521.6 194.9ZM1641.9 250.8A1.7 1.1 119 1 0 1643.6 247.8A1.7 1.1 119 1 0 1641.9 250.8ZM1551.5 157.0A2.3 1.5 73 1 0 1550.2 152.5A2.3 1.5 73 1 0 1551.5 157.0ZM1431.9 72.9A2.0 1.1 42 1 0 1429.0 70.3A2.0 1.1 42 1 0 1431.9 72.9ZM1464.9 144.4A2.7 2.5 126 1 0 1468.1 140.1A2.7 2.5 126 1 0 1464.9 144.4ZM1621.6 192.5A3.0 2.4 1 1 0 1615.6 192.4A3.0 2.4 1 1 0 1621.6 192.5ZM1508.2 90.1A2.9 2.0 78 1 0 1507.0 84.5A2.9 2.0 78 1 0 1508.2 90.1ZM1456.7 295.0A2.1 1.2 66 1 0 1455.0 291.2A2.1 1.2 66 1 0 1456.7 295.0ZM1498.5 101.7A2.9 2.1 2 1 0 1492.7 101.4A2.9 2.1 2 1 0 1498.5 101.7ZM1649.6 88.2A3.2 3.1 98 1 0 1650.5 81.8A3.2 3.1 98 1 0 1649.6 88.2ZM1604.4 58.1A1.9 1.6 125 1 0 1606.5 55.0A1.9 1.6 125 1 0 1604.4 58.1ZM1446.5 122.3A1.7 1.4 115 1 0 1447.9 119.3A1.7 1.4 115 1 0 1446.5 122.3ZM1503.2 196.5A2.5 1.6 96 1 0 1503.7 191.6A2.5 1.6 96 1 0 1503.2 196.5ZM1420.5 234.8A3.4 2.1 78 1 0 1419.1 228.2A3.4 2.1 78 1 0 1420.5 234.8ZM1560.9 225.3A3.0 2.1 135 1 0 1565.3 221.0A3.0 2.1 135 1 0 1560.9 225.3ZM1503.5 247.1A2.5 2.0 160 1 0 1508.3 245.5A2.5 2.0 160 1 0 1503.5 247.1ZM1459.5 178.9A2.2 1.3 140 1 0 1462.9 176.1A2.2 1.3 140 1 0 1459.5 178.9ZM1464.9 97.2A1.8 1.5 126 1 0 1467.1 94.4A1.8 1.5 126 1 0 1464.9 97.2ZM1500.4 175.3A2.2 1.7 6 1 0 1496.0 174.8A2.2 1.7 6 1 0 1500.4 175.3ZM1487.4 292.3A2.1 1.8 111 1 0 1489.0 288.3A2.1 1.8 111 1 0 1487.4 292.3ZM1529.5 209.4A2.9 2.3 141 1 0 1534.0 205.8A2.9 2.3 141 1 0 1529.5 209.4ZM1491.4 114.0A2.4 2.1 89 1 0 1491.4 109.1A2.4 2.1 89 1 0 1491.4 114.0ZM1418.5 172.2A3.3 2.0 103 1 0 1420.0 165.8A3.3 2.0 103 1 0 1418.5 172.2ZM1490.2 189.8A3.0 2.1 31 1 0 1485.0 186.6A3.0 2.1 31 1 0 1490.2 189.8ZM1528.7 297.5A1.6 1.0 39 1 0 1526.3 295.5A1.6 1.0 39 1 0 1528.7 297.5ZM1535.6 249.8A2.6 2.1 40 1 0 1531.6 246.5A2.6 2.1 40 1 0 1535.6 249.8ZM1546.1 239.2A2.2 1.2 174 1 0 1550.4 238.8A2.2 1.2 174 1 0 1546.1 239.2ZM1543.9 293.6A2.7 1.9 32 1 0 1539.3 290.7A2.7 1.9 32 1 0 1543.9 293.6ZM1647.8 244.5A2.7 1.5 54 1 0 1644.7 240.2A2.7 1.5 54 1 0 1647.8 244.5ZM1523.2 79.3A2.4 1.8 36 1 0 1519.3 76.3A2.4 1.8 36 1 0 1523.2 79.3ZM1548.3 291.4A3.2 2.9 54 1 0 1544.6 286.1A3.2 2.9 54 1 0 1548.3 291.4ZM1478.1 173.3A3.4 2.1 13 1 0 1471.6 171.7A3.4 2.1 13 1 0 1478.1 173.3ZM1625.5 60.5A2.5 2.4 103 1 0 1626.6 55.6A2.5 2.4 103 1 0 1625.5 60.5ZM1423.0 130.5A3.0 2.5 15 1 0 1417.2 128.9A3.0 2.5 15 1 0 1423.0 130.5ZM1532.0 174.7A1.8 1.1 56 1 0 1529.9 171.7A1.8 1.1 56 1 0 1532.0 174.7ZM1517.8 289.3A2.2 2.0 3 1 0 1513.5 289.0A2.2 2.0 3 1 0 1517.8 289.3ZM1531.3 93.4A1.6 1.1 125 1 0 1533.2 90.7A1.6 1.1 125 1 0 1531.3 93.4ZM1563.7 127.0A3.0 2.5 155 1 0 1569.1 124.6A3.0 2.5 155 1 0 1563.7 127.0ZM1583.9 78.4A3.1 2.9 157 1 0 1589.6 76.1A3.1 2.9 157 1 0 1583.9 78.4ZM1576.6 88.5A3.2 2.4 131 1 0 1580.8 83.7A3.2 2.4 131 1 0 1576.6 88.5ZM1643.0 108.0A1.5 1.4 160 1 0 1645.9 107.0A1.5 1.4 160 1 0 1643.0 108.0ZM1438.6 170.7A3.2 2.6 93 1 0 1439.1 164.3A3.2 2.6 93 1 0 1438.6 170.7ZM1659.7 62.6A2.2 1.4 173 1 0 1664.1 62.1A2.2 1.4 173 1 0 1659.7 62.6ZM1561.1 122.7A3.2 3.0 86 1 0 1560.7 116.2A3.2 3.0 86 1 0 1561.1 122.7ZM1652.8 110.0A2.9 2.7 41 1 0 1648.4 106.2A2.9 2.7 41 1 0 1652.8 110.0ZM1591.1 261.6A3.2 2.1 69 1 0 1588.8 255.6A3.2 2.1 69 1 0 1591.1 261.6ZM1442.7 180.6A3.2 2.2 158 1 0 1448.7 178.2A3.2 2.2 158 1 0 1442.7 180.6ZM1480.0 171.0A2.8 2.5 169 1 0 1485.6 169.9A2.8 2.5 169 1 0 1480.0 171.0ZM1502.7 153.0A3.0 2.6 142 1 0 1507.5 149.3A3.0 2.6 142 1 0 1502.7 153.0ZM1484.8 269.7A3.0 2.4 60 1 0 1481.8 264.4A3.0 2.4 60 1 0 1484.8 269.7ZM1593.0 74.2A3.0 2.1 137 1 0 1597.3 70.1A3.0 2.1 137 1 0 1593.0 74.2ZM1563.7 143.9A2.1 1.6 24 1 0 1559.8 142.2A2.1 1.6 24 1 0 1563.7 143.9ZM1481.2 213.6A1.9 1.7 95 1 0 1481.5 209.9A1.9 1.7 95 1 0 1481.2 213.6ZM1498.3 99.3A2.1 1.5 24 1 0 1494.5 97.6A2.1 1.5 24 1 0 1498.3 99.3ZM1490.1 292.2A3.4 3.1 170 1 0 1496.8 291.1A3.4 3.1 170 1 0 1490.1 292.2ZM1592.2 293.6A2.8 2.0 30 1 0 1587.4 290.8A2.8 2.0 30 1 0 1592.2 293.6ZM1578.2 295.2A3.4 3.2 79 1 0 1576.9 288.6A3.4 3.2 79 1 0 1578.2 295.2ZM1582.7 301.8A2.9 2.6 156 1 0 1588.1 299.4A2.9 2.6 156 1 0 1582.7 301.8ZM1554.4 271.8A2.2 1.9 78 1 0 1553.5 267.5A2.2 1.9 78 1 0 1554.4 271.8ZM1470.9 261.3A3.1 2.5 84 1 0 1470.3 255.1A3.1 2.5 84 1 0 1470.9 261.3ZM1479.7 263.4A2.8 2.3 147 1 0 1484.5 260.4A2.8 2.3 147 1 0 1479.7 263.4ZM1427.6 250.7A3.2 1.9 8 1 0 1421.3 249.8A3.2 1.9 8 1 0 1427.6 250.7ZM1631.7 120.9A2.6 2.4 34 1 0 1627.5 117.9A2.6 2.4 34 1 0 1631.7 120.9Z" fill="#d6b09a" fill-opacity="0.6"/>
<path d="M1415.2 95.4a3.0 2.3 0 1 0 6.0 0a3.0 2.3 0 1 0 -6.0 0ZM1447.9 63.7a2.9 2.2 0 1 0 5.8 0a2.9 2.2 0 1 0 -5.8 0ZM1448.2 130.4a2.9 2.2 0 1 0 5.9 0a2.9 2.2 0 1 0 -5.9 0ZM1432.4 60.1a2.2 1.7 0 1 0 4.4 0a2.2 1.7 0 1 0 -4.4 0ZM1421.7 55.9a2.5 1.9 0 1 0 5.0 0a2.5 1.9 0 1 0 -5.0 0ZM1426.0 57.3a2.6 2.0 0 1 0 5.2 0a2.6 2.0 0 1 0 -5.2 0ZM1429.7 129.9a3.0 2.3 0 1 0 6.0 0a3.0 2.3 0 1 0 -6.0 0ZM1415.2 81.6a2.2 1.7 0 1 0 4.4 0a2.2 1.7 0 1 0 -4.4 0ZM1423.5 129.1a2.0 1.5 0 1 0 4.0 0a2.0 1.5 0 1 0 -4.0 0ZM1414.7 105.9a2.3 1.8 0 1 0 4.7 0a2.3 1.8 0 1 0 -4.7 0ZM1421.5 120.0a3.0 2.3 0 1 0 6.1 0a3.0 2.3 0 1 0 -6.1 0ZM1426.1 135.6a3.1 2.3 0 1 0 6.2 0a3.1 2.3 0 1 0 -6.2 0ZM1419.0 120.5a2.7 2.1 0 1 0 5.5 0a2.7 2.1 0 1 0 -5.5 0ZM1455.1 79.8a2.7 2.0 0 1 0 5.4 0a2.7 2.0 0 1 0 -5.4 0ZM1450.6 118.1a2.4 1.8 0 1 0 4.9 0a2.4 1.8 0 1 0 -4.9 0ZM1422.1 62.2a2.8 2.1 0 1 0 5.7 0a2.8 2.1 0 1 0 -5.7 0ZM1445.1 62.5a2.5 1.9 0 1 0 5.1 0a2.5 1.9 0 1 0 -5.1 0ZM1451.1 116.8a2.6 2.0 0 1 0 5.2 0a2.6 2.0 0 1 0 -5.2 0ZM1443.4 62.1a2.9 2.2 0 1 0 5.8 0a2.9 2.2 0 1 0 -5.8 0ZM1422.1 56.2a1.9 1.4 0 1 0 3.8 0a1.9 1.4 0 1 0 -3.8 0ZM1414.8 90.4a2.9 2.2 0 1 0 5.8 0a2.9 2.2 0 1 0 -5.8 0ZM1425.0 60.9a3.2 2.4 0 1 0 6.4 0a3.2 2.4 0 1 0 -6.4 0ZM1451.8 70.5a2.1 1.6 0 1 0 4.2 0a2.1 1.6 0 1 0 -4.2 0ZM1437.1 56.2a3.0 2.3 0 1 0 6.0 0a3.0 2.3 0 1 0 -6.0 0ZM1430.4 138.8a2.3 1.7 0 1 0 4.6 0a2.3 1.7 0 1 0 -4.6 0ZM1416.8 74.0a2.7 2.0 0 1 0 5.3 0a2.7 2.0 0 1 0 -5.3 0ZM1454.3 108.2a2.3 1.7 0 1 0 4.6 0a2.3 1.7 0 1 0 -4.6 0ZM1414.2 70.1a2.5 1.9 0 1 0 5.0 0a2.5 1.9 0 1 0 -5.0 0ZM1452.8 83.5a2.8 2.1 0 1 0 5.7 0a2.8 2.1 0 1 0 -5.7 0ZM1418.8 116.3a2.3 1.7 0 1 0 4.5 0a2.3 1.7 0 1 0 -4.5 0ZM1419.1 122.9a2.5 1.9 0 1 0 5.0 0a2.5 1.9 0 1 0 -5.0 0ZM1440.9 51.3a2.4 1.8 0 1 0 4.7 0a2.4 1.8 0 1 0 -4.7 0ZM1437.9 52.6a1.8 1.4 0 1 0 3.7 0a1.8 1.4 0 1 0 -3.7 0ZM1445.9 53.9a2.7 2.0 0 1 0 5.4 0a2.7 2.0 0 1 0 -5.4 0ZM1408.9 92.4a3.2 2.4 0 1 0 6.3 0a3.2 2.4 0 1 0 -6.3 0ZM1418.1 77.1a2.5 1.9 0 1 0 5.0 0a2.5 1.9 0 1 0 -5.0 0ZM1440.7 132.6a2.6 2.0 0 1 0 5.3 0a2.6 2.0 0 1 0 -5.3 0ZM1438.0 128.4a2.5 1.9 0 1 0 5.0 0a2.5 1.9 0 1 0 -5.0 0ZM1424.7 57.2a2.9 2.2 0 1 0 5.9 0a2.9 2.2 0 1 0 -5.9 0ZM1460.1 93.7a2.3 1.7 0 1 0 4.5 0a2.3 1.7 0 1 0 -4.5 0ZM1413.5 107.3a2.1 1.6 0 1 0 4.2 0a2.1 1.6 0 1 0 -4.2 0ZM1456.1 77.9a3.2 2.4 0 1 0 6.3 0a3.2 2.4 0 1 0 -6.3 0ZM1417.9 120.8a2.5 1.9 0 1 0 5.1 0a2.5 1.9 0 1 0 -5.1 0ZM1450.5 116.6a2.7 2.0 0 1 0 5.4 0a2.7 2.0 0 1 0 -5.4 0ZM1451.6 78.6a2.3 1.7 0 1 0 4.5 0a2.3 1.7 0 1 0 -4.5 0ZM1413.5 91.8a2.2 1.6 0 1 0 4.3 0a2.2 1.6 0 1 0 -4.3 0ZM1444.9 127.7a1.9 1.4 0 1 0 3.8 0a1.9 1.4 0 1 0 -3.8 0ZM1430.3 128.3a3.0 2.3 0 1 0 6.1 0a3.0 2.3 0 1 0 -6.1 0ZM1421.3 62.1a2.3 1.7 0 1 0 4.5 0a2.3 1.7 0 1 0 -4.5 0ZM1425.0 59.5a3.0 2.2 0 1 0 5.9 0a3.0 2.2 0 1 0 -5.9 0ZM1445.9 63.7a2.5 1.9 0 1 0 5.0 0a2.5 1.9 0 1 0 -5.0 0ZM1418.2 129.8a2.1 1.6 0 1 0 4.3 0a2.1 1.6 0 1 0 -4.3 0ZM1453.3 103.1a3.1 2.3 0 1 0 6.2 0a3.1 2.3 0 1 0 -6.2 0ZM1417.2 64.3a2.5 1.9 0 1 0 5.0 0a2.5 1.9 0 1 0 -5.0 0ZM1428.5 56.2a2.5 1.9 0 1 0 5.1 0a2.5 1.9 0 1 0 -5.1 0ZM1419.8 58.1a3.1 2.3 0 1 0 6.2 0a3.1 2.3 0 1 0 -6.2 0ZM1419.3 59.9a2.0 1.5 0 1 0 4.1 0a2.0 1.5 0 1 0 -4.1 0ZM1442.3 138.3a1.9 1.4 0 1 0 3.8 0a1.9 1.4 0 1 0 -3.8 0ZM1414.9 103.6a2.6 1.9 0 1 0 5.1 0a2.6 1.9 0 1 0 -5.1 0ZM1426.9 137.6a1.9 1.5 0 1 0 3.9 0a1.9 1.5 0 1 0 -3.9 0ZM1446.2 52.7a2.4 1.8 0 1 0 4.7 0a2.4 1.8 0 1 0 -4.7 0ZM1442.7 54.6a2.1 1.6 0 1 0 4.2 0a2.1 1.6 0 1 0 -4.2 0ZM1415.6 89.8a2.2 1.7 0 1 0 4.5 0a2.2 1.7 0 1 0 -4.5 0ZM1451.6 110.5a3.0 2.3 0 1 0 6.1 0a3.0 2.3 0 1 0 -6.1 0ZM1410.0 91.6a2.4 1.8 0 1 0 4.9 0a2.4 1.8 0 1 0 -4.9 0ZM1426.9 132.0a2.3 1.7 0 1 0 4.6 0a2.3 1.7 0 1 0 -4.6 0ZM1453.3 88.8a2.1 1.6 0 1 0 4.2 0a2.1 1.6 0 1 0 -4.2 0ZM1438.8 134.1a2.3 1.8 0 1 0 4.7 0a2.3 1.8 0 1 0 -4.7 0ZM1450.5 123.2a3.0 2.3 0 1 0 6.1 0a3.0 2.3 0 1 0 -6.1 0ZM1414.5 83.2a2.5 1.9 0 1 0 5.0 0a2.5 1.9 0 1 0 -5.0 0ZM1519.3 122.3a2.2 1.7 0 1 0 4.5 0a2.2 1.7 0 1 0 -4.5 0ZM1497.5 118.0a2.4 1.8 0 1 0 4.7 0a2.4 1.8 0 1 0 -4.7 0ZM1534.8 68.6a2.2 1.7 0 1 0 4.5 0a2.2 1.7 0 1 0 -4.5 0ZM1531.7 127.0a2.0 1.5 0 1 0 4.1 0a2.0 1.5 0 1 0 -4.1 0ZM1494.0 77.3a2.8 2.1 0 1 0 5.7 0a2.8 2.1 0 1 0 -5.7 0ZM1493.9 85.8a3.1 2.3 0 1 0 6.3 0a3.1 2.3 0 1 0 -6.3 0ZM1495.3 94.6a2.6 1.9 0 1 0 5.1 0a2.6 1.9 0 1 0 -5.1 0ZM1496.6 88.5a1.9 1.4 0 1 0 3.7 0a1.9 1.4 0 1 0 -3.7 0ZM1490.7 92.1a2.3 1.7 0 1 0 4.6 0a2.3 1.7 0 1 0 -4.6 0ZM1503.3 65.0a2.8 2.1 0 1 0 5.6 0a2.8 2.1 0 1 0 -5.6 0ZM1525.3 55.9a3.1 2.3 0 1 0 6.2 0a3.1 2.3 0 1 0 -6.2 0ZM1498.1 110.3a1.8 1.4 0 1 0 3.6 0a1.8 1.4 0 1 0 -3.6 0ZM1497.8 119.0a2.9 2.2 0 1 0 5.8 0a2.9 2.2 0 1 0 -5.8 0ZM1495.1 106.5a2.6 2.0 0 1 0 5.3 0a2.6 2.0 0 1 0 -5.3 0ZM1542.8 103.6a3.0 2.2 0 1 0 6.0 0a3.0 2.2 0 1 0 -6.0 0ZM1534.3 113.7a2.5 1.9 0 1 0 5.0 0a2.5 1.9 0 1 0 -5.0 0ZM1499.3 68.9a2.4 1.8 0 1 0 4.8 0a2.4 1.8 0 1 0 -4.8 0ZM1545.7 74.5a3.2 2.4 0 1 0 6.3 0a3.2 2.4 0 1 0 -6.3 0ZM1530.4 121.5a2.2 1.6 0 1 0 4.3 0a2.2 1.6 0 1 0 -4.3 0ZM1541.1 70.5a2.6 1.9 0 1 0 5.2 0a2.6 1.9 0 1 0 -5.2 0ZM1542.3 112.1a3.2 2.4 0 1 0 6.3 0a3.2 2.4 0 1 0 -6.3 0ZM1522.4 124.9a1.8 1.4 0 1 0 3.6 0a1.8 1.4 0 1 0 -3.6 0ZM1532.1 63.5a2.0 1.5 0 1 0 4.1 0a2.0 1.5 0 1 0 -4.1 0ZM1537.6 63.4a2.4 1.8 0 1 0 4.8 0a2.4 1.8 0 1 0 -4.8 0ZM1520.2 133.1a2.3 1.7 0 1 0 4.6 0a2.3 1.7 0 1 0 -4.6 0ZM1516.6 53.3a2.3 1.8 0 1 0 4.7 0a2.3 1.8 0 1 0 -4.7 0ZM1543.9 85.4a2.2 1.6 0 1 0 4.3 0a2.2 1.6 0 1 0 -4.3 0ZM1521.8 121.9a2.4 1.8 0 1 0 4.9 0a2.4 1.8 0 1 0 -4.9 0ZM1544.2 74.8a2.3 1.7 0 1 0 4.6 0a2.3 1.7 0 1 0 -4.6 0ZM1508.7 129.2a3.0 2.2 0 1 0 5.9 0a3.0 2.2 0 1 0 -5.9 0ZM1509.7 122.2a2.2 1.6 0 1 0 4.3 0a2.2 1.6 0 1 0 -4.3 0ZM1528.1 57.9a2.7 2.1 0 1 0 5.5 0a2.7 2.1 0 1 0 -5.5 0ZM1505.8 55.4a2.6 1.9 0 1 0 5.1 0a2.6 1.9 0 1 0 -5.1 0ZM1546.0 97.3a2.1 1.6 0 1 0 4.3 0a2.1 1.6 0 1 0 -4.3 0ZM1534.6 61.7a2.8 2.1 0 1 0 5.5 0a2.8 2.1 0 1 0 -5.5 0ZM1506.8 53.8a2.9 2.2 0 1 0 5.9 0a2.9 2.2 0 1 0 -5.9 0ZM1544.0 71.4a2.2 1.6 0 1 0 4.3 0a2.2 1.6 0 1 0 -4.3 0ZM1517.5 56.6a2.9 2.1 0 1 0 5.7 0a2.9 2.1 0 1 0 -5.7 0ZM1494.0 78.2a1.9 1.4 0 1 0 3.9 0a1.9 1.4 0 1 0 -3.9 0ZM1528.5 120.5a1.9 1.5 0 1 0 3.9 0a1.9 1.5 0 1 0 -3.9 0ZM1538.7 60.8a2.3 1.7 0 1 0 4.6 0a2.3 1.7 0 1 0 -4.6 0ZM1492.5 101.7a2.8 2.1 0 1 0 5.5 0a2.8 2.1 0 1 0 -5.5 0ZM1545.1 112.8a1.8 1.4 0 1 0 3.7 0a1.8 1.4 0 1 0 -3.7 0ZM1539.9 116.9a2.3 1.7 0 1 0 4.5 0a2.3 1.7 0 1 0 -4.5 0ZM1501.4 62.8a2.5 1.9 0 1 0 4.9 0a2.5 1.9 0 1 0 -4.9 0ZM1490.0 86.8a2.4 1.8 0 1 0 4.7 0a2.4 1.8 0 1 0 -4.7 0ZM1520.6 54.0a3.0 2.3 0 1 0 6.1 0a3.0 2.3 0 1 0 -6.1 0ZM1538.3 112.3a1.8 1.4 0 1 0 3.7 0a1.8 1.4 0 1 0 -3.7 0ZM1544.6 98.0a2.4 1.8 0 1 0 4.9 0a2.4 1.8 0 1 0 -4.9 0ZM1528.4 120.8a2.1 1.6 0 1 0 4.2 0a2.1 1.6 0 1 0 -4.2 0ZM1539.2 67.8a2.4 1.8 0 1 0 4.8 0a2.4 1.8 0 1 0 -4.8 0ZM1495.3 76.4a2.5 1.9 0 1 0 5.0 0a2.5 1.9 0 1 0 -5.0 0ZM1545.5 110.1a2.6 2.0 0 1 0 5.2 0a2.6 2.0 0 1 0 -5.2 0ZM1514.3 50.6a1.9 1.5 0 1 0 3.9 0a1.9 1.5 0 1 0 -3.9 0ZM1541.0 103.5a2.0 1.5 0 1 0 4.1 0a2.0 1.5 0 1 0 -4.1 0ZM1526.6 124.4a3.0 2.2 0 1 0 5.9 0a3.0 2.2 0 1 0 -5.9 0ZM1495.1 69.9a2.5 1.9 0 1 0 5.0 0a2.5 1.9 0 1 0 -5.0 0ZM1545.2 72.7a2.0 1.5 0 1 0 4.0 0a2.0 1.5 0 1 0 -4.0 0ZM1504.3 54.1a2.9 2.2 0 1 0 5.9 0a2.9 2.2 0 1 0 -5.9 0ZM1495.1 80.1a1.9 1.4 0 1 0 3.9 0a1.9 1.4 0 1 0 -3.9 0ZM1516.0 122.6a1.9 1.4 0 1 0 3.8 0a1.9 1.4 0 1 0 -3.8 0ZM1523.3 55.4a2.3 1.7 0 1 0 4.6 0a2.3 1.7 0 1 0 -4.6 0ZM1511.9 58.1a3.1 2.3 0 1 0 6.2 0a3.1 2.3 0 1 0 -6.2 0ZM1521.7 123.9a2.1 1.6 0 1 0 4.2 0a2.1 1.6 0 1 0 -4.2 0ZM1547.1 79.5a2.1 1.6 0 1 0 4.2 0a2.1 1.6 0 1 0 -4.2 0ZM1538.2 78.0a2.8 2.1 0 1 0 5.6 0a2.8 2.1 0 1 0 -5.6 0ZM1495.4 99.8a2.6 2.0 0 1 0 5.3 0a2.6 2.0 0 1 0 -5.3 0ZM1522.4 127.6a2.8 2.1 0 1 0 5.7 0a2.8 2.1 0 1 0 -5.7 0ZM1491.9 110.8a3.1 2.3 0 1 0 6.1 0a3.1 2.3 0 1 0 -6.1 0ZM1528.9 121.3a1.8 1.4 0 1 0 3.6 0a1.8 1.4 0 1 0 -3.6 0ZM1612.2 149.7a2.2 1.7 0 1 0 4.4 0a2.2 1.7 0 1 0 -4.4 0ZM1649.7 149.5a2.2 1.6 0 1 0 4.3 0a2.2 1.6 0 1 0 -4.3 0ZM1657.5 80.1a2.3 1.7 0 1 0 4.6 0a2.3 1.7 0 1 0 -4.6 0ZM1602.8 97.4a1.9 1.4 0 1 0 3.8 0a1.9 1.4 0 1 0 -3.8 0ZM1638.8 62.6a2.3 1.7 0 1 0 4.6 0a2.3 1.7 0 1 0 -4.6 0ZM1630.2 162.3a2.1 1.6 0 1 0 4.2 0a2.1 1.6 0 1 0 -4.2 0ZM1634.4 175.3a2.1 1.6 0 1 0 4.3 0a2.1 1.6 0 1 0 -4.3 0ZM1610.8 65.2a3.1 2.3 0 1 0 6.2 0a3.1 2.3 0 1 0 -6.2 0ZM1650.8 72.4a3.1 2.3 0 1 0 6.2 0a3.1 2.3 0 1 0 -6.2 0ZM1622.3 43.0a2.5 1.9 0 1 0 5.1 0a2.5 1.9 0 1 0 -5.1 0ZM1650.0 133.2a3.0 2.2 0 1 0 6.0 0a3.0 2.2 0 1 0 -6.0 0ZM1655.6 94.9a3.0 2.3 0 1 0 6.1 0a3.0 2.3 0 1 0 -6.1 0ZM1650.9 78.2a2.9 2.1 0 1 0 5.7 0a2.9 2.1 0 1 0 -5.7 0ZM1633.7 47.6a2.1 1.6 0 1 0 4.2 0a2.1 1.6 0 1 0 -4.2 0ZM1655.0 127.0a2.2 1.6 0 1 0 4.4 0a2.2 1.6 0 1 0 -4.4 0ZM1599.2 101.2a2.4 1.8 0 1 0 4.7 0a2.4 1.8 0 1 0 -4.7 0ZM1617.4 156.9a2.2 1.6 0 1 0 4.4 0a2.2 1.6 0 1 0 -4.4 0ZM1613.0 61.5a3.1 2.3 0 1 0 6.1 0a3.1 2.3 0 1 0 -6.1 0ZM1648.5 66.8a2.2 1.7 0 1 0 4.4 0a2.2 1.7 0 1 0 -4.4 0ZM1607.8 54.2a2.9 2.2 0 1 0 5.9 0a2.9 2.2 0 1 0 -5.9 0ZM1634.9 161.0a1.9 1.4 0 1 0 3.7 0a1.9 1.4 0 1 0 -3.7 0ZM1654.0 89.6a2.4 1.8 0 1 0 4.7 0a2.4 1.8 0 1 0 -4.7 0ZM1630.2 54.2a2.8 2.1 0 1 0 5.6 0a2.8 2.1 0 1 0 -5.6 0ZM1657.4 115.0a1.8 1.4 0 1 0 3.7 0a1.8 1.4 0 1 0 -3.7 0ZM1639.2 59.3a2.9 2.2 0 1 0 5.9 0a2.9 2.2 0 1 0 -5.9 0ZM1628.8 57.4a2.2 1.7 0 1 0 4.4 0a2.2 1.7 0 1 0 -4.4 0ZM1636.4 48.7a2.4 1.8 0 1 0 4.8 0a2.4 1.8 0 1 0 -4.8 0ZM1646.0 148.0a2.3 1.7 0 1 0 4.6 0a2.3 1.7 0 1 0 -4.6 0ZM1595.4 112.1a3.0 2.3 0 1 0 6.0 0a3.0 2.3 0 1 0 -6.0 0ZM1616.5 52.8a2.5 1.9 0 1 0 5.1 0a2.5 1.9 0 1 0 -5.1 0ZM1608.6 76.2a1.9 1.4 0 1 0 3.7 0a1.9 1.4 0 1 0 -3.7 0ZM1598.6 93.3a3.0 2.3 0 1 0 6.0 0a3.0 2.3 0 1 0 -6.0 0ZM1631.1 164.8a2.2 1.6 0 1 0 4.3 0a2.2 1.6 0 1 0 -4.3 0ZM1609.3 55.5a1.9 1.5 0 1 0 3.9 0a1.9 1.5 0 1 0 -3.9 0ZM1603.2 150.2a2.8 2.1 0 1 0 5.7 0a2.8 2.1 0 1 0 -5.7 0ZM1630.6 56.8a2.8 2.1 0 1 0 5.6 0a2.8 2.1 0 1 0 -5.6 0ZM1595.6 129.2a2.1 1.6 0 1 0 4.1 0a2.1 1.6 0 1 0 -4.1 0ZM1645.7 52.0a2.7 2.0 0 1 0 5.3 0a2.7 2.0 0 1 0 -5.3 0ZM1641.7 158.1a2.3 1.7 0 1 0 4.6 0a2.3 1.7 0 1 0 -4.6 0ZM1647.6 73.3a2.4 1.8 0 1 0 4.8 0a2.4 1.8 0 1 0 -4.8 0ZM1606.5 152.8a2.8 2.1 0 1 0 5.6 0a2.8 2.1 0 1 0 -5.6 0ZM1655.3 119.3a1.9 1.4 0 1 0 3.8 0a1.9 1.4 0 1 0 -3.8 0ZM1595.5 111.9a2.9 2.2 0 1 0 5.8 0a2.9 2.2 0 1 0 -5.8 0ZM1622.8 57.0a3.2 2.4 0 1 0 6.4 0a3.2 2.4 0 1 0 -6.4 0ZM1654.5 114.4a2.7 2.0 0 1 0 5.4 0a2.7 2.0 0 1 0 -5.4 0ZM1609.5 63.9a2.8 2.1 0 1 0 5.5 0a2.8 2.1 0 1 0 -5.5 0ZM1600.8 125.6a2.2 1.7 0 1 0 4.5 0a2.2 1.7 0 1 0 -4.5 0ZM1603.5 131.3a2.8 2.1 0 1 0 5.6 0a2.8 2.1 0 1 0 -5.6 0ZM1642.2 161.9a3.1 2.3 0 1 0 6.2 0a3.1 2.3 0 1 0 -6.2 0ZM1641.0 48.8a2.1 1.5 0 1 0 4.1 0a2.1 1.5 0 1 0 -4.1 0ZM1636.6 62.3a2.1 1.6 0 1 0 4.2 0a2.1 1.6 0 1 0 -4.2 0ZM1621.9 170.8a3.2 2.4 0 1 0 6.3 0a3.2 2.4 0 1 0 -6.3 0ZM1634.9 166.5a2.2 1.7 0 1 0 4.4 0a2.2 1.7 0 1 0 -4.4 0ZM1622.9 60.0a3.1 2.3 0 1 0 6.1 0a3.1 2.3 0 1 0 -6.1 0ZM1618.7 159.3a3.0 2.2 0 1 0 5.9 0a3.0 2.2 0 1 0 -5.9 0ZM1622.7 44.9a3.0 2.3 0 1 0 6.1 0a3.0 2.3 0 1 0 -6.1 0ZM1598.9 125.5a2.9 2.2 0 1 0 5.8 0a2.9 2.2 0 1 0 -5.8 0ZM1599.7 110.9a2.7 2.0 0 1 0 5.3 0a2.7 2.0 0 1 0 -5.3 0ZM1596.7 133.4a3.0 2.3 0 1 0 6.0 0a3.0 2.3 0 1 0 -6.0 0ZM1634.4 60.0a2.6 1.9 0 1 0 5.1 0a2.6 1.9 0 1 0 -5.1 0ZM1603.6 125.5a2.2 1.7 0 1 0 4.4 0a2.2 1.7 0 1 0 -4.4 0ZM1660.3 111.8a2.1 1.6 0 1 0 4.2 0a2.1 1.6 0 1 0 -4.2 0ZM1642.8 168.5a2.2 1.6 0 1 0 4.4 0a2.2 1.6 0 1 0 -4.4 0ZM1615.0 51.7a2.7 2.0 0 1 0 5.4 0a2.7 2.0 0 1 0 -5.4 0ZM1651.4 134.0a3.0 2.2 0 1 0 5.9 0a3.0 2.2 0 1 0 -5.9 0ZM1605.9 144.4a2.5 1.9 0 1 0 5.0 0a2.5 1.9 0 1 0 -5.0 0ZM1658.8 122.7a2.9 2.2 0 1 0 5.8 0a2.9 2.2 0 1 0 -5.8 0ZM1655.1 97.5a2.8 2.1 0 1 0 5.5 0a2.8 2.1 0 1 0 -5.5 0ZM1658.9 83.9a2.4 1.8 0 1 0 4.9 0a2.4 1.8 0 1 0 -4.9 0ZM1657.0 92.4a2.6 1.9 0 1 0 5.2 0a2.6 1.9 0 1 0 -5.2 0ZM1548.0 191.1a2.3 1.8 0 1 0 4.7 0a2.3 1.8 0 1 0 -4.7 0ZM1540.0 206.7a2.6 1.9 0 1 0 5.2 0a2.6 1.9 0 1 0 -5.2 0ZM1552.2 246.3a1.9 1.4 0 1 0 3.8 0a1.9 1.4 0 1 0 -3.8 0ZM1579.0 242.3a3.2 2.4 0 1 0 6.3 0a3.2 2.4 0 1 0 -6.3 0ZM1543.5 215.8a3.0 2.2 0 1 0 5.9 0a3.0 2.2 0 1 0 -5.9 0ZM1572.6 251.9a1.9 1.4 0 1 0 3.8 0a1.9 1.4 0 1 0 -3.8 0ZM1543.7 181.9a2.6 2.0 0 1 0 5.3 0a2.6 2.0 0 1 0 -5.3 0ZM1569.2 244.4a2.9 2.2 0 1 0 5.9 0a2.9 2.2 0 1 0 -5.9 0ZM1565.9 253.7a2.4 1.8 0 1 0 4.8 0a2.4 1.8 0 1 0 -4.8 0ZM1591.1 233.3a2.8 2.1 0 1 0 5.7 0a2.8 2.1 0 1 0 -5.7 0ZM1558.3 177.8a2.3 1.7 0 1 0 4.6 0a2.3 1.7 0 1 0 -4.6 0ZM1539.7 210.5a1.9 1.4 0 1 0 3.9 0a1.9 1.4 0 1 0 -3.9 0ZM1546.0 223.9a2.7 2.0 0 1 0 5.4 0a2.7 2.0 0 1 0 -5.4 0ZM1545.3 219.0a2.5 1.9 0 1 0 5.0 0a2.5 1.9 0 1 0 -5.0 0ZM1547.6 198.4a2.2 1.7 0 1 0 4.5 0a2.2 1.7 0 1 0 -4.5 0ZM1568.5 245.3a2.3 1.7 0 1 0 4.6 0a2.3 1.7 0 1 0 -4.6 0ZM1564.4 246.0a2.8 2.1 0 1 0 5.5 0a2.8 2.1 0 1 0 -5.5 0ZM1572.4 254.0a1.9 1.4 0 1 0 3.8 0a1.9 1.4 0 1 0 -3.8 0ZM1560.7 249.6a2.7 2.0 0 1 0 5.4 0a2.7 2.0 0 1 0 -5.4 0ZM1560.1 243.1a2.8 2.1 0 1 0 5.6 0a2.8 2.1 0 1 0 -5.6 0ZM1547.7 239.0a3.1 2.3 0 1 0 6.1 0a3.1 2.3 0 1 0 -6.1 0ZM1585.1 242.6a2.1 1.6 0 1 0 4.3 0a2.1 1.6 0 1 0 -4.3 0ZM1541.5 189.4a2.7 2.0 0 1 0 5.4 0a2.7 2.0 0 1 0 -5.4 0ZM1586.6 180.7a2.2 1.6 0 1 0 4.4 0a2.2 1.6 0 1 0 -4.4 0ZM1544.6 197.7a2.5 1.9 0 1 0 5.1 0a2.5 1.9 0 1 0 -5.1 0ZM1568.1 244.4a2.7 2.0 0 1 0 5.3 0a2.7 2.0 0 1 0 -5.3 0ZM1587.4 231.7a1.9 1.4 0 1 0 3.9 0a1.9 1.4 0 1 0 -3.9 0ZM1560.4 174.2a2.2 1.6 0 1 0 4.4 0a2.2 1.6 0 1 0 -4.4 0ZM1585.1 175.7a2.5 1.8 0 1 0 4.9 0a2.5 1.8 0 1 0 -4.9 0ZM1555.9 243.7a2.9 2.2 0 1 0 5.8 0a2.9 2.2 0 1 0 -5.8 0ZM1554.4 235.2a2.1 1.5 0 1 0 4.1 0a2.1 1.5 0 1 0 -4.1 0ZM1560.2 169.3a3.1 2.3 0 1 0 6.2 0a3.1 2.3 0 1 0 -6.2 0ZM1574.0 250.4a2.3 1.8 0 1 0 4.7 0a2.3 1.8 0 1 0 -4.7 0ZM1563.4 250.3a2.2 1.7 0 1 0 4.5 0a2.2 1.7 0 1 0 -4.5 0ZM1573.4 246.9a2.4 1.8 0 1 0 4.8 0a2.4 1.8 0 1 0 -4.8 0ZM1595.0 231.5a2.4 1.8 0 1 0 4.7 0a2.4 1.8 0 1 0 -4.7 0ZM1554.3 234.7a2.0 1.5 0 1 0 4.0 0a2.0 1.5 0 1 0 -4.0 0ZM1577.7 239.6a2.6 1.9 0 1 0 5.1 0a2.6 1.9 0 1 0 -5.1 0ZM1551.4 171.7a2.2 1.6 0 1 0 4.3 0a2.2 1.6 0 1 0 -4.3 0ZM1578.8 166.4a1.9 1.4 0 1 0 3.8 0a1.9 1.4 0 1 0 -3.8 0ZM1575.8 242.3a3.0 2.3 0 1 0 6.0 0a3.0 2.3 0 1 0 -6.0 0ZM1568.6 172.9a2.1 1.6 0 1 0 4.3 0a2.1 1.6 0 1 0 -4.3 0ZM1583.1 243.7a2.4 1.8 0 1 0 4.8 0a2.4 1.8 0 1 0 -4.8 0ZM1596.2 192.1a2.2 1.6 0 1 0 4.4 0a2.2 1.6 0 1 0 -4.4 0ZM1565.2 247.9a2.4 1.8 0 1 0 4.7 0a2.4 1.8 0 1 0 -4.7 0ZM1574.7 172.7a3.0 2.3 0 1 0 6.0 0a3.0 2.3 0 1 0 -6.0 0ZM1546.7 187.0a3.2 2.4 0 1 0 6.3 0a3.2 2.4 0 1 0 -6.3 0ZM1551.6 243.7a3.1 2.4 0 1 0 6.3 0a3.1 2.4 0 1 0 -6.3 0ZM1592.4 178.3a2.4 1.8 0 1 0 4.8 0a2.4 1.8 0 1 0 -4.8 0ZM1573.4 163.2a2.2 1.7 0 1 0 4.4 0a2.2 1.7 0 1 0 -4.4 0ZM1539.9 221.1a2.9 2.2 0 1 0 5.8 0a2.9 2.2 0 1 0 -5.8 0ZM1559.5 249.3a2.0 1.5 0 1 0 3.9 0a2.0 1.5 0 1 0 -3.9 0ZM1548.0 233.5a2.2 1.7 0 1 0 4.5 0a2.2 1.7 0 1 0 -4.5 0ZM1595.2 210.4a2.7 2.0 0 1 0 5.3 0a2.7 2.0 0 1 0 -5.3 0ZM1557.1 176.9a1.9 1.4 0 1 0 3.8 0a1.9 1.4 0 1 0 -3.8 0ZM1594.8 219.2a1.9 1.4 0 1 0 3.7 0a1.9 1.4 0 1 0 -3.7 0ZM1576.3 246.6a2.3 1.7 0 1 0 4.7 0a2.3 1.7 0 1 0 -4.7 0ZM1559.6 174.9a2.5 1.9 0 1 0 5.0 0a2.5 1.9 0 1 0 -5.0 0ZM1547.4 224.8a3.1 2.3 0 1 0 6.1 0a3.1 2.3 0 1 0 -6.1 0ZM1596.5 188.4a2.2 1.6 0 1 0 4.3 0a2.2 1.6 0 1 0 -4.3 0ZM1595.6 214.3a3.1 2.3 0 1 0 6.1 0a3.1 2.3 0 1 0 -6.1 0ZM1554.1 238.6a2.9 2.2 0 1 0 5.9 0a2.9 2.2 0 1 0 -5.9 0ZM1543.0 194.1a2.8 2.1 0 1 0 5.6 0a2.8 2.1 0 1 0 -5.6 0ZM1540.0 201.8a2.6 1.9 0 1 0 5.2 0a2.6 1.9 0 1 0 -5.2 0ZM1567.1 173.7a2.5 1.9 0 1 0 4.9 0a2.5 1.9 0 1 0 -4.9 0ZM1589.9 184.8a2.8 2.1 0 1 0 5.5 0a2.8 2.1 0 1 0 -5.5 0ZM1540.0 198.7a1.9 1.4 0 1 0 3.8 0a1.9 1.4 0 1 0 -3.8 0ZM1563.5 243.1a3.0 2.3 0 1 0 6.0 0a3.0 2.3 0 1 0 -6.0 0ZM1592.2 202.0a2.2 1.7 0 1 0 4.4 0a2.2 1.7 0 1 0 -4.4 0ZM1569.0 249.7a2.8 2.1 0 1 0 5.6 0a2.8 2.1 0 1 0 -5.6 0ZM1470.5 306.8a2.4 1.8 0 1 0 4.9 0a2.4 1.8 0 1 0 -4.9 0ZM1446.5 249.9a2.4 1.8 0 1 0 4.9 0a2.4 1.8 0 1 0 -4.9 0ZM1492.4 258.2a3.2 2.4 0 1 0 6.3 0a3.2 2.4 0 1 0 -6.3 0ZM1464.7 297.2a3.2 2.4 0 1 0 6.3 0a3.2 2.4 0 1 0 -6.3 0ZM1462.5 291.1a3.0 2.3 0 1 0 6.0 0a3.0 2.3 0 1 0 -6.0 0ZM1449.6 281.3a2.2 1.7 0 1 0 4.4 0a2.2 1.7 0 1 0 -4.4 0ZM1487.6 282.9a2.9 2.2 0 1 0 5.7 0a2.9 2.2 0 1 0 -5.7 0ZM1444.4 235.4a2.8 2.1 0 1 0 5.6 0a2.8 2.1 0 1 0 -5.6 0ZM1447.0 224.7a2.1 1.6 0 1 0 4.1 0a2.1 1.6 0 1 0 -4.1 0ZM1481.2 295.8a3.0 2.2 0 1 0 6.0 0a3.0 2.2 0 1 0 -6.0 0ZM1475.6 305.2a3.0 2.2 0 1 0 5.9 0a3.0 2.2 0 1 0 -5.9 0ZM1469.8 203.6a2.0 1.5 0 1 0 4.0 0a2.0 1.5 0 1 0 -4.0 0ZM1480.6 204.7a1.8 1.4 0 1 0 3.7 0a1.8 1.4 0 1 0 -3.7 0ZM1446.9 221.1a3.0 2.2 0 1 0 5.9 0a3.0 2.2 0 1 0 -5.9 0ZM1465.6 196.4a2.3 1.7 0 1 0 4.6 0a2.3 1.7 0 1 0 -4.6 0ZM1493.1 227.6a2.4 1.8 0 1 0 4.9 0a2.4 1.8 0 1 0 -4.9 0ZM1491.6 283.5a2.8 2.1 0 1 0 5.5 0a2.8 2.1 0 1 0 -5.5 0ZM1447.1 244.0a1.9 1.4 0 1 0 3.7 0a1.9 1.4 0 1 0 -3.7 0ZM1456.3 215.8a2.9 2.1 0 1 0 5.7 0a2.9 2.1 0 1 0 -5.7 0ZM1449.6 209.6a2.7 2.0 0 1 0 5.4 0a2.7 2.0 0 1 0 -5.4 0ZM1472.5 200.6a3.1 2.3 0 1 0 6.2 0a3.1 2.3 0 1 0 -6.2 0ZM1448.8 221.7a2.3 1.8 0 1 0 4.7 0a2.3 1.8 0 1 0 -4.7 0ZM1486.4 203.6a2.6 1.9 0 1 0 5.2 0a2.6 1.9 0 1 0 -5.2 0ZM1449.0 211.8a3.2 2.4 0 1 0 6.4 0a3.2 2.4 0 1 0 -6.4 0ZM1481.5 305.9a2.2 1.6 0 1 0 4.4 0a2.2 1.6 0 1 0 -4.4 0ZM1445.2 271.4a2.9 2.2 0 1 0 5.9 0a2.9 2.2 0 1 0 -5.9 0ZM1458.0 290.0a2.5 1.9 0 1 0 5.1 0a2.5 1.9 0 1 0 -5.1 0ZM1446.6 255.4a2.2 1.7 0 1 0 4.4 0a2.2 1.7 0 1 0 -4.4 0ZM1501.4 253.3a2.3 1.7 0 1 0 4.6 0a2.3 1.7 0 1 0 -4.6 0ZM1495.3 221.1a2.0 1.5 0 1 0 3.9 0a2.0 1.5 0 1 0 -3.9 0ZM1482.7 294.1a2.1 1.6 0 1 0 4.2 0a2.1 1.6 0 1 0 -4.2 0ZM1493.9 283.7a2.5 1.9 0 1 0 5.0 0a2.5 1.9 0 1 0 -5.0 0ZM1486.3 291.9a2.8 2.1 0 1 0 5.5 0a2.8 2.1 0 1 0 -5.5 0ZM1485.0 205.2a2.1 1.6 0 1 0 4.2 0a2.1 1.6 0 1 0 -4.2 0ZM1497.5 261.6a2.5 1.9 0 1 0 5.1 0a2.5 1.9 0 1 0 -5.1 0ZM1496.0 247.4a1.9 1.4 0 1 0 3.8 0a1.9 1.4 0 1 0 -3.8 0ZM1444.5 238.6a2.1 1.6 0 1 0 4.3 0a2.1 1.6 0 1 0 -4.3 0ZM1467.2 295.3a3.0 2.2 0 1 0 6.0 0a3.0 2.2 0 1 0 -6.0 0ZM1450.0 227.1a2.3 1.7 0 1 0 4.6 0a2.3 1.7 0 1 0 -4.6 0ZM1470.3 293.1a3.0 2.2 0 1 0 5.9 0a3.0 2.2 0 1 0 -5.9 0ZM1474.4 200.2a2.3 1.7 0 1 0 4.6 0a2.3 1.7 0 1 0 -4.6 0ZM1493.0 228.6a2.8 2.1 0 1 0 5.6 0a2.8 2.1 0 1 0 -5.6 0ZM1492.1 224.4a2.9 2.2 0 1 0 5.8 0a2.9 2.2 0 1 0 -5.8 0ZM1459.5 304.1a2.0 1.5 0 1 0 4.0 0a2.0 1.5 0 1 0 -4.0 0ZM1484.3 298.5a2.3 1.7 0 1 0 4.6 0a2.3 1.7 0 1 0 -4.6 0ZM1443.8 264.8a2.0 1.5 0 1 0 4.0 0a2.0 1.5 0 1 0 -4.0 0ZM1475.9 302.6a2.1 1.6 0 1 0 4.3 0a2.1 1.6 0 1 0 -4.3 0ZM1448.6 263.1a2.7 2.0 0 1 0 5.4 0a2.7 2.0 0 1 0 -5.4 0ZM1458.4 212.3a2.9 2.2 0 1 0 5.8 0a2.9 2.2 0 1 0 -5.8 0ZM1493.5 230.3a2.9 2.2 0 1 0 5.8 0a2.9 2.2 0 1 0 -5.8 0ZM1460.2 304.2a3.1 2.4 0 1 0 6.3 0a3.1 2.4 0 1 0 -6.3 0ZM1464.8 200.2a2.3 1.7 0 1 0 4.6 0a2.3 1.7 0 1 0 -4.6 0ZM1482.5 302.9a3.1 2.3 0 1 0 6.2 0a3.1 2.3 0 1 0 -6.2 0ZM1463.9 191.7a2.3 1.7 0 1 0 4.5 0a2.3 1.7 0 1 0 -4.5 0ZM1493.3 274.7a3.2 2.4 0 1 0 6.4 0a3.2 2.4 0 1 0 -6.4 0ZM1447.2 216.4a2.7 2.0 0 1 0 5.4 0a2.7 2.0 0 1 0 -5.4 0ZM1449.6 276.4a2.1 1.6 0 1 0 4.3 0a2.1 1.6 0 1 0 -4.3 0ZM1447.6 287.2a3.1 2.3 0 1 0 6.2 0a3.1 2.3 0 1 0 -6.2 0ZM1450.5 212.7a2.3 1.7 0 1 0 4.5 0a2.3 1.7 0 1 0 -4.5 0ZM1453.7 202.5a1.9 1.4 0 1 0 3.8 0a1.9 1.4 0 1 0 -3.8 0ZM1495.1 241.8a1.9 1.4 0 1 0 3.7 0a1.9 1.4 0 1 0 -3.7 0ZM1496.1 256.3a2.8 2.1 0 1 0 5.7 0a2.8 2.1 0 1 0 -5.7 0ZM1472.7 308.7a2.9 2.2 0 1 0 5.7 0a2.9 2.2 0 1 0 -5.7 0ZM1490.1 292.7a2.1 1.6 0 1 0 4.2 0a2.1 1.6 0 1 0 -4.2 0ZM1465.7 205.7a2.9 2.2 0 1 0 5.8 0a2.9 2.2 0 1 0 -5.8 0ZM1455.8 294.1a1.9 1.4 0 1 0 3.8 0a1.9 1.4 0 1 0 -3.8 0ZM1446.7 249.1a2.0 1.5 0 1 0 4.0 0a2.0 1.5 0 1 0 -4.0 0ZM1445.4 277.2a1.9 1.4 0 1 0 3.7 0a1.9 1.4 0 1 0 -3.7 0ZM1495.0 237.1a2.9 2.2 0 1 0 5.9 0a2.9 2.2 0 1 0 -5.9 0ZM1481.7 199.6a2.7 2.0 0 1 0 5.3 0a2.7 2.0 0 1 0 -5.3 0Z" fill="#8e92b0" fill-opacity="0.85"/>
<ellipse cx="1437" cy="94.2" rx="16" ry="29.5" fill="#e9ecf3" filter="url(#blur2)"/>
<ellipse cx="1521" cy="91.3" rx="19" ry="26.5" fill="#e9ecf3" filter="url(#blur2)"/>
<ellipse cx="1630.1" cy="109" rx="22" ry="43" fill="#e9ecf3" filter="url(#blur2)"/>
<ellipse cx="1571.2" cy="207.7" rx="19" ry="29.5" fill="#e9ecf3" filter="url(#blur2)"/>
<ellipse cx="1473.9" cy="249" rx="19" ry="38" fill="#e9ecf3" filter="url(#blur2)"/>
<rect x="1417.9" y="55.2" width="244.7" height="245.4" filter="url(#tex)" style="mix-blend-mode:soft-light" opacity="0.35"/>
</g>
<rect x="1417.9" y="55.2" width="244.7" height="245.4" fill="none" stroke="#000" stroke-width="2"/>
<line x1="1598.4" y1="288" x2="1649.6" y2="288" stroke="#1a0f0f" stroke-width="2.6"/>
<clipPath id="clipp6"><rect x="1417.9" y="305.6" width="244.7" height="245.7"/></clipPath>
<g clip-path="url(#clipp6)">
<rect x="1417.9" y="305.6" width="244.7" height="245.7" fill="#d89670"/>
<path d="M1657.2 417.9A3.7 2.7 58 1 0 1653.3 411.7A3.7 2.7 58 1 0 1657.2 417.9ZM1665.0 342.1A3.9 3.3 31 1 0 1658.4 338.0A3.9 3.3 31 1 0 1665.0 342.1ZM1632.8 317.7A3.5 3.3 137 1 0 1637.9 313.0A3.5 3.3 137 1 0 1632.8 317.7ZM1639.2 477.6A3.5 3.2 167 1 0 1646.1 476.1A3.5 3.2 167 1 0 1639.2 477.6ZM1505.2 349.2A2.9 1.7 162 1 0 1510.7 347.5A2.9 1.7 162 1 0 1505.2 349.2ZM1522.2 547.9A2.4 1.8 108 1 0 1523.7 543.4A2.4 1.8 108 1 0 1522.2 547.9ZM1506.0 480.9A2.7 1.5 159 1 0 1511.0 479.1A2.7 1.5 159 1 0 1506.0 480.9ZM1551.5 388.6A3.6 2.1 54 1 0 1547.4 382.7A3.6 2.1 54 1 0 1551.5 388.6ZM1537.3 519.2A3.3 2.4 112 1 0 1539.8 513.2A3.3 2.4 112 1 0 1537.3 519.2ZM1648.3 398.6A2.5 1.9 24 1 0 1643.7 396.6A2.5 1.9 24 1 0 1648.3 398.6ZM1480.7 467.5A3.0 1.9 0 1 0 1474.7 467.5A3.0 1.9 0 1 0 1480.7 467.5ZM1656.1 516.0A3.3 2.6 86 1 0 1655.6 509.3A3.3 2.6 86 1 0 1656.1 516.0ZM1653.1 552.4A3.9 3.2 118 1 0 1656.8 545.6A3.9 3.2 118 1 0 1653.1 552.4ZM1646.2 365.0A3.1 2.4 58 1 0 1642.9 359.8A3.1 2.4 58 1 0 1646.2 365.0ZM1563.4 452.6A3.9 2.8 73 1 0 1561.2 445.2A3.9 2.8 73 1 0 1563.4 452.6ZM1550.3 307.1A2.3 1.3 158 1 0 1554.5 305.5A2.3 1.3 158 1 0 1550.3 307.1ZM1632.5 492.8A2.7 2.1 27 1 0 1627.8 490.4A2.7 2.1 27 1 0 1632.5 492.8ZM1546.4 435.6A3.4 2.0 166 1 0 1553.1 434.0A3.4 2.0 166 1 0 1546.4 435.6ZM1560.0 552.3A2.4 2.0 147 1 0 1564.0 549.7A2.4 2.0 147 1 0 1560.0 552.3ZM1659.3 365.9A2.8 2.5 125 1 0 1662.6 361.4A2.8 2.5 125 1 0 1659.3 365.9ZM1447.8 455.4A2.7 2.4 18 1 0 1442.6 453.7A2.7 2.4 18 1 0 1447.8 455.4ZM1592.7 405.5A2.5 1.6 143 1 0 1596.7 402.6A2.5 1.6 143 1 0 1592.7 405.5ZM1648.7 544.9A2.3 2.1 112 1 0 1650.5 540.8A2.3 2.1 112 1 0 1648.7 544.9ZM1516.0 317.3A3.5 2.7 38 1 0 1510.6 312.9A3.5 2.7 38 1 0 1516.0 317.3ZM1546.2 328.2A3.9 3.5 131 1 0 1551.4 322.4A3.9 3.5 131 1 0 1546.2 328.2ZM1658.0 350.3A3.1 2.9 162 1 0 1663.8 348.5A3.1 2.9 162 1 0 1658.0 350.3ZM1574.3 335.9A3.1 2.4 96 1 0 1575.0 329.8A3.1 2.4 96 1 0 1574.3 335.9ZM1485.4 360.4A2.7 1.8 173 1 0 1490.9 359.8A2.7 1.8 173 1 0 1485.4 360.4ZM1463.1 356.8A4.0 2.4 5 1 0 1455.2 355.9A4.0 2.4 5 1 0 1463.1 356.8ZM1510.6 443.2A3.4 3.0 164 1 0 1517.2 441.5A3.4 3.0 164 1 0 1510.6 443.2ZM1419.2 503.8A2.6 2.1 148 1 0 1423.6 501.1A2.6 2.1 148 1 0 1419.2 503.8ZM1446.0 442.3A3.9 2.8 115 1 0 1449.3 435.3A3.9 2.8 115 1 0 1446.0 442.3ZM1607.9 395.3A2.4 2.0 4 1 0 1603.1 395.0A2.4 2.0 4 1 0 1607.9 395.3ZM1644.5 427.1A3.2 1.9 96 1 0 1645.3 420.7A3.2 1.9 96 1 0 1644.5 427.1ZM1525.2 468.3A2.4 1.6 97 1 0 1525.8 463.6A2.4 1.6 97 1 0 1525.2 468.3ZM1607.8 470.3A2.2 2.1 71 1 0 1606.3 466.1A2.2 2.1 71 1 0 1607.8 470.3ZM1576.3 550.1A3.7 2.6 46 1 0 1571.2 544.8A3.7 2.6 46 1 0 1576.3 550.1ZM1540.1 429.7A2.4 1.9 151 1 0 1544.4 427.4A2.4 1.9 151 1 0 1540.1 429.7ZM1458.7 458.6A3.2 2.0 154 1 0 1464.4 455.8A3.2 2.0 154 1 0 1458.7 458.6ZM1453.1 499.1A2.3 2.1 48 1 0 1450.0 495.6A2.3 2.1 48 1 0 1453.1 499.1ZM1590.6 471.4A3.4 2.9 48 1 0 1586.1 466.2A3.4 2.9 48 1 0 1590.6 471.4ZM1527.3 454.2A3.5 2.5 63 1 0 1524.2 448.0A3.5 2.5 63 1 0 1527.3 454.2ZM1569.2 331.0A3.2 2.3 123 1 0 1572.6 325.6A3.2 2.3 123 1 0 1569.2 331.0ZM1501.4 320.2A3.5 2.3 12 1 0 1494.7 318.7A3.5 2.3 12 1 0 1501.4 320.2ZM1431.6 539.6A3.1 1.9 11 1 0 1425.5 538.4A3.1 1.9 11 1 0 1431.6 539.6ZM1554.4 414.6A2.3 1.8 91 1 0 1554.5 410.0A2.3 1.8 91 1 0 1554.4 414.6ZM1562.1 332.3A2.2 1.8 0 1 0 1557.7 332.3A2.2 1.8 0 1 0 1562.1 332.3ZM1545.8 403.0A3.8 2.9 26 1 0 1539.1 399.6A3.8 2.9 26 1 0 1545.8 403.0ZM1454.6 509.5A2.6 2.1 63 1 0 1452.3 504.8A2.6 2.1 63 1 0 1454.6 509.5ZM1494.2 398.6A3.3 2.3 60 1 0 1490.9 392.8A3.3 2.3 60 1 0 1494.2 398.6ZM1502.9 517.0A4.0 3.4 136 1 0 1508.6 511.6A4.0 3.4 136 1 0 1502.9 517.0ZM1513.5 487.0A3.4 3.2 43 1 0 1508.5 482.3A3.4 3.2 43 1 0 1513.5 487.0ZM1414.9 431.7A3.5 2.4 175 1 0 1421.9 431.1A3.5 2.4 175 1 0 1414.9 431.7ZM1467.6 466.9A3.7 3.5 69 1 0 1465.0 459.9A3.7 3.5 69 1 0 1467.6 466.9ZM1594.2 342.8A3.1 1.9 139 1 0 1598.9 338.8A3.1 1.9 139 1 0 1594.2 342.8ZM1545.2 321.4A4.0 3.0 153 1 0 1552.2 317.9A4.0 3.0 153 1 0 1545.2 321.4ZM1642.5 453.0A3.0 2.5 89 1 0 1642.4 447.0A3.0 2.5 89 1 0 1642.5 453.0ZM1460.1 308.7A3.6 3.3 128 1 0 1464.5 303.1A3.6 3.3 128 1 0 1460.1 308.7ZM1546.0 513.4A2.8 1.9 141 1 0 1550.4 509.9A2.8 1.9 141 1 0 1546.0 513.4ZM1635.4 445.8A3.2 2.5 70 1 0 1633.3 439.8A3.2 2.5 70 1 0 1635.4 445.8ZM1523.4 325.5A3.3 2.8 63 1 0 1520.5 319.7A3.3 2.8 63 1 0 1523.4 325.5ZM1590.3 488.7A3.4 2.1 80 1 0 1589.1 482.0A3.4 2.1 80 1 0 1590.3 488.7ZM1567.2 523.7A2.2 1.3 34 1 0 1563.5 521.1A2.2 1.3 34 1 0 1567.2 523.7ZM1610.0 346.8A3.2 2.1 124 1 0 1613.6 341.6A3.2 2.1 124 1 0 1610.0 346.8ZM1519.4 374.0A3.2 2.9 155 1 0 1525.2 371.3A3.2 2.9 155 1 0 1519.4 374.0ZM1547.3 485.1A3.9 3.2 111 1 0 1550.1 477.9A3.9 3.2 111 1 0 1547.3 485.1ZM1606.4 336.7A3.2 2.1 89 1 0 1606.3 330.3A3.2 2.1 89 1 0 1606.4 336.7ZM1435.7 376.1A3.1 2.7 176 1 0 1441.9 375.7A3.1 2.7 176 1 0 1435.7 376.1ZM1659.9 459.8A3.7 2.6 21 1 0 1653.1 457.1A3.7 2.6 21 1 0 1659.9 459.8ZM1495.7 473.8A3.2 1.9 39 1 0 1490.7 469.7A3.2 1.9 39 1 0 1495.7 473.8ZM1583.0 537.7A3.0 2.3 161 1 0 1588.7 535.7A3.0 2.3 161 1 0 1583.0 537.7ZM1600.7 473.8A3.2 2.8 58 1 0 1597.4 468.4A3.2 2.8 58 1 0 1600.7 473.8ZM1427.6 505.3A3.4 2.0 169 1 0 1434.3 504.1A3.4 2.0 169 1 0 1427.6 505.3ZM1529.3 419.3A2.3 1.4 145 1 0 1533.1 416.6A2.3 1.4 145 1 0 1529.3 419.3ZM1588.4 447.6A3.2 2.2 141 1 0 1593.4 443.8A3.2 2.2 141 1 0 1588.4 447.6ZM1655.7 329.4A2.7 2.3 124 1 0 1658.8 324.9A2.7 2.3 124 1 0 1655.7 329.4ZM1612.3 339.3A2.9 2.2 4 1 0 1606.4 338.9A2.9 2.2 4 1 0 1612.3 339.3ZM1559.7 347.0A3.1 2.7 16 1 0 1553.7 345.2A3.1 2.7 16 1 0 1559.7 347.0ZM1645.6 491.6A2.9 1.7 123 1 0 1648.8 486.9A2.9 1.7 123 1 0 1645.6 491.6ZM1524.9 553.0A3.0 2.4 60 1 0 1521.9 547.7A3.0 2.4 60 1 0 1524.9 553.0ZM1455.9 408.1A2.6 2.0 44 1 0 1452.2 404.4A2.6 2.0 44 1 0 1455.9 408.1ZM1598.7 516.8A3.4 2.3 9 1 0 1591.9 515.7A3.4 2.3 9 1 0 1598.7 516.8ZM1600.3 407.6A4.0 2.4 110 1 0 1603.1 400.2A4.0 2.4 110 1 0 1600.3 407.6ZM1630.6 381.8A2.9 1.9 2 1 0 1624.8 381.5A2.9 1.9 2 1 0 1630.6 381.8ZM1649.9 405.2A3.7 2.0 162 1 0 1656.9 402.9A3.7 2.0 162 1 0 1649.9 405.2ZM1537.9 512.5A2.7 1.8 82 1 0 1537.2 507.1A2.7 1.8 82 1 0 1537.9 512.5ZM1520.9 387.3A2.5 1.4 3 1 0 1515.9 387.0A2.5 1.4 3 1 0 1520.9 387.3ZM1452.8 359.6A3.7 3.0 100 1 0 1454.2 352.3A3.7 3.0 100 1 0 1452.8 359.6ZM1432.0 384.1A3.9 3.6 161 1 0 1439.4 381.7A3.9 3.6 161 1 0 1432.0 384.1ZM1505.7 467.9A2.7 2.1 95 1 0 1506.3 462.6A2.7 2.1 95 1 0 1505.7 467.9ZM1561.5 321.3A2.6 1.7 93 1 0 1561.8 316.1A2.6 1.7 93 1 0 1561.5 321.3ZM1495.3 400.6A3.1 2.4 64 1 0 1492.6 395.0A3.1 2.4 64 1 0 1495.3 400.6ZM1501.3 449.3A3.3 2.8 113 1 0 1503.9 443.2A3.3 2.8 113 1 0 1501.3 449.3ZM1444.2 393.8A3.4 2.8 163 1 0 1450.7 391.8A3.4 2.8 163 1 0 1444.2 393.8ZM1596.1 455.8A3.3 2.2 103 1 0 1597.6 449.4A3.3 2.2 103 1 0 1596.1 455.8ZM1504.8 387.8A2.6 2.4 174 1 0 1510.0 387.2A2.6 2.4 174 1 0 1504.8 387.8ZM1494.4 433.7A2.3 2.0 48 1 0 1491.3 430.3A2.3 2.0 48 1 0 1494.4 433.7ZM1625.4 366.0A3.1 2.6 107 1 0 1627.2 360.1A3.1 2.6 107 1 0 1625.4 366.0ZM1640.7 488.9A3.1 2.2 71 1 0 1638.7 483.1A3.1 2.2 71 1 0 1640.7 488.9ZM1527.8 510.4A2.3 1.5 125 1 0 1530.5 506.7A2.3 1.5 125 1 0 1527.8 510.4ZM1446.6 504.0A2.8 2.6 42 1 0 1442.5 500.2A2.8 2.6 42 1 0 1446.6 504.0ZM1604.7 518.3A2.8 2.2 139 1 0 1609.0 514.7A2.8 2.2 139 1 0 1604.7 518.3ZM1644.7 446.9A3.8 3.5 174 1 0 1652.2 446.1A3.8 3.5 174 1 0 1644.7 446.9ZM1471.2 418.8A3.3 2.6 18 1 0 1465.0 416.7A3.3 2.6 18 1 0 1471.2 418.8ZM1560.4 534.3A3.2 2.0 55 1 0 1556.8 529.0A3.2 2.0 55 1 0 1560.4 534.3ZM1639.8 411.0A2.3 1.6 103 1 0 1640.9 406.4A2.3 1.6 103 1 0 1639.8 411.0ZM1460.1 428.6A3.1 2.5 49 1 0 1456.1 423.9A3.1 2.5 49 1 0 1460.1 428.6ZM1464.9 422.3A2.5 2.0 70 1 0 1463.2 417.6A2.5 2.0 70 1 0 1464.9 422.3ZM1629.0 352.3A3.2 2.1 24 1 0 1623.3 349.7A3.2 2.1 24 1 0 1629.0 352.3ZM1449.4 445.7A3.1 2.5 122 1 0 1452.7 440.4A3.1 2.5 122 1 0 1449.4 445.7ZM1439.8 546.0A3.9 2.5 30 1 0 1433.1 542.0A3.9 2.5 30 1 0 1439.8 546.0ZM1608.9 326.7A3.4 2.3 173 1 0 1615.6 326.0A3.4 2.3 173 1 0 1608.9 326.7ZM1449.2 428.1A2.4 1.5 128 1 0 1452.3 424.3A2.4 1.5 128 1 0 1449.2 428.1ZM1613.0 346.9A4.0 2.4 53 1 0 1608.2 340.6A4.0 2.4 53 1 0 1613.0 346.9ZM1476.0 369.9A3.3 1.8 145 1 0 1481.4 366.2A3.3 1.8 145 1 0 1476.0 369.9ZM1619.6 543.2A3.4 2.0 51 1 0 1615.4 537.9A3.4 2.0 51 1 0 1619.6 543.2ZM1447.4 536.9A3.3 2.8 138 1 0 1452.3 532.5A3.3 2.8 138 1 0 1447.4 536.9ZM1601.8 546.0A2.5 1.8 85 1 0 1601.3 541.0A2.5 1.8 85 1 0 1601.8 546.0ZM1566.0 430.8A2.7 1.8 121 1 0 1568.7 426.3A2.7 1.8 121 1 0 1566.0 430.8ZM1434.4 509.7A2.4 1.7 157 1 0 1438.7 507.8A2.4 1.7 157 1 0 1434.4 509.7ZM1462.3 435.4A2.6 1.5 110 1 0 1464.0 430.6A2.6 1.5 110 1 0 1462.3 435.4ZM1635.9 409.8A3.9 2.6 122 1 0 1640.0 403.3A3.9 2.6 122 1 0 1635.9 409.8ZM1631.6 352.6A3.5 2.3 71 1 0 1629.4 345.9A3.5 2.3 71 1 0 1631.6 352.6ZM1450.6 527.3A2.7 1.9 152 1 0 1455.4 524.8A2.7 1.9 152 1 0 1450.6 527.3ZM1518.1 450.5A3.3 2.8 80 1 0 1517.0 444.1A3.3 2.8 80 1 0 1518.1 450.5ZM1631.0 364.0A4.0 2.2 146 1 0 1637.6 359.6A4.0 2.2 146 1 0 1631.0 364.0ZM1542.8 522.5A2.5 1.5 138 1 0 1546.6 519.2A2.5 1.5 138 1 0 1542.8 522.5ZM1522.1 375.9A3.7 2.9 37 1 0 1516.2 371.3A3.7 2.9 37 1 0 1522.1 375.9ZM1558.5 455.1A2.3 1.7 107 1 0 1559.9 450.7A2.3 1.7 107 1 0 1558.5 455.1ZM1465.2 528.6A2.9 2.2 57 1 0 1462.1 523.8A2.9 2.2 57 1 0 1465.2 528.6ZM1525.7 548.4A2.9 2.1 46 1 0 1521.7 544.2A2.9 2.1 46 1 0 1525.7 548.4ZM1521.0 377.3A3.9 3.6 26 1 0 1513.9 373.9A3.9 3.6 26 1 0 1521.0 377.3ZM1608.8 527.8A3.4 3.2 48 1 0 1604.3 522.7A3.4 3.2 48 1 0 1608.8 527.8ZM1639.2 500.3A3.4 2.5 130 1 0 1643.7 495.1A3.4 2.5 130 1 0 1639.2 500.3ZM1651.4 349.7A2.2 1.8 11 1 0 1647.0 348.7A2.2 1.8 11 1 0 1651.4 349.7ZM1638.6 518.9A4.0 2.4 77 1 0 1636.9 511.1A4.0 2.4 77 1 0 1638.6 518.9ZM1435.2 479.7A2.4 1.4 36 1 0 1431.3 476.8A2.4 1.4 36 1 0 1435.2 479.7ZM1455.1 522.8A3.9 3.2 125 1 0 1459.7 516.5A3.9 3.2 125 1 0 1455.1 522.8ZM1526.1 356.3A2.5 1.5 16 1 0 1521.2 354.8A2.5 1.5 16 1 0 1526.1 356.3ZM1487.0 443.8A2.3 1.8 89 1 0 1487.0 439.1A2.3 1.8 89 1 0 1487.0 443.8ZM1490.5 327.1A2.9 2.6 132 1 0 1494.5 322.8A2.9 2.6 132 1 0 1490.5 327.1ZM1594.1 380.5A2.5 2.2 15 1 0 1589.2 379.1A2.5 2.2 15 1 0 1594.1 380.5ZM1532.4 396.0A2.5 1.5 54 1 0 1529.5 391.9A2.5 1.5 54 1 0 1532.4 396.0ZM1554.3 429.0A3.7 3.0 173 1 0 1561.6 428.2A3.7 3.0 173 1 0 1554.3 429.0ZM1474.9 382.4A2.8 1.7 50 1 0 1471.3 378.0A2.8 1.7 50 1 0 1474.9 382.4ZM1538.6 403.1A2.7 2.3 131 1 0 1542.2 399.0A2.7 2.3 131 1 0 1538.6 403.1ZM1640.3 440.0A3.2 2.6 166 1 0 1646.6 438.4A3.2 2.6 166 1 0 1640.3 440.0ZM1496.0 517.1A3.1 2.7 141 1 0 1500.8 513.2A3.1 2.7 141 1 0 1496.0 517.1ZM1490.1 454.2A3.0 1.9 68 1 0 1487.9 448.6A3.0 1.9 68 1 0 1490.1 454.2ZM1651.6 391.0A2.4 2.0 85 1 0 1651.1 386.1A2.4 2.0 85 1 0 1651.6 391.0ZM1566.5 340.0A3.1 2.3 103 1 0 1568.0 333.9A3.1 2.3 103 1 0 1566.5 340.0ZM1538.0 442.1A4.0 2.4 9 1 0 1530.1 440.8A4.0 2.4 9 1 0 1538.0 442.1ZM1501.5 336.0A2.3 1.9 150 1 0 1505.5 333.8A2.3 1.9 150 1 0 1501.5 336.0ZM1416.7 351.5A2.6 1.8 178 1 0 1421.9 351.4A2.6 1.8 178 1 0 1416.7 351.5ZM1438.6 403.9A3.1 2.0 60 1 0 1435.5 398.4A3.1 2.0 60 1 0 1438.6 403.9ZM1592.1 476.4A3.6 3.0 60 1 0 1588.5 470.0A3.6 3.0 60 1 0 1592.1 476.4ZM1449.3 312.4A3.4 3.0 126 1 0 1453.3 306.9A3.4 3.0 126 1 0 1449.3 312.4ZM1567.7 406.8A2.3 1.7 20 1 0 1563.4 405.2A2.3 1.7 20 1 0 1567.7 406.8ZM1487.1 495.1A3.3 3.0 154 1 0 1493.0 492.3A3.3 3.0 154 1 0 1487.1 495.1ZM1593.5 537.8A2.5 2.1 113 1 0 1595.5 533.3A2.5 2.1 113 1 0 1593.5 537.8ZM1550.6 337.8A3.1 2.8 128 1 0 1554.5 332.9A3.1 2.8 128 1 0 1550.6 337.8ZM1643.4 498.2A2.3 1.6 152 1 0 1647.5 496.0A2.3 1.6 152 1 0 1643.4 498.2ZM1595.5 428.8A3.0 2.1 66 1 0 1593.1 423.3A3.0 2.1 66 1 0 1595.5 428.8ZM1507.4 422.9A3.3 2.0 30 1 0 1501.8 419.6A3.3 2.0 30 1 0 1507.4 422.9ZM1573.7 449.4A3.1 2.3 63 1 0 1570.9 443.9A3.1 2.3 63 1 0 1573.7 449.4ZM1661.0 381.8A3.2 2.1 108 1 0 1663.0 375.8A3.2 2.1 108 1 0 1661.0 381.8ZM1492.9 411.8A2.3 1.6 81 1 0 1492.2 407.3A2.3 1.6 81 1 0 1492.9 411.8ZM1570.3 496.9A2.3 1.6 43 1 0 1567.0 493.7A2.3 1.6 43 1 0 1570.3 496.9ZM1526.9 529.2A3.9 3.3 168 1 0 1534.5 527.6A3.9 3.3 168 1 0 1526.9 529.2ZM1542.1 459.2A2.4 2.1 47 1 0 1538.8 455.6A2.4 2.1 47 1 0 1542.1 459.2ZM1550.6 363.8A3.1 2.2 158 1 0 1556.4 361.4A3.1 2.2 158 1 0 1550.6 363.8ZM1545.6 496.6A2.7 2.0 95 1 0 1546.1 491.3A2.7 2.0 95 1 0 1545.6 496.6ZM1495.1 409.2A2.2 1.4 59 1 0 1492.8 405.3A2.2 1.4 59 1 0 1495.1 409.2ZM1587.1 450.6A3.5 2.0 39 1 0 1581.7 446.2A3.5 2.0 39 1 0 1587.1 450.6ZM1645.3 341.7A2.5 1.9 82 1 0 1644.7 336.7A2.5 1.9 82 1 0 1645.3 341.7ZM1632.0 519.3A3.3 2.4 79 1 0 1630.9 512.9A3.3 2.4 79 1 0 1632.0 519.3ZM1657.9 335.6A3.1 2.6 120 1 0 1661.0 330.3A3.1 2.6 120 1 0 1657.9 335.6ZM1444.6 507.2A3.9 3.3 31 1 0 1438.0 503.2A3.9 3.3 31 1 0 1444.6 507.2ZM1636.2 342.8A2.2 1.9 124 1 0 1638.7 339.1A2.2 1.9 124 1 0 1636.2 342.8ZM1607.8 437.8A2.3 1.3 116 1 0 1609.8 433.6A2.3 1.3 116 1 0 1607.8 437.8ZM1604.5 394.2A3.6 2.5 82 1 0 1603.6 387.1A3.6 2.5 82 1 0 1604.5 394.2ZM1584.0 477.6A3.4 2.0 124 1 0 1587.8 472.0A3.4 2.0 124 1 0 1584.0 477.6ZM1611.3 492.6A3.3 2.6 43 1 0 1606.5 488.0A3.3 2.6 43 1 0 1611.3 492.6ZM1659.7 546.3A2.7 2.2 135 1 0 1663.5 542.6A2.7 2.2 135 1 0 1659.7 546.3ZM1531.2 378.4A2.8 1.7 144 1 0 1535.9 375.1A2.8 1.7 144 1 0 1531.2 378.4ZM1543.7 553.4A2.6 2.4 116 1 0 1546.0 548.8A2.6 2.4 116 1 0 1543.7 553.4ZM1554.5 332.7A2.3 1.7 21 1 0 1550.2 331.0A2.3 1.7 21 1 0 1554.5 332.7ZM1576.7 364.0A3.9 3.1 8 1 0 1569.0 362.8A3.9 3.1 8 1 0 1576.7 364.0ZM1627.2 475.3A2.6 1.8 121 1 0 1629.9 470.9A2.6 1.8 121 1 0 1627.2 475.3ZM1632.8 404.2A3.7 3.4 171 1 0 1640.0 403.1A3.7 3.4 171 1 0 1632.8 404.2ZM1567.3 508.3A2.3 1.9 153 1 0 1571.5 506.2A2.3 1.9 153 1 0 1567.3 508.3ZM1504.3 516.7A2.8 2.5 59 1 0 1501.4 511.8A2.8 2.5 59 1 0 1504.3 516.7ZM1554.8 460.7A2.4 1.4 62 1 0 1552.6 456.4A2.4 1.4 62 1 0 1554.8 460.7ZM1527.2 464.2A3.9 3.6 22 1 0 1519.9 461.1A3.9 3.6 22 1 0 1527.2 464.2ZM1589.1 335.0A2.3 1.4 161 1 0 1593.5 333.5A2.3 1.4 161 1 0 1589.1 335.0ZM1594.4 434.4A3.2 2.6 18 1 0 1588.3 432.3A3.2 2.6 18 1 0 1594.4 434.4ZM1536.7 529.3A2.3 1.9 13 1 0 1532.3 528.3A2.3 1.9 13 1 0 1536.7 529.3ZM1549.2 351.4A2.3 1.3 76 1 0 1548.2 346.9A2.3 1.3 76 1 0 1549.2 351.4ZM1657.2 344.0A3.0 2.0 65 1 0 1654.7 338.6A3.0 2.0 65 1 0 1657.2 344.0ZM1468.1 405.0A4.0 2.4 149 1 0 1475.0 401.0A4.0 2.4 149 1 0 1468.1 405.0ZM1608.9 418.6A3.4 2.7 178 1 0 1615.8 418.4A3.4 2.7 178 1 0 1608.9 418.6ZM1427.1 492.1A3.7 3.0 174 1 0 1434.5 491.5A3.7 3.0 174 1 0 1427.1 492.1ZM1430.6 459.6A3.5 2.1 96 1 0 1431.4 452.5A3.5 2.1 96 1 0 1430.6 459.6ZM1615.2 471.3A2.9 2.5 164 1 0 1620.8 469.8A2.9 2.5 164 1 0 1615.2 471.3ZM1474.7 370.5A3.7 3.1 77 1 0 1473.1 363.3A3.7 3.1 77 1 0 1474.7 370.5ZM1663.6 546.5A3.3 2.3 15 1 0 1657.3 544.7A3.3 2.3 15 1 0 1663.6 546.5ZM1423.3 404.0A3.0 1.7 40 1 0 1418.8 400.2A3.0 1.7 40 1 0 1423.3 404.0ZM1626.9 489.5A2.8 1.7 167 1 0 1632.4 488.3A2.8 1.7 167 1 0 1626.9 489.5ZM1641.4 495.8A3.4 2.8 48 1 0 1636.9 490.6A3.4 2.8 48 1 0 1641.4 495.8ZM1557.0 307.1A2.8 1.7 19 1 0 1551.8 305.2A2.8 1.7 19 1 0 1557.0 307.1ZM1594.1 416.8A2.8 2.4 115 1 0 1596.4 411.8A2.8 2.4 115 1 0 1594.1 416.8ZM1585.4 528.2A2.5 1.8 12 1 0 1580.4 527.0A2.5 1.8 12 1 0 1585.4 528.2ZM1599.9 490.4A2.3 1.6 12 1 0 1595.5 489.4A2.3 1.6 12 1 0 1599.9 490.4ZM1615.2 455.0A2.6 2.2 167 1 0 1620.3 453.9A2.6 2.2 167 1 0 1615.2 455.0ZM1633.6 402.3A2.2 1.6 47 1 0 1630.6 399.0A2.2 1.6 47 1 0 1633.6 402.3ZM1587.2 388.2A3.7 2.5 160 1 0 1594.3 385.7A3.7 2.5 160 1 0 1587.2 388.2ZM1643.1 439.8A2.3 2.0 154 1 0 1647.1 437.8A2.3 2.0 154 1 0 1643.1 439.8ZM1452.2 486.4A2.4 1.6 52 1 0 1449.3 482.6A2.4 1.6 52 1 0 1452.2 486.4ZM1452.3 464.2A4.0 3.0 169 1 0 1460.1 462.8A4.0 3.0 169 1 0 1452.3 464.2ZM1484.2 339.5A2.7 2.4 58 1 0 1481.4 334.9A2.7 2.4 58 1 0 1484.2 339.5ZM1499.9 520.9A3.3 2.3 156 1 0 1506.0 518.3A3.3 2.3 156 1 0 1499.9 520.9ZM1450.9 357.7A3.3 2.5 123 1 0 1454.5 352.2A3.3 2.5 123 1 0 1450.9 357.7ZM1618.9 475.5A2.5 2.1 42 1 0 1615.2 472.1A2.5 2.1 42 1 0 1618.9 475.5ZM1443.9 379.6A2.9 2.2 21 1 0 1438.5 377.5A2.9 2.2 21 1 0 1443.9 379.6ZM1569.6 401.1A4.0 3.0 149 1 0 1576.4 397.1A4.0 3.0 149 1 0 1569.6 401.1ZM1612.3 455.3A3.4 2.0 163 1 0 1618.8 453.4A3.4 2.0 163 1 0 1612.3 455.3ZM1655.9 533.7A2.3 1.5 56 1 0 1653.3 529.8A2.3 1.5 56 1 0 1655.9 533.7ZM1458.5 369.4A2.4 1.9 157 1 0 1462.9 367.5A2.4 1.9 157 1 0 1458.5 369.4ZM1496.5 512.4A3.8 2.9 155 1 0 1503.4 509.3A3.8 2.9 155 1 0 1496.5 512.4ZM1476.5 455.9A3.4 1.9 177 1 0 1483.2 455.6A3.4 1.9 177 1 0 1476.5 455.9ZM1485.0 434.2A3.6 2.7 22 1 0 1478.3 431.4A3.6 2.7 22 1 0 1485.0 434.2ZM1663.2 519.2A3.1 2.1 0 1 0 1657.0 519.1A3.1 2.1 0 1 0 1663.2 519.2ZM1492.9 549.5A3.6 2.2 116 1 0 1496.1 543.1A3.6 2.2 116 1 0 1492.9 549.5ZM1438.8 430.5A3.9 2.2 90 1 0 1438.9 422.6A3.9 2.2 90 1 0 1438.8 430.5ZM1652.0 331.1A3.0 2.6 151 1 0 1657.3 328.3A3.0 2.6 151 1 0 1652.0 331.1ZM1545.7 447.9A3.2 2.6 176 1 0 1552.0 447.5A3.2 2.6 176 1 0 1545.7 447.9ZM1578.0 363.1A2.6 2.0 120 1 0 1580.6 358.5A2.6 2.0 120 1 0 1578.0 363.1ZM1610.4 374.4A2.5 1.5 136 1 0 1614.1 370.9A2.5 1.5 136 1 0 1610.4 374.4ZM1422.3 308.4A3.0 2.6 176 1 0 1428.3 308.1A3.0 2.6 176 1 0 1422.3 308.4ZM1485.1 393.2A2.4 1.4 35 1 0 1481.2 390.5A2.4 1.4 35 1 0 1485.1 393.2Z" fill="#8e9ab8" fill-opacity="0.85"/>
<path d="M1417.9,336.85 C1423.05,335.49 1440,335.49 1448.85,336.11 C1457.69,336.72 1465.3,338.07 1470.95,340.53 C1476.6,342.99 1479.31,346.55 1482.74,350.85 C1486.18,355.15 1489.01,360.06 1491.59,366.32 C1494.17,372.59 1496.62,379.83 1498.22,388.43 C1499.82,397.03 1500.43,408.08 1501.17,417.91 C1501.9,427.73 1503.13,442.47 1502.64,447.38 C1502.15,452.3 1499.45,452.3 1498.22,447.38 C1496.99,442.47 1496.38,427.73 1495.27,417.91 C1494.17,408.08 1493.31,396.54 1491.59,388.43 C1489.87,380.32 1487.78,375.53 1484.96,369.27 C1482.13,363.01 1477.59,354.83 1474.64,350.85 C1471.69,346.87 1471.57,346.7 1467.27,345.39 C1462.97,344.09 1457.07,343.23 1448.85,343.04 C1440.62,342.84 1423.05,345.25 1417.9,344.22 C1412.74,343.18 1412.74,338.2 1417.9,336.85 Z" fill="#c9cbd9"/>
<path d="M1481.27,462.12 C1483.97,455.74 1490.36,447.14 1494.54,445.91 C1498.71,444.68 1502.89,448.37 1506.33,454.75 C1509.76,461.14 1513.2,473.18 1515.17,484.23 C1517.13,495.28 1518.12,509.53 1518.12,521.08 C1518.12,532.62 1521.06,548.1 1515.17,553.5 C1509.27,558.9 1488.39,561.36 1482.74,553.5 C1477.09,545.64 1482.01,517.88 1481.27,506.34 C1480.53,494.79 1478.32,491.6 1478.32,484.23 C1478.32,476.86 1478.57,468.51 1481.27,462.12 Z" fill="#d6d6e0"/>
<path d="M1532.85,509.29 C1537.77,505.11 1552.01,502.65 1559.38,503.39 C1566.75,504.13 1573.14,505.35 1577.07,513.71 C1581,522.06 1589.6,546.87 1582.97,553.5 C1576.33,560.13 1546.12,557.68 1537.28,553.5 C1528.43,549.32 1530.64,535.81 1529.91,528.45 C1529.17,521.08 1527.94,513.46 1532.85,509.29 Z" fill="#ebe7e8"/>
<path d="M1521.06,302.95 C1532.61,300.98 1582.47,301.23 1593.28,302.95 C1604.09,304.67 1589.11,311.05 1585.91,313.26 C1582.72,315.48 1581,315.48 1574.12,316.21 C1567.24,316.95 1551.77,316.21 1544.65,317.69 C1537.52,319.16 1534.82,325.55 1531.38,325.06 C1527.94,324.56 1525.73,318.42 1524.01,314.74 C1522.29,311.05 1509.52,304.91 1521.06,302.95 Z" fill="#f6f3f2"/>
<path d="M1529.91,333.9 C1532.61,330.95 1537.77,329.97 1544.65,329.48 C1551.52,328.99 1564.79,329.48 1571.17,330.95 C1577.56,332.42 1580.63,333.65 1582.97,338.32 C1585.3,342.99 1585.18,351.58 1585.18,358.95 C1585.18,366.32 1585.05,375.66 1582.97,382.54 C1580.88,389.41 1577.56,395.8 1572.65,400.22 C1567.74,404.64 1558.16,408.57 1553.49,409.06 C1548.82,409.56 1547.35,406.61 1544.65,403.17 C1541.94,399.73 1539.98,394.57 1537.28,388.43 C1534.57,382.29 1529.91,373.2 1528.43,366.32 C1526.96,359.44 1528.19,352.57 1528.43,347.16 C1528.68,341.76 1527.21,336.85 1529.91,333.9 Z" fill="#f6f3f2"/>
<path d="M1414.95,403.17 C1418.63,385.97 1431.65,404.64 1437.06,407.59 C1442.46,410.54 1445.41,414.22 1447.37,420.85 C1449.34,427.49 1449.09,440.26 1448.85,447.38 C1448.6,454.51 1447.86,459.91 1445.9,463.6 C1443.93,467.28 1438.77,463.6 1437.06,469.49 C1435.34,475.39 1436.81,492.34 1435.58,498.97 C1434.35,505.6 1433.13,507.32 1429.69,509.29 C1426.25,511.25 1417.4,528.45 1414.95,510.76 C1412.49,493.07 1411.26,420.36 1414.95,403.17 Z" fill="#f6f3f2"/>
<path d="M1665.5,370.74 C1662.55,353.06 1651.74,377.13 1647.81,382.54 C1643.88,387.94 1643.39,394.82 1641.92,403.17 C1640.45,411.52 1639.46,422.82 1638.97,432.65 C1638.48,442.47 1639.95,453.52 1638.97,462.12 C1637.99,470.72 1635.29,478.09 1633.08,484.23 C1630.87,490.37 1626.44,493.56 1625.71,498.97 C1624.97,504.37 1626.69,512.97 1628.65,516.65 C1630.62,520.34 1634.8,522.3 1637.5,521.08 C1640.2,519.85 1642.66,513.95 1644.87,509.29 C1647.08,504.62 1647.32,496.51 1650.76,493.07 C1654.2,489.63 1663.04,509.04 1665.5,488.65 C1667.96,468.26 1668.45,388.43 1665.5,370.74 Z" fill="#f6f3f2"/>
<path d="M1633.08,333.9 C1637.01,329.48 1660.1,310.07 1665.5,307.37 C1670.9,304.67 1669.43,313.26 1665.5,317.69 C1661.57,322.11 1647.32,331.2 1641.92,333.9 C1636.51,336.6 1629.15,338.32 1633.08,333.9 Z" fill="#f6f3f2"/>
<path d="M1544.65,515.18 C1550.05,508.06 1567.98,504.37 1574.12,510.76 C1580.26,517.15 1586.9,546.38 1581.49,553.5 C1576.09,560.62 1547.84,559.89 1541.7,553.5 C1535.56,547.11 1539.24,522.3 1544.65,515.18 Z" fill="#f6f3f2"/>
<ellipse cx="1442.95" cy="372.96" rx="10.32" ry="6.63" fill="#f6f3f2"/>
<circle cx="1544.65" cy="357.48" r="15.48" fill="#d8a98f"/>
<rect x="1417.9" y="305.6" width="244.7" height="245.7" filter="url(#tex)" style="mix-blend-mode:soft-light" opacity="0.35"/>
</g>
<rect x="1417.9" y="305.6" width="244.7" height="245.7" fill="none" stroke="#000" stroke-width="2"/>
<line x1="1598.4" y1="539.8" x2="1649.6" y2="539.8" stroke="#1a0f0f" stroke-width="2.6"/>
<path d="M502,488.5 C499.33,488.15 491.17,487.29 486,486.42 C480.83,485.55 474.27,484.47 471,483.3 C467.73,482.13 467.12,481.56 466.35,479.4 C465.58,477.23 465.83,472.46 466.35,470.3 C466.88,468.13 468.14,467.69 469.5,466.39 C470.86,465.09 474.5,463.79 474.5,462.49 C474.5,461.19 470.86,460.11 469.5,458.59 C468.14,457.08 466.57,455.99 466.35,453.39 C466.13,450.79 467.09,445.81 468.2,442.99 C469.31,440.17 473,438.65 473,436.49 C473,434.32 469.31,432.15 468.2,429.99 C467.09,427.82 466.38,426.08 466.35,423.48 C466.32,420.88 467.52,416.55 468,414.38 C468.48,412.21 469.2,411.78 469.2,410.48 C469.2,409.18 468.48,408.31 468,406.58 C467.52,404.85 466.62,403.11 466.35,400.08 C466.08,397.04 466.11,390.97 466.35,388.37 C466.59,385.77 467.8,385.77 467.8,384.47 C467.8,383.17 466.59,388.59 466.35,380.57 C466.11,372.55 466.16,344.38 466.35,336.36 C466.54,328.34 467.5,333.76 467.5,332.46 C467.5,331.16 466.54,336.58 466.35,328.56 C466.16,320.54 466.11,292.37 466.35,284.35 C466.59,276.33 467.8,281.75 467.8,280.45 C467.8,279.15 466.59,280.45 466.35,276.55 C466.11,272.64 466.19,260.72 466.35,257.04 C466.51,253.36 467.3,255.31 467.3,254.44 C467.3,253.57 466.51,264.84 466.35,251.84 C466.19,238.84 466.35,188.99 466.35,176.42 L465.65,176.42 C465.65,188.99 465.81,238.84 465.65,251.84 C465.49,264.84 464.7,253.57 464.7,254.44 C464.7,255.31 465.49,253.36 465.65,257.04 C465.81,260.72 465.89,272.64 465.65,276.55 C465.41,280.45 464.2,279.15 464.2,280.45 C464.2,281.75 465.41,276.33 465.65,284.35 C465.89,292.37 465.84,320.54 465.65,328.56 C465.46,336.58 464.5,331.16 464.5,332.46 C464.5,333.76 465.46,328.34 465.65,336.36 C465.84,344.38 465.89,372.55 465.65,380.57 C465.41,388.59 464.2,383.17 464.2,384.47 C464.2,385.77 465.41,385.77 465.65,388.37 C465.89,390.97 465.92,397.04 465.65,400.08 C465.38,403.11 464.48,404.85 464,406.58 C463.52,408.31 462.8,409.18 462.8,410.48 C462.8,411.78 463.52,412.21 464,414.38 C464.48,416.55 465.68,420.88 465.65,423.48 C465.62,426.08 464.91,427.82 463.8,429.99 C462.69,432.15 459,434.32 459,436.49 C459,438.65 462.69,440.17 463.8,442.99 C464.91,445.81 465.87,450.79 465.65,453.39 C465.43,455.99 463.86,457.08 462.5,458.59 C461.14,460.11 457.5,461.19 457.5,462.49 C457.5,463.79 461.14,465.09 462.5,466.39 C463.86,467.69 465.12,468.13 465.65,470.3 C466.17,472.46 466.42,477.23 465.65,479.4 C464.88,481.56 464.27,482.13 461,483.3 C457.73,484.47 451.17,485.55 446,486.42 C440.83,487.29 432.67,488.15 430,488.5 Z" fill="none" stroke="#0000ff" stroke-width="1.8" stroke-linejoin="round"/>
<line x1="459" y1="462.49" x2="473" y2="462.49" stroke="#000" stroke-width="1.7" stroke-dasharray="1.6,3.5"/>
<line x1="431" y1="488.5" x2="501" y2="488.5" stroke="#ff1a1a" stroke-width="2.1" stroke-dasharray="5,3.2"/>
<path d="M590.1,488.5 C589.55,487.2 587.8,483.52 586.8,480.7 C585.8,477.88 584.82,474.8 584.1,471.6 C583.38,468.39 582.55,465.14 582.5,461.45 C582.45,457.77 583.42,453.52 583.8,449.49 C584.18,445.46 585.13,440.95 584.8,437.27 C584.47,433.58 582.95,430.46 581.8,427.38 C580.65,424.31 578.58,421.62 577.9,418.8 C577.22,415.98 577.5,413.17 577.7,410.48 C577.9,407.79 576.95,405.71 579.1,402.68 C581.25,399.64 587.73,395.31 590.6,392.28 C593.47,389.24 596.68,387.29 596.3,384.47 C595.92,381.66 592.52,378.41 588.3,375.37 C584.08,372.34 574.47,369.09 571,366.27 C567.53,363.45 568.08,361.07 567.5,358.47 C566.92,355.87 567.03,353.48 567.5,350.66 C567.97,347.85 569.22,344.6 570.3,341.56 C571.38,338.53 574,335.49 574,332.46 C574,329.43 571.68,326.39 570.3,323.36 C568.92,320.32 565.78,317.33 565.7,314.26 C565.62,311.18 566.87,308.36 569.8,304.89 C572.73,301.43 579.38,297.52 583.3,293.45 C587.22,289.38 593.3,284.78 593.3,280.45 C593.3,276.11 587.6,271.52 583.3,267.44 C579,263.37 570.83,259.47 567.5,256 C564.17,252.53 564.27,250.11 563.3,246.64 C562.32,243.17 561.92,242.09 561.65,235.2 C561.38,228.3 560.88,212.05 561.65,205.29 C562.42,198.53 564.61,198.14 566.3,194.62 C567.99,191.11 570.33,187.26 571.8,184.22 C573.27,181.19 574.55,177.72 575.1,176.42 L547.5,176.42 C548.05,177.72 549.33,181.19 550.8,184.22 C552.27,187.26 554.61,191.11 556.3,194.62 C557.99,198.14 560.17,198.53 560.95,205.29 C561.72,212.05 561.22,228.3 560.95,235.2 C560.67,242.09 560.27,243.17 559.3,246.64 C558.32,250.11 558.43,252.53 555.1,256 C551.77,259.47 543.6,263.37 539.3,267.44 C535,271.52 529.3,276.11 529.3,280.45 C529.3,284.78 535.38,289.38 539.3,293.45 C543.22,297.52 549.87,301.43 552.8,304.89 C555.73,308.36 556.98,311.18 556.9,314.26 C556.82,317.33 553.68,320.32 552.3,323.36 C550.92,326.39 548.6,329.43 548.6,332.46 C548.6,335.49 551.22,338.53 552.3,341.56 C553.38,344.6 554.63,347.85 555.1,350.66 C555.57,353.48 555.68,355.87 555.1,358.47 C554.52,361.07 555.07,363.45 551.6,366.27 C548.13,369.09 538.52,372.34 534.3,375.37 C530.08,378.41 526.68,381.66 526.3,384.47 C525.92,387.29 529.13,389.24 532,392.28 C534.87,395.31 541.35,399.64 543.5,402.68 C545.65,405.71 544.7,407.79 544.9,410.48 C545.1,413.17 545.38,415.98 544.7,418.8 C544.02,421.62 541.95,424.31 540.8,427.38 C539.65,430.46 538.13,433.58 537.8,437.27 C537.47,440.95 538.42,445.46 538.8,449.49 C539.18,453.52 540.15,457.77 540.1,461.45 C540.05,465.14 539.22,468.39 538.5,471.6 C537.78,474.8 536.8,477.88 535.8,480.7 C534.8,483.52 533.05,487.2 532.5,488.5 Z" fill="none" stroke="#ff5f00" stroke-width="1.8" stroke-linejoin="round"/>
<line x1="527.3" y1="384.47" x2="595.3" y2="384.47" stroke="#ff1a1a" stroke-width="2.1" stroke-dasharray="5,3.2"/>
<line x1="541.3" y1="462.49" x2="581.3" y2="462.49" stroke="#000" stroke-width="1.7" stroke-dasharray="1.6,3.5"/>
<line x1="530.3" y1="280.45" x2="592.3" y2="280.45" stroke="#000" stroke-width="1.7" stroke-dasharray="1.6,3.5"/>
<path d="M404.4,97.4 V488.5 M395.9,488.5 H613.7" fill="none" stroke="#000" stroke-width="1.9"/>
<line x1="395.9" y1="488.5" x2="404.4" y2="488.5" stroke="#000" stroke-width="1.9"/>
<text x="388.9" y="499.5" font-size="32" text-anchor="end" fill="#000">0</text>
<line x1="395.9" y1="358.47" x2="404.4" y2="358.47" stroke="#000" stroke-width="1.9"/>
<text x="388.9" y="369.47" font-size="32" text-anchor="end" fill="#000">5</text>
<line x1="395.9" y1="228.43" x2="404.4" y2="228.43" stroke="#000" stroke-width="1.9"/>
<text x="388.9" y="239.43" font-size="32" text-anchor="end" fill="#000">10</text>
<line x1="395.9" y1="98.4" x2="404.4" y2="98.4" stroke="#000" stroke-width="1.9"/>
<text x="388.9" y="109.4" font-size="32" text-anchor="end" fill="#000">15</text>
<line x1="466" y1="488.5" x2="466" y2="496.8" stroke="#000" stroke-width="1.9"/>
<line x1="561.3" y1="488.5" x2="561.3" y2="496.8" stroke="#000" stroke-width="1.9"/>
<text x="468.2" y="524.2" font-size="32" text-anchor="middle" fill="#000">PN</text>
<text x="562.3" y="524.2" font-size="32" text-anchor="middle" fill="#000">Tumor</text>
<text transform="translate(341.5,121.8) rotate(-90)" font-size="32" text-anchor="end" fill="#000">CORO1C IHC scores</text>
<path d="M466,153.3 V130.8 H561.3 V153.3" fill="none" stroke="#000" stroke-width="1.9"/>
<text x="516.65" y="116.8" font-size="32" text-anchor="middle" fill="#000"><tspan font-style="italic">P</tspan> &lt; 0.0001</text>
<path d="M1186.8,488.5 C1185.83,487.46 1183.47,484.21 1181,482.26 C1178.53,480.31 1175,478.57 1172,476.8 C1169,475.02 1165.45,473.24 1163,471.6 C1160.55,469.95 1158.8,468.43 1157.3,466.91 C1155.8,465.4 1154.88,464.1 1154,462.49 C1153.12,460.89 1152.43,459.11 1152,457.29 C1151.57,455.47 1151.23,454.39 1151.4,451.57 C1151.57,448.75 1152.48,443.99 1153,440.39 C1153.52,436.79 1154.25,435.4 1154.5,429.99 C1154.75,424.57 1153.92,413.3 1154.5,407.88 C1155.08,402.46 1156.17,401.38 1158,397.48 C1159.83,393.58 1165.83,389.24 1165.5,384.47 C1165.17,379.71 1158.36,373.2 1156,368.87 C1153.64,364.53 1152.12,369.3 1151.35,358.47 C1150.57,347.63 1150.82,315.12 1151.35,303.85 C1151.88,292.58 1153.41,294.75 1154.5,290.85 C1155.59,286.95 1157.9,284.35 1157.9,280.45 C1157.9,276.55 1155.59,271.34 1154.5,267.44 C1153.41,263.54 1151.88,272.21 1151.35,257.04 C1150.82,241.87 1151.35,189.86 1151.35,176.42 L1150.65,176.42 C1150.65,189.86 1151.18,241.87 1150.65,257.04 C1150.12,272.21 1148.59,263.54 1147.5,267.44 C1146.41,271.34 1144.1,276.55 1144.1,280.45 C1144.1,284.35 1146.41,286.95 1147.5,290.85 C1148.59,294.75 1150.12,292.58 1150.65,303.85 C1151.18,315.12 1151.43,347.63 1150.65,358.47 C1149.88,369.3 1148.36,364.53 1146,368.87 C1143.64,373.2 1136.83,379.71 1136.5,384.47 C1136.17,389.24 1142.17,393.58 1144,397.48 C1145.83,401.38 1146.92,402.46 1147.5,407.88 C1148.08,413.3 1147.25,424.57 1147.5,429.99 C1147.75,435.4 1148.48,436.79 1149,440.39 C1149.52,443.99 1150.43,448.75 1150.6,451.57 C1150.77,454.39 1150.43,455.47 1150,457.29 C1149.57,459.11 1148.88,460.89 1148,462.49 C1147.12,464.1 1146.2,465.4 1144.7,466.91 C1143.2,468.43 1141.45,469.95 1139,471.6 C1136.55,473.24 1133,475.02 1130,476.8 C1127,478.57 1123.47,480.31 1121,482.26 C1118.53,484.21 1116.17,487.46 1115.2,488.5 Z" fill="none" stroke="#0000ff" stroke-width="1.8" stroke-linejoin="round"/>
<line x1="1138" y1="384.47" x2="1164" y2="384.47" stroke="#000" stroke-width="1.7" stroke-dasharray="1.6,3.5"/>
<line x1="1116" y1="488.5" x2="1186" y2="488.5" stroke="#ff1a1a" stroke-width="2.1" stroke-dasharray="5,3.2"/>
<path d="M1250.2,488.5 C1250.22,486.33 1250.89,480.7 1250.3,475.5 C1249.71,470.3 1246.65,465.96 1246.65,457.29 C1246.65,448.62 1249.12,433.02 1250.3,423.48 C1251.47,413.95 1252.45,406.58 1253.7,400.08 C1254.95,393.58 1258.37,389.67 1257.8,384.47 C1257.23,379.27 1252.16,373.2 1250.3,368.87 C1248.44,364.53 1246.65,362.37 1246.65,358.47 C1246.65,354.57 1249.02,349.8 1250.3,345.46 C1251.58,341.13 1253.93,338.09 1254.3,332.46 C1254.67,326.83 1251.83,317.29 1252.5,311.65 C1253.17,306.02 1254.67,302.55 1258.3,298.65 C1261.93,294.75 1270.47,291.28 1274.3,288.25 C1278.13,285.21 1281.3,283.05 1281.3,280.45 C1281.3,277.85 1278.13,275.25 1274.3,272.64 C1270.47,270.04 1262.5,268.31 1258.3,264.84 C1254.1,261.38 1251.04,256.04 1249.1,251.84 C1247.16,247.63 1247.06,248.72 1246.65,239.62 C1246.24,230.51 1246.12,206.02 1246.65,197.23 C1247.17,188.43 1248.71,190.29 1249.8,186.82 C1250.89,183.36 1252.63,178.15 1253.2,176.42 L1239.4,176.42 C1239.97,178.15 1241.71,183.36 1242.8,186.82 C1243.89,190.29 1245.42,188.43 1245.95,197.23 C1246.48,206.02 1246.36,230.51 1245.95,239.62 C1245.54,248.72 1245.44,247.63 1243.5,251.84 C1241.56,256.04 1238.5,261.38 1234.3,264.84 C1230.1,268.31 1222.13,270.04 1218.3,272.64 C1214.47,275.25 1211.3,277.85 1211.3,280.45 C1211.3,283.05 1214.47,285.21 1218.3,288.25 C1222.13,291.28 1230.67,294.75 1234.3,298.65 C1237.93,302.55 1239.43,306.02 1240.1,311.65 C1240.77,317.29 1237.93,326.83 1238.3,332.46 C1238.67,338.09 1241.02,341.13 1242.3,345.46 C1243.58,349.8 1245.95,354.57 1245.95,358.47 C1245.95,362.37 1244.16,364.53 1242.3,368.87 C1240.44,373.2 1235.37,379.27 1234.8,384.47 C1234.23,389.67 1237.65,393.58 1238.9,400.08 C1240.15,406.58 1241.12,413.95 1242.3,423.48 C1243.47,433.02 1245.95,448.62 1245.95,457.29 C1245.95,465.96 1242.89,470.3 1242.3,475.5 C1241.71,480.7 1242.38,486.33 1242.4,488.5 Z" fill="none" stroke="#ff5f00" stroke-width="1.8" stroke-linejoin="round"/>
<line x1="1212.3" y1="280.45" x2="1280.3" y2="280.45" stroke="#ff1a1a" stroke-width="2.1" stroke-dasharray="5,3.2"/>
<line x1="1212.3" y1="280.45" x2="1280.3" y2="280.45" stroke="#000" stroke-width="1.7" stroke-dasharray="1.6,3.5"/>
<line x1="1236.3" y1="384.47" x2="1256.3" y2="384.47" stroke="#000" stroke-width="1.7" stroke-dasharray="1.6,3.5"/>
<path d="M1089.4,97.4 V488.5 M1080.9,488.5 H1298.7" fill="none" stroke="#000" stroke-width="1.9"/>
<line x1="1080.9" y1="488.5" x2="1089.4" y2="488.5" stroke="#000" stroke-width="1.9"/>
<text x="1073.9" y="499.5" font-size="32" text-anchor="end" fill="#000">0</text>
<line x1="1080.9" y1="358.47" x2="1089.4" y2="358.47" stroke="#000" stroke-width="1.9"/>
<text x="1073.9" y="369.47" font-size="32" text-anchor="end" fill="#000">5</text>
<line x1="1080.9" y1="228.43" x2="1089.4" y2="228.43" stroke="#000" stroke-width="1.9"/>
<text x="1073.9" y="239.43" font-size="32" text-anchor="end" fill="#000">10</text>
<line x1="1080.9" y1="98.4" x2="1089.4" y2="98.4" stroke="#000" stroke-width="1.9"/>
<text x="1073.9" y="109.4" font-size="32" text-anchor="end" fill="#000">15</text>
<line x1="1151" y1="488.5" x2="1151" y2="496.8" stroke="#000" stroke-width="1.9"/>
<line x1="1246.3" y1="488.5" x2="1246.3" y2="496.8" stroke="#000" stroke-width="1.9"/>
<text x="1153.2" y="524.2" font-size="32" text-anchor="middle" fill="#000">PN</text>
<text x="1247.3" y="524.2" font-size="32" text-anchor="middle" fill="#000">Tumor</text>
<text transform="translate(1025.8,121.1) rotate(-90)" font-size="32" text-anchor="end" fill="#000">RAD23B IHC scores</text>
<path d="M1151,153.3 V130.8 H1246.3 V153.3" fill="none" stroke="#000" stroke-width="1.9"/>
<text x="1201.65" y="116.8" font-size="32" text-anchor="middle" fill="#000"><tspan font-style="italic">P</tspan> &lt; 0.0001</text>
<path d="M1870.2,489.6 C1868.87,488.39 1864.12,484.7 1862.2,482.32 C1860.28,479.93 1858.32,478.37 1858.7,475.3 C1859.08,472.22 1864.32,467.71 1864.5,463.85 C1864.68,460 1859.42,455.62 1859.8,452.15 C1860.18,448.68 1864.87,445.43 1866.8,443.05 C1868.73,440.66 1871.4,439.58 1871.4,437.85 C1871.4,436.11 1869.48,434.47 1866.8,432.65 C1864.12,430.82 1858.77,429.78 1855.3,426.92 C1851.83,424.06 1847.65,419.34 1846,415.48 C1844.35,411.62 1845.47,407.25 1845.4,403.78 C1845.33,400.31 1844.92,397.71 1845.6,394.68 C1846.28,391.64 1849.43,389.04 1849.5,385.57 C1849.57,382.11 1848.06,378.12 1846,373.87 C1843.94,369.62 1837.15,364.33 1837.15,360.09 C1837.15,355.84 1843.56,352.63 1846,348.38 C1848.44,344.14 1851.8,339.19 1851.8,334.6 C1851.8,330.01 1848.44,324.63 1846,320.82 C1843.56,317 1838.62,315.57 1837.15,311.71 C1835.67,307.86 1836.24,302.7 1837.15,297.67 C1838.06,292.64 1842.27,286.53 1842.6,281.55 C1842.92,276.56 1839.42,271.97 1839.1,267.76 C1838.78,263.56 1841.03,260.09 1840.7,256.32 C1840.38,252.55 1837.74,248.21 1837.15,245.14 C1836.56,242.06 1837.15,246.39 1837.15,237.86 C1837.15,229.32 1836.71,202.66 1837.15,193.9 C1837.59,185.15 1838.99,188.05 1839.8,185.32 C1840.61,182.59 1841.63,178.82 1842,177.52 L1831.6,177.52 C1831.97,178.82 1832.99,182.59 1833.8,185.32 C1834.61,188.05 1836.01,185.15 1836.45,193.9 C1836.89,202.66 1836.45,229.32 1836.45,237.86 C1836.45,246.39 1837.04,242.06 1836.45,245.14 C1835.86,248.21 1833.22,252.55 1832.9,256.32 C1832.57,260.09 1834.82,263.56 1834.5,267.76 C1834.18,271.97 1830.67,276.56 1831,281.55 C1831.33,286.53 1835.54,292.64 1836.45,297.67 C1837.36,302.7 1837.93,307.86 1836.45,311.71 C1834.97,315.57 1830.04,317 1827.6,320.82 C1825.16,324.63 1821.8,330.01 1821.8,334.6 C1821.8,339.19 1825.16,344.14 1827.6,348.38 C1830.04,352.63 1836.45,355.84 1836.45,360.09 C1836.45,364.33 1829.66,369.62 1827.6,373.87 C1825.54,378.12 1824.03,382.11 1824.1,385.57 C1824.17,389.04 1827.32,391.64 1828,394.68 C1828.68,397.71 1828.27,400.31 1828.2,403.78 C1828.13,407.25 1829.25,411.62 1827.6,415.48 C1825.95,419.34 1821.77,424.06 1818.3,426.92 C1814.83,429.78 1809.48,430.82 1806.8,432.65 C1804.12,434.47 1802.2,436.11 1802.2,437.85 C1802.2,439.58 1804.87,440.66 1806.8,443.05 C1808.73,445.43 1813.42,448.68 1813.8,452.15 C1814.18,455.62 1808.92,460 1809.1,463.85 C1809.28,467.71 1814.52,472.22 1814.9,475.3 C1815.28,478.37 1813.32,479.93 1811.4,482.32 C1809.48,484.7 1804.73,488.39 1803.4,489.6 Z" fill="none" stroke="#0000ff" stroke-width="1.8" stroke-linejoin="round"/>
<line x1="1803.3" y1="437.59" x2="1870.3" y2="437.59" stroke="#ff1a1a" stroke-width="2.1" stroke-dasharray="5,3.2"/>
<line x1="1810.3" y1="463.59" x2="1863.3" y2="463.59" stroke="#000" stroke-width="1.7" stroke-dasharray="1.6,3.5"/>
<line x1="1825.3" y1="385.57" x2="1848.3" y2="385.57" stroke="#000" stroke-width="1.7" stroke-dasharray="1.6,3.5"/>
<path d="M1933,489.6 C1932.97,476.6 1932.75,427.18 1932.8,411.58 C1932.85,395.98 1932.95,400.31 1933.3,395.98 C1933.65,391.64 1934.9,389.04 1934.9,385.57 C1934.9,382.11 1933.71,379.51 1933.3,375.17 C1932.89,370.84 1932.59,369.8 1932.45,359.57 C1932.31,349.34 1932.04,322.55 1932.45,313.79 C1932.86,305.04 1932.77,310.07 1934.9,307.03 C1937.02,304 1942.2,299.84 1945.2,295.59 C1948.2,291.34 1952.9,286.57 1952.9,281.55 C1952.9,276.52 1948.02,270.41 1945.2,265.42 C1942.38,260.44 1938.12,255.84 1936,251.64 C1933.88,247.43 1933.04,245.96 1932.45,240.2 C1931.86,234.43 1931.86,223.21 1932.45,217.05 C1933.04,210.9 1933.47,207.12 1936,203.27 C1938.53,199.41 1942.98,196.98 1947.6,193.9 C1952.22,190.83 1960.43,187.53 1963.7,184.8 C1966.97,182.07 1966.62,178.73 1967.2,177.52 L1897,177.52 C1897.58,178.73 1897.23,182.07 1900.5,184.8 C1903.77,187.53 1911.98,190.83 1916.6,193.9 C1921.22,196.98 1925.67,199.41 1928.2,203.27 C1930.72,207.12 1931.16,210.9 1931.75,217.05 C1932.34,223.21 1932.34,234.43 1931.75,240.2 C1931.16,245.96 1930.32,247.43 1928.2,251.64 C1926.07,255.84 1921.82,260.44 1919,265.42 C1916.18,270.41 1911.3,276.52 1911.3,281.55 C1911.3,286.57 1916,291.34 1919,295.59 C1922,299.84 1927.17,304 1929.3,307.03 C1931.42,310.07 1931.34,305.04 1931.75,313.79 C1932.16,322.55 1931.89,349.34 1931.75,359.57 C1931.61,369.8 1931.31,370.84 1930.9,375.17 C1930.49,379.51 1929.3,382.11 1929.3,385.57 C1929.3,389.04 1930.55,391.64 1930.9,395.98 C1931.25,400.31 1931.35,395.98 1931.4,411.58 C1931.45,427.18 1931.23,476.6 1931.2,489.6 Z" fill="none" stroke="#ff5f00" stroke-width="1.8" stroke-linejoin="round"/>
<line x1="1929.1" y1="229.53" x2="1932.1" y2="229.53" stroke="#ff1a1a" stroke-width="2.1"/>
<line x1="1912.6" y1="281.55" x2="1951.6" y2="281.55" stroke="#000" stroke-width="1.7" stroke-dasharray="1.6,3.5"/>
<line x1="1898.1" y1="177.52" x2="1966.1" y2="177.52" stroke="#000" stroke-width="1.7" stroke-dasharray="1.6,3.5"/>
<path d="M1774.6,98.5 V489.6 M1766.1,489.6 H1983.3" fill="none" stroke="#000" stroke-width="1.9"/>
<line x1="1766.1" y1="489.6" x2="1774.6" y2="489.6" stroke="#000" stroke-width="1.9"/>
<text x="1759.1" y="500.6" font-size="32" text-anchor="end" fill="#000">0</text>
<line x1="1766.1" y1="359.57" x2="1774.6" y2="359.57" stroke="#000" stroke-width="1.9"/>
<text x="1759.1" y="370.57" font-size="32" text-anchor="end" fill="#000">5</text>
<line x1="1766.1" y1="229.53" x2="1774.6" y2="229.53" stroke="#000" stroke-width="1.9"/>
<text x="1759.1" y="240.53" font-size="32" text-anchor="end" fill="#000">10</text>
<line x1="1766.1" y1="99.5" x2="1774.6" y2="99.5" stroke="#000" stroke-width="1.9"/>
<text x="1759.1" y="110.5" font-size="32" text-anchor="end" fill="#000">15</text>
<line x1="1836.8" y1="489.6" x2="1836.8" y2="497.9" stroke="#000" stroke-width="1.9"/>
<line x1="1932.1" y1="489.6" x2="1932.1" y2="497.9" stroke="#000" stroke-width="1.9"/>
<text x="1839" y="525.3" font-size="32" text-anchor="middle" fill="#000">PN</text>
<text x="1933.1" y="525.3" font-size="32" text-anchor="middle" fill="#000">Tumor</text>
<text transform="translate(1711.1,145.5) rotate(-90)" font-size="32" text-anchor="end" fill="#000">ARPC5 IHC scores</text>
<path d="M1836.8,154.4 V131.9 H1932.1 V154.4" fill="none" stroke="#000" stroke-width="1.9"/>
<text x="1887.45" y="117.9" font-size="32" text-anchor="middle" fill="#000"><tspan font-style="italic">P</tspan> &lt; 0.0001</text>
<rect x="186.8" y="608.9" width="515.3" height="60.4" fill="#d9d9d9" stroke="#686868" stroke-width="1.5"/>
<text x="444.45" y="650.6" font-size="32" text-anchor="middle" fill="#1a1a1a">CORO1C</text>
<rect x="725.7" y="608.9" width="508.2" height="60.4" fill="#d9d9d9" stroke="#686868" stroke-width="1.5"/>
<text x="979.8" y="650.6" font-size="32" text-anchor="middle" fill="#1a1a1a">RAD23B</text>
<rect x="1254.5" y="608.9" width="511.3" height="60.4" fill="#d9d9d9" stroke="#686868" stroke-width="1.5"/>
<text x="1510.15" y="650.6" font-size="32" text-anchor="middle" fill="#1a1a1a">ARPC5</text>
<rect x="186" y="669.3" width="516.9" height="122.1" fill="#ffffff"/>
<line x1="186" y1="702.7" x2="702.9" y2="702.7" stroke="#ebebeb" stroke-width="1.8"/>
<line x1="186" y1="758.5" x2="702.9" y2="758.5" stroke="#ebebeb" stroke-width="1.8"/>
<line x1="249.4" y1="669.3" x2="249.4" y2="791.4" stroke="#ebebeb" stroke-width="1.8"/>
<line x1="405.7" y1="669.3" x2="405.7" y2="791.4" stroke="#ebebeb" stroke-width="1.8"/>
<line x1="562" y1="669.3" x2="562" y2="791.4" stroke="#ebebeb" stroke-width="1.8"/>
<circle cx="249.4" cy="702.7" r="30.56" fill="#f3f4f7" stroke="#6a6a6a" stroke-width="1.5"/>
<circle cx="405.7" cy="702.7" r="23.88" fill="#f3f4f7" stroke="#6a6a6a" stroke-width="1.5"/>
<circle cx="562" cy="702.7" r="25.72" fill="#f3f4f7" stroke="#6a6a6a" stroke-width="1.5"/>
<text transform="translate(248.4,711.4) scale(0.955,1)" font-size="29.5" text-anchor="middle" fill="#231f20">241</text>
<text transform="translate(327.4,711.4) scale(0.955,1)" font-size="29.5" text-anchor="middle" fill="#231f20">45.5%</text>
<text transform="translate(404.7,711.4) scale(0.955,1)" font-size="29.5" text-anchor="middle" fill="#231f20">131</text>
<text transform="translate(483.7,711.4) scale(0.955,1)" font-size="29.5" text-anchor="middle" fill="#231f20">24.7%</text>
<text transform="translate(561,711.4) scale(0.955,1)" font-size="29.5" text-anchor="middle" fill="#231f20">158</text>
<text transform="translate(643.3,711.4) scale(0.955,1)" font-size="29.5" text-anchor="middle" fill="#231f20">29.8%</text>
<circle cx="249.4" cy="758.5" r="27.35" fill="#f3f4f7" stroke="#6a6a6a" stroke-width="1.5"/>
<circle cx="405.7" cy="758.5" r="23.96" fill="#f3f4f7" stroke="#6a6a6a" stroke-width="1.5"/>
<circle cx="562" cy="758.5" r="22.55" fill="#f3f4f7" stroke="#6a6a6a" stroke-width="1.5"/>
<text transform="translate(248.4,767.2) scale(0.955,1)" font-size="29.5" text-anchor="middle" fill="#231f20">184</text>
<text transform="translate(327.4,767.2) scale(0.955,1)" font-size="29.5" text-anchor="middle" fill="#231f20">42.9%</text>
<text transform="translate(404.7,767.2) scale(0.955,1)" font-size="29.5" text-anchor="middle" fill="#231f20">132</text>
<text transform="translate(483.7,767.2) scale(0.955,1)" font-size="29.5" text-anchor="middle" fill="#231f20">30.8%</text>
<text transform="translate(561,767.2) scale(0.955,1)" font-size="29.5" text-anchor="middle" fill="#231f20">113</text>
<text transform="translate(643.3,767.2) scale(0.955,1)" font-size="29.5" text-anchor="middle" fill="#231f20">26.3%</text>
<rect x="186" y="669.3" width="516.9" height="122.1" fill="none" stroke="#686868" stroke-width="1.7"/>
<rect x="724.9" y="669.3" width="509.8" height="122.1" fill="#ffffff"/>
<line x1="724.9" y1="702.7" x2="1234.7" y2="702.7" stroke="#ebebeb" stroke-width="1.8"/>
<line x1="724.9" y1="758.5" x2="1234.7" y2="758.5" stroke="#ebebeb" stroke-width="1.8"/>
<line x1="785" y1="669.3" x2="785" y2="791.4" stroke="#ebebeb" stroke-width="1.8"/>
<line x1="941" y1="669.3" x2="941" y2="791.4" stroke="#ebebeb" stroke-width="1.8"/>
<line x1="1097.2" y1="669.3" x2="1097.2" y2="791.4" stroke="#ebebeb" stroke-width="1.8"/>
<circle cx="785" cy="702.7" r="16.26" fill="#c4d0f4" stroke="#6a6a6a" stroke-width="1.5"/>
<circle cx="941" cy="702.7" r="28.01" fill="#c4d0f4" stroke="#6a6a6a" stroke-width="1.5"/>
<circle cx="1097.2" cy="702.7" r="14.41" fill="#c4d0f4" stroke="#6a6a6a" stroke-width="1.5"/>
<text transform="translate(784,711.4) scale(0.955,1)" font-size="29.5" text-anchor="middle" fill="#231f20">46</text>
<text transform="translate(863,711.4) scale(0.955,1)" font-size="29.5" text-anchor="middle" fill="#231f20">16.8%</text>
<text transform="translate(940,711.4) scale(0.955,1)" font-size="29.5" text-anchor="middle" fill="#231f20">195</text>
<text transform="translate(1019,711.4) scale(0.955,1)" font-size="29.5" text-anchor="middle" fill="#231f20">71.4%</text>
<text transform="translate(1096.2,711.4) scale(0.955,1)" font-size="29.5" text-anchor="middle" fill="#231f20">32</text>
<text transform="translate(1173.2,711.4) scale(0.955,1)" font-size="29.5" text-anchor="middle" fill="#231f20">11.7%</text>
<circle cx="785" cy="758.5" r="14.56" fill="#c4d0f4" stroke="#6a6a6a" stroke-width="1.5"/>
<circle cx="941" cy="758.5" r="26.49" fill="#c4d0f4" stroke="#6a6a6a" stroke-width="1.5"/>
<circle cx="1097.2" cy="758.5" r="13.01" fill="#c4d0f4" stroke="#6a6a6a" stroke-width="1.5"/>
<text transform="translate(784,767.2) scale(0.955,1)" font-size="29.5" text-anchor="middle" fill="#231f20">33</text>
<text transform="translate(863,767.2) scale(0.955,1)" font-size="29.5" text-anchor="middle" fill="#231f20">14.6%</text>
<text transform="translate(940,767.2) scale(0.955,1)" font-size="29.5" text-anchor="middle" fill="#231f20">170</text>
<text transform="translate(1019,767.2) scale(0.955,1)" font-size="29.5" text-anchor="middle" fill="#231f20">75.2%</text>
<text transform="translate(1096.2,767.2) scale(0.955,1)" font-size="29.5" text-anchor="middle" fill="#231f20">23</text>
<text transform="translate(1173.2,767.2) scale(0.955,1)" font-size="29.5" text-anchor="middle" fill="#231f20">10.2%</text>
<rect x="724.9" y="669.3" width="509.8" height="122.1" fill="none" stroke="#686868" stroke-width="1.7"/>
<rect x="1253.7" y="669.3" width="512.9" height="122.1" fill="#ffffff"/>
<line x1="1253.7" y1="702.7" x2="1766.6" y2="702.7" stroke="#ebebeb" stroke-width="1.8"/>
<line x1="1253.7" y1="758.5" x2="1766.6" y2="758.5" stroke="#ebebeb" stroke-width="1.8"/>
<line x1="1313.5" y1="669.3" x2="1313.5" y2="791.4" stroke="#ebebeb" stroke-width="1.8"/>
<line x1="1469.7" y1="669.3" x2="1469.7" y2="791.4" stroke="#ebebeb" stroke-width="1.8"/>
<line x1="1625.8" y1="669.3" x2="1625.8" y2="791.4" stroke="#ebebeb" stroke-width="1.8"/>
<circle cx="1313.5" cy="702.7" r="15.51" fill="#ccd6f5" stroke="#6a6a6a" stroke-width="1.5"/>
<circle cx="1469.7" cy="702.7" r="21.44" fill="#ccd6f5" stroke="#6a6a6a" stroke-width="1.5"/>
<circle cx="1625.8" cy="702.7" r="24.03" fill="#ccd6f5" stroke="#6a6a6a" stroke-width="1.5"/>
<text transform="translate(1312.5,711.4) scale(0.955,1)" font-size="29.5" text-anchor="middle" fill="#231f20">40</text>
<text transform="translate(1391.5,711.4) scale(0.955,1)" font-size="29.5" text-anchor="middle" fill="#231f20">14.7%</text>
<text transform="translate(1468.7,711.4) scale(0.955,1)" font-size="29.5" text-anchor="middle" fill="#231f20">99</text>
<text transform="translate(1547.7,711.4) scale(0.955,1)" font-size="29.5" text-anchor="middle" fill="#231f20">36.4%</text>
<text transform="translate(1624.8,711.4) scale(0.955,1)" font-size="29.5" text-anchor="middle" fill="#231f20">133</text>
<text transform="translate(1707.4,711.4) scale(0.955,1)" font-size="29.5" text-anchor="middle" fill="#231f20">48.9%</text>
<circle cx="1313.5" cy="758.5" r="14.27" fill="#ccd6f5" stroke="#6a6a6a" stroke-width="1.5"/>
<circle cx="1469.7" cy="758.5" r="19.04" fill="#ccd6f5" stroke="#6a6a6a" stroke-width="1.5"/>
<circle cx="1625.8" cy="758.5" r="23.38" fill="#ccd6f5" stroke="#6a6a6a" stroke-width="1.5"/>
<text transform="translate(1312.5,767.2) scale(0.955,1)" font-size="29.5" text-anchor="middle" fill="#231f20">31</text>
<text transform="translate(1391.5,767.2) scale(0.955,1)" font-size="29.5" text-anchor="middle" fill="#231f20">13.7%</text>
<text transform="translate(1468.7,767.2) scale(0.955,1)" font-size="29.5" text-anchor="middle" fill="#231f20">72</text>
<text transform="translate(1547.7,767.2) scale(0.955,1)" font-size="29.5" text-anchor="middle" fill="#231f20">31.7%</text>
<text transform="translate(1624.8,767.2) scale(0.955,1)" font-size="29.5" text-anchor="middle" fill="#231f20">124</text>
<text transform="translate(1707.4,767.2) scale(0.955,1)" font-size="29.5" text-anchor="middle" fill="#231f20">54.6%</text>
<rect x="1253.7" y="669.3" width="512.9" height="122.1" fill="none" stroke="#686868" stroke-width="1.7"/>
<text x="168.2" y="714.2" font-size="32.5" text-anchor="end" fill="#231f20">Male</text>
<line x1="176.3" y1="702.7" x2="186" y2="702.7" stroke="#5e5e5e" stroke-width="3"/>
<text x="168.2" y="770" font-size="32.5" text-anchor="end" fill="#231f20">Female</text>
<line x1="176.3" y1="758.5" x2="186" y2="758.5" stroke="#5e5e5e" stroke-width="3"/>
<rect x="1767.8" y="670.1" width="59.9" height="120.5" fill="#d9d9d9" stroke="#686868" stroke-width="1.5"/>
<clipPath id="sc0"><rect x="1767.8" y="670.8" width="59.9" height="119.1"/></clipPath>
<g clip-path="url(#sc0)"><text transform="translate(1786.2,724.6) rotate(90) scale(0.885,1)" font-size="32" text-anchor="middle" fill="#1a1a1a">Sex</text></g>
<rect x="186" y="810.7" width="516.9" height="122.2" fill="#ffffff"/>
<line x1="186" y1="843.8" x2="702.9" y2="843.8" stroke="#ebebeb" stroke-width="1.8"/>
<line x1="186" y1="899.4" x2="702.9" y2="899.4" stroke="#ebebeb" stroke-width="1.8"/>
<line x1="249.4" y1="810.7" x2="249.4" y2="932.9" stroke="#ebebeb" stroke-width="1.8"/>
<line x1="405.7" y1="810.7" x2="405.7" y2="932.9" stroke="#ebebeb" stroke-width="1.8"/>
<line x1="562" y1="810.7" x2="562" y2="932.9" stroke="#ebebeb" stroke-width="1.8"/>
<circle cx="249.4" cy="843.8" r="28.98" fill="#c6d2f4" stroke="#6a6a6a" stroke-width="1.5"/>
<circle cx="405.7" cy="843.8" r="23.38" fill="#c6d2f4" stroke="#6a6a6a" stroke-width="1.5"/>
<circle cx="562" cy="843.8" r="24.38" fill="#c6d2f4" stroke="#6a6a6a" stroke-width="1.5"/>
<text transform="translate(248.4,852.5) scale(0.955,1)" font-size="29.5" text-anchor="middle" fill="#231f20">212</text>
<text transform="translate(327.4,852.5) scale(0.955,1)" font-size="29.5" text-anchor="middle" fill="#231f20">44.7%</text>
<text transform="translate(404.7,852.5) scale(0.955,1)" font-size="29.5" text-anchor="middle" fill="#231f20">124</text>
<text transform="translate(483.7,852.5) scale(0.955,1)" font-size="29.5" text-anchor="middle" fill="#231f20">26.2%</text>
<text transform="translate(561,852.5) scale(0.955,1)" font-size="29.5" text-anchor="middle" fill="#231f20">138</text>
<text transform="translate(643.3,852.5) scale(0.955,1)" font-size="29.5" text-anchor="middle" fill="#231f20">29.1%</text>
<circle cx="249.4" cy="899.4" r="28.75" fill="#c6d2f4" stroke="#6a6a6a" stroke-width="1.5"/>
<circle cx="405.7" cy="899.4" r="24.45" fill="#c6d2f4" stroke="#6a6a6a" stroke-width="1.5"/>
<circle cx="562" cy="899.4" r="23.88" fill="#c6d2f4" stroke="#6a6a6a" stroke-width="1.5"/>
<text transform="translate(248.4,908.1) scale(0.955,1)" font-size="29.5" text-anchor="middle" fill="#231f20">208</text>
<text transform="translate(327.4,908.1) scale(0.955,1)" font-size="29.5" text-anchor="middle" fill="#231f20">43.5%</text>
<text transform="translate(404.7,908.1) scale(0.955,1)" font-size="29.5" text-anchor="middle" fill="#231f20">139</text>
<text transform="translate(483.7,908.1) scale(0.955,1)" font-size="29.5" text-anchor="middle" fill="#231f20">29.1%</text>
<text transform="translate(561,908.1) scale(0.955,1)" font-size="29.5" text-anchor="middle" fill="#231f20">131</text>
<text transform="translate(643.3,908.1) scale(0.955,1)" font-size="29.5" text-anchor="middle" fill="#231f20">27.4%</text>
<rect x="186" y="810.7" width="516.9" height="122.2" fill="none" stroke="#686868" stroke-width="1.7"/>
<rect x="724.9" y="810.7" width="509.8" height="122.2" fill="#ffffff"/>
<line x1="724.9" y1="843.8" x2="1234.7" y2="843.8" stroke="#ebebeb" stroke-width="1.8"/>
<line x1="724.9" y1="899.4" x2="1234.7" y2="899.4" stroke="#ebebeb" stroke-width="1.8"/>
<line x1="785" y1="810.7" x2="785" y2="932.9" stroke="#ebebeb" stroke-width="1.8"/>
<line x1="941" y1="810.7" x2="941" y2="932.9" stroke="#ebebeb" stroke-width="1.8"/>
<line x1="1097.2" y1="810.7" x2="1097.2" y2="932.9" stroke="#ebebeb" stroke-width="1.8"/>
<circle cx="785" cy="843.8" r="16.13" fill="#c4d0f4" stroke="#6a6a6a" stroke-width="1.5"/>
<circle cx="941" cy="843.8" r="27.95" fill="#c4d0f4" stroke="#6a6a6a" stroke-width="1.5"/>
<circle cx="1097.2" cy="843.8" r="14.27" fill="#c4d0f4" stroke="#6a6a6a" stroke-width="1.5"/>
<text transform="translate(784,852.5) scale(0.955,1)" font-size="29.5" text-anchor="middle" fill="#231f20">45</text>
<text transform="translate(863,852.5) scale(0.955,1)" font-size="29.5" text-anchor="middle" fill="#231f20">16.7%</text>
<text transform="translate(940,852.5) scale(0.955,1)" font-size="29.5" text-anchor="middle" fill="#231f20">194</text>
<text transform="translate(1019,852.5) scale(0.955,1)" font-size="29.5" text-anchor="middle" fill="#231f20">71.9%</text>
<text transform="translate(1096.2,852.5) scale(0.955,1)" font-size="29.5" text-anchor="middle" fill="#231f20">31</text>
<text transform="translate(1173.2,852.5) scale(0.955,1)" font-size="29.5" text-anchor="middle" fill="#231f20">11.5%</text>
<circle cx="785" cy="899.4" r="14.7" fill="#c4d0f4" stroke="#6a6a6a" stroke-width="1.5"/>
<circle cx="941" cy="899.4" r="26.24" fill="#c4d0f4" stroke="#6a6a6a" stroke-width="1.5"/>
<circle cx="1097.2" cy="899.4" r="13.01" fill="#c4d0f4" stroke="#6a6a6a" stroke-width="1.5"/>
<text transform="translate(784,908.1) scale(0.955,1)" font-size="29.5" text-anchor="middle" fill="#231f20">34</text>
<text transform="translate(863,908.1) scale(0.955,1)" font-size="29.5" text-anchor="middle" fill="#231f20">15.2%</text>
<text transform="translate(940,908.1) scale(0.955,1)" font-size="29.5" text-anchor="middle" fill="#231f20">166</text>
<text transform="translate(1019,908.1) scale(0.955,1)" font-size="29.5" text-anchor="middle" fill="#231f20">74.4%</text>
<text transform="translate(1096.2,908.1) scale(0.955,1)" font-size="29.5" text-anchor="middle" fill="#231f20">23</text>
<text transform="translate(1173.2,908.1) scale(0.955,1)" font-size="29.5" text-anchor="middle" fill="#231f20">10.3%</text>
<rect x="724.9" y="810.7" width="509.8" height="122.2" fill="none" stroke="#686868" stroke-width="1.7"/>
<rect x="1253.7" y="810.7" width="512.9" height="122.2" fill="#ffffff"/>
<line x1="1253.7" y1="843.8" x2="1766.6" y2="843.8" stroke="#ebebeb" stroke-width="1.8"/>
<line x1="1253.7" y1="899.4" x2="1766.6" y2="899.4" stroke="#ebebeb" stroke-width="1.8"/>
<line x1="1313.5" y1="810.7" x2="1313.5" y2="932.9" stroke="#ebebeb" stroke-width="1.8"/>
<line x1="1469.7" y1="810.7" x2="1469.7" y2="932.9" stroke="#ebebeb" stroke-width="1.8"/>
<line x1="1625.8" y1="810.7" x2="1625.8" y2="932.9" stroke="#ebebeb" stroke-width="1.8"/>
<circle cx="1313.5" cy="843.8" r="15.89" fill="#dbe1f6" stroke="#6a6a6a" stroke-width="1.5"/>
<circle cx="1469.7" cy="843.8" r="21.27" fill="#dbe1f6" stroke="#6a6a6a" stroke-width="1.5"/>
<circle cx="1625.8" cy="843.8" r="23.74" fill="#dbe1f6" stroke="#6a6a6a" stroke-width="1.5"/>
<text transform="translate(1312.5,852.5) scale(0.955,1)" font-size="29.5" text-anchor="middle" fill="#231f20">43</text>
<text transform="translate(1391.5,852.5) scale(0.955,1)" font-size="29.5" text-anchor="middle" fill="#231f20">16.0%</text>
<text transform="translate(1468.7,852.5) scale(0.955,1)" font-size="29.5" text-anchor="middle" fill="#231f20">97</text>
<text transform="translate(1547.7,852.5) scale(0.955,1)" font-size="29.5" text-anchor="middle" fill="#231f20">36.1%</text>
<text transform="translate(1624.8,852.5) scale(0.955,1)" font-size="29.5" text-anchor="middle" fill="#231f20">129</text>
<text transform="translate(1707.4,852.5) scale(0.955,1)" font-size="29.5" text-anchor="middle" fill="#231f20">48.0%</text>
<circle cx="1313.5" cy="899.4" r="13.66" fill="#dbe1f6" stroke="#6a6a6a" stroke-width="1.5"/>
<circle cx="1469.7" cy="899.4" r="19.23" fill="#dbe1f6" stroke="#6a6a6a" stroke-width="1.5"/>
<circle cx="1625.8" cy="899.4" r="23.3" fill="#dbe1f6" stroke="#6a6a6a" stroke-width="1.5"/>
<text transform="translate(1312.5,908.1) scale(0.955,1)" font-size="29.5" text-anchor="middle" fill="#231f20">27</text>
<text transform="translate(1391.5,908.1) scale(0.955,1)" font-size="29.5" text-anchor="middle" fill="#231f20">12.1%</text>
<text transform="translate(1468.7,908.1) scale(0.955,1)" font-size="29.5" text-anchor="middle" fill="#231f20">74</text>
<text transform="translate(1547.7,908.1) scale(0.955,1)" font-size="29.5" text-anchor="middle" fill="#231f20">33.0%</text>
<text transform="translate(1624.8,908.1) scale(0.955,1)" font-size="29.5" text-anchor="middle" fill="#231f20">123</text>
<text transform="translate(1707.4,908.1) scale(0.955,1)" font-size="29.5" text-anchor="middle" fill="#231f20">54.9%</text>
<rect x="1253.7" y="810.7" width="512.9" height="122.2" fill="none" stroke="#686868" stroke-width="1.7"/>
<text x="168.2" y="855.3" font-size="32.5" text-anchor="end" fill="#231f20">≤65yr</text>
<line x1="176.3" y1="843.8" x2="186" y2="843.8" stroke="#5e5e5e" stroke-width="3"/>
<text x="168.2" y="910.9" font-size="32.5" text-anchor="end" fill="#231f20">&gt;65 yr</text>
<line x1="176.3" y1="899.4" x2="186" y2="899.4" stroke="#5e5e5e" stroke-width="3"/>
<rect x="1767.8" y="811.5" width="59.9" height="120.6" fill="#d9d9d9" stroke="#686868" stroke-width="1.5"/>
<clipPath id="sc1"><rect x="1767.8" y="812.2" width="59.9" height="119.2"/></clipPath>
<g clip-path="url(#sc1)"><text transform="translate(1786.2,869.3) rotate(90) scale(0.885,1)" font-size="32" text-anchor="middle" fill="#1a1a1a">Age</text></g>
<rect x="186" y="951.6" width="516.9" height="191.4" fill="#ffffff"/>
<line x1="186" y1="991.7" x2="702.9" y2="991.7" stroke="#ebebeb" stroke-width="1.8"/>
<line x1="186" y1="1047.3" x2="702.9" y2="1047.3" stroke="#ebebeb" stroke-width="1.8"/>
<line x1="186" y1="1103.1" x2="702.9" y2="1103.1" stroke="#ebebeb" stroke-width="1.8"/>
<line x1="249.4" y1="951.6" x2="249.4" y2="1143" stroke="#ebebeb" stroke-width="1.8"/>
<line x1="405.7" y1="951.6" x2="405.7" y2="1143" stroke="#ebebeb" stroke-width="1.8"/>
<line x1="562" y1="951.6" x2="562" y2="1143" stroke="#ebebeb" stroke-width="1.8"/>
<circle cx="249.4" cy="991.7" r="13.34" fill="#c6d2f4" stroke="#6a6a6a" stroke-width="1.5"/>
<circle cx="405.7" cy="991.7" r="10.83" fill="#c6d2f4" stroke="#6a6a6a" stroke-width="1.5"/>
<circle cx="562" cy="991.7" r="10.83" fill="#c6d2f4" stroke="#6a6a6a" stroke-width="1.5"/>
<text transform="translate(248.4,1000.4) scale(0.955,1)" font-size="29.5" text-anchor="middle" fill="#231f20">25</text>
<text transform="translate(327.4,1000.4) scale(0.955,1)" font-size="29.5" text-anchor="middle" fill="#231f20">51.0%</text>
<text transform="translate(404.7,1000.4) scale(0.955,1)" font-size="29.5" text-anchor="middle" fill="#231f20">12</text>
<text transform="translate(483.7,1000.4) scale(0.955,1)" font-size="29.5" text-anchor="middle" fill="#231f20">24.5%</text>
<text transform="translate(561,1000.4) scale(0.955,1)" font-size="29.5" text-anchor="middle" fill="#231f20">12</text>
<text transform="translate(643.3,1000.4) scale(0.955,1)" font-size="29.5" text-anchor="middle" fill="#231f20">24.5%</text>
<circle cx="249.4" cy="1047.3" r="34.56" fill="#c6d2f4" stroke="#6a6a6a" stroke-width="1.5"/>
<circle cx="405.7" cy="1047.3" r="27.89" fill="#c6d2f4" stroke="#6a6a6a" stroke-width="1.5"/>
<circle cx="562" cy="1047.3" r="28.75" fill="#c6d2f4" stroke="#6a6a6a" stroke-width="1.5"/>
<text transform="translate(248.4,1056) scale(0.955,1)" font-size="29.5" text-anchor="middle" fill="#231f20">323</text>
<text transform="translate(327.4,1056) scale(0.955,1)" font-size="29.5" text-anchor="middle" fill="#231f20">44.6%</text>
<text transform="translate(404.7,1056) scale(0.955,1)" font-size="29.5" text-anchor="middle" fill="#231f20">193</text>
<text transform="translate(483.7,1056) scale(0.955,1)" font-size="29.5" text-anchor="middle" fill="#231f20">26.7%</text>
<text transform="translate(561,1056) scale(0.955,1)" font-size="29.5" text-anchor="middle" fill="#231f20">208</text>
<text transform="translate(643.3,1056) scale(0.955,1)" font-size="29.5" text-anchor="middle" fill="#231f20">28.7%</text>
<circle cx="249.4" cy="1103.1" r="19.61" fill="#c6d2f4" stroke="#6a6a6a" stroke-width="1.5"/>
<circle cx="405.7" cy="1103.1" r="17.73" fill="#c6d2f4" stroke="#6a6a6a" stroke-width="1.5"/>
<circle cx="562" cy="1103.1" r="16.84" fill="#c6d2f4" stroke="#6a6a6a" stroke-width="1.5"/>
<text transform="translate(248.4,1111.8) scale(0.955,1)" font-size="29.5" text-anchor="middle" fill="#231f20">78</text>
<text transform="translate(327.4,1111.8) scale(0.955,1)" font-size="29.5" text-anchor="middle" fill="#231f20">41.5%</text>
<text transform="translate(404.7,1111.8) scale(0.955,1)" font-size="29.5" text-anchor="middle" fill="#231f20">59</text>
<text transform="translate(483.7,1111.8) scale(0.955,1)" font-size="29.5" text-anchor="middle" fill="#231f20">31.4%</text>
<text transform="translate(561,1111.8) scale(0.955,1)" font-size="29.5" text-anchor="middle" fill="#231f20">51</text>
<text transform="translate(643.3,1111.8) scale(0.955,1)" font-size="29.5" text-anchor="middle" fill="#231f20">27.1%</text>
<rect x="186" y="951.6" width="516.9" height="191.4" fill="none" stroke="#686868" stroke-width="1.7"/>
<rect x="724.9" y="951.6" width="509.8" height="191.4" fill="#ffffff"/>
<line x1="724.9" y1="991.7" x2="1234.7" y2="991.7" stroke="#ebebeb" stroke-width="1.8"/>
<line x1="724.9" y1="1047.3" x2="1234.7" y2="1047.3" stroke="#ebebeb" stroke-width="1.8"/>
<line x1="724.9" y1="1103.1" x2="1234.7" y2="1103.1" stroke="#ebebeb" stroke-width="1.8"/>
<line x1="785" y1="951.6" x2="785" y2="1143" stroke="#ebebeb" stroke-width="1.8"/>
<line x1="941" y1="951.6" x2="941" y2="1143" stroke="#ebebeb" stroke-width="1.8"/>
<line x1="1097.2" y1="951.6" x2="1097.2" y2="1143" stroke="#ebebeb" stroke-width="1.8"/>
<circle cx="785" cy="991.7" r="7.99" fill="#e6e9f6" stroke="#6a6a6a" stroke-width="1.5"/>
<circle cx="941" cy="991.7" r="8.82" fill="#e6e9f6" stroke="#6a6a6a" stroke-width="1.5"/>
<circle cx="1097.2" cy="991.7" r="7.47" fill="#e6e9f6" stroke="#6a6a6a" stroke-width="1.5"/>
<text transform="translate(784,1000.4) scale(0.955,1)" font-size="29.5" text-anchor="middle" fill="#231f20">3</text>
<text transform="translate(863,1000.4) scale(0.955,1)" font-size="29.5" text-anchor="middle" fill="#231f20">30.0%</text>
<text transform="translate(940,1000.4) scale(0.955,1)" font-size="29.5" text-anchor="middle" fill="#231f20">5</text>
<text transform="translate(1019,1000.4) scale(0.955,1)" font-size="29.5" text-anchor="middle" fill="#231f20">50.0%</text>
<text transform="translate(1096.2,1000.4) scale(0.955,1)" font-size="29.5" text-anchor="middle" fill="#231f20">2</text>
<text transform="translate(1173.2,1000.4) scale(0.955,1)" font-size="29.5" text-anchor="middle" fill="#231f20">20.0%</text>
<circle cx="785" cy="1047.3" r="18.25" fill="#e6e9f6" stroke="#6a6a6a" stroke-width="1.5"/>
<circle cx="941" cy="1047.3" r="32.29" fill="#e6e9f6" stroke="#6a6a6a" stroke-width="1.5"/>
<circle cx="1097.2" cy="1047.3" r="16.01" fill="#e6e9f6" stroke="#6a6a6a" stroke-width="1.5"/>
<text transform="translate(784,1056) scale(0.955,1)" font-size="29.5" text-anchor="middle" fill="#231f20">64</text>
<text transform="translate(863,1056) scale(0.955,1)" font-size="29.5" text-anchor="middle" fill="#231f20">16.7%</text>
<text transform="translate(940,1056) scale(0.955,1)" font-size="29.5" text-anchor="middle" fill="#231f20">275</text>
<text transform="translate(1019,1056) scale(0.955,1)" font-size="29.5" text-anchor="middle" fill="#231f20">71.8%</text>
<text transform="translate(1096.2,1056) scale(0.955,1)" font-size="29.5" text-anchor="middle" fill="#231f20">44</text>
<text transform="translate(1173.2,1056) scale(0.955,1)" font-size="29.5" text-anchor="middle" fill="#231f20">11.5%</text>
<circle cx="785" cy="1103.1" r="10.83" fill="#e6e9f6" stroke="#6a6a6a" stroke-width="1.5"/>
<circle cx="941" cy="1103.1" r="20.33" fill="#e6e9f6" stroke="#6a6a6a" stroke-width="1.5"/>
<circle cx="1097.2" cy="1103.1" r="10.07" fill="#e6e9f6" stroke="#6a6a6a" stroke-width="1.5"/>
<text transform="translate(784,1111.8) scale(0.955,1)" font-size="29.5" text-anchor="middle" fill="#231f20">12</text>
<text transform="translate(863,1111.8) scale(0.955,1)" font-size="29.5" text-anchor="middle" fill="#231f20">11.2%</text>
<text transform="translate(940,1111.8) scale(0.955,1)" font-size="29.5" text-anchor="middle" fill="#231f20">86</text>
<text transform="translate(1019,1111.8) scale(0.955,1)" font-size="29.5" text-anchor="middle" fill="#231f20">80.4%</text>
<text transform="translate(1096.2,1111.8) scale(0.955,1)" font-size="29.5" text-anchor="middle" fill="#231f20">9</text>
<text transform="translate(1173.2,1111.8) scale(0.955,1)" font-size="29.5" text-anchor="middle" fill="#231f20">8.4%</text>
<rect x="724.9" y="951.6" width="509.8" height="191.4" fill="none" stroke="#686868" stroke-width="1.7"/>
<rect x="1253.7" y="951.6" width="512.9" height="191.4" fill="#ffffff"/>
<line x1="1253.7" y1="991.7" x2="1766.6" y2="991.7" stroke="#ebebeb" stroke-width="1.8"/>
<line x1="1253.7" y1="1047.3" x2="1766.6" y2="1047.3" stroke="#ebebeb" stroke-width="1.8"/>
<line x1="1253.7" y1="1103.1" x2="1766.6" y2="1103.1" stroke="#ebebeb" stroke-width="1.8"/>
<line x1="1313.5" y1="951.6" x2="1313.5" y2="1143" stroke="#ebebeb" stroke-width="1.8"/>
<line x1="1469.7" y1="951.6" x2="1469.7" y2="1143" stroke="#ebebeb" stroke-width="1.8"/>
<line x1="1625.8" y1="951.6" x2="1625.8" y2="1143" stroke="#ebebeb" stroke-width="1.8"/>
<circle cx="1313.5" cy="991.7" r="7.99" fill="#e3e7f6" stroke="#6a6a6a" stroke-width="1.5"/>
<circle cx="1469.7" cy="991.7" r="8.43" fill="#e3e7f6" stroke="#6a6a6a" stroke-width="1.5"/>
<circle cx="1625.8" cy="991.7" r="7.99" fill="#e3e7f6" stroke="#6a6a6a" stroke-width="1.5"/>
<text transform="translate(1312.5,1000.4) scale(0.955,1)" font-size="29.5" text-anchor="middle" fill="#231f20">3</text>
<text transform="translate(1391.5,1000.4) scale(0.955,1)" font-size="29.5" text-anchor="middle" fill="#231f20">30.0%</text>
<text transform="translate(1468.7,1000.4) scale(0.955,1)" font-size="29.5" text-anchor="middle" fill="#231f20">4</text>
<text transform="translate(1547.7,1000.4) scale(0.955,1)" font-size="29.5" text-anchor="middle" fill="#231f20">40.0%</text>
<text transform="translate(1624.8,1000.4) scale(0.955,1)" font-size="29.5" text-anchor="middle" fill="#231f20">3</text>
<text transform="translate(1707.4,1000.4) scale(0.955,1)" font-size="29.5" text-anchor="middle" fill="#231f20">30.0%</text>
<circle cx="1313.5" cy="1047.3" r="16.96" fill="#e3e7f6" stroke="#6a6a6a" stroke-width="1.5"/>
<circle cx="1469.7" cy="1047.3" r="24.31" fill="#e3e7f6" stroke="#6a6a6a" stroke-width="1.5"/>
<circle cx="1625.8" cy="1047.3" r="27.89" fill="#e3e7f6" stroke="#6a6a6a" stroke-width="1.5"/>
<text transform="translate(1312.5,1056) scale(0.955,1)" font-size="29.5" text-anchor="middle" fill="#231f20">52</text>
<text transform="translate(1391.5,1056) scale(0.955,1)" font-size="29.5" text-anchor="middle" fill="#231f20">13.6%</text>
<text transform="translate(1468.7,1056) scale(0.955,1)" font-size="29.5" text-anchor="middle" fill="#231f20">137</text>
<text transform="translate(1547.7,1056) scale(0.955,1)" font-size="29.5" text-anchor="middle" fill="#231f20">35.9%</text>
<text transform="translate(1624.8,1056) scale(0.955,1)" font-size="29.5" text-anchor="middle" fill="#231f20">193</text>
<text transform="translate(1707.4,1056) scale(0.955,1)" font-size="29.5" text-anchor="middle" fill="#231f20">50.5%</text>
<circle cx="1313.5" cy="1103.1" r="11.7" fill="#e3e7f6" stroke="#6a6a6a" stroke-width="1.5"/>
<circle cx="1469.7" cy="1103.1" r="14.12" fill="#e3e7f6" stroke="#6a6a6a" stroke-width="1.5"/>
<circle cx="1625.8" cy="1103.1" r="18.04" fill="#e3e7f6" stroke="#6a6a6a" stroke-width="1.5"/>
<text transform="translate(1312.5,1111.8) scale(0.955,1)" font-size="29.5" text-anchor="middle" fill="#231f20">16</text>
<text transform="translate(1391.5,1111.8) scale(0.955,1)" font-size="29.5" text-anchor="middle" fill="#231f20">14.8%</text>
<text transform="translate(1468.7,1111.8) scale(0.955,1)" font-size="29.5" text-anchor="middle" fill="#231f20">30</text>
<text transform="translate(1547.7,1111.8) scale(0.955,1)" font-size="29.5" text-anchor="middle" fill="#231f20">27.8%</text>
<text transform="translate(1624.8,1111.8) scale(0.955,1)" font-size="29.5" text-anchor="middle" fill="#231f20">62</text>
<text transform="translate(1707.4,1111.8) scale(0.955,1)" font-size="29.5" text-anchor="middle" fill="#231f20">57.4%</text>
<rect x="1253.7" y="951.6" width="512.9" height="191.4" fill="none" stroke="#686868" stroke-width="1.7"/>
<text x="168.2" y="1003.2" font-size="32.5" text-anchor="end" fill="#231f20">Well</text>
<line x1="176.3" y1="991.7" x2="186" y2="991.7" stroke="#5e5e5e" stroke-width="3"/>
<text x="165.2" y="1058.8" font-size="32.5" text-anchor="end" fill="#231f20">Moderate</text>
<line x1="176.3" y1="1047.3" x2="186" y2="1047.3" stroke="#5e5e5e" stroke-width="3"/>
<text x="168.2" y="1114.6" font-size="32.5" text-anchor="end" fill="#231f20">Poor</text>
<line x1="176.3" y1="1103.1" x2="186" y2="1103.1" stroke="#5e5e5e" stroke-width="3"/>
<rect x="1767.8" y="952.4" width="59.9" height="189.8" fill="#d9d9d9" stroke="#686868" stroke-width="1.5"/>
<clipPath id="sc2"><rect x="1767.8" y="953.1" width="59.9" height="188.4"/></clipPath>
<g clip-path="url(#sc2)"><text transform="translate(1786.2,1048.6) rotate(90) scale(0.885,1)" font-size="32" text-anchor="middle" fill="#1a1a1a">Differentiation</text></g>
<rect x="186" y="1162.2" width="516.9" height="148.8" fill="#ffffff"/>
<line x1="186" y1="1208.8" x2="702.9" y2="1208.8" stroke="#ebebeb" stroke-width="1.8"/>
<line x1="186" y1="1264.6" x2="702.9" y2="1264.6" stroke="#ebebeb" stroke-width="1.8"/>
<line x1="249.4" y1="1162.2" x2="249.4" y2="1311" stroke="#ebebeb" stroke-width="1.8"/>
<line x1="405.7" y1="1162.2" x2="405.7" y2="1311" stroke="#ebebeb" stroke-width="1.8"/>
<line x1="562" y1="1162.2" x2="562" y2="1311" stroke="#ebebeb" stroke-width="1.8"/>
<circle cx="249.4" cy="1208.8" r="30.56" fill="#c6d2f4" stroke="#6a6a6a" stroke-width="1.5"/>
<circle cx="405.7" cy="1208.8" r="24.93" fill="#c6d2f4" stroke="#6a6a6a" stroke-width="1.5"/>
<circle cx="562" cy="1208.8" r="23.16" fill="#c6d2f4" stroke="#6a6a6a" stroke-width="1.5"/>
<text transform="translate(248.4,1217.5) scale(0.955,1)" font-size="29.5" text-anchor="middle" fill="#231f20">241</text>
<text transform="translate(327.4,1217.5) scale(0.955,1)" font-size="29.5" text-anchor="middle" fill="#231f20">47.4%</text>
<text transform="translate(404.7,1217.5) scale(0.955,1)" font-size="29.5" text-anchor="middle" fill="#231f20">146</text>
<text transform="translate(483.7,1217.5) scale(0.955,1)" font-size="29.5" text-anchor="middle" fill="#231f20">28.7%</text>
<text transform="translate(561,1217.5) scale(0.955,1)" font-size="29.5" text-anchor="middle" fill="#231f20">121</text>
<text transform="translate(643.3,1217.5) scale(0.955,1)" font-size="29.5" text-anchor="middle" fill="#231f20">23.8%</text>
<circle cx="249.4" cy="1264.6" r="25.85" fill="#c6d2f4" stroke="#6a6a6a" stroke-width="1.5"/>
<circle cx="405.7" cy="1264.6" r="21.84" fill="#c6d2f4" stroke="#6a6a6a" stroke-width="1.5"/>
<circle cx="562" cy="1264.6" r="21.36" fill="#c6d2f4" stroke="#6a6a6a" stroke-width="1.5"/>
<text transform="translate(248.4,1273.3) scale(0.955,1)" font-size="29.5" text-anchor="middle" fill="#231f20">160</text>
<text transform="translate(327.4,1273.3) scale(0.955,1)" font-size="29.5" text-anchor="middle" fill="#231f20">44.2%</text>
<text transform="translate(404.7,1273.3) scale(0.955,1)" font-size="29.5" text-anchor="middle" fill="#231f20">104</text>
<text transform="translate(483.7,1273.3) scale(0.955,1)" font-size="29.5" text-anchor="middle" fill="#231f20">28.7%</text>
<text transform="translate(561,1273.3) scale(0.955,1)" font-size="29.5" text-anchor="middle" fill="#231f20">98</text>
<text transform="translate(643.3,1273.3) scale(0.955,1)" font-size="29.5" text-anchor="middle" fill="#231f20">27.1%</text>
<rect x="186" y="1162.2" width="516.9" height="148.8" fill="none" stroke="#686868" stroke-width="1.7"/>
<rect x="724.9" y="1162.2" width="509.8" height="148.8" fill="#ffffff"/>
<line x1="724.9" y1="1208.8" x2="1234.7" y2="1208.8" stroke="#ebebeb" stroke-width="1.8"/>
<line x1="724.9" y1="1264.6" x2="1234.7" y2="1264.6" stroke="#ebebeb" stroke-width="1.8"/>
<line x1="785" y1="1162.2" x2="785" y2="1311" stroke="#ebebeb" stroke-width="1.8"/>
<line x1="941" y1="1162.2" x2="941" y2="1311" stroke="#ebebeb" stroke-width="1.8"/>
<line x1="1097.2" y1="1162.2" x2="1097.2" y2="1311" stroke="#ebebeb" stroke-width="1.8"/>
<circle cx="785" cy="1208.8" r="16.01" fill="#ccd6f5" stroke="#6a6a6a" stroke-width="1.5"/>
<circle cx="941" cy="1208.8" r="27.11" fill="#ccd6f5" stroke="#6a6a6a" stroke-width="1.5"/>
<circle cx="1097.2" cy="1208.8" r="13.82" fill="#ccd6f5" stroke="#6a6a6a" stroke-width="1.5"/>
<text transform="translate(784,1217.5) scale(0.955,1)" font-size="29.5" text-anchor="middle" fill="#231f20">44</text>
<text transform="translate(863,1217.5) scale(0.955,1)" font-size="29.5" text-anchor="middle" fill="#231f20">17.5%</text>
<text transform="translate(940,1217.5) scale(0.955,1)" font-size="29.5" text-anchor="middle" fill="#231f20">180</text>
<text transform="translate(1019,1217.5) scale(0.955,1)" font-size="29.5" text-anchor="middle" fill="#231f20">71.4%</text>
<text transform="translate(1096.2,1217.5) scale(0.955,1)" font-size="29.5" text-anchor="middle" fill="#231f20">28</text>
<text transform="translate(1173.2,1217.5) scale(0.955,1)" font-size="29.5" text-anchor="middle" fill="#231f20">11.1%</text>
<circle cx="785" cy="1264.6" r="13.5" fill="#ccd6f5" stroke="#6a6a6a" stroke-width="1.5"/>
<circle cx="941" cy="1264.6" r="24.38" fill="#ccd6f5" stroke="#6a6a6a" stroke-width="1.5"/>
<circle cx="1097.2" cy="1264.6" r="12.83" fill="#ccd6f5" stroke="#6a6a6a" stroke-width="1.5"/>
<text transform="translate(784,1273.3) scale(0.955,1)" font-size="29.5" text-anchor="middle" fill="#231f20">26</text>
<text transform="translate(863,1273.3) scale(0.955,1)" font-size="29.5" text-anchor="middle" fill="#231f20">14.0%</text>
<text transform="translate(940,1273.3) scale(0.955,1)" font-size="29.5" text-anchor="middle" fill="#231f20">138</text>
<text transform="translate(1019,1273.3) scale(0.955,1)" font-size="29.5" text-anchor="middle" fill="#231f20">74.2%</text>
<text transform="translate(1096.2,1273.3) scale(0.955,1)" font-size="29.5" text-anchor="middle" fill="#231f20">22</text>
<text transform="translate(1173.2,1273.3) scale(0.955,1)" font-size="29.5" text-anchor="middle" fill="#231f20">11.8%</text>
<rect x="724.9" y="1162.2" width="509.8" height="148.8" fill="none" stroke="#686868" stroke-width="1.7"/>
<rect x="1253.7" y="1162.2" width="512.9" height="148.8" fill="#ffffff"/>
<line x1="1253.7" y1="1208.8" x2="1766.6" y2="1208.8" stroke="#ebebeb" stroke-width="1.8"/>
<line x1="1253.7" y1="1264.6" x2="1766.6" y2="1264.6" stroke="#ebebeb" stroke-width="1.8"/>
<line x1="1313.5" y1="1162.2" x2="1313.5" y2="1311" stroke="#ebebeb" stroke-width="1.8"/>
<line x1="1469.7" y1="1162.2" x2="1469.7" y2="1311" stroke="#ebebeb" stroke-width="1.8"/>
<line x1="1625.8" y1="1162.2" x2="1625.8" y2="1311" stroke="#ebebeb" stroke-width="1.8"/>
<circle cx="1313.5" cy="1208.8" r="14.7" fill="#c2cef4" stroke="#6a6a6a" stroke-width="1.5"/>
<circle cx="1469.7" cy="1208.8" r="20.15" fill="#c2cef4" stroke="#6a6a6a" stroke-width="1.5"/>
<circle cx="1625.8" cy="1208.8" r="24.1" fill="#c2cef4" stroke="#6a6a6a" stroke-width="1.5"/>
<text transform="translate(1312.5,1217.5) scale(0.955,1)" font-size="29.5" text-anchor="middle" fill="#231f20">34</text>
<text transform="translate(1391.5,1217.5) scale(0.955,1)" font-size="29.5" text-anchor="middle" fill="#231f20">13.5%</text>
<text transform="translate(1468.7,1217.5) scale(0.955,1)" font-size="29.5" text-anchor="middle" fill="#231f20">84</text>
<text transform="translate(1547.7,1217.5) scale(0.955,1)" font-size="29.5" text-anchor="middle" fill="#231f20">33.3%</text>
<text transform="translate(1624.8,1217.5) scale(0.955,1)" font-size="29.5" text-anchor="middle" fill="#231f20">134</text>
<text transform="translate(1707.4,1217.5) scale(0.955,1)" font-size="29.5" text-anchor="middle" fill="#231f20">53.2%</text>
<circle cx="1313.5" cy="1264.6" r="13.01" fill="#c2cef4" stroke="#6a6a6a" stroke-width="1.5"/>
<circle cx="1469.7" cy="1264.6" r="17.73" fill="#c2cef4" stroke="#6a6a6a" stroke-width="1.5"/>
<circle cx="1625.8" cy="1264.6" r="21.84" fill="#c2cef4" stroke="#6a6a6a" stroke-width="1.5"/>
<text transform="translate(1312.5,1273.3) scale(0.955,1)" font-size="29.5" text-anchor="middle" fill="#231f20">23</text>
<text transform="translate(1391.5,1273.3) scale(0.955,1)" font-size="29.5" text-anchor="middle" fill="#231f20">12.4%</text>
<text transform="translate(1468.7,1273.3) scale(0.955,1)" font-size="29.5" text-anchor="middle" fill="#231f20">59</text>
<text transform="translate(1547.7,1273.3) scale(0.955,1)" font-size="29.5" text-anchor="middle" fill="#231f20">31.7%</text>
<text transform="translate(1624.8,1273.3) scale(0.955,1)" font-size="29.5" text-anchor="middle" fill="#231f20">104</text>
<text transform="translate(1707.4,1273.3) scale(0.955,1)" font-size="29.5" text-anchor="middle" fill="#231f20">55.9%</text>
<rect x="1253.7" y="1162.2" width="512.9" height="148.8" fill="none" stroke="#686868" stroke-width="1.7"/>
<text x="168.2" y="1220.3" font-size="32.5" text-anchor="end" fill="#231f20">≤5cm</text>
<line x1="176.3" y1="1208.8" x2="186" y2="1208.8" stroke="#5e5e5e" stroke-width="3"/>
<text x="168.2" y="1276.1" font-size="32.5" text-anchor="end" fill="#231f20">&gt;5cm</text>
<line x1="176.3" y1="1264.6" x2="186" y2="1264.6" stroke="#5e5e5e" stroke-width="3"/>
<rect x="1767.8" y="1163" width="59.9" height="147.2" fill="#d9d9d9" stroke="#686868" stroke-width="1.5"/>
<clipPath id="sc3"><rect x="1767.8" y="1163.7" width="59.9" height="145.8"/></clipPath>
<g clip-path="url(#sc3)"><text transform="translate(1786.2,1235.1) rotate(90) scale(0.885,1)" font-size="32" text-anchor="middle" fill="#1a1a1a">Tumor size</text></g>
<rect x="186" y="1330.6" width="516.9" height="121.4" fill="#ffffff"/>
<line x1="186" y1="1363.3" x2="702.9" y2="1363.3" stroke="#ebebeb" stroke-width="1.8"/>
<line x1="186" y1="1418.7" x2="702.9" y2="1418.7" stroke="#ebebeb" stroke-width="1.8"/>
<line x1="249.4" y1="1330.6" x2="249.4" y2="1452" stroke="#ebebeb" stroke-width="1.8"/>
<line x1="405.7" y1="1330.6" x2="405.7" y2="1452" stroke="#ebebeb" stroke-width="1.8"/>
<line x1="562" y1="1330.6" x2="562" y2="1452" stroke="#ebebeb" stroke-width="1.8"/>
<circle cx="249.4" cy="1363.3" r="27.05" fill="#f7e9e6" stroke="#6a6a6a" stroke-width="1.5"/>
<circle cx="405.7" cy="1363.3" r="24.1" fill="#f7e9e6" stroke="#6a6a6a" stroke-width="1.5"/>
<circle cx="562" cy="1363.3" r="22.86" fill="#f7e9e6" stroke="#6a6a6a" stroke-width="1.5"/>
<text transform="translate(248.4,1372) scale(0.955,1)" font-size="29.5" text-anchor="middle" fill="#231f20">179</text>
<text transform="translate(327.4,1372) scale(0.955,1)" font-size="29.5" text-anchor="middle" fill="#231f20">41.6%</text>
<text transform="translate(404.7,1372) scale(0.955,1)" font-size="29.5" text-anchor="middle" fill="#231f20">134</text>
<text transform="translate(483.7,1372) scale(0.955,1)" font-size="29.5" text-anchor="middle" fill="#231f20">31.2%</text>
<text transform="translate(561,1372) scale(0.955,1)" font-size="29.5" text-anchor="middle" fill="#231f20">117</text>
<text transform="translate(643.3,1372) scale(0.955,1)" font-size="29.5" text-anchor="middle" fill="#231f20">27.2%</text>
<circle cx="249.4" cy="1418.7" r="30.24" fill="#f7e9e6" stroke="#6a6a6a" stroke-width="1.5"/>
<circle cx="405.7" cy="1418.7" r="23.01" fill="#f7e9e6" stroke="#6a6a6a" stroke-width="1.5"/>
<circle cx="562" cy="1418.7" r="23.96" fill="#f7e9e6" stroke="#6a6a6a" stroke-width="1.5"/>
<text transform="translate(248.4,1427.4) scale(0.955,1)" font-size="29.5" text-anchor="middle" fill="#231f20">235</text>
<text transform="translate(327.4,1427.4) scale(0.955,1)" font-size="29.5" text-anchor="middle" fill="#231f20">48.4%</text>
<text transform="translate(404.7,1427.4) scale(0.955,1)" font-size="29.5" text-anchor="middle" fill="#231f20">119</text>
<text transform="translate(483.7,1427.4) scale(0.955,1)" font-size="29.5" text-anchor="middle" fill="#231f20">24.5%</text>
<text transform="translate(561,1427.4) scale(0.955,1)" font-size="29.5" text-anchor="middle" fill="#231f20">132</text>
<text transform="translate(643.3,1427.4) scale(0.955,1)" font-size="29.5" text-anchor="middle" fill="#231f20">27.2%</text>
<rect x="186" y="1330.6" width="516.9" height="121.4" fill="none" stroke="#686868" stroke-width="1.7"/>
<rect x="724.9" y="1330.6" width="509.8" height="121.4" fill="#ffffff"/>
<line x1="724.9" y1="1363.3" x2="1234.7" y2="1363.3" stroke="#ebebeb" stroke-width="1.8"/>
<line x1="724.9" y1="1418.7" x2="1234.7" y2="1418.7" stroke="#ebebeb" stroke-width="1.8"/>
<line x1="785" y1="1330.6" x2="785" y2="1452" stroke="#ebebeb" stroke-width="1.8"/>
<line x1="941" y1="1330.6" x2="941" y2="1452" stroke="#ebebeb" stroke-width="1.8"/>
<line x1="1097.2" y1="1330.6" x2="1097.2" y2="1452" stroke="#ebebeb" stroke-width="1.8"/>
<circle cx="785" cy="1363.3" r="14.98" fill="#c3cff4" stroke="#6a6a6a" stroke-width="1.5"/>
<circle cx="941" cy="1363.3" r="26.49" fill="#c3cff4" stroke="#6a6a6a" stroke-width="1.5"/>
<circle cx="1097.2" cy="1363.3" r="13.34" fill="#c3cff4" stroke="#6a6a6a" stroke-width="1.5"/>
<text transform="translate(784,1372) scale(0.955,1)" font-size="29.5" text-anchor="middle" fill="#231f20">36</text>
<text transform="translate(863,1372) scale(0.955,1)" font-size="29.5" text-anchor="middle" fill="#231f20">15.6%</text>
<text transform="translate(940,1372) scale(0.955,1)" font-size="29.5" text-anchor="middle" fill="#231f20">170</text>
<text transform="translate(1019,1372) scale(0.955,1)" font-size="29.5" text-anchor="middle" fill="#231f20">73.6%</text>
<text transform="translate(1096.2,1372) scale(0.955,1)" font-size="29.5" text-anchor="middle" fill="#231f20">25</text>
<text transform="translate(1173.2,1372) scale(0.955,1)" font-size="29.5" text-anchor="middle" fill="#231f20">10.8%</text>
<circle cx="785" cy="1418.7" r="15.38" fill="#c3cff4" stroke="#6a6a6a" stroke-width="1.5"/>
<circle cx="941" cy="1418.7" r="26.8" fill="#c3cff4" stroke="#6a6a6a" stroke-width="1.5"/>
<circle cx="1097.2" cy="1418.7" r="13.17" fill="#c3cff4" stroke="#6a6a6a" stroke-width="1.5"/>
<text transform="translate(784,1427.4) scale(0.955,1)" font-size="29.5" text-anchor="middle" fill="#231f20">39</text>
<text transform="translate(863,1427.4) scale(0.955,1)" font-size="29.5" text-anchor="middle" fill="#231f20">16.4%</text>
<text transform="translate(940,1427.4) scale(0.955,1)" font-size="29.5" text-anchor="middle" fill="#231f20">175</text>
<text transform="translate(1019,1427.4) scale(0.955,1)" font-size="29.5" text-anchor="middle" fill="#231f20">73.5%</text>
<text transform="translate(1096.2,1427.4) scale(0.955,1)" font-size="29.5" text-anchor="middle" fill="#231f20">24</text>
<text transform="translate(1173.2,1427.4) scale(0.955,1)" font-size="29.5" text-anchor="middle" fill="#231f20">10.1%</text>
<rect x="724.9" y="1330.6" width="509.8" height="121.4" fill="none" stroke="#686868" stroke-width="1.7"/>
<rect x="1253.7" y="1330.6" width="512.9" height="121.4" fill="#ffffff"/>
<line x1="1253.7" y1="1363.3" x2="1766.6" y2="1363.3" stroke="#ebebeb" stroke-width="1.8"/>
<line x1="1253.7" y1="1418.7" x2="1766.6" y2="1418.7" stroke="#ebebeb" stroke-width="1.8"/>
<line x1="1313.5" y1="1330.6" x2="1313.5" y2="1452" stroke="#ebebeb" stroke-width="1.8"/>
<line x1="1469.7" y1="1330.6" x2="1469.7" y2="1452" stroke="#ebebeb" stroke-width="1.8"/>
<line x1="1625.8" y1="1330.6" x2="1625.8" y2="1452" stroke="#ebebeb" stroke-width="1.8"/>
<circle cx="1313.5" cy="1363.3" r="15.11" fill="#e6e9f6" stroke="#6a6a6a" stroke-width="1.5"/>
<circle cx="1469.7" cy="1363.3" r="18.85" fill="#e6e9f6" stroke="#6a6a6a" stroke-width="1.5"/>
<circle cx="1625.8" cy="1363.3" r="23.38" fill="#e6e9f6" stroke="#6a6a6a" stroke-width="1.5"/>
<text transform="translate(1312.5,1372) scale(0.955,1)" font-size="29.5" text-anchor="middle" fill="#231f20">37</text>
<text transform="translate(1391.5,1372) scale(0.955,1)" font-size="29.5" text-anchor="middle" fill="#231f20">16.0%</text>
<text transform="translate(1468.7,1372) scale(0.955,1)" font-size="29.5" text-anchor="middle" fill="#231f20">70</text>
<text transform="translate(1547.7,1372) scale(0.955,1)" font-size="29.5" text-anchor="middle" fill="#231f20">30.3%</text>
<text transform="translate(1624.8,1372) scale(0.955,1)" font-size="29.5" text-anchor="middle" fill="#231f20">124</text>
<text transform="translate(1707.4,1372) scale(0.955,1)" font-size="29.5" text-anchor="middle" fill="#231f20">53.7%</text>
<circle cx="1313.5" cy="1418.7" r="14.12" fill="#e6e9f6" stroke="#6a6a6a" stroke-width="1.5"/>
<circle cx="1469.7" cy="1418.7" r="20.77" fill="#e6e9f6" stroke="#6a6a6a" stroke-width="1.5"/>
<circle cx="1625.8" cy="1418.7" r="22.86" fill="#e6e9f6" stroke="#6a6a6a" stroke-width="1.5"/>
<text transform="translate(1312.5,1427.4) scale(0.955,1)" font-size="29.5" text-anchor="middle" fill="#231f20">30</text>
<text transform="translate(1391.5,1427.4) scale(0.955,1)" font-size="29.5" text-anchor="middle" fill="#231f20">12.6%</text>
<text transform="translate(1468.7,1427.4) scale(0.955,1)" font-size="29.5" text-anchor="middle" fill="#231f20">91</text>
<text transform="translate(1547.7,1427.4) scale(0.955,1)" font-size="29.5" text-anchor="middle" fill="#231f20">38.2%</text>
<text transform="translate(1624.8,1427.4) scale(0.955,1)" font-size="29.5" text-anchor="middle" fill="#231f20">117</text>
<text transform="translate(1707.4,1427.4) scale(0.955,1)" font-size="29.5" text-anchor="middle" fill="#231f20">49.2%</text>
<rect x="1253.7" y="1330.6" width="512.9" height="121.4" fill="none" stroke="#686868" stroke-width="1.7"/>
<text x="164" y="1374.8" font-size="32.5" text-anchor="end" fill="#231f20">Right sided</text>
<line x1="176.3" y1="1363.3" x2="186" y2="1363.3" stroke="#5e5e5e" stroke-width="3"/>
<text x="164" y="1430.2" font-size="32.5" text-anchor="end" fill="#231f20">Left sided</text>
<line x1="176.3" y1="1418.7" x2="186" y2="1418.7" stroke="#5e5e5e" stroke-width="3"/>
<rect x="1767.8" y="1331.4" width="59.9" height="119.8" fill="#d9d9d9" stroke="#686868" stroke-width="1.5"/>
<clipPath id="sc4"><rect x="1767.8" y="1332.1" width="59.9" height="118.4"/></clipPath>
<g clip-path="url(#sc4)"><text transform="translate(1786.2,1392) rotate(90) scale(0.885,1)" font-size="32" text-anchor="middle" fill="#1a1a1a">Location</text></g>
<rect x="186" y="1471.5" width="516.9" height="233" fill="#ffffff"/>
<line x1="186" y1="1504.5" x2="702.9" y2="1504.5" stroke="#ebebeb" stroke-width="1.8"/>
<line x1="186" y1="1559.9" x2="702.9" y2="1559.9" stroke="#ebebeb" stroke-width="1.8"/>
<line x1="186" y1="1615" x2="702.9" y2="1615" stroke="#ebebeb" stroke-width="1.8"/>
<line x1="186" y1="1670.6" x2="702.9" y2="1670.6" stroke="#ebebeb" stroke-width="1.8"/>
<line x1="249.4" y1="1471.5" x2="249.4" y2="1704.5" stroke="#ebebeb" stroke-width="1.8"/>
<line x1="405.7" y1="1471.5" x2="405.7" y2="1704.5" stroke="#ebebeb" stroke-width="1.8"/>
<line x1="562" y1="1471.5" x2="562" y2="1704.5" stroke="#ebebeb" stroke-width="1.8"/>
<circle cx="249.4" cy="1504.5" r="11.5" fill="#ec9886" stroke="#6a6a6a" stroke-width="1.5"/>
<circle cx="405.7" cy="1504.5" r="8.43" fill="#ec9886" stroke="#6a6a6a" stroke-width="1.5"/>
<circle cx="562" cy="1504.5" r="6.8" fill="#ec9886" stroke="#6a6a6a" stroke-width="1.5"/>
<text transform="translate(248.4,1513.2) scale(0.955,1)" font-size="29.5" text-anchor="middle" fill="#231f20">15</text>
<text transform="translate(327.4,1513.2) scale(0.955,1)" font-size="29.5" text-anchor="middle" fill="#231f20">75.0%</text>
<text transform="translate(404.7,1513.2) scale(0.955,1)" font-size="29.5" text-anchor="middle" fill="#231f20">4</text>
<text transform="translate(483.7,1513.2) scale(0.955,1)" font-size="29.5" text-anchor="middle" fill="#231f20">20.0%</text>
<text transform="translate(561,1513.2) scale(0.955,1)" font-size="29.5" text-anchor="middle" fill="#231f20">1</text>
<text transform="translate(643.3,1513.2) scale(0.955,1)" font-size="29.5" text-anchor="middle" fill="#231f20">5.0%</text>
<circle cx="249.4" cy="1559.9" r="17.83" fill="#ec9886" stroke="#6a6a6a" stroke-width="1.5"/>
<circle cx="405.7" cy="1559.9" r="13.97" fill="#ec9886" stroke="#6a6a6a" stroke-width="1.5"/>
<circle cx="562" cy="1559.9" r="15.24" fill="#ec9886" stroke="#6a6a6a" stroke-width="1.5"/>
<text transform="translate(248.4,1568.6) scale(0.955,1)" font-size="29.5" text-anchor="middle" fill="#231f20">60</text>
<text transform="translate(327.4,1568.6) scale(0.955,1)" font-size="29.5" text-anchor="middle" fill="#231f20">47.2%</text>
<text transform="translate(404.7,1568.6) scale(0.955,1)" font-size="29.5" text-anchor="middle" fill="#231f20">29</text>
<text transform="translate(483.7,1568.6) scale(0.955,1)" font-size="29.5" text-anchor="middle" fill="#231f20">22.8%</text>
<text transform="translate(561,1568.6) scale(0.955,1)" font-size="29.5" text-anchor="middle" fill="#231f20">38</text>
<text transform="translate(643.3,1568.6) scale(0.955,1)" font-size="29.5" text-anchor="middle" fill="#231f20">29.9%</text>
<circle cx="249.4" cy="1615" r="30.13" fill="#ec9886" stroke="#6a6a6a" stroke-width="1.5"/>
<circle cx="405.7" cy="1615" r="25.98" fill="#ec9886" stroke="#6a6a6a" stroke-width="1.5"/>
<circle cx="562" cy="1615" r="24.24" fill="#ec9886" stroke="#6a6a6a" stroke-width="1.5"/>
<text transform="translate(248.4,1623.7) scale(0.955,1)" font-size="29.5" text-anchor="middle" fill="#231f20">233</text>
<text transform="translate(327.4,1623.7) scale(0.955,1)" font-size="29.5" text-anchor="middle" fill="#231f20">43.9%</text>
<text transform="translate(404.7,1623.7) scale(0.955,1)" font-size="29.5" text-anchor="middle" fill="#231f20">162</text>
<text transform="translate(483.7,1623.7) scale(0.955,1)" font-size="29.5" text-anchor="middle" fill="#231f20">30.5%</text>
<text transform="translate(561,1623.7) scale(0.955,1)" font-size="29.5" text-anchor="middle" fill="#231f20">136</text>
<text transform="translate(643.3,1623.7) scale(0.955,1)" font-size="29.5" text-anchor="middle" fill="#231f20">25.6%</text>
<circle cx="249.4" cy="1670.6" r="20.94" fill="#ec9886" stroke="#6a6a6a" stroke-width="1.5"/>
<circle cx="405.7" cy="1670.6" r="17.62" fill="#ec9886" stroke="#6a6a6a" stroke-width="1.5"/>
<circle cx="562" cy="1670.6" r="20.15" fill="#ec9886" stroke="#6a6a6a" stroke-width="1.5"/>
<text transform="translate(248.4,1679.3) scale(0.955,1)" font-size="29.5" text-anchor="middle" fill="#231f20">93</text>
<text transform="translate(327.4,1679.3) scale(0.955,1)" font-size="29.5" text-anchor="middle" fill="#231f20">39.6%</text>
<text transform="translate(404.7,1679.3) scale(0.955,1)" font-size="29.5" text-anchor="middle" fill="#231f20">58</text>
<text transform="translate(483.7,1679.3) scale(0.955,1)" font-size="29.5" text-anchor="middle" fill="#231f20">24.7%</text>
<text transform="translate(561,1679.3) scale(0.955,1)" font-size="29.5" text-anchor="middle" fill="#231f20">84</text>
<text transform="translate(643.3,1679.3) scale(0.955,1)" font-size="29.5" text-anchor="middle" fill="#231f20">35.7%</text>
<rect x="186" y="1471.5" width="516.9" height="233" fill="none" stroke="#686868" stroke-width="1.7"/>
<rect x="724.9" y="1471.5" width="509.8" height="233" fill="#ffffff"/>
<line x1="724.9" y1="1504.5" x2="1234.7" y2="1504.5" stroke="#ebebeb" stroke-width="1.8"/>
<line x1="724.9" y1="1559.9" x2="1234.7" y2="1559.9" stroke="#ebebeb" stroke-width="1.8"/>
<line x1="724.9" y1="1615" x2="1234.7" y2="1615" stroke="#ebebeb" stroke-width="1.8"/>
<line x1="724.9" y1="1670.6" x2="1234.7" y2="1670.6" stroke="#ebebeb" stroke-width="1.8"/>
<line x1="785" y1="1471.5" x2="785" y2="1704.5" stroke="#ebebeb" stroke-width="1.8"/>
<line x1="941" y1="1471.5" x2="941" y2="1704.5" stroke="#ebebeb" stroke-width="1.8"/>
<line x1="1097.2" y1="1471.5" x2="1097.2" y2="1704.5" stroke="#ebebeb" stroke-width="1.8"/>
<circle cx="785" cy="1504.5" r="8.82" fill="#f4cbc2" stroke="#6a6a6a" stroke-width="1.5"/>
<circle cx="941" cy="1504.5" r="10.33" fill="#f4cbc2" stroke="#6a6a6a" stroke-width="1.5"/>
<circle cx="1097.2" cy="1504.5" r="5.16" fill="#f4cbc2" stroke="#6a6a6a" stroke-width="1.5"/>
<text transform="translate(784,1513.2) scale(0.955,1)" font-size="29.5" text-anchor="middle" fill="#231f20">5</text>
<text transform="translate(863,1513.2) scale(0.955,1)" font-size="29.5" text-anchor="middle" fill="#231f20">33.3%</text>
<text transform="translate(940,1513.2) scale(0.955,1)" font-size="29.5" text-anchor="middle" fill="#231f20">10</text>
<text transform="translate(1019,1513.2) scale(0.955,1)" font-size="29.5" text-anchor="middle" fill="#231f20">66.7%</text>
<text transform="translate(1096.2,1513.2) scale(0.955,1)" font-size="29.5" text-anchor="middle" fill="#231f20">0</text>
<text transform="translate(1173.2,1513.2) scale(0.955,1)" font-size="29.5" text-anchor="middle" fill="#231f20">0.0%</text>
<circle cx="785" cy="1559.9" r="12.1" fill="#f4cbc2" stroke="#6a6a6a" stroke-width="1.5"/>
<circle cx="941" cy="1559.9" r="16.73" fill="#f4cbc2" stroke="#6a6a6a" stroke-width="1.5"/>
<circle cx="1097.2" cy="1559.9" r="7.99" fill="#f4cbc2" stroke="#6a6a6a" stroke-width="1.5"/>
<text transform="translate(784,1568.6) scale(0.955,1)" font-size="29.5" text-anchor="middle" fill="#231f20">18</text>
<text transform="translate(863,1568.6) scale(0.955,1)" font-size="29.5" text-anchor="middle" fill="#231f20">25.4%</text>
<text transform="translate(940,1568.6) scale(0.955,1)" font-size="29.5" text-anchor="middle" fill="#231f20">50</text>
<text transform="translate(1019,1568.6) scale(0.955,1)" font-size="29.5" text-anchor="middle" fill="#231f20">70.4%</text>
<text transform="translate(1096.2,1568.6) scale(0.955,1)" font-size="29.5" text-anchor="middle" fill="#231f20">3</text>
<text transform="translate(1173.2,1568.6) scale(0.955,1)" font-size="29.5" text-anchor="middle" fill="#231f20">4.2%</text>
<circle cx="785" cy="1615" r="15.24" fill="#f4cbc2" stroke="#6a6a6a" stroke-width="1.5"/>
<circle cx="941" cy="1615" r="26.55" fill="#f4cbc2" stroke="#6a6a6a" stroke-width="1.5"/>
<circle cx="1097.2" cy="1615" r="13.66" fill="#f4cbc2" stroke="#6a6a6a" stroke-width="1.5"/>
<text transform="translate(784,1623.7) scale(0.955,1)" font-size="29.5" text-anchor="middle" fill="#231f20">38</text>
<text transform="translate(863,1623.7) scale(0.955,1)" font-size="29.5" text-anchor="middle" fill="#231f20">16.1%</text>
<text transform="translate(940,1623.7) scale(0.955,1)" font-size="29.5" text-anchor="middle" fill="#231f20">171</text>
<text transform="translate(1019,1623.7) scale(0.955,1)" font-size="29.5" text-anchor="middle" fill="#231f20">72.5%</text>
<text transform="translate(1096.2,1623.7) scale(0.955,1)" font-size="29.5" text-anchor="middle" fill="#231f20">27</text>
<text transform="translate(1173.2,1623.7) scale(0.955,1)" font-size="29.5" text-anchor="middle" fill="#231f20">11.4%</text>
<circle cx="785" cy="1670.6" r="11.7" fill="#f4cbc2" stroke="#6a6a6a" stroke-width="1.5"/>
<circle cx="941" cy="1670.6" r="22.55" fill="#f4cbc2" stroke="#6a6a6a" stroke-width="1.5"/>
<circle cx="1097.2" cy="1670.6" r="10.83" fill="#f4cbc2" stroke="#6a6a6a" stroke-width="1.5"/>
<text transform="translate(784,1679.3) scale(0.955,1)" font-size="29.5" text-anchor="middle" fill="#231f20">16</text>
<text transform="translate(863,1679.3) scale(0.955,1)" font-size="29.5" text-anchor="middle" fill="#231f20">11.3%</text>
<text transform="translate(940,1679.3) scale(0.955,1)" font-size="29.5" text-anchor="middle" fill="#231f20">113</text>
<text transform="translate(1019,1679.3) scale(0.955,1)" font-size="29.5" text-anchor="middle" fill="#231f20">80.1%</text>
<text transform="translate(1096.2,1679.3) scale(0.955,1)" font-size="29.5" text-anchor="middle" fill="#231f20">12</text>
<text transform="translate(1173.2,1679.3) scale(0.955,1)" font-size="29.5" text-anchor="middle" fill="#231f20">8.5%</text>
<rect x="724.9" y="1471.5" width="509.8" height="233" fill="none" stroke="#686868" stroke-width="1.7"/>
<rect x="1253.7" y="1471.5" width="512.9" height="233" fill="#ffffff"/>
<line x1="1253.7" y1="1504.5" x2="1766.6" y2="1504.5" stroke="#ebebeb" stroke-width="1.8"/>
<line x1="1253.7" y1="1559.9" x2="1766.6" y2="1559.9" stroke="#ebebeb" stroke-width="1.8"/>
<line x1="1253.7" y1="1615" x2="1766.6" y2="1615" stroke="#ebebeb" stroke-width="1.8"/>
<line x1="1253.7" y1="1670.6" x2="1766.6" y2="1670.6" stroke="#ebebeb" stroke-width="1.8"/>
<line x1="1313.5" y1="1471.5" x2="1313.5" y2="1704.5" stroke="#ebebeb" stroke-width="1.8"/>
<line x1="1469.7" y1="1471.5" x2="1469.7" y2="1704.5" stroke="#ebebeb" stroke-width="1.8"/>
<line x1="1625.8" y1="1471.5" x2="1625.8" y2="1704.5" stroke="#ebebeb" stroke-width="1.8"/>
<circle cx="1313.5" cy="1504.5" r="9.17" fill="#f7ded7" stroke="#6a6a6a" stroke-width="1.5"/>
<circle cx="1469.7" cy="1504.5" r="8.82" fill="#f7ded7" stroke="#6a6a6a" stroke-width="1.5"/>
<circle cx="1625.8" cy="1504.5" r="8.43" fill="#f7ded7" stroke="#6a6a6a" stroke-width="1.5"/>
<text transform="translate(1312.5,1513.2) scale(0.955,1)" font-size="29.5" text-anchor="middle" fill="#231f20">6</text>
<text transform="translate(1391.5,1513.2) scale(0.955,1)" font-size="29.5" text-anchor="middle" fill="#231f20">40.0%</text>
<text transform="translate(1468.7,1513.2) scale(0.955,1)" font-size="29.5" text-anchor="middle" fill="#231f20">5</text>
<text transform="translate(1547.7,1513.2) scale(0.955,1)" font-size="29.5" text-anchor="middle" fill="#231f20">33.3%</text>
<text transform="translate(1624.8,1513.2) scale(0.955,1)" font-size="29.5" text-anchor="middle" fill="#231f20">4</text>
<text transform="translate(1707.4,1513.2) scale(0.955,1)" font-size="29.5" text-anchor="middle" fill="#231f20">26.7%</text>
<circle cx="1313.5" cy="1559.9" r="11.5" fill="#f7ded7" stroke="#6a6a6a" stroke-width="1.5"/>
<circle cx="1469.7" cy="1559.9" r="13.82" fill="#f7ded7" stroke="#6a6a6a" stroke-width="1.5"/>
<circle cx="1625.8" cy="1559.9" r="13.82" fill="#f7ded7" stroke="#6a6a6a" stroke-width="1.5"/>
<text transform="translate(1312.5,1568.6) scale(0.955,1)" font-size="29.5" text-anchor="middle" fill="#231f20">15</text>
<text transform="translate(1391.5,1568.6) scale(0.955,1)" font-size="29.5" text-anchor="middle" fill="#231f20">21.1%</text>
<text transform="translate(1468.7,1568.6) scale(0.955,1)" font-size="29.5" text-anchor="middle" fill="#231f20">28</text>
<text transform="translate(1547.7,1568.6) scale(0.955,1)" font-size="29.5" text-anchor="middle" fill="#231f20">39.4%</text>
<text transform="translate(1624.8,1568.6) scale(0.955,1)" font-size="29.5" text-anchor="middle" fill="#231f20">28</text>
<text transform="translate(1707.4,1568.6) scale(0.955,1)" font-size="29.5" text-anchor="middle" fill="#231f20">39.4%</text>
<circle cx="1313.5" cy="1615" r="14.12" fill="#f7ded7" stroke="#6a6a6a" stroke-width="1.5"/>
<circle cx="1469.7" cy="1615" r="19.97" fill="#f7ded7" stroke="#6a6a6a" stroke-width="1.5"/>
<circle cx="1625.8" cy="1615" r="23.45" fill="#f7ded7" stroke="#6a6a6a" stroke-width="1.5"/>
<text transform="translate(1312.5,1623.7) scale(0.955,1)" font-size="29.5" text-anchor="middle" fill="#231f20">30</text>
<text transform="translate(1391.5,1623.7) scale(0.955,1)" font-size="29.5" text-anchor="middle" fill="#231f20">12.7%</text>
<text transform="translate(1468.7,1623.7) scale(0.955,1)" font-size="29.5" text-anchor="middle" fill="#231f20">82</text>
<text transform="translate(1547.7,1623.7) scale(0.955,1)" font-size="29.5" text-anchor="middle" fill="#231f20">34.6%</text>
<text transform="translate(1624.8,1623.7) scale(0.955,1)" font-size="29.5" text-anchor="middle" fill="#231f20">125</text>
<text transform="translate(1707.4,1623.7) scale(0.955,1)" font-size="29.5" text-anchor="middle" fill="#231f20">52.7%</text>
<circle cx="1313.5" cy="1670.6" r="12.29" fill="#f7ded7" stroke="#6a6a6a" stroke-width="1.5"/>
<circle cx="1469.7" cy="1670.6" r="15.76" fill="#f7ded7" stroke="#6a6a6a" stroke-width="1.5"/>
<circle cx="1625.8" cy="1670.6" r="19.7" fill="#f7ded7" stroke="#6a6a6a" stroke-width="1.5"/>
<text transform="translate(1312.5,1679.3) scale(0.955,1)" font-size="29.5" text-anchor="middle" fill="#231f20">19</text>
<text transform="translate(1391.5,1679.3) scale(0.955,1)" font-size="29.5" text-anchor="middle" fill="#231f20">13.6%</text>
<text transform="translate(1468.7,1679.3) scale(0.955,1)" font-size="29.5" text-anchor="middle" fill="#231f20">42</text>
<text transform="translate(1547.7,1679.3) scale(0.955,1)" font-size="29.5" text-anchor="middle" fill="#231f20">30.0%</text>
<text transform="translate(1624.8,1679.3) scale(0.955,1)" font-size="29.5" text-anchor="middle" fill="#231f20">79</text>
<text transform="translate(1707.4,1679.3) scale(0.955,1)" font-size="29.5" text-anchor="middle" fill="#231f20">56.4%</text>
<rect x="1253.7" y="1471.5" width="512.9" height="233" fill="none" stroke="#686868" stroke-width="1.7"/>
<text x="168.2" y="1516" font-size="32.5" text-anchor="end" fill="#231f20">T1</text>
<line x1="176.3" y1="1504.5" x2="186" y2="1504.5" stroke="#5e5e5e" stroke-width="3"/>
<text x="168.2" y="1571.4" font-size="32.5" text-anchor="end" fill="#231f20">T2</text>
<line x1="176.3" y1="1559.9" x2="186" y2="1559.9" stroke="#5e5e5e" stroke-width="3"/>
<text x="168.2" y="1626.5" font-size="32.5" text-anchor="end" fill="#231f20">T3</text>
<line x1="176.3" y1="1615" x2="186" y2="1615" stroke="#5e5e5e" stroke-width="3"/>
<text x="168.2" y="1682.1" font-size="32.5" text-anchor="end" fill="#231f20">T4</text>
<line x1="176.3" y1="1670.6" x2="186" y2="1670.6" stroke="#5e5e5e" stroke-width="3"/>
<rect x="1767.8" y="1472.3" width="59.9" height="231.4" fill="#d9d9d9" stroke="#686868" stroke-width="1.5"/>
<clipPath id="sc5"><rect x="1767.8" y="1473" width="59.9" height="230"/></clipPath>
<g clip-path="url(#sc5)"><text transform="translate(1786.2,1583.3) rotate(90) scale(0.885,1)" font-size="32" text-anchor="middle" fill="#1a1a1a">T staging</text></g>
<rect x="186" y="1723.4" width="516.9" height="177.2" fill="#ffffff"/>
<line x1="186" y1="1756" x2="702.9" y2="1756" stroke="#ebebeb" stroke-width="1.8"/>
<line x1="186" y1="1811.8" x2="702.9" y2="1811.8" stroke="#ebebeb" stroke-width="1.8"/>
<line x1="186" y1="1867.1" x2="702.9" y2="1867.1" stroke="#ebebeb" stroke-width="1.8"/>
<line x1="249.4" y1="1723.4" x2="249.4" y2="1900.6" stroke="#ebebeb" stroke-width="1.8"/>
<line x1="405.7" y1="1723.4" x2="405.7" y2="1900.6" stroke="#ebebeb" stroke-width="1.8"/>
<line x1="562" y1="1723.4" x2="562" y2="1900.6" stroke="#ebebeb" stroke-width="1.8"/>
<circle cx="249.4" cy="1756" r="31.89" fill="#d6ddf5" stroke="#6a6a6a" stroke-width="1.5"/>
<circle cx="405.7" cy="1756" r="25.59" fill="#d6ddf5" stroke="#6a6a6a" stroke-width="1.5"/>
<circle cx="562" cy="1756" r="25.92" fill="#d6ddf5" stroke="#6a6a6a" stroke-width="1.5"/>
<text transform="translate(248.4,1764.7) scale(0.955,1)" font-size="29.5" text-anchor="middle" fill="#231f20">267</text>
<text transform="translate(327.4,1764.7) scale(0.955,1)" font-size="29.5" text-anchor="middle" fill="#231f20">45.7%</text>
<text transform="translate(404.7,1764.7) scale(0.955,1)" font-size="29.5" text-anchor="middle" fill="#231f20">156</text>
<text transform="translate(483.7,1764.7) scale(0.955,1)" font-size="29.5" text-anchor="middle" fill="#231f20">26.7%</text>
<text transform="translate(561,1764.7) scale(0.955,1)" font-size="29.5" text-anchor="middle" fill="#231f20">161</text>
<text transform="translate(643.3,1764.7) scale(0.955,1)" font-size="29.5" text-anchor="middle" fill="#231f20">27.6%</text>
<circle cx="249.4" cy="1811.8" r="23.38" fill="#d6ddf5" stroke="#6a6a6a" stroke-width="1.5"/>
<circle cx="405.7" cy="1811.8" r="19.33" fill="#d6ddf5" stroke="#6a6a6a" stroke-width="1.5"/>
<circle cx="562" cy="1811.8" r="19.61" fill="#d6ddf5" stroke="#6a6a6a" stroke-width="1.5"/>
<text transform="translate(248.4,1820.5) scale(0.955,1)" font-size="29.5" text-anchor="middle" fill="#231f20">124</text>
<text transform="translate(327.4,1820.5) scale(0.955,1)" font-size="29.5" text-anchor="middle" fill="#231f20">44.8%</text>
<text transform="translate(404.7,1820.5) scale(0.955,1)" font-size="29.5" text-anchor="middle" fill="#231f20">75</text>
<text transform="translate(483.7,1820.5) scale(0.955,1)" font-size="29.5" text-anchor="middle" fill="#231f20">27.1%</text>
<text transform="translate(561,1820.5) scale(0.955,1)" font-size="29.5" text-anchor="middle" fill="#231f20">78</text>
<text transform="translate(643.3,1820.5) scale(0.955,1)" font-size="29.5" text-anchor="middle" fill="#231f20">28.2%</text>
<circle cx="249.4" cy="1867.1" r="14.41" fill="#d6ddf5" stroke="#6a6a6a" stroke-width="1.5"/>
<circle cx="405.7" cy="1867.1" r="14.41" fill="#d6ddf5" stroke="#6a6a6a" stroke-width="1.5"/>
<circle cx="562" cy="1867.1" r="13.97" fill="#d6ddf5" stroke="#6a6a6a" stroke-width="1.5"/>
<text transform="translate(248.4,1875.8) scale(0.955,1)" font-size="29.5" text-anchor="middle" fill="#231f20">32</text>
<text transform="translate(327.4,1875.8) scale(0.955,1)" font-size="29.5" text-anchor="middle" fill="#231f20">34.4%</text>
<text transform="translate(404.7,1875.8) scale(0.955,1)" font-size="29.5" text-anchor="middle" fill="#231f20">32</text>
<text transform="translate(483.7,1875.8) scale(0.955,1)" font-size="29.5" text-anchor="middle" fill="#231f20">34.4%</text>
<text transform="translate(561,1875.8) scale(0.955,1)" font-size="29.5" text-anchor="middle" fill="#231f20">29</text>
<text transform="translate(643.3,1875.8) scale(0.955,1)" font-size="29.5" text-anchor="middle" fill="#231f20">31.2%</text>
<rect x="186" y="1723.4" width="516.9" height="177.2" fill="none" stroke="#686868" stroke-width="1.7"/>
<rect x="724.9" y="1723.4" width="509.8" height="177.2" fill="#ffffff"/>
<line x1="724.9" y1="1756" x2="1234.7" y2="1756" stroke="#ebebeb" stroke-width="1.8"/>
<line x1="724.9" y1="1811.8" x2="1234.7" y2="1811.8" stroke="#ebebeb" stroke-width="1.8"/>
<line x1="724.9" y1="1867.1" x2="1234.7" y2="1867.1" stroke="#ebebeb" stroke-width="1.8"/>
<line x1="785" y1="1723.4" x2="785" y2="1900.6" stroke="#ebebeb" stroke-width="1.8"/>
<line x1="941" y1="1723.4" x2="941" y2="1900.6" stroke="#ebebeb" stroke-width="1.8"/>
<line x1="1097.2" y1="1723.4" x2="1097.2" y2="1900.6" stroke="#ebebeb" stroke-width="1.8"/>
<circle cx="785" cy="1756" r="17.62" fill="#f2b9ad" stroke="#6a6a6a" stroke-width="1.5"/>
<circle cx="941" cy="1756" r="29.97" fill="#f2b9ad" stroke="#6a6a6a" stroke-width="1.5"/>
<circle cx="1097.2" cy="1756" r="13.34" fill="#f2b9ad" stroke="#6a6a6a" stroke-width="1.5"/>
<text transform="translate(784,1764.7) scale(0.955,1)" font-size="29.5" text-anchor="middle" fill="#231f20">58</text>
<text transform="translate(863,1764.7) scale(0.955,1)" font-size="29.5" text-anchor="middle" fill="#231f20">18.5%</text>
<text transform="translate(940,1764.7) scale(0.955,1)" font-size="29.5" text-anchor="middle" fill="#231f20">230</text>
<text transform="translate(1019,1764.7) scale(0.955,1)" font-size="29.5" text-anchor="middle" fill="#231f20">73.5%</text>
<text transform="translate(1096.2,1764.7) scale(0.955,1)" font-size="29.5" text-anchor="middle" fill="#231f20">25</text>
<text transform="translate(1173.2,1764.7) scale(0.955,1)" font-size="29.5" text-anchor="middle" fill="#231f20">8.0%</text>
<circle cx="785" cy="1811.8" r="11.7" fill="#f2b9ad" stroke="#6a6a6a" stroke-width="1.5"/>
<circle cx="941" cy="1811.8" r="21.11" fill="#f2b9ad" stroke="#6a6a6a" stroke-width="1.5"/>
<circle cx="1097.2" cy="1811.8" r="13.17" fill="#f2b9ad" stroke="#6a6a6a" stroke-width="1.5"/>
<text transform="translate(784,1820.5) scale(0.955,1)" font-size="29.5" text-anchor="middle" fill="#231f20">16</text>
<text transform="translate(863,1820.5) scale(0.955,1)" font-size="29.5" text-anchor="middle" fill="#231f20">11.9%</text>
<text transform="translate(940,1820.5) scale(0.955,1)" font-size="29.5" text-anchor="middle" fill="#231f20">95</text>
<text transform="translate(1019,1820.5) scale(0.955,1)" font-size="29.5" text-anchor="middle" fill="#231f20">70.4%</text>
<text transform="translate(1096.2,1820.5) scale(0.955,1)" font-size="29.5" text-anchor="middle" fill="#231f20">24</text>
<text transform="translate(1173.2,1820.5) scale(0.955,1)" font-size="29.5" text-anchor="middle" fill="#231f20">17.8%</text>
<circle cx="785" cy="1867.1" r="8.82" fill="#f2b9ad" stroke="#6a6a6a" stroke-width="1.5"/>
<circle cx="941" cy="1867.1" r="15.24" fill="#f2b9ad" stroke="#6a6a6a" stroke-width="1.5"/>
<circle cx="1097.2" cy="1867.1" r="8.82" fill="#f2b9ad" stroke="#6a6a6a" stroke-width="1.5"/>
<text transform="translate(784,1875.8) scale(0.955,1)" font-size="29.5" text-anchor="middle" fill="#231f20">5</text>
<text transform="translate(863,1875.8) scale(0.955,1)" font-size="29.5" text-anchor="middle" fill="#231f20">10.4%</text>
<text transform="translate(940,1875.8) scale(0.955,1)" font-size="29.5" text-anchor="middle" fill="#231f20">38</text>
<text transform="translate(1019,1875.8) scale(0.955,1)" font-size="29.5" text-anchor="middle" fill="#231f20">79.2%</text>
<text transform="translate(1096.2,1875.8) scale(0.955,1)" font-size="29.5" text-anchor="middle" fill="#231f20">5</text>
<text transform="translate(1173.2,1875.8) scale(0.955,1)" font-size="29.5" text-anchor="middle" fill="#231f20">10.4%</text>
<rect x="724.9" y="1723.4" width="509.8" height="177.2" fill="none" stroke="#686868" stroke-width="1.7"/>
<rect x="1253.7" y="1723.4" width="512.9" height="177.2" fill="#ffffff"/>
<line x1="1253.7" y1="1756" x2="1766.6" y2="1756" stroke="#ebebeb" stroke-width="1.8"/>
<line x1="1253.7" y1="1811.8" x2="1766.6" y2="1811.8" stroke="#ebebeb" stroke-width="1.8"/>
<line x1="1253.7" y1="1867.1" x2="1766.6" y2="1867.1" stroke="#ebebeb" stroke-width="1.8"/>
<line x1="1313.5" y1="1723.4" x2="1313.5" y2="1900.6" stroke="#ebebeb" stroke-width="1.8"/>
<line x1="1469.7" y1="1723.4" x2="1469.7" y2="1900.6" stroke="#ebebeb" stroke-width="1.8"/>
<line x1="1625.8" y1="1723.4" x2="1625.8" y2="1900.6" stroke="#ebebeb" stroke-width="1.8"/>
<circle cx="1313.5" cy="1756" r="16.73" fill="#cbd5f5" stroke="#6a6a6a" stroke-width="1.5"/>
<circle cx="1469.7" cy="1756" r="21.76" fill="#cbd5f5" stroke="#6a6a6a" stroke-width="1.5"/>
<circle cx="1625.8" cy="1756" r="25.92" fill="#cbd5f5" stroke="#6a6a6a" stroke-width="1.5"/>
<text transform="translate(1312.5,1764.7) scale(0.955,1)" font-size="29.5" text-anchor="middle" fill="#231f20">50</text>
<text transform="translate(1391.5,1764.7) scale(0.955,1)" font-size="29.5" text-anchor="middle" fill="#231f20">15.9%</text>
<text transform="translate(1468.7,1764.7) scale(0.955,1)" font-size="29.5" text-anchor="middle" fill="#231f20">103</text>
<text transform="translate(1547.7,1764.7) scale(0.955,1)" font-size="29.5" text-anchor="middle" fill="#231f20">32.8%</text>
<text transform="translate(1624.8,1764.7) scale(0.955,1)" font-size="29.5" text-anchor="middle" fill="#231f20">161</text>
<text transform="translate(1707.4,1764.7) scale(0.955,1)" font-size="29.5" text-anchor="middle" fill="#231f20">51.3%</text>
<circle cx="1313.5" cy="1811.8" r="11.91" fill="#cbd5f5" stroke="#6a6a6a" stroke-width="1.5"/>
<circle cx="1469.7" cy="1811.8" r="16.84" fill="#cbd5f5" stroke="#6a6a6a" stroke-width="1.5"/>
<circle cx="1625.8" cy="1811.8" r="18.55" fill="#cbd5f5" stroke="#6a6a6a" stroke-width="1.5"/>
<text transform="translate(1312.5,1820.5) scale(0.955,1)" font-size="29.5" text-anchor="middle" fill="#231f20">17</text>
<text transform="translate(1391.5,1820.5) scale(0.955,1)" font-size="29.5" text-anchor="middle" fill="#231f20">12.6%</text>
<text transform="translate(1468.7,1820.5) scale(0.955,1)" font-size="29.5" text-anchor="middle" fill="#231f20">51</text>
<text transform="translate(1547.7,1820.5) scale(0.955,1)" font-size="29.5" text-anchor="middle" fill="#231f20">37.8%</text>
<text transform="translate(1624.8,1820.5) scale(0.955,1)" font-size="29.5" text-anchor="middle" fill="#231f20">67</text>
<text transform="translate(1707.4,1820.5) scale(0.955,1)" font-size="29.5" text-anchor="middle" fill="#231f20">49.6%</text>
<circle cx="1313.5" cy="1867.1" r="8.43" fill="#cbd5f5" stroke="#6a6a6a" stroke-width="1.5"/>
<circle cx="1469.7" cy="1867.1" r="11.5" fill="#cbd5f5" stroke="#6a6a6a" stroke-width="1.5"/>
<circle cx="1625.8" cy="1867.1" r="13.82" fill="#cbd5f5" stroke="#6a6a6a" stroke-width="1.5"/>
<text transform="translate(1312.5,1875.8) scale(0.955,1)" font-size="29.5" text-anchor="middle" fill="#231f20">4</text>
<text transform="translate(1391.5,1875.8) scale(0.955,1)" font-size="29.5" text-anchor="middle" fill="#231f20">8.5%</text>
<text transform="translate(1468.7,1875.8) scale(0.955,1)" font-size="29.5" text-anchor="middle" fill="#231f20">15</text>
<text transform="translate(1547.7,1875.8) scale(0.955,1)" font-size="29.5" text-anchor="middle" fill="#231f20">31.9%</text>
<text transform="translate(1624.8,1875.8) scale(0.955,1)" font-size="29.5" text-anchor="middle" fill="#231f20">28</text>
<text transform="translate(1707.4,1875.8) scale(0.955,1)" font-size="29.5" text-anchor="middle" fill="#231f20">59.6%</text>
<rect x="1253.7" y="1723.4" width="512.9" height="177.2" fill="none" stroke="#686868" stroke-width="1.7"/>
<text x="168.2" y="1767.5" font-size="32.5" text-anchor="end" fill="#231f20">N0</text>
<line x1="176.3" y1="1756" x2="186" y2="1756" stroke="#5e5e5e" stroke-width="3"/>
<text x="168.2" y="1823.3" font-size="32.5" text-anchor="end" fill="#231f20">N1</text>
<line x1="176.3" y1="1811.8" x2="186" y2="1811.8" stroke="#5e5e5e" stroke-width="3"/>
<text x="168.2" y="1878.6" font-size="32.5" text-anchor="end" fill="#231f20">N2</text>
<line x1="176.3" y1="1867.1" x2="186" y2="1867.1" stroke="#5e5e5e" stroke-width="3"/>
<rect x="1767.8" y="1724.2" width="59.9" height="175.6" fill="#d9d9d9" stroke="#686868" stroke-width="1.5"/>
<clipPath id="sc6"><rect x="1767.8" y="1724.9" width="59.9" height="174.2"/></clipPath>
<g clip-path="url(#sc6)"><text transform="translate(1786.2,1807.9) rotate(90) scale(0.885,1)" font-size="32" text-anchor="middle" fill="#1a1a1a">N staging</text></g>
<rect x="186" y="1919.7" width="516.9" height="136.3" fill="#ffffff"/>
<line x1="186" y1="1959.8" x2="702.9" y2="1959.8" stroke="#ebebeb" stroke-width="1.8"/>
<line x1="186" y1="2015.2" x2="702.9" y2="2015.2" stroke="#ebebeb" stroke-width="1.8"/>
<line x1="249.4" y1="1919.7" x2="249.4" y2="2056" stroke="#ebebeb" stroke-width="1.8"/>
<line x1="405.7" y1="1919.7" x2="405.7" y2="2056" stroke="#ebebeb" stroke-width="1.8"/>
<line x1="562" y1="1919.7" x2="562" y2="2056" stroke="#ebebeb" stroke-width="1.8"/>
<circle cx="249.4" cy="1959.8" r="37.76" fill="#f4c4ba" stroke="#6a6a6a" stroke-width="1.5"/>
<circle cx="405.7" cy="1959.8" r="29.97" fill="#f4c4ba" stroke="#6a6a6a" stroke-width="1.5"/>
<circle cx="562" cy="1959.8" r="30.82" fill="#f4c4ba" stroke="#6a6a6a" stroke-width="1.5"/>
<text transform="translate(248.4,1968.5) scale(0.955,1)" font-size="29.5" text-anchor="middle" fill="#231f20">397</text>
<text transform="translate(327.4,1968.5) scale(0.955,1)" font-size="29.5" text-anchor="middle" fill="#231f20">45.5%</text>
<text transform="translate(404.7,1968.5) scale(0.955,1)" font-size="29.5" text-anchor="middle" fill="#231f20">230</text>
<text transform="translate(483.7,1968.5) scale(0.955,1)" font-size="29.5" text-anchor="middle" fill="#231f20">26.3%</text>
<text transform="translate(561,1968.5) scale(0.955,1)" font-size="29.5" text-anchor="middle" fill="#231f20">246</text>
<text transform="translate(643.3,1968.5) scale(0.955,1)" font-size="29.5" text-anchor="middle" fill="#231f20">28.2%</text>
<circle cx="249.4" cy="2015.2" r="13.66" fill="#f4c4ba" stroke="#6a6a6a" stroke-width="1.5"/>
<circle cx="405.7" cy="2015.2" r="14.56" fill="#f4c4ba" stroke="#6a6a6a" stroke-width="1.5"/>
<circle cx="562" cy="2015.2" r="13.34" fill="#f4c4ba" stroke="#6a6a6a" stroke-width="1.5"/>
<text transform="translate(248.4,2023.9) scale(0.955,1)" font-size="29.5" text-anchor="middle" fill="#231f20">27</text>
<text transform="translate(327.4,2023.9) scale(0.955,1)" font-size="29.5" text-anchor="middle" fill="#231f20">31.8%</text>
<text transform="translate(404.7,2023.9) scale(0.955,1)" font-size="29.5" text-anchor="middle" fill="#231f20">33</text>
<text transform="translate(483.7,2023.9) scale(0.955,1)" font-size="29.5" text-anchor="middle" fill="#231f20">38.8%</text>
<text transform="translate(561,2023.9) scale(0.955,1)" font-size="29.5" text-anchor="middle" fill="#231f20">25</text>
<text transform="translate(643.3,2023.9) scale(0.955,1)" font-size="29.5" text-anchor="middle" fill="#231f20">29.4%</text>
<rect x="186" y="1919.7" width="516.9" height="136.3" fill="none" stroke="#686868" stroke-width="1.7"/>
<rect x="724.9" y="1919.7" width="509.8" height="136.3" fill="#ffffff"/>
<line x1="724.9" y1="1959.8" x2="1234.7" y2="1959.8" stroke="#ebebeb" stroke-width="1.8"/>
<line x1="724.9" y1="2015.2" x2="1234.7" y2="2015.2" stroke="#ebebeb" stroke-width="1.8"/>
<line x1="785" y1="1919.7" x2="785" y2="2056" stroke="#ebebeb" stroke-width="1.8"/>
<line x1="941" y1="1919.7" x2="941" y2="2056" stroke="#ebebeb" stroke-width="1.8"/>
<line x1="1097.2" y1="1919.7" x2="1097.2" y2="2056" stroke="#ebebeb" stroke-width="1.8"/>
<circle cx="785" cy="1959.8" r="18.15" fill="#f5c9c0" stroke="#6a6a6a" stroke-width="1.5"/>
<circle cx="941" cy="1959.8" r="34.43" fill="#f5c9c0" stroke="#6a6a6a" stroke-width="1.5"/>
<circle cx="1097.2" cy="1959.8" r="15.64" fill="#f5c9c0" stroke="#6a6a6a" stroke-width="1.5"/>
<text transform="translate(784,1968.5) scale(0.955,1)" font-size="29.5" text-anchor="middle" fill="#231f20">63</text>
<text transform="translate(863,1968.5) scale(0.955,1)" font-size="29.5" text-anchor="middle" fill="#231f20">14.9%</text>
<text transform="translate(940,1968.5) scale(0.955,1)" font-size="29.5" text-anchor="middle" fill="#231f20">320</text>
<text transform="translate(1019,1968.5) scale(0.955,1)" font-size="29.5" text-anchor="middle" fill="#231f20">75.5%</text>
<text transform="translate(1096.2,1968.5) scale(0.955,1)" font-size="29.5" text-anchor="middle" fill="#231f20">41</text>
<text transform="translate(1173.2,1968.5) scale(0.955,1)" font-size="29.5" text-anchor="middle" fill="#231f20">9.7%</text>
<circle cx="785" cy="2015.2" r="11.7" fill="#f5c9c0" stroke="#6a6a6a" stroke-width="1.5"/>
<circle cx="941" cy="2015.2" r="16.01" fill="#f5c9c0" stroke="#6a6a6a" stroke-width="1.5"/>
<circle cx="1097.2" cy="2015.2" r="11.28" fill="#f5c9c0" stroke="#6a6a6a" stroke-width="1.5"/>
<text transform="translate(784,2023.9) scale(0.955,1)" font-size="29.5" text-anchor="middle" fill="#231f20">16</text>
<text transform="translate(863,2023.9) scale(0.955,1)" font-size="29.5" text-anchor="middle" fill="#231f20">21.6%</text>
<text transform="translate(940,2023.9) scale(0.955,1)" font-size="29.5" text-anchor="middle" fill="#231f20">44</text>
<text transform="translate(1019,2023.9) scale(0.955,1)" font-size="29.5" text-anchor="middle" fill="#231f20">59.5%</text>
<text transform="translate(1096.2,2023.9) scale(0.955,1)" font-size="29.5" text-anchor="middle" fill="#231f20">14</text>
<text transform="translate(1173.2,2023.9) scale(0.955,1)" font-size="29.5" text-anchor="middle" fill="#231f20">18.9%</text>
<rect x="724.9" y="1919.7" width="509.8" height="136.3" fill="none" stroke="#686868" stroke-width="1.7"/>
<rect x="1253.7" y="1919.7" width="512.9" height="136.3" fill="#ffffff"/>
<line x1="1253.7" y1="1959.8" x2="1766.6" y2="1959.8" stroke="#ebebeb" stroke-width="1.8"/>
<line x1="1253.7" y1="2015.2" x2="1766.6" y2="2015.2" stroke="#ebebeb" stroke-width="1.8"/>
<line x1="1313.5" y1="1919.7" x2="1313.5" y2="2056" stroke="#ebebeb" stroke-width="1.8"/>
<line x1="1469.7" y1="1919.7" x2="1469.7" y2="2056" stroke="#ebebeb" stroke-width="1.8"/>
<line x1="1625.8" y1="1919.7" x2="1625.8" y2="2056" stroke="#ebebeb" stroke-width="1.8"/>
<circle cx="1313.5" cy="1959.8" r="18.15" fill="#e3e7f6" stroke="#6a6a6a" stroke-width="1.5"/>
<circle cx="1469.7" cy="1959.8" r="24.38" fill="#e3e7f6" stroke="#6a6a6a" stroke-width="1.5"/>
<circle cx="1625.8" cy="1959.8" r="29.65" fill="#e3e7f6" stroke="#6a6a6a" stroke-width="1.5"/>
<text transform="translate(1312.5,1968.5) scale(0.955,1)" font-size="29.5" text-anchor="middle" fill="#231f20">63</text>
<text transform="translate(1391.5,1968.5) scale(0.955,1)" font-size="29.5" text-anchor="middle" fill="#231f20">14.8%</text>
<text transform="translate(1468.7,1968.5) scale(0.955,1)" font-size="29.5" text-anchor="middle" fill="#231f20">138</text>
<text transform="translate(1547.7,1968.5) scale(0.955,1)" font-size="29.5" text-anchor="middle" fill="#231f20">32.5%</text>
<text transform="translate(1624.8,1968.5) scale(0.955,1)" font-size="29.5" text-anchor="middle" fill="#231f20">224</text>
<text transform="translate(1707.4,1968.5) scale(0.955,1)" font-size="29.5" text-anchor="middle" fill="#231f20">52.7%</text>
<circle cx="1313.5" cy="2015.2" r="9.79" fill="#e3e7f6" stroke="#6a6a6a" stroke-width="1.5"/>
<circle cx="1469.7" cy="2015.2" r="14.41" fill="#e3e7f6" stroke="#6a6a6a" stroke-width="1.5"/>
<circle cx="1625.8" cy="2015.2" r="14.56" fill="#e3e7f6" stroke="#6a6a6a" stroke-width="1.5"/>
<text transform="translate(1312.5,2023.9) scale(0.955,1)" font-size="29.5" text-anchor="middle" fill="#231f20">8</text>
<text transform="translate(1391.5,2023.9) scale(0.955,1)" font-size="29.5" text-anchor="middle" fill="#231f20">11.0%</text>
<text transform="translate(1468.7,2023.9) scale(0.955,1)" font-size="29.5" text-anchor="middle" fill="#231f20">32</text>
<text transform="translate(1547.7,2023.9) scale(0.955,1)" font-size="29.5" text-anchor="middle" fill="#231f20">43.8%</text>
<text transform="translate(1624.8,2023.9) scale(0.955,1)" font-size="29.5" text-anchor="middle" fill="#231f20">33</text>
<text transform="translate(1707.4,2023.9) scale(0.955,1)" font-size="29.5" text-anchor="middle" fill="#231f20">45.2%</text>
<rect x="1253.7" y="1919.7" width="512.9" height="136.3" fill="none" stroke="#686868" stroke-width="1.7"/>
<text x="168.2" y="1971.3" font-size="32.5" text-anchor="end" fill="#231f20">M0</text>
<line x1="176.3" y1="1959.8" x2="186" y2="1959.8" stroke="#5e5e5e" stroke-width="3"/>
<text x="168.2" y="2026.7" font-size="32.5" text-anchor="end" fill="#231f20">M1</text>
<line x1="176.3" y1="2015.2" x2="186" y2="2015.2" stroke="#5e5e5e" stroke-width="3"/>
<rect x="1767.8" y="1920.5" width="59.9" height="134.7" fill="#d9d9d9" stroke="#686868" stroke-width="1.5"/>
<clipPath id="sc7"><rect x="1767.8" y="1921.2" width="59.9" height="133.3"/></clipPath>
<g clip-path="url(#sc7)"><text transform="translate(1786.2,1985) rotate(90) scale(0.885,1)" font-size="32" text-anchor="middle" fill="#1a1a1a">M staging</text></g>
<rect x="186" y="2075.3" width="516.9" height="231" fill="#ffffff"/>
<line x1="186" y1="2107.6" x2="702.9" y2="2107.6" stroke="#e6e6e6" stroke-width="2.8"/>
<line x1="186" y1="2163" x2="702.9" y2="2163" stroke="#e6e6e6" stroke-width="2.8"/>
<line x1="186" y1="2218" x2="702.9" y2="2218" stroke="#e6e6e6" stroke-width="2.8"/>
<line x1="186" y1="2273.5" x2="702.9" y2="2273.5" stroke="#e6e6e6" stroke-width="2.8"/>
<line x1="249.4" y1="2075.3" x2="249.4" y2="2306.3" stroke="#e6e6e6" stroke-width="2.8"/>
<line x1="405.7" y1="2075.3" x2="405.7" y2="2306.3" stroke="#e6e6e6" stroke-width="2.8"/>
<line x1="562" y1="2075.3" x2="562" y2="2306.3" stroke="#e6e6e6" stroke-width="2.8"/>
<circle cx="249.4" cy="2107.6" r="17.94" fill="#f4f4f4" stroke="#6a6a6a" stroke-width="2.3"/>
<circle cx="405.7" cy="2107.6" r="13.5" fill="#f4f4f4" stroke="#6a6a6a" stroke-width="2.3"/>
<circle cx="562" cy="2107.6" r="14.98" fill="#f4f4f4" stroke="#6a6a6a" stroke-width="2.3"/>
<text transform="translate(248.4,2116.3) scale(0.955,1)" font-size="29.5" text-anchor="middle" fill="#231f20">61</text>
<text transform="translate(327.4,2116.3) scale(0.955,1)" font-size="29.5" text-anchor="middle" fill="#231f20">49.6%</text>
<text transform="translate(404.7,2116.3) scale(0.955,1)" font-size="29.5" text-anchor="middle" fill="#231f20">26</text>
<text transform="translate(483.7,2116.3) scale(0.955,1)" font-size="29.5" text-anchor="middle" fill="#231f20">21.1%</text>
<text transform="translate(561,2116.3) scale(0.955,1)" font-size="29.5" text-anchor="middle" fill="#231f20">36</text>
<text transform="translate(643.3,2116.3) scale(0.955,1)" font-size="29.5" text-anchor="middle" fill="#231f20">29.3%</text>
<circle cx="249.4" cy="2163" r="26.99" fill="#f4f4f4" stroke="#6a6a6a" stroke-width="2.3"/>
<circle cx="405.7" cy="2163" r="22.55" fill="#f4f4f4" stroke="#6a6a6a" stroke-width="2.3"/>
<circle cx="562" cy="2163" r="22.55" fill="#f4f4f4" stroke="#6a6a6a" stroke-width="2.3"/>
<text transform="translate(248.4,2171.7) scale(0.955,1)" font-size="29.5" text-anchor="middle" fill="#231f20">178</text>
<text transform="translate(327.4,2171.7) scale(0.955,1)" font-size="29.5" text-anchor="middle" fill="#231f20">44.1%</text>
<text transform="translate(404.7,2171.7) scale(0.955,1)" font-size="29.5" text-anchor="middle" fill="#231f20">113</text>
<text transform="translate(483.7,2171.7) scale(0.955,1)" font-size="29.5" text-anchor="middle" fill="#231f20">28.0%</text>
<text transform="translate(561,2171.7) scale(0.955,1)" font-size="29.5" text-anchor="middle" fill="#231f20">113</text>
<text transform="translate(643.3,2171.7) scale(0.955,1)" font-size="29.5" text-anchor="middle" fill="#231f20">28.0%</text>
<circle cx="249.4" cy="2218" r="24.79" fill="#f4f4f4" stroke="#6a6a6a" stroke-width="2.3"/>
<circle cx="405.7" cy="2218" r="20.42" fill="#f4f4f4" stroke="#6a6a6a" stroke-width="2.3"/>
<circle cx="562" cy="2218" r="20.94" fill="#f4f4f4" stroke="#6a6a6a" stroke-width="2.3"/>
<text transform="translate(248.4,2226.7) scale(0.955,1)" font-size="29.5" text-anchor="middle" fill="#231f20">144</text>
<text transform="translate(327.4,2226.7) scale(0.955,1)" font-size="29.5" text-anchor="middle" fill="#231f20">44.4%</text>
<text transform="translate(404.7,2226.7) scale(0.955,1)" font-size="29.5" text-anchor="middle" fill="#231f20">87</text>
<text transform="translate(483.7,2226.7) scale(0.955,1)" font-size="29.5" text-anchor="middle" fill="#231f20">26.9%</text>
<text transform="translate(561,2226.7) scale(0.955,1)" font-size="29.5" text-anchor="middle" fill="#231f20">93</text>
<text transform="translate(643.3,2226.7) scale(0.955,1)" font-size="29.5" text-anchor="middle" fill="#231f20">28.7%</text>
<circle cx="249.4" cy="2273.5" r="13.66" fill="#f4f4f4" stroke="#6a6a6a" stroke-width="2.3"/>
<circle cx="405.7" cy="2273.5" r="14.7" fill="#f4f4f4" stroke="#6a6a6a" stroke-width="2.3"/>
<circle cx="562" cy="2273.5" r="13.34" fill="#f4f4f4" stroke="#6a6a6a" stroke-width="2.3"/>
<text transform="translate(248.4,2282.2) scale(0.955,1)" font-size="29.5" text-anchor="middle" fill="#231f20">27</text>
<text transform="translate(327.4,2282.2) scale(0.955,1)" font-size="29.5" text-anchor="middle" fill="#231f20">31.4%</text>
<text transform="translate(404.7,2282.2) scale(0.955,1)" font-size="29.5" text-anchor="middle" fill="#231f20">34</text>
<text transform="translate(483.7,2282.2) scale(0.955,1)" font-size="29.5" text-anchor="middle" fill="#231f20">39.5%</text>
<text transform="translate(561,2282.2) scale(0.955,1)" font-size="29.5" text-anchor="middle" fill="#231f20">25</text>
<text transform="translate(643.3,2282.2) scale(0.955,1)" font-size="29.5" text-anchor="middle" fill="#231f20">29.1%</text>
<rect x="186" y="2075.3" width="516.9" height="231" fill="none" stroke="#333333" stroke-width="1.7"/>
<rect x="724.9" y="2075.3" width="509.8" height="231" fill="#ffffff"/>
<line x1="724.9" y1="2107.6" x2="1234.7" y2="2107.6" stroke="#ebebeb" stroke-width="1.8"/>
<line x1="724.9" y1="2163" x2="1234.7" y2="2163" stroke="#ebebeb" stroke-width="1.8"/>
<line x1="724.9" y1="2218" x2="1234.7" y2="2218" stroke="#ebebeb" stroke-width="1.8"/>
<line x1="724.9" y1="2273.5" x2="1234.7" y2="2273.5" stroke="#ebebeb" stroke-width="1.8"/>
<line x1="785" y1="2075.3" x2="785" y2="2306.3" stroke="#ebebeb" stroke-width="1.8"/>
<line x1="941" y1="2075.3" x2="941" y2="2306.3" stroke="#ebebeb" stroke-width="1.8"/>
<line x1="1097.2" y1="2075.3" x2="1097.2" y2="2306.3" stroke="#ebebeb" stroke-width="1.8"/>
<circle cx="785" cy="2107.6" r="12.29" fill="#dd604e" stroke="#6a6a6a" stroke-width="1.5"/>
<circle cx="941" cy="2107.6" r="16.73" fill="#dd604e" stroke="#6a6a6a" stroke-width="1.5"/>
<circle cx="1097.2" cy="2107.6" r="7.47" fill="#dd604e" stroke="#6a6a6a" stroke-width="1.5"/>
<text transform="translate(784,2116.3) scale(0.955,1)" font-size="29.5" text-anchor="middle" fill="#231f20">19</text>
<text transform="translate(863,2116.3) scale(0.955,1)" font-size="29.5" text-anchor="middle" fill="#231f20">26.8%</text>
<text transform="translate(940,2116.3) scale(0.955,1)" font-size="29.5" text-anchor="middle" fill="#231f20">50</text>
<text transform="translate(1019,2116.3) scale(0.955,1)" font-size="29.5" text-anchor="middle" fill="#231f20">70.4%</text>
<text transform="translate(1096.2,2116.3) scale(0.955,1)" font-size="29.5" text-anchor="middle" fill="#231f20">2</text>
<text transform="translate(1173.2,2116.3) scale(0.955,1)" font-size="29.5" text-anchor="middle" fill="#231f20">2.8%</text>
<circle cx="785" cy="2163" r="13.82" fill="#dd604e" stroke="#6a6a6a" stroke-width="1.5"/>
<circle cx="941" cy="2163" r="25.26" fill="#dd604e" stroke="#6a6a6a" stroke-width="1.5"/>
<circle cx="1097.2" cy="2163" r="11.5" fill="#dd604e" stroke="#6a6a6a" stroke-width="1.5"/>
<text transform="translate(784,2171.7) scale(0.955,1)" font-size="29.5" text-anchor="middle" fill="#231f20">28</text>
<text transform="translate(863,2171.7) scale(0.955,1)" font-size="29.5" text-anchor="middle" fill="#231f20">14.4%</text>
<text transform="translate(940,2171.7) scale(0.955,1)" font-size="29.5" text-anchor="middle" fill="#231f20">151</text>
<text transform="translate(1019,2171.7) scale(0.955,1)" font-size="29.5" text-anchor="middle" fill="#231f20">77.8%</text>
<text transform="translate(1096.2,2171.7) scale(0.955,1)" font-size="29.5" text-anchor="middle" fill="#231f20">15</text>
<text transform="translate(1173.2,2171.7) scale(0.955,1)" font-size="29.5" text-anchor="middle" fill="#231f20">7.7%</text>
<circle cx="785" cy="2218" r="11.7" fill="#dd604e" stroke="#6a6a6a" stroke-width="1.5"/>
<circle cx="941" cy="2218" r="21.92" fill="#dd604e" stroke="#6a6a6a" stroke-width="1.5"/>
<circle cx="1097.2" cy="2218" r="12.83" fill="#dd604e" stroke="#6a6a6a" stroke-width="1.5"/>
<text transform="translate(784,2226.7) scale(0.955,1)" font-size="29.5" text-anchor="middle" fill="#231f20">16</text>
<text transform="translate(863,2226.7) scale(0.955,1)" font-size="29.5" text-anchor="middle" fill="#231f20">11.2%</text>
<text transform="translate(940,2226.7) scale(0.955,1)" font-size="29.5" text-anchor="middle" fill="#231f20">105</text>
<text transform="translate(1019,2226.7) scale(0.955,1)" font-size="29.5" text-anchor="middle" fill="#231f20">73.4%</text>
<text transform="translate(1096.2,2226.7) scale(0.955,1)" font-size="29.5" text-anchor="middle" fill="#231f20">22</text>
<text transform="translate(1173.2,2226.7) scale(0.955,1)" font-size="29.5" text-anchor="middle" fill="#231f20">15.4%</text>
<circle cx="785" cy="2273.5" r="11.7" fill="#dd604e" stroke="#6a6a6a" stroke-width="1.5"/>
<circle cx="941" cy="2273.5" r="16.13" fill="#dd604e" stroke="#6a6a6a" stroke-width="1.5"/>
<circle cx="1097.2" cy="2273.5" r="11.28" fill="#dd604e" stroke="#6a6a6a" stroke-width="1.5"/>
<text transform="translate(784,2282.2) scale(0.955,1)" font-size="29.5" text-anchor="middle" fill="#231f20">16</text>
<text transform="translate(863,2282.2) scale(0.955,1)" font-size="29.5" text-anchor="middle" fill="#231f20">21.3%</text>
<text transform="translate(940,2282.2) scale(0.955,1)" font-size="29.5" text-anchor="middle" fill="#231f20">45</text>
<text transform="translate(1019,2282.2) scale(0.955,1)" font-size="29.5" text-anchor="middle" fill="#231f20">60.0%</text>
<text transform="translate(1096.2,2282.2) scale(0.955,1)" font-size="29.5" text-anchor="middle" fill="#231f20">14</text>
<text transform="translate(1173.2,2282.2) scale(0.955,1)" font-size="29.5" text-anchor="middle" fill="#231f20">18.7%</text>
<rect x="724.9" y="2075.3" width="509.8" height="231" fill="none" stroke="#686868" stroke-width="1.7"/>
<rect x="1253.7" y="2075.3" width="512.9" height="231" fill="#ffffff"/>
<line x1="1253.7" y1="2107.6" x2="1766.6" y2="2107.6" stroke="#ebebeb" stroke-width="1.8"/>
<line x1="1253.7" y1="2163" x2="1766.6" y2="2163" stroke="#ebebeb" stroke-width="1.8"/>
<line x1="1253.7" y1="2218" x2="1766.6" y2="2218" stroke="#ebebeb" stroke-width="1.8"/>
<line x1="1253.7" y1="2273.5" x2="1766.6" y2="2273.5" stroke="#ebebeb" stroke-width="1.8"/>
<line x1="1313.5" y1="2075.3" x2="1313.5" y2="2306.3" stroke="#ebebeb" stroke-width="1.8"/>
<line x1="1469.7" y1="2075.3" x2="1469.7" y2="2306.3" stroke="#ebebeb" stroke-width="1.8"/>
<line x1="1625.8" y1="2075.3" x2="1625.8" y2="2306.3" stroke="#ebebeb" stroke-width="1.8"/>
<circle cx="1313.5" cy="2107.6" r="12.1" fill="#e8846f" stroke="#6a6a6a" stroke-width="1.5"/>
<circle cx="1469.7" cy="2107.6" r="13.97" fill="#e8846f" stroke="#6a6a6a" stroke-width="1.5"/>
<circle cx="1625.8" cy="2107.6" r="13.17" fill="#e8846f" stroke="#6a6a6a" stroke-width="1.5"/>
<text transform="translate(1312.5,2116.3) scale(0.955,1)" font-size="29.5" text-anchor="middle" fill="#231f20">18</text>
<text transform="translate(1391.5,2116.3) scale(0.955,1)" font-size="29.5" text-anchor="middle" fill="#231f20">25.4%</text>
<text transform="translate(1468.7,2116.3) scale(0.955,1)" font-size="29.5" text-anchor="middle" fill="#231f20">29</text>
<text transform="translate(1547.7,2116.3) scale(0.955,1)" font-size="29.5" text-anchor="middle" fill="#231f20">40.8%</text>
<text transform="translate(1624.8,2116.3) scale(0.955,1)" font-size="29.5" text-anchor="middle" fill="#231f20">24</text>
<text transform="translate(1707.4,2116.3) scale(0.955,1)" font-size="29.5" text-anchor="middle" fill="#231f20">33.8%</text>
<circle cx="1313.5" cy="2163" r="13.66" fill="#e8846f" stroke="#6a6a6a" stroke-width="1.5"/>
<circle cx="1469.7" cy="2163" r="17.07" fill="#e8846f" stroke="#6a6a6a" stroke-width="1.5"/>
<circle cx="1625.8" cy="2163" r="22.7" fill="#e8846f" stroke="#6a6a6a" stroke-width="1.5"/>
<text transform="translate(1312.5,2171.7) scale(0.955,1)" font-size="29.5" text-anchor="middle" fill="#231f20">27</text>
<text transform="translate(1391.5,2171.7) scale(0.955,1)" font-size="29.5" text-anchor="middle" fill="#231f20">13.8%</text>
<text transform="translate(1468.7,2171.7) scale(0.955,1)" font-size="29.5" text-anchor="middle" fill="#231f20">53</text>
<text transform="translate(1547.7,2171.7) scale(0.955,1)" font-size="29.5" text-anchor="middle" fill="#231f20">27.2%</text>
<text transform="translate(1624.8,2171.7) scale(0.955,1)" font-size="29.5" text-anchor="middle" fill="#231f20">115</text>
<text transform="translate(1707.4,2171.7) scale(0.955,1)" font-size="29.5" text-anchor="middle" fill="#231f20">59.0%</text>
<circle cx="1313.5" cy="2218" r="11.91" fill="#e8846f" stroke="#6a6a6a" stroke-width="1.5"/>
<circle cx="1469.7" cy="2218" r="17.07" fill="#e8846f" stroke="#6a6a6a" stroke-width="1.5"/>
<circle cx="1625.8" cy="2218" r="19.14" fill="#e8846f" stroke="#6a6a6a" stroke-width="1.5"/>
<text transform="translate(1312.5,2226.7) scale(0.955,1)" font-size="29.5" text-anchor="middle" fill="#231f20">17</text>
<text transform="translate(1391.5,2226.7) scale(0.955,1)" font-size="29.5" text-anchor="middle" fill="#231f20">11.9%</text>
<text transform="translate(1468.7,2226.7) scale(0.955,1)" font-size="29.5" text-anchor="middle" fill="#231f20">53</text>
<text transform="translate(1547.7,2226.7) scale(0.955,1)" font-size="29.5" text-anchor="middle" fill="#231f20">37.1%</text>
<text transform="translate(1624.8,2226.7) scale(0.955,1)" font-size="29.5" text-anchor="middle" fill="#231f20">73</text>
<text transform="translate(1707.4,2226.7) scale(0.955,1)" font-size="29.5" text-anchor="middle" fill="#231f20">51.0%</text>
<circle cx="1313.5" cy="2273.5" r="9.79" fill="#e8846f" stroke="#6a6a6a" stroke-width="1.5"/>
<circle cx="1469.7" cy="2273.5" r="14.56" fill="#e8846f" stroke="#6a6a6a" stroke-width="1.5"/>
<circle cx="1625.8" cy="2273.5" r="14.56" fill="#e8846f" stroke="#6a6a6a" stroke-width="1.5"/>
<text transform="translate(1312.5,2282.2) scale(0.955,1)" font-size="29.5" text-anchor="middle" fill="#231f20">8</text>
<text transform="translate(1391.5,2282.2) scale(0.955,1)" font-size="29.5" text-anchor="middle" fill="#231f20">10.8%</text>
<text transform="translate(1468.7,2282.2) scale(0.955,1)" font-size="29.5" text-anchor="middle" fill="#231f20">33</text>
<text transform="translate(1547.7,2282.2) scale(0.955,1)" font-size="29.5" text-anchor="middle" fill="#231f20">44.6%</text>
<text transform="translate(1624.8,2282.2) scale(0.955,1)" font-size="29.5" text-anchor="middle" fill="#231f20">33</text>
<text transform="translate(1707.4,2282.2) scale(0.955,1)" font-size="29.5" text-anchor="middle" fill="#231f20">44.6%</text>
<rect x="1253.7" y="2075.3" width="512.9" height="231" fill="none" stroke="#686868" stroke-width="1.7"/>
<text x="168.2" y="2119.1" font-size="32.5" text-anchor="end" fill="#231f20">I</text>
<line x1="176.3" y1="2107.6" x2="186" y2="2107.6" stroke="#5e5e5e" stroke-width="3"/>
<text x="168.2" y="2174.5" font-size="32.5" text-anchor="end" fill="#231f20">II</text>
<line x1="176.3" y1="2163" x2="186" y2="2163" stroke="#5e5e5e" stroke-width="3"/>
<text x="168.2" y="2229.5" font-size="32.5" text-anchor="end" fill="#231f20">III</text>
<line x1="176.3" y1="2218" x2="186" y2="2218" stroke="#5e5e5e" stroke-width="3"/>
<text x="168.2" y="2285" font-size="32.5" text-anchor="end" fill="#231f20">IV</text>
<line x1="176.3" y1="2273.5" x2="186" y2="2273.5" stroke="#5e5e5e" stroke-width="3"/>
<rect x="1767.8" y="2076.1" width="59.9" height="229.4" fill="#d9d9d9" stroke="#686868" stroke-width="1.5"/>
<clipPath id="sc8"><rect x="1767.8" y="2076.8" width="59.9" height="228"/></clipPath>
<g clip-path="url(#sc8)"><text transform="translate(1786.2,2190.3) rotate(90) scale(0.885,1)" font-size="32" text-anchor="middle" fill="#1a1a1a">TNM staging</text></g>
<line x1="249.4" y1="2306.3" x2="249.4" y2="2315" stroke="#5e5e5e" stroke-width="3"/>
<text x="249.4" y="2348" font-size="32.5" text-anchor="middle" fill="#231f20">Neg</text>
<line x1="405.7" y1="2306.3" x2="405.7" y2="2315" stroke="#5e5e5e" stroke-width="3"/>
<text x="405.7" y="2348" font-size="32.5" text-anchor="middle" fill="#231f20">Weak</text>
<line x1="562" y1="2306.3" x2="562" y2="2315" stroke="#5e5e5e" stroke-width="3"/>
<text x="562" y="2348" font-size="32.5" text-anchor="middle" fill="#231f20">Strong</text>
<line x1="785" y1="2306.3" x2="785" y2="2315" stroke="#5e5e5e" stroke-width="3"/>
<text x="785" y="2348" font-size="32.5" text-anchor="middle" fill="#231f20">Neg</text>
<line x1="941" y1="2306.3" x2="941" y2="2315" stroke="#5e5e5e" stroke-width="3"/>
<text x="941" y="2348" font-size="32.5" text-anchor="middle" fill="#231f20">Weak</text>
<line x1="1097.2" y1="2306.3" x2="1097.2" y2="2315" stroke="#5e5e5e" stroke-width="3"/>
<text x="1097.2" y="2348" font-size="32.5" text-anchor="middle" fill="#231f20">Strong</text>
<line x1="1313.5" y1="2306.3" x2="1313.5" y2="2315" stroke="#5e5e5e" stroke-width="3"/>
<text x="1313.5" y="2348" font-size="32.5" text-anchor="middle" fill="#231f20">Neg</text>
<line x1="1469.7" y1="2306.3" x2="1469.7" y2="2315" stroke="#5e5e5e" stroke-width="3"/>
<text x="1469.7" y="2348" font-size="32.5" text-anchor="middle" fill="#231f20">Weak</text>
<line x1="1625.8" y1="2306.3" x2="1625.8" y2="2315" stroke="#5e5e5e" stroke-width="3"/>
<text x="1625.8" y="2348" font-size="32.5" text-anchor="middle" fill="#231f20">Strong</text>
<text x="1861" y="1077.4" font-size="32.5" fill="#000">−log10</text>
<text x="1861" y="1115.8" font-size="32.5" fill="#000">(<tspan font-style="italic">P</tspan> value)</text>
<defs><linearGradient id="cbar" x1="0" y1="0" x2="0" y2="1"><stop offset="0" stop-color="#cc2a2a"/><stop offset="0.12" stop-color="#dd5747"/><stop offset="0.25" stop-color="#e8806c"/><stop offset="0.38" stop-color="#f0a08f"/><stop offset="0.5" stop-color="#f4bcb0"/><stop offset="0.62" stop-color="#f5d9d2"/><stop offset="0.75" stop-color="#f4f2f3"/><stop offset="0.88" stop-color="#d9e0f4"/><stop offset="1" stop-color="#bccbf3"/></linearGradient></defs>
<rect x="1876.1" y="1143.3" width="56.3" height="280.2" fill="url(#cbar)"/>
<line x1="1876.1" y1="1353.45" x2="1887.1" y2="1353.45" stroke="#fff" stroke-width="1.4"/>
<line x1="1921.4" y1="1353.45" x2="1932.4" y2="1353.45" stroke="#fff" stroke-width="1.4"/>
<line x1="1876.1" y1="1283.4" x2="1887.1" y2="1283.4" stroke="#fff" stroke-width="1.4"/>
<line x1="1921.4" y1="1283.4" x2="1932.4" y2="1283.4" stroke="#fff" stroke-width="1.4"/>
<line x1="1876.1" y1="1213.35" x2="1887.1" y2="1213.35" stroke="#fff" stroke-width="1.4"/>
<line x1="1921.4" y1="1213.35" x2="1932.4" y2="1213.35" stroke="#fff" stroke-width="1.4"/>
<text x="1943" y="1434.5" font-size="32.5" fill="#000">0</text>
<text x="1943" y="1364.45" font-size="32.5" fill="#000">1</text>
<text x="1943" y="1294.4" font-size="32.5" fill="#000">2</text>
<text x="1943" y="1224.35" font-size="32.5" fill="#000">3</text>
<text x="1943" y="1154.3" font-size="32.5" fill="#000">4</text>
<text x="1866" y="1526.6" font-size="32.5" fill="#000">Samples</text>
<circle cx="1909.9" cy="1589.5" r="31.6" fill="none" stroke="#666" stroke-width="1.6"/>
<text x="1944.5" y="1600.5" font-size="32.5" fill="#000">300</text>
<circle cx="1909.9" cy="1664.7" r="26.5" fill="none" stroke="#666" stroke-width="1.6"/>
<text x="1944.5" y="1675.7" font-size="32.5" fill="#000">200</text>
<circle cx="1909.9" cy="1726.8" r="20.3" fill="none" stroke="#666" stroke-width="1.6"/>
<text x="1944.5" y="1737.8" font-size="32.5" fill="#000">100</text>
<circle cx="1909.9" cy="1782.9" r="4.6" fill="none" stroke="#666" stroke-width="1.6"/>
<text x="1944.5" y="1793.9" font-size="32.5" fill="#000">0</text>
</svg>
</body></html>
